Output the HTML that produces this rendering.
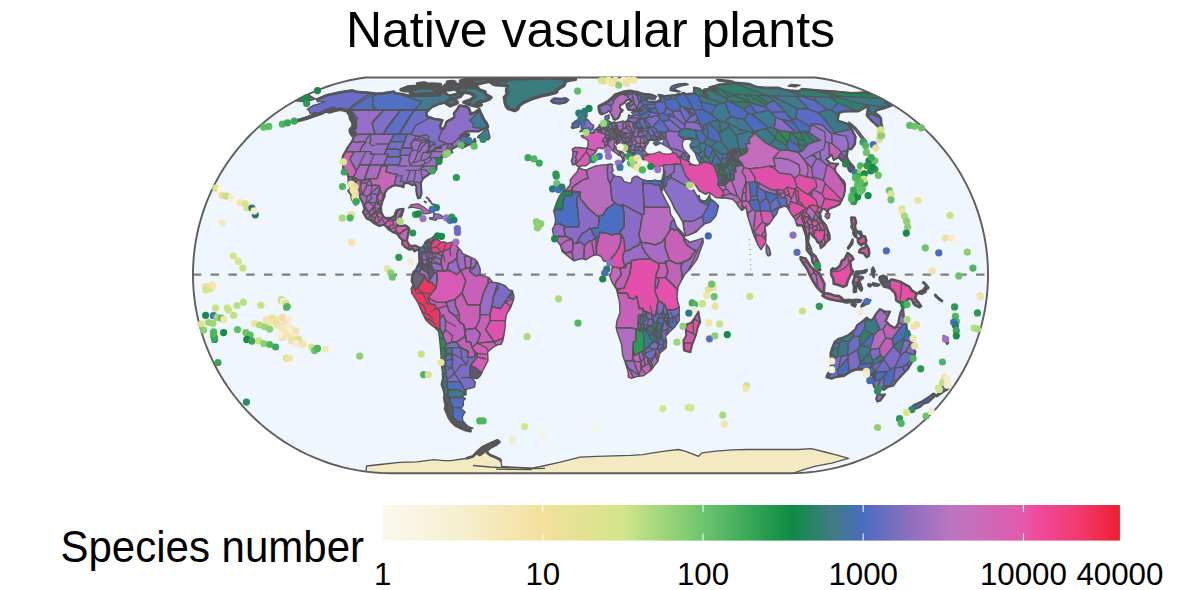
<!DOCTYPE html>
<html><head><meta charset="utf-8"><style>
html,body{margin:0;padding:0;background:#fff;}
body{width:1181px;height:590px;overflow:hidden;position:relative;font-family:"Liberation Sans",sans-serif;}
.t{position:absolute;white-space:nowrap;color:#000;}
</style></head><body>
<svg width="1181" height="590" viewBox="0 0 1181 590" style="position:absolute;left:0;top:0"><defs><clipPath id="mc"><path d="M391.74,473.32 L382.90,473.13 L374.33,472.56 L365.99,471.65 L357.90,470.42 L350.03,468.90 L342.39,467.10 L334.96,465.04 L327.75,462.74 L320.74,460.21 L313.93,457.46 L307.33,454.51 L300.92,451.36 L294.71,448.03 L288.69,444.52 L282.86,440.85 L277.22,437.01 L271.76,433.03 L266.50,428.90 L261.42,424.64 L256.52,420.24 L251.81,415.73 L247.29,411.09 L242.94,406.34 L238.78,401.49 L234.80,396.53 L231.00,391.48 L227.39,386.34 L223.95,381.12 L220.70,375.81 L217.62,370.43 L214.73,364.98 L212.02,359.46 L209.49,353.88 L207.13,348.24 L204.96,342.55 L202.97,336.81 L201.16,331.03 L199.53,325.20 L198.09,319.35 L196.82,313.46 L195.73,307.54 L194.82,301.60 L194.10,295.65 L193.55,289.68 L193.18,283.69 L193.00,277.70 L192.99,271.71 L193.17,265.73 L193.53,259.74 L194.06,253.77 L194.78,247.81 L195.68,241.87 L196.76,235.96 L198.02,230.07 L199.46,224.21 L201.08,218.38 L202.88,212.60 L204.86,206.86 L207.02,201.16 L209.36,195.52 L211.89,189.94 L214.59,184.42 L217.47,178.96 L220.54,173.58 L223.78,168.27 L227.21,163.04 L230.82,157.89 L234.61,152.84 L238.58,147.88 L242.73,143.02 L247.07,138.26 L251.58,133.62 L256.28,129.10 L261.17,124.70 L266.24,120.43 L271.50,116.29 L276.94,112.30 L282.57,108.46 L288.39,104.78 L294.40,101.26 L300.60,97.92 L307.00,94.76 L313.60,91.80 L320.39,89.04 L327.39,86.50 L334.60,84.19 L342.01,82.12 L349.65,80.30 L357.50,78.77 L365.58,77.53 L815.42,77.53 L823.50,78.77 L831.35,80.30 L838.99,82.12 L846.40,84.19 L853.61,86.50 L860.61,89.04 L867.40,91.80 L874.00,94.76 L880.40,97.92 L886.60,101.26 L892.61,104.78 L898.43,108.46 L904.06,112.30 L909.50,116.29 L914.76,120.43 L919.83,124.70 L924.72,129.10 L929.42,133.62 L933.93,138.26 L938.27,143.02 L942.42,147.88 L946.39,152.84 L950.18,157.89 L953.79,163.04 L957.22,168.27 L960.46,173.58 L963.53,178.96 L966.41,184.42 L969.11,189.94 L971.64,195.52 L973.98,201.16 L976.14,206.86 L978.12,212.60 L979.92,218.38 L981.54,224.21 L982.98,230.07 L984.24,235.96 L985.32,241.87 L986.22,247.81 L986.94,253.77 L987.47,259.74 L987.83,265.73 L988.01,271.71 L988.00,277.70 L987.82,283.69 L987.45,289.68 L986.90,295.65 L986.18,301.60 L985.27,307.54 L984.18,313.46 L982.91,319.35 L981.47,325.20 L979.84,331.03 L978.03,336.81 L976.04,342.55 L973.87,348.24 L971.51,353.88 L968.98,359.46 L966.27,364.98 L963.38,370.43 L960.30,375.81 L957.05,381.12 L953.61,386.34 L950.00,391.48 L946.20,396.53 L942.22,401.49 L938.06,406.34 L933.71,411.09 L929.19,415.73 L924.48,420.24 L919.58,424.64 L914.50,428.90 L909.24,433.03 L903.78,437.01 L898.14,440.85 L892.31,444.52 L886.29,448.03 L880.08,451.36 L873.67,454.51 L867.07,457.46 L860.26,460.21 L853.25,462.74 L846.04,465.04 L838.61,467.10 L830.97,468.90 L823.10,470.42 L815.01,471.65 L806.67,472.56 L798.10,473.13 L789.26,473.32Z"/></clipPath><clipPath id="lc"><path d="M316.5,99.8 L326.8,95.3 L337.4,92.9 L346.6,91.4 L352.3,90.6 L356.5,91.9 L362.1,92.2 L371.3,93.1 L376.2,93.9 L383.2,93.4 L393.7,91.7 L395.7,93.4 L402.3,94.2 L409.6,95.8 L419.5,95.4 L428.7,95.8 L435.9,95.0 L446.1,90.4 L445.6,93.4 L449.3,95.8 L457.7,93.7 L463.5,93.4 L460.8,96.6 L455.4,98.6 L451.7,98.2 L444.6,102.6 L439.0,103.9 L431.5,107.3 L426.2,112.6 L426.9,116.3 L433.8,118.9 L442.4,120.2 L440.1,126.2 L440.9,128.9 L444.1,128.4 L446.6,121.7 L454.3,117.4 L453.9,113.2 L457.4,109.2 L459.2,105.6 L465.3,106.3 L468.6,107.9 L470.0,111.2 L470.4,114.0 L475.6,112.2 L479.3,109.4 L480.3,112.2 L482.0,115.3 L483.7,119.5 L486.4,122.8 L488.0,126.8 L483.9,128.7 L478.3,131.5 L472.7,131.2 L466.3,131.5 L463.4,133.6 L460.4,135.5 L468.0,133.8 L469.2,134.8 L467.0,136.7 L466.6,139.1 L467.5,141.1 L470.0,142.1 L473.0,141.8 L474.8,139.1 L475.4,141.6 L472.6,143.3 L467.1,145.3 L462.1,147.8 L462.1,145.3 L466.0,143.3 L461.8,143.5 L459.3,145.3 L456.0,146.6 L452.0,148.8 L451.0,150.6 L452.4,152.4 L450.1,152.9 L446.7,154.2 L443.4,155.3 L441.9,158.4 L440.3,159.8 L439.4,161.4 L436.9,164.6 L436.4,166.2 L436.3,169.7 L433.8,171.4 L430.2,173.6 L425.5,176.6 L422.9,178.6 L420.8,183.1 L421.2,188.8 L421.5,193.7 L420.0,197.8 L418.2,198.3 L416.9,194.3 L416.3,190.2 L416.6,186.8 L414.7,184.2 L412.2,185.1 L408.7,183.1 L406.0,183.1 L403.6,183.7 L403.6,187.1 L401.0,186.2 L398.0,185.7 L395.1,185.1 L392.0,186.2 L387.0,189.4 L384.9,192.8 L384.6,196.0 L382.3,201.6 L381.0,206.9 L381.3,211.9 L383.0,215.8 L385.4,218.2 L391.6,217.6 L394.5,215.8 L396.1,211.0 L398.3,209.5 L403.5,208.9 L402.8,211.9 L400.6,217.9 L399.3,220.9 L397.8,225.7 L400.2,226.0 L405.7,225.4 L409.3,228.4 L408.0,234.5 L407.0,240.6 L408.3,243.7 L410.8,246.1 L415.0,245.5 L420.3,248.0 L419.3,251.4 L418.1,249.2 L414.4,251.4 L413.4,249.2 L409.0,249.5 L404.8,246.8 L402.3,244.3 L402.4,240.3 L399.0,236.6 L397.1,233.6 L392.9,232.1 L389.3,229.9 L385.0,225.4 L382.9,224.8 L379.5,226.0 L373.7,223.0 L370.0,220.0 L366.6,218.5 L365.3,216.1 L363.0,212.2 L364.5,208.9 L363.2,203.9 L361.2,199.8 L359.1,196.3 L358.3,192.8 L356.6,189.9 L355.3,185.4 L354.7,180.6 L352.6,179.4 L351.4,183.7 L353.6,187.9 L354.1,192.8 L355.0,197.2 L356.3,200.7 L355.5,204.8 L353.9,201.6 L351.9,199.5 L350.9,194.3 L348.3,190.8 L351.0,188.2 L348.6,183.4 L348.5,177.2 L347.2,173.9 L346.5,173.0 L343.5,171.9 L343.3,168.4 L343.2,165.9 L343.4,162.7 L342.4,159.8 L343.0,155.8 L345.4,151.7 L347.4,148.1 L352.1,141.1 L354.3,135.7 L353.2,134.3 L351.7,131.9 L351.4,130.1 L354.2,127.3 L354.1,122.1 L351.8,118.4 L350.9,113.8 L348.4,111.2 L344.0,110.0 L340.2,109.2 L335.2,110.2 L328.9,111.8 L327.4,111.2 L333.7,108.2 L326.1,110.6 L321.1,113.2 L315.2,115.3 L307.9,117.8 L300.1,120.0 L292.4,121.5 L298.8,119.5 L305.3,117.4 L314.5,113.6 L316.4,112.8 L309.8,113.2 L309.4,110.8 L307.2,109.2 L313.2,105.4 L320.5,103.5 L324.9,101.7 L317.7,101.7 L316.5,99.8ZM548.9,77.8 L539.5,78.2 L526.2,78.5 L512.3,79.0 L502.6,80.1 L497.7,81.4 L490.4,82.1 L492.0,82.9 L493.0,84.0 L495.3,84.7 L504.1,85.2 L507.3,86.4 L506.7,88.6 L506.6,91.9 L507.6,93.9 L506.1,95.4 L504.3,97.4 L504.8,100.0 L505.0,102.3 L506.4,106.3 L508.3,108.6 L514.6,110.6 L517.5,109.2 L519.4,105.4 L523.3,102.6 L529.2,99.8 L534.0,98.2 L541.3,95.8 L548.0,94.6 L554.8,92.9 L556.6,91.9 L557.3,89.7 L560.1,87.7 L563.7,85.8 L564.9,83.5 L564.6,81.4 L570.5,80.1 L575.4,79.3 L564.6,78.7 L558.6,78.2 L548.9,77.8ZM472.4,87.4 L477.8,87.8 L478.7,89.7 L485.0,91.9 L485.4,94.2 L491.0,97.4 L489.1,99.1 L484.7,100.8 L480.0,101.7 L476.6,103.2 L481.4,104.8 L477.9,106.5 L472.6,105.4 L468.4,104.1 L463.9,102.1 L470.1,100.1 L472.7,98.2 L474.8,96.6 L473.8,95.0 L470.5,93.4 L466.6,92.6 L458.1,91.9 L456.7,90.4 L457.8,88.4 L463.7,87.3 L472.4,87.4ZM432.1,94.2 L426.9,93.4 L417.2,94.8 L410.8,93.7 L410.0,91.2 L411.9,89.0 L421.5,87.8 L432.5,88.4 L435.4,90.4 L435.6,92.6ZM402.8,90.4 L401.0,89.7 L407.4,87.0 L413.8,86.4 L418.9,86.8 L414.9,89.0 L407.6,90.7ZM476.7,84.3 L462.8,84.0 L468.5,82.4 L472.7,81.0 L470.3,79.7 L479.2,78.7 L498.9,78.1 L510.7,78.5 L506.4,79.4 L496.5,80.5 L488.6,81.1 L487.3,81.9 L483.4,82.6 L479.2,83.5ZM473.7,86.4 L456.3,86.3 L452.3,85.2 L460.2,83.9 L473.8,84.3 L476.2,85.1ZM466.3,82.1 L460.5,81.0 L464.6,79.8 L472.0,79.5 L474.3,80.5 L471.7,81.8ZM437.4,86.3 L423.3,86.0 L420.6,85.2 L431.4,84.1 L440.4,84.6ZM449.9,85.8 L445.1,85.2 L448.4,84.1 L452.3,84.4ZM421.8,84.6 L417.5,83.7 L424.2,82.9 L426.7,83.7ZM444.0,89.7 L437.0,90.4 L437.0,88.4 L443.5,87.0 L448.4,87.7ZM450.0,89.7 L447.0,89.7 L450.4,87.3 L456.7,87.0 L454.0,89.0ZM450.7,82.9 L447.4,81.9 L452.6,81.4 L455.0,82.2ZM457.2,103.0 L450.0,105.9 L445.6,103.0 L449.3,100.0 L454.2,99.1 L456.9,101.7ZM438.9,95.1 L434.5,94.8 L437.5,92.9 L441.1,93.2ZM477.5,137.6 L488.4,139.8 L490.1,137.6 L489.0,133.1 L487.7,128.2 L484.1,130.8 L480.5,134.3 L478.6,135.5ZM408.4,208.0 L410.9,204.8 L415.3,204.2 L418.5,203.9 L424.4,207.4 L428.2,210.4 L430.9,212.8 L427.3,213.7 L423.0,214.0 L422.7,211.3 L419.9,208.6 L415.7,208.0 L412.6,207.1ZM433.6,213.7 L439.5,214.3 L442.7,216.4 L442.1,218.5 L436.8,218.8 L435.8,220.3 L429.5,218.8 L429.9,217.6 L433.5,217.6 L433.7,214.6ZM421.2,217.9 L425.5,217.9 L425.5,219.7 L422.0,219.7ZM445.2,217.9 L448.6,218.2 L447.8,219.5 L445.0,219.4ZM356.4,136.0 L356.4,133.1 L354.4,130.8 L351.4,130.1 L351.1,131.9 L353.2,134.3 L354.8,135.5ZM420.3,248.0 L423.6,245.5 L424.9,242.5 L426.5,240.6 L428.1,239.7 L431.7,238.2 L433.6,236.3 L434.3,239.1 L433.7,241.2 L436.5,238.8 L437.1,237.0 L437.6,239.4 L441.3,242.2 L443.8,241.8 L447.8,243.4 L452.3,241.8 L454.5,241.5 L454.8,243.7 L458.6,248.0 L461.7,251.4 L462.3,253.5 L468.8,256.3 L475.2,259.4 L477.5,262.2 L480.1,268.4 L480.1,274.6 L483.4,276.1 L488.9,277.7 L492.7,282.3 L498.9,283.2 L505.5,286.0 L508.9,290.0 L512.4,290.7 L513.9,296.5 L513.7,299.3 L510.9,307.0 L506.3,314.6 L505.5,320.7 L504.8,329.7 L503.7,336.6 L502.6,341.7 L500.7,344.6 L498.2,344.6 L493.5,347.0 L487.6,351.9 L488.0,360.6 L485.7,364.9 L482.8,370.5 L480.7,375.3 L478.0,378.3 L475.6,378.6 L472.1,377.5 L470.9,377.7 L473.8,380.2 L475.3,382.4 L474.6,387.0 L466.1,389.4 L466.0,394.9 L461.7,395.4 L463.7,397.5 L465.4,398.8 L463.3,400.8 L463.4,405.1 L461.0,408.8 L465.1,412.0 L463.0,415.5 L462.3,417.4 L462.8,420.9 L464.6,422.7 L465.4,424.1 L468.2,426.3 L472.9,428.3 L470.7,428.7 L468.4,429.6 L470.2,430.7 L464.7,429.4 L460.2,427.4 L455.3,424.8 L452.1,421.8 L449.1,417.2 L447.1,412.4 L445.5,408.8 L446.2,405.1 L445.0,400.0 L444.5,396.2 L444.0,391.7 L441.5,384.3 L442.9,378.8 L442.6,373.3 L441.4,364.9 L441.1,356.3 L440.3,346.4 L439.2,335.7 L438.5,331.3 L435.8,328.5 L430.3,324.3 L426.0,320.1 L423.3,314.6 L421.7,311.6 L417.8,302.4 L411.8,293.1 L411.2,288.8 L413.3,283.8 L411.9,281.4 L412.1,277.7 L413.6,272.1 L416.1,269.9 L417.4,266.8 L419.7,262.2 L419.2,252.9 L419.3,251.4ZM578.5,168.1 L584.4,169.7 L586.4,170.0 L590.5,168.1 L595.6,165.9 L600.6,165.1 L606.7,164.8 L610.3,164.0 L612.8,164.6 L612.1,167.6 L613.2,170.3 L611.3,173.3 L613.1,174.4 L615.3,176.1 L617.7,176.4 L621.9,177.5 L623.8,181.4 L629.3,183.1 L631.3,182.8 L632.0,180.0 L632.1,178.3 L635.1,176.4 L637.1,176.1 L640.2,178.3 L642.6,179.7 L647.0,180.6 L652.6,180.8 L654.8,180.0 L657.6,180.8 L661.6,180.8 L663.5,185.7 L662.5,190.5 L658.6,184.5 L661.8,192.2 L666.4,201.6 L669.6,207.4 L670.7,214.6 L674.1,219.4 L676.4,226.6 L684.1,234.5 L684.9,238.8 L688.1,240.6 L689.2,242.5 L698.3,239.7 L702.8,238.2 L703.3,242.5 L700.5,249.8 L697.2,259.1 L690.5,268.4 L684.6,274.6 L680.8,281.7 L678.1,286.9 L677.0,295.6 L677.4,300.8 L679.3,307.0 L679.2,320.7 L675.1,326.7 L669.4,332.1 L665.5,336.3 L666.6,341.7 L666.2,347.6 L659.8,353.1 L657.8,361.5 L655.2,364.6 L650.8,370.5 L643.1,375.8 L637.7,376.4 L631.4,378.3 L628.4,377.2 L628.3,375.8 L628.1,371.9 L625.1,362.0 L622.6,355.1 L621.5,344.3 L617.5,332.7 L616.1,327.6 L616.8,321.3 L620.0,312.8 L619.5,301.7 L617.4,293.1 L616.5,289.4 L612.1,282.3 L609.9,276.7 L611.5,271.5 L612.4,265.6 L611.5,262.5 L609.2,260.6 L604.8,261.3 L603.7,261.3 L601.3,256.6 L598.0,254.8 L593.8,255.1 L590.1,257.2 L586.1,259.7 L581.7,258.5 L574.0,260.9 L566.7,255.1 L562.1,251.4 L561.3,248.3 L560.4,245.2 L556.5,240.6 L553.7,236.0 L552.4,229.3 L554.6,225.4 L555.6,220.9 L554.9,215.2 L553.7,211.0 L556.6,202.4 L559.8,195.7 L563.3,190.8 L567.0,188.5 L569.6,185.7 L570.5,183.1 L570.2,180.0 L574.9,174.1 L577.0,172.2 L578.5,168.1ZM698.4,311.6 L700.2,322.2 L697.9,326.7 L695.7,335.7 L692.2,344.6 L690.4,352.2 L684.0,350.5 L683.6,345.8 L683.4,340.2 L686.2,335.7 L685.8,329.7 L687.0,324.3 L691.2,322.8 L695.3,317.0 L697.9,312.5ZM579.1,167.6 L577.7,166.2 L575.5,164.3 L572.5,164.8 L571.4,160.3 L572.8,156.9 L572.9,151.9 L572.3,149.1 L574.9,147.6 L579.2,147.6 L583.1,148.1 L586.8,148.3 L588.2,145.0 L588.2,141.1 L585.7,138.4 L582.3,137.2 L581.4,135.7 L584.8,135.0 L587.7,135.2 L586.9,132.6 L589.9,133.6 L590.7,133.1 L593.3,131.9 L594.8,129.6 L597.0,128.4 L599.0,126.4 L599.3,125.0 L602.4,123.9 L605.6,123.9 L606.5,122.8 L605.0,119.5 L605.2,116.3 L609.2,114.9 L608.8,116.3 L609.4,118.0 L607.7,119.3 L608.4,121.0 L610.1,121.9 L611.4,122.8 L614.0,121.9 L616.3,122.8 L620.4,121.7 L623.5,121.0 L624.4,121.9 L626.3,121.3 L628.3,119.1 L628.4,116.3 L628.7,114.9 L632.9,116.3 L633.4,114.2 L631.5,112.4 L633.4,111.4 L639.0,111.2 L642.8,110.4 L639.4,109.2 L633.5,109.8 L630.2,110.2 L628.3,109.6 L627.1,107.3 L626.4,104.4 L630.9,101.7 L632.0,100.8 L629.9,99.4 L626.7,100.0 L624.2,103.0 L620.1,105.4 L619.9,108.2 L622.8,110.2 L621.9,111.6 L620.2,112.8 L619.8,115.3 L618.3,118.0 L615.5,119.7 L613.6,119.3 L612.7,116.5 L611.5,114.9 L609.8,112.2 L609.0,110.4 L607.4,112.2 L602.8,114.2 L600.5,113.2 L599.7,111.6 L599.1,109.4 L599.0,106.3 L600.6,105.4 L604.7,103.5 L607.8,101.7 L610.8,99.1 L613.5,96.9 L614.9,95.0 L619.9,93.2 L624.4,91.9 L629.9,91.0 L633.6,91.9 L638.5,92.5 L642.0,93.6 L651.2,94.8 L653.5,95.5 L655.9,96.6 L654.5,98.8 L644.2,98.1 L647.8,101.4 L657.3,101.7 L661.1,99.1 L658.7,94.8 L664.4,96.1 L675.1,95.3 L676.4,94.8 L681.9,93.7 L683.7,92.9 L685.8,94.3 L694.5,93.4 L694.0,92.6 L694.4,88.6 L694.1,87.7 L699.7,89.0 L701.9,91.2 L707.5,98.2 L706.6,95.1 L703.8,89.7 L709.0,89.0 L712.1,89.7 L717.5,91.2 L715.9,89.7 L709.4,87.4 L715.2,85.8 L719.1,84.6 L725.3,84.0 L731.3,83.5 L735.8,82.7 L749.4,84.0 L756.7,87.0 L765.2,87.7 L777.8,87.7 L783.3,89.4 L789.6,90.4 L798.6,91.2 L802.1,89.0 L818.5,90.4 L836.2,91.6 L851.4,93.1 L863.1,92.6 L873.1,94.3 L885.8,100.8 L884.7,102.1 L891.9,105.4 L884.4,108.2 L876.9,110.2 L874.3,112.2 L879.4,116.3 L881.0,118.4 L881.3,122.8 L882.0,126.2 L881.9,129.6 L879.0,127.3 L871.4,120.6 L866.7,115.3 L867.4,112.2 L868.0,106.9 L868.3,105.4 L863.9,108.2 L858.3,111.2 L850.5,111.2 L842.3,111.6 L838.9,113.2 L837.5,120.6 L847.8,123.9 L851.8,129.6 L855.5,136.7 L854.9,144.0 L851.3,149.1 L849.0,148.8 L847.5,150.4 L846.7,156.9 L848.4,160.8 L854.0,167.6 L854.1,170.0 L850.7,171.7 L849.1,170.8 L847.9,167.6 L846.2,163.5 L841.7,160.8 L838.6,157.4 L833.7,160.0 L831.6,154.5 L829.1,157.1 L826.3,159.2 L830.6,163.2 L833.9,163.5 L838.3,163.8 L835.2,167.3 L835.4,171.7 L841.1,178.6 L843.6,180.8 L845.2,184.2 L845.0,189.9 L843.8,195.7 L841.8,200.1 L839.5,204.5 L835.1,206.6 L828.8,208.9 L827.8,212.5 L824.7,208.9 L822.3,208.9 L820.0,213.4 L821.1,219.4 L826.0,225.4 L829.4,234.5 L829.7,239.1 L826.3,242.2 L824.4,245.2 L820.9,248.0 L819.9,243.7 L817.5,242.2 L816.1,239.1 L812.5,236.0 L810.9,233.3 L809.1,233.0 L809.0,236.0 L808.1,242.2 L810.8,248.3 L811.8,253.2 L815.5,256.0 L818.6,262.2 L819.7,266.8 L820.4,270.5 L818.8,269.9 L815.5,266.8 L812.5,262.2 L811.5,256.0 L806.7,249.8 L806.7,243.7 L806.2,236.0 L802.7,225.4 L797.0,225.4 L795.1,219.4 L790.9,213.4 L787.3,207.4 L784.2,206.0 L781.3,207.4 L778.3,208.6 L776.9,213.4 L772.4,219.4 L769.3,223.9 L765.0,226.9 L766.0,234.5 L765.6,242.8 L761.0,249.5 L758.1,245.2 L754.1,236.0 L751.1,226.9 L747.8,216.4 L746.5,210.4 L746.0,206.6 L742.0,210.4 L738.2,206.0 L736.2,202.7 L732.7,199.2 L724.2,197.8 L721.3,198.0 L715.7,197.5 L711.4,194.0 L708.7,192.5 L705.7,194.3 L698.9,190.5 L696.4,186.2 L692.6,184.2 L691.0,186.2 L694.4,191.4 L696.5,195.1 L698.3,197.2 L699.1,195.4 L700.1,199.8 L703.4,201.0 L706.5,200.1 L707.9,197.8 L709.6,194.8 L710.3,198.6 L715.5,202.7 L718.5,206.0 L717.0,211.9 L715.4,216.4 L709.8,222.4 L704.5,223.9 L699.4,228.4 L696.4,231.8 L688.9,235.1 L685.6,235.7 L683.7,228.4 L682.9,222.4 L679.5,216.4 L674.6,208.9 L671.5,201.6 L668.0,195.7 L664.5,189.9 L663.6,185.7 L661.7,180.6 L662.8,176.4 L663.6,173.0 L663.5,168.9 L663.3,167.0 L663.5,165.4 L660.7,165.9 L657.4,167.3 L652.6,166.2 L649.3,165.7 L646.2,164.8 L643.8,160.8 L642.7,158.2 L643.4,155.8 L642.6,155.3 L640.1,154.5 L636.0,155.3 L636.9,158.7 L638.7,160.8 L638.3,162.4 L637.2,163.5 L637.2,166.5 L635.9,165.4 L634.5,165.7 L633.5,163.2 L634.2,161.4 L632.0,160.0 L630.9,157.9 L629.1,155.5 L629.1,152.9 L628.1,151.4 L625.9,149.9 L622.6,147.8 L620.1,146.0 L618.1,143.3 L617.5,144.5 L616.9,142.5 L614.5,143.0 L614.4,145.3 L616.9,147.6 L618.4,150.4 L622.3,151.9 L624.2,154.0 L626.3,155.5 L627.4,157.4 L624.7,155.5 L623.6,157.1 L624.8,159.5 L623.0,162.4 L621.9,161.6 L622.8,159.5 L621.2,156.3 L618.9,155.3 L615.8,152.9 L612.5,150.6 L610.6,147.8 L607.8,145.5 L605.1,147.1 L602.3,148.8 L601.1,148.3 L599.3,147.8 L597.4,148.3 L596.6,150.4 L594.9,153.2 L592.3,155.0 L589.9,158.2 L590.9,160.0 L589.1,163.2 L586.0,165.7 L581.6,165.7 L579.5,167.3 L579.1,167.6ZM307.9,94.3 L311.2,96.6 L315.4,98.9 L306.0,101.7 L301.1,101.2 L295.2,100.8ZM558.8,103.7 L553.0,102.6 L551.1,100.8 L554.1,98.4 L561.3,98.9 L565.5,98.2 L568.3,100.0 L565.7,102.3 L560.5,103.5ZM579.8,131.7 L584.0,130.5 L587.7,130.3 L591.1,130.1 L593.1,129.4 L592.0,128.4 L593.5,127.3 L593.6,125.3 L590.9,123.9 L589.4,121.7 L586.9,118.9 L585.1,118.4 L585.9,117.4 L587.3,115.3 L584.3,114.9 L585.3,113.0 L581.8,113.0 L580.3,115.3 L579.5,117.4 L580.4,119.5 L581.5,121.0 L584.2,121.5 L585.0,123.9 L582.1,124.4 L582.1,125.5 L580.9,128.0 L583.1,128.2 L584.9,128.7 L582.7,129.1 L579.8,131.7ZM572.3,128.4 L578.7,127.1 L579.4,124.4 L579.2,122.8 L579.5,120.2 L577.4,120.0 L574.8,121.5 L572.1,123.9 L572.7,125.9 L571.3,127.1ZM615.7,161.6 L621.9,161.4 L621.5,164.8 L621.1,165.7 L616.8,164.6 L615.5,163.0ZM638.7,169.5 L639.9,168.9 L644.2,169.5 L644.1,170.3 L641.0,170.6 L638.5,169.7ZM766.6,244.3 L769.3,248.3 L770.7,254.5 L768.1,256.0 L766.4,252.9 L766.2,248.3ZM827.9,213.1 L829.8,214.0 L829.2,217.6 L827.5,218.8 L825.1,216.4 L825.9,213.7ZM848.8,122.1 L853.8,126.2 L856.4,128.4 L860.8,134.3 L866.7,141.6 L863.1,140.8 L860.2,136.7 L854.8,129.6 L850.1,125.0ZM679.0,91.9 L670.3,90.4 L670.2,88.4 L671.5,86.4 L674.0,85.2 L678.5,84.0 L685.6,83.5 L688.1,84.4 L681.8,85.8 L675.6,87.7 L675.1,89.7 L680.2,91.4ZM728.1,82.2 L719.2,81.0 L716.6,79.7 L719.5,79.5 L728.9,80.5 L733.6,81.6ZM788.3,86.0 L789.9,85.2 L791.4,84.4 L800.0,85.2 L797.0,86.0 L795.8,86.8ZM315.9,91.2 L319.9,90.4 L319.6,90.9 L316.3,91.3ZM863.9,91.3 L864.1,90.4 L865.9,91.2ZM800.6,257.2 L805.5,258.5 L807.8,262.2 L810.8,266.8 L814.6,269.9 L819.1,273.0 L821.3,277.7 L824.5,283.8 L823.7,292.8 L821.1,291.6 L816.6,286.9 L812.8,280.8 L809.6,274.6 L806.9,268.4 L803.5,263.7 L800.6,259.1ZM824.3,293.1 L829.6,293.7 L834.9,295.9 L838.7,295.9 L842.2,298.4 L842.0,301.4 L834.6,300.2 L828.1,298.7 L824.7,297.1 L822.4,295.6ZM847.7,252.9 L851.6,256.0 L853.4,259.1 L850.4,261.6 L851.0,268.4 L853.3,271.5 L850.7,274.6 L847.7,280.8 L846.5,285.4 L843.3,286.9 L837.7,284.8 L833.7,283.8 L833.4,279.2 L831.2,274.6 L831.2,269.9 L832.7,268.4 L835.6,269.3 L839.9,265.9 L842.0,260.6 L844.8,259.1 L846.1,256.0ZM866.7,269.9 L864.3,270.8 L861.0,271.5 L857.7,271.5 L856.2,271.8 L855.1,274.6 L854.4,277.7 L852.8,282.6 L854.0,285.7 L853.9,291.9 L855.9,291.6 L856.1,286.9 L857.4,282.6 L858.0,285.4 L860.0,289.4 L861.3,290.7 L862.0,288.5 L860.8,285.4 L860.0,283.2 L858.6,280.1 L861.0,279.5 L863.0,277.7 L861.0,276.7 L858.8,277.3 L856.8,276.4 L856.2,274.6 L858.8,273.3 L862.1,273.0 L865.0,272.4 L866.5,270.8ZM879.8,277.0 L883.1,275.8 L886.6,277.3 L887.0,282.3 L891.9,279.5 L894.1,280.1 L901.1,282.0 L905.0,284.5 L909.3,286.6 L912.0,290.7 L916.0,293.1 L916.3,295.0 L915.1,298.1 L916.4,300.2 L918.4,302.4 L921.0,306.0 L919.5,307.3 L915.4,305.4 L913.8,303.9 L911.7,299.3 L908.4,298.7 L905.2,302.4 L900.3,303.0 L896.2,300.5 L896.0,297.1 L895.0,293.1 L890.5,288.5 L886.1,286.9 L884.0,286.6 L881.7,283.2 L879.6,279.2ZM924.7,287.6 L926.4,288.5 L925.6,291.6 L922.1,293.7 L917.7,293.1 L920.1,291.6 L923.5,290.0ZM923.2,282.6 L924.9,283.8 L927.8,288.5 L928.3,287.6 L925.8,284.5 L923.4,282.3ZM935.2,294.7 L937.2,297.1 L941.3,300.2 L942.1,301.1 L939.2,299.3 L935.8,296.2ZM842.4,299.6 L845.0,300.2 L843.7,301.7 L846.1,300.2 L846.6,302.1 L847.8,299.9 L852.2,300.2 L855.5,299.9 L861.0,300.2 L859.8,301.7 L855.3,302.1 L852.1,301.7 L847.6,302.4 L844.4,302.1ZM870.2,300.2 L865.3,300.8 L863.4,303.0 L861.5,306.4 L863.8,305.4 L868.5,302.4ZM851.9,303.9 L855.8,304.5 L854.9,306.4 L851.8,304.8ZM873.1,267.7 L874.7,271.5 L873.0,273.6 L873.8,277.0 L872.1,273.0 L872.0,269.9ZM873.1,283.2 L879.2,284.8 L877.4,285.7 L873.4,285.1ZM868.6,284.2 L871.2,284.8 L870.3,286.3 L868.5,285.7ZM851.3,217.6 L854.8,217.9 L856.1,222.4 L854.9,225.4 L855.5,229.3 L857.4,231.5 L860.9,231.8 L861.9,235.7 L859.8,234.5 L858.6,232.1 L856.0,232.7 L853.7,231.5 L853.4,229.9 L851.4,226.9 L852.1,224.5 L851.5,220.9ZM866.0,244.3 L868.4,248.3 L869.3,252.9 L868.6,256.0 L866.7,257.2 L863.6,253.2 L859.1,252.3 L860.0,249.8 L862.1,248.3 L864.8,247.4 L866.0,246.1ZM862.4,236.0 L865.1,236.6 L866.3,240.6 L865.3,243.7 L862.7,243.7 L861.1,245.2 L859.4,243.7 L858.1,242.2 L857.7,238.2 L859.9,238.8 L861.4,236.3ZM852.6,239.7 L852.2,243.7 L848.2,248.6 L848.1,247.7 L851.2,243.1ZM853.2,233.0 L855.9,233.6 L856.4,237.0 L854.8,236.3ZM943.8,336.0 L948.0,342.6 L947.1,343.7 L944.3,338.7ZM903.0,307.6 L903.9,317.7 L905.6,319.2 L906.5,325.2 L907.4,333.6 L910.9,335.7 L912.7,343.2 L914.0,349.0 L915.3,351.9 L913.4,359.7 L907.8,369.1 L901.3,375.8 L897.3,380.2 L893.3,385.6 L887.7,387.0 L883.8,389.9 L881.6,387.8 L878.5,389.1 L874.2,387.0 L873.4,384.3 L872.0,380.5 L873.8,378.6 L873.8,376.6 L871.3,379.4 L873.2,375.8 L875.3,371.9 L869.8,376.1 L867.8,378.6 L867.3,374.7 L866.0,370.5 L862.3,369.4 L855.9,369.7 L851.2,371.4 L844.2,375.8 L835.5,377.2 L831.5,378.8 L826.4,377.2 L827.2,374.7 L830.1,370.5 L831.1,363.5 L830.8,358.3 L830.5,353.4 L831.8,349.0 L834.7,341.7 L838.8,338.7 L843.4,337.2 L848.1,335.4 L855.1,329.7 L857.2,325.2 L861.4,322.2 L866.5,317.7 L870.5,320.4 L872.8,319.2 L876.6,313.1 L879.8,309.1 L884.9,311.6 L890.0,311.6 L888.0,316.1 L885.7,320.7 L889.8,325.2 L895.0,328.2 L898.1,323.7 L899.5,316.1 L900.9,311.6 L903.0,307.6ZM877.9,394.1 L881.6,394.9 L884.9,394.4 L880.3,400.5 L877.5,401.6 L876.2,398.8ZM944.5,377.2 L946.3,379.7 L945.2,383.7 L946.0,385.6 L950.7,386.2 L947.1,389.6 L944.2,391.2 L936.8,396.4 L936.4,395.7 L939.7,392.3 L938.5,390.2 L942.3,387.0 L943.7,382.9 L944.2,378.8ZM933.9,393.6 L935.8,395.1 L932.3,398.5 L928.3,402.1 L923.5,403.6 L919.3,407.3 L914.5,409.0 L910.6,408.1 L914.0,405.1 L922.4,401.3 L929.1,397.0 L932.2,394.4Z"/></clipPath></defs><path d="M391.74,473.32 L382.90,473.13 L374.33,472.56 L365.99,471.65 L357.90,470.42 L350.03,468.90 L342.39,467.10 L334.96,465.04 L327.75,462.74 L320.74,460.21 L313.93,457.46 L307.33,454.51 L300.92,451.36 L294.71,448.03 L288.69,444.52 L282.86,440.85 L277.22,437.01 L271.76,433.03 L266.50,428.90 L261.42,424.64 L256.52,420.24 L251.81,415.73 L247.29,411.09 L242.94,406.34 L238.78,401.49 L234.80,396.53 L231.00,391.48 L227.39,386.34 L223.95,381.12 L220.70,375.81 L217.62,370.43 L214.73,364.98 L212.02,359.46 L209.49,353.88 L207.13,348.24 L204.96,342.55 L202.97,336.81 L201.16,331.03 L199.53,325.20 L198.09,319.35 L196.82,313.46 L195.73,307.54 L194.82,301.60 L194.10,295.65 L193.55,289.68 L193.18,283.69 L193.00,277.70 L192.99,271.71 L193.17,265.73 L193.53,259.74 L194.06,253.77 L194.78,247.81 L195.68,241.87 L196.76,235.96 L198.02,230.07 L199.46,224.21 L201.08,218.38 L202.88,212.60 L204.86,206.86 L207.02,201.16 L209.36,195.52 L211.89,189.94 L214.59,184.42 L217.47,178.96 L220.54,173.58 L223.78,168.27 L227.21,163.04 L230.82,157.89 L234.61,152.84 L238.58,147.88 L242.73,143.02 L247.07,138.26 L251.58,133.62 L256.28,129.10 L261.17,124.70 L266.24,120.43 L271.50,116.29 L276.94,112.30 L282.57,108.46 L288.39,104.78 L294.40,101.26 L300.60,97.92 L307.00,94.76 L313.60,91.80 L320.39,89.04 L327.39,86.50 L334.60,84.19 L342.01,82.12 L349.65,80.30 L357.50,78.77 L365.58,77.53 L815.42,77.53 L823.50,78.77 L831.35,80.30 L838.99,82.12 L846.40,84.19 L853.61,86.50 L860.61,89.04 L867.40,91.80 L874.00,94.76 L880.40,97.92 L886.60,101.26 L892.61,104.78 L898.43,108.46 L904.06,112.30 L909.50,116.29 L914.76,120.43 L919.83,124.70 L924.72,129.10 L929.42,133.62 L933.93,138.26 L938.27,143.02 L942.42,147.88 L946.39,152.84 L950.18,157.89 L953.79,163.04 L957.22,168.27 L960.46,173.58 L963.53,178.96 L966.41,184.42 L969.11,189.94 L971.64,195.52 L973.98,201.16 L976.14,206.86 L978.12,212.60 L979.92,218.38 L981.54,224.21 L982.98,230.07 L984.24,235.96 L985.32,241.87 L986.22,247.81 L986.94,253.77 L987.47,259.74 L987.83,265.73 L988.01,271.71 L988.00,277.70 L987.82,283.69 L987.45,289.68 L986.90,295.65 L986.18,301.60 L985.27,307.54 L984.18,313.46 L982.91,319.35 L981.47,325.20 L979.84,331.03 L978.03,336.81 L976.04,342.55 L973.87,348.24 L971.51,353.88 L968.98,359.46 L966.27,364.98 L963.38,370.43 L960.30,375.81 L957.05,381.12 L953.61,386.34 L950.00,391.48 L946.20,396.53 L942.22,401.49 L938.06,406.34 L933.71,411.09 L929.19,415.73 L924.48,420.24 L919.58,424.64 L914.50,428.90 L909.24,433.03 L903.78,437.01 L898.14,440.85 L892.31,444.52 L886.29,448.03 L880.08,451.36 L873.67,454.51 L867.07,457.46 L860.26,460.21 L853.25,462.74 L846.04,465.04 L838.61,467.10 L830.97,468.90 L823.10,470.42 L815.01,471.65 L806.67,472.56 L798.10,473.13 L789.26,473.32Z" fill="#eff6fd"/><line x1="192.8" y1="274.56" x2="989" y2="274.56" stroke="#7f7f7f" stroke-width="2.3" stroke-dasharray="8.5,9.3" clip-path="url(#mc)"/><g clip-path="url(#mc)"><g stroke="none"><path d="M316.5,99.8 L326.8,95.3 L337.4,92.9 L346.6,91.4 L352.3,90.6 L356.5,91.9 L362.1,92.2 L371.3,93.1 L376.2,93.9 L383.2,93.4 L393.7,91.7 L395.7,93.4 L402.3,94.2 L409.6,95.8 L419.5,95.4 L428.7,95.8 L435.9,95.0 L446.1,90.4 L445.6,93.4 L449.3,95.8 L457.7,93.7 L463.5,93.4 L460.8,96.6 L455.4,98.6 L451.7,98.2 L444.6,102.6 L439.0,103.9 L431.5,107.3 L426.2,112.6 L426.9,116.3 L433.8,118.9 L442.4,120.2 L440.1,126.2 L440.9,128.9 L444.1,128.4 L446.6,121.7 L454.3,117.4 L453.9,113.2 L457.4,109.2 L459.2,105.6 L465.3,106.3 L468.6,107.9 L470.0,111.2 L470.4,114.0 L475.6,112.2 L479.3,109.4 L480.3,112.2 L482.0,115.3 L483.7,119.5 L486.4,122.8 L488.0,126.8 L483.9,128.7 L478.3,131.5 L472.7,131.2 L466.3,131.5 L463.4,133.6 L460.4,135.5 L468.0,133.8 L469.2,134.8 L467.0,136.7 L466.6,139.1 L467.5,141.1 L470.0,142.1 L473.0,141.8 L474.8,139.1 L475.4,141.6 L472.6,143.3 L467.1,145.3 L462.1,147.8 L462.1,145.3 L466.0,143.3 L461.8,143.5 L459.3,145.3 L456.0,146.6 L452.0,148.8 L451.0,150.6 L452.4,152.4 L450.1,152.9 L446.7,154.2 L443.4,155.3 L441.9,158.4 L440.3,159.8 L439.4,161.4 L436.9,164.6 L436.4,166.2 L436.3,169.7 L433.8,171.4 L430.2,173.6 L425.5,176.6 L422.9,178.6 L420.8,183.1 L421.2,188.8 L421.5,193.7 L420.0,197.8 L418.2,198.3 L416.9,194.3 L416.3,190.2 L416.6,186.8 L414.7,184.2 L412.2,185.1 L408.7,183.1 L406.0,183.1 L403.6,183.7 L403.6,187.1 L401.0,186.2 L398.0,185.7 L395.1,185.1 L392.0,186.2 L387.0,189.4 L384.9,192.8 L384.6,196.0 L382.3,201.6 L381.0,206.9 L381.3,211.9 L383.0,215.8 L385.4,218.2 L391.6,217.6 L394.5,215.8 L396.1,211.0 L398.3,209.5 L403.5,208.9 L402.8,211.9 L400.6,217.9 L399.3,220.9 L397.8,225.7 L400.2,226.0 L405.7,225.4 L409.3,228.4 L408.0,234.5 L407.0,240.6 L408.3,243.7 L410.8,246.1 L415.0,245.5 L420.3,248.0 L419.3,251.4 L418.1,249.2 L414.4,251.4 L413.4,249.2 L409.0,249.5 L404.8,246.8 L402.3,244.3 L402.4,240.3 L399.0,236.6 L397.1,233.6 L392.9,232.1 L389.3,229.9 L385.0,225.4 L382.9,224.8 L379.5,226.0 L373.7,223.0 L370.0,220.0 L366.6,218.5 L365.3,216.1 L363.0,212.2 L364.5,208.9 L363.2,203.9 L361.2,199.8 L359.1,196.3 L358.3,192.8 L356.6,189.9 L355.3,185.4 L354.7,180.6 L352.6,179.4 L351.4,183.7 L353.6,187.9 L354.1,192.8 L355.0,197.2 L356.3,200.7 L355.5,204.8 L353.9,201.6 L351.9,199.5 L350.9,194.3 L348.3,190.8 L351.0,188.2 L348.6,183.4 L348.5,177.2 L347.2,173.9 L346.5,173.0 L343.5,171.9 L343.3,168.4 L343.2,165.9 L343.4,162.7 L342.4,159.8 L343.0,155.8 L345.4,151.7 L347.4,148.1 L352.1,141.1 L354.3,135.7 L353.2,134.3 L351.7,131.9 L351.4,130.1 L354.2,127.3 L354.1,122.1 L351.8,118.4 L350.9,113.8 L348.4,111.2 L344.0,110.0 L340.2,109.2 L335.2,110.2 L328.9,111.8 L327.4,111.2 L333.7,108.2 L326.1,110.6 L321.1,113.2 L315.2,115.3 L307.9,117.8 L300.1,120.0 L292.4,121.5 L298.8,119.5 L305.3,117.4 L314.5,113.6 L316.4,112.8 L309.8,113.2 L309.4,110.8 L307.2,109.2 L313.2,105.4 L320.5,103.5 L324.9,101.7 L317.7,101.7 L316.5,99.8Z" fill="#9a6fc6"/><path d="M548.9,77.8 L539.5,78.2 L526.2,78.5 L512.3,79.0 L502.6,80.1 L497.7,81.4 L490.4,82.1 L492.0,82.9 L493.0,84.0 L495.3,84.7 L504.1,85.2 L507.3,86.4 L506.7,88.6 L506.6,91.9 L507.6,93.9 L506.1,95.4 L504.3,97.4 L504.8,100.0 L505.0,102.3 L506.4,106.3 L508.3,108.6 L514.6,110.6 L517.5,109.2 L519.4,105.4 L523.3,102.6 L529.2,99.8 L534.0,98.2 L541.3,95.8 L548.0,94.6 L554.8,92.9 L556.6,91.9 L557.3,89.7 L560.1,87.7 L563.7,85.8 L564.9,83.5 L564.6,81.4 L570.5,80.1 L575.4,79.3 L564.6,78.7 L558.6,78.2 L548.9,77.8Z" fill="#3b7c7e"/><path d="M472.4,87.4 L477.8,87.8 L478.7,89.7 L485.0,91.9 L485.4,94.2 L491.0,97.4 L489.1,99.1 L484.7,100.8 L480.0,101.7 L476.6,103.2 L481.4,104.8 L477.9,106.5 L472.6,105.4 L468.4,104.1 L463.9,102.1 L470.1,100.1 L472.7,98.2 L474.8,96.6 L473.8,95.0 L470.5,93.4 L466.6,92.6 L458.1,91.9 L456.7,90.4 L457.8,88.4 L463.7,87.3 L472.4,87.4Z" fill="#3e7c8e"/><path d="M432.1,94.2 L426.9,93.4 L417.2,94.8 L410.8,93.7 L410.0,91.2 L411.9,89.0 L421.5,87.8 L432.5,88.4 L435.4,90.4 L435.6,92.6Z" fill="#3e7c8e"/><path d="M402.8,90.4 L401.0,89.7 L407.4,87.0 L413.8,86.4 L418.9,86.8 L414.9,89.0 L407.6,90.7Z" fill="#3e7c8e"/><path d="M476.7,84.3 L462.8,84.0 L468.5,82.4 L472.7,81.0 L470.3,79.7 L479.2,78.7 L498.9,78.1 L510.7,78.5 L506.4,79.4 L496.5,80.5 L488.6,81.1 L487.3,81.9 L483.4,82.6 L479.2,83.5Z" fill="#3e7c8e"/><path d="M473.7,86.4 L456.3,86.3 L452.3,85.2 L460.2,83.9 L473.8,84.3 L476.2,85.1Z" fill="#3e7c8e"/><path d="M466.3,82.1 L460.5,81.0 L464.6,79.8 L472.0,79.5 L474.3,80.5 L471.7,81.8Z" fill="#3e7c8e"/><path d="M437.4,86.3 L423.3,86.0 L420.6,85.2 L431.4,84.1 L440.4,84.6Z" fill="#3e7c8e"/><path d="M449.9,85.8 L445.1,85.2 L448.4,84.1 L452.3,84.4Z" fill="#3e7c8e"/><path d="M421.8,84.6 L417.5,83.7 L424.2,82.9 L426.7,83.7Z" fill="#3e7c8e"/><path d="M444.0,89.7 L437.0,90.4 L437.0,88.4 L443.5,87.0 L448.4,87.7Z" fill="#3e7c8e"/><path d="M450.0,89.7 L447.0,89.7 L450.4,87.3 L456.7,87.0 L454.0,89.0Z" fill="#3e7c8e"/><path d="M450.7,82.9 L447.4,81.9 L452.6,81.4 L455.0,82.2Z" fill="#3e7c8e"/><path d="M457.2,103.0 L450.0,105.9 L445.6,103.0 L449.3,100.0 L454.2,99.1 L456.9,101.7Z" fill="#3e7c8e"/><path d="M438.9,95.1 L434.5,94.8 L437.5,92.9 L441.1,93.2Z" fill="#3e7c8e"/><path d="M477.5,137.6 L488.4,139.8 L490.1,137.6 L489.0,133.1 L487.7,128.2 L484.1,130.8 L480.5,134.3 L478.6,135.5Z" fill="#9a6fc6"/><path d="M408.4,208.0 L410.9,204.8 L415.3,204.2 L418.5,203.9 L424.4,207.4 L428.2,210.4 L430.9,212.8 L427.3,213.7 L423.0,214.0 L422.7,211.3 L419.9,208.6 L415.7,208.0 L412.6,207.1Z" fill="#9a6fc6"/><path d="M433.6,213.7 L439.5,214.3 L442.7,216.4 L442.1,218.5 L436.8,218.8 L435.8,220.3 L429.5,218.8 L429.9,217.6 L433.5,217.6 L433.7,214.6Z" fill="#9a6fc6"/><path d="M421.2,217.9 L425.5,217.9 L425.5,219.7 L422.0,219.7Z" fill="#9a6fc6"/><path d="M445.2,217.9 L448.6,218.2 L447.8,219.5 L445.0,219.4Z" fill="#9a6fc6"/><path d="M356.4,136.0 L356.4,133.1 L354.4,130.8 L351.4,130.1 L351.1,131.9 L353.2,134.3 L354.8,135.5Z" fill="#9a6fc6"/><path d="M420.3,248.0 L423.6,245.5 L424.9,242.5 L426.5,240.6 L428.1,239.7 L431.7,238.2 L433.6,236.3 L434.3,239.1 L433.7,241.2 L436.5,238.8 L437.1,237.0 L437.6,239.4 L441.3,242.2 L443.8,241.8 L447.8,243.4 L452.3,241.8 L454.5,241.5 L454.8,243.7 L458.6,248.0 L461.7,251.4 L462.3,253.5 L468.8,256.3 L475.2,259.4 L477.5,262.2 L480.1,268.4 L480.1,274.6 L483.4,276.1 L488.9,277.7 L492.7,282.3 L498.9,283.2 L505.5,286.0 L508.9,290.0 L512.4,290.7 L513.9,296.5 L513.7,299.3 L510.9,307.0 L506.3,314.6 L505.5,320.7 L504.8,329.7 L503.7,336.6 L502.6,341.7 L500.7,344.6 L498.2,344.6 L493.5,347.0 L487.6,351.9 L488.0,360.6 L485.7,364.9 L482.8,370.5 L480.7,375.3 L478.0,378.3 L475.6,378.6 L472.1,377.5 L470.9,377.7 L473.8,380.2 L475.3,382.4 L474.6,387.0 L466.1,389.4 L466.0,394.9 L461.7,395.4 L463.7,397.5 L465.4,398.8 L463.3,400.8 L463.4,405.1 L461.0,408.8 L465.1,412.0 L463.0,415.5 L462.3,417.4 L462.8,420.9 L464.6,422.7 L465.4,424.1 L468.2,426.3 L472.9,428.3 L470.7,428.7 L468.4,429.6 L470.2,430.7 L464.7,429.4 L460.2,427.4 L455.3,424.8 L452.1,421.8 L449.1,417.2 L447.1,412.4 L445.5,408.8 L446.2,405.1 L445.0,400.0 L444.5,396.2 L444.0,391.7 L441.5,384.3 L442.9,378.8 L442.6,373.3 L441.4,364.9 L441.1,356.3 L440.3,346.4 L439.2,335.7 L438.5,331.3 L435.8,328.5 L430.3,324.3 L426.0,320.1 L423.3,314.6 L421.7,311.6 L417.8,302.4 L411.8,293.1 L411.2,288.8 L413.3,283.8 L411.9,281.4 L412.1,277.7 L413.6,272.1 L416.1,269.9 L417.4,266.8 L419.7,262.2 L419.2,252.9 L419.3,251.4Z" fill="#c060b8"/><path d="M578.5,168.1 L584.4,169.7 L586.4,170.0 L590.5,168.1 L595.6,165.9 L600.6,165.1 L606.7,164.8 L610.3,164.0 L612.8,164.6 L612.1,167.6 L613.2,170.3 L611.3,173.3 L613.1,174.4 L615.3,176.1 L617.7,176.4 L621.9,177.5 L623.8,181.4 L629.3,183.1 L631.3,182.8 L632.0,180.0 L632.1,178.3 L635.1,176.4 L637.1,176.1 L640.2,178.3 L642.6,179.7 L647.0,180.6 L652.6,180.8 L654.8,180.0 L657.6,180.8 L661.6,180.8 L663.5,185.7 L662.5,190.5 L658.6,184.5 L661.8,192.2 L666.4,201.6 L669.6,207.4 L670.7,214.6 L674.1,219.4 L676.4,226.6 L684.1,234.5 L684.9,238.8 L688.1,240.6 L689.2,242.5 L698.3,239.7 L702.8,238.2 L703.3,242.5 L700.5,249.8 L697.2,259.1 L690.5,268.4 L684.6,274.6 L680.8,281.7 L678.1,286.9 L677.0,295.6 L677.4,300.8 L679.3,307.0 L679.2,320.7 L675.1,326.7 L669.4,332.1 L665.5,336.3 L666.6,341.7 L666.2,347.6 L659.8,353.1 L657.8,361.5 L655.2,364.6 L650.8,370.5 L643.1,375.8 L637.7,376.4 L631.4,378.3 L628.4,377.2 L628.3,375.8 L628.1,371.9 L625.1,362.0 L622.6,355.1 L621.5,344.3 L617.5,332.7 L616.1,327.6 L616.8,321.3 L620.0,312.8 L619.5,301.7 L617.4,293.1 L616.5,289.4 L612.1,282.3 L609.9,276.7 L611.5,271.5 L612.4,265.6 L611.5,262.5 L609.2,260.6 L604.8,261.3 L603.7,261.3 L601.3,256.6 L598.0,254.8 L593.8,255.1 L590.1,257.2 L586.1,259.7 L581.7,258.5 L574.0,260.9 L566.7,255.1 L562.1,251.4 L561.3,248.3 L560.4,245.2 L556.5,240.6 L553.7,236.0 L552.4,229.3 L554.6,225.4 L555.6,220.9 L554.9,215.2 L553.7,211.0 L556.6,202.4 L559.8,195.7 L563.3,190.8 L567.0,188.5 L569.6,185.7 L570.5,183.1 L570.2,180.0 L574.9,174.1 L577.0,172.2 L578.5,168.1Z" fill="#b46cc0"/><path d="M698.4,311.6 L700.2,322.2 L697.9,326.7 L695.7,335.7 L692.2,344.6 L690.4,352.2 L684.0,350.5 L683.6,345.8 L683.4,340.2 L686.2,335.7 L685.8,329.7 L687.0,324.3 L691.2,322.8 L695.3,317.0 L697.9,312.5Z" fill="#e24aa4"/><path d="M579.1,167.6 L577.7,166.2 L575.5,164.3 L572.5,164.8 L571.4,160.3 L572.8,156.9 L572.9,151.9 L572.3,149.1 L574.9,147.6 L579.2,147.6 L583.1,148.1 L586.8,148.3 L588.2,145.0 L588.2,141.1 L585.7,138.4 L582.3,137.2 L581.4,135.7 L584.8,135.0 L587.7,135.2 L586.9,132.6 L589.9,133.6 L590.7,133.1 L593.3,131.9 L594.8,129.6 L597.0,128.4 L599.0,126.4 L599.3,125.0 L602.4,123.9 L605.6,123.9 L606.5,122.8 L605.0,119.5 L605.2,116.3 L609.2,114.9 L608.8,116.3 L609.4,118.0 L607.7,119.3 L608.4,121.0 L610.1,121.9 L611.4,122.8 L614.0,121.9 L616.3,122.8 L620.4,121.7 L623.5,121.0 L624.4,121.9 L626.3,121.3 L628.3,119.1 L628.4,116.3 L628.7,114.9 L632.9,116.3 L633.4,114.2 L631.5,112.4 L633.4,111.4 L639.0,111.2 L642.8,110.4 L639.4,109.2 L633.5,109.8 L630.2,110.2 L628.3,109.6 L627.1,107.3 L626.4,104.4 L630.9,101.7 L632.0,100.8 L629.9,99.4 L626.7,100.0 L624.2,103.0 L620.1,105.4 L619.9,108.2 L622.8,110.2 L621.9,111.6 L620.2,112.8 L619.8,115.3 L618.3,118.0 L615.5,119.7 L613.6,119.3 L612.7,116.5 L611.5,114.9 L609.8,112.2 L609.0,110.4 L607.4,112.2 L602.8,114.2 L600.5,113.2 L599.7,111.6 L599.1,109.4 L599.0,106.3 L600.6,105.4 L604.7,103.5 L607.8,101.7 L610.8,99.1 L613.5,96.9 L614.9,95.0 L619.9,93.2 L624.4,91.9 L629.9,91.0 L633.6,91.9 L638.5,92.5 L642.0,93.6 L651.2,94.8 L653.5,95.5 L655.9,96.6 L654.5,98.8 L644.2,98.1 L647.8,101.4 L657.3,101.7 L661.1,99.1 L658.7,94.8 L664.4,96.1 L675.1,95.3 L676.4,94.8 L681.9,93.7 L683.7,92.9 L685.8,94.3 L694.5,93.4 L694.0,92.6 L694.4,88.6 L694.1,87.7 L699.7,89.0 L701.9,91.2 L707.5,98.2 L706.6,95.1 L703.8,89.7 L709.0,89.0 L712.1,89.7 L717.5,91.2 L715.9,89.7 L709.4,87.4 L715.2,85.8 L719.1,84.6 L725.3,84.0 L731.3,83.5 L735.8,82.7 L749.4,84.0 L756.7,87.0 L765.2,87.7 L777.8,87.7 L783.3,89.4 L789.6,90.4 L798.6,91.2 L802.1,89.0 L818.5,90.4 L836.2,91.6 L851.4,93.1 L863.1,92.6 L873.1,94.3 L885.8,100.8 L884.7,102.1 L891.9,105.4 L884.4,108.2 L876.9,110.2 L874.3,112.2 L879.4,116.3 L881.0,118.4 L881.3,122.8 L882.0,126.2 L881.9,129.6 L879.0,127.3 L871.4,120.6 L866.7,115.3 L867.4,112.2 L868.0,106.9 L868.3,105.4 L863.9,108.2 L858.3,111.2 L850.5,111.2 L842.3,111.6 L838.9,113.2 L837.5,120.6 L847.8,123.9 L851.8,129.6 L855.5,136.7 L854.9,144.0 L851.3,149.1 L849.0,148.8 L847.5,150.4 L846.7,156.9 L848.4,160.8 L854.0,167.6 L854.1,170.0 L850.7,171.7 L849.1,170.8 L847.9,167.6 L846.2,163.5 L841.7,160.8 L838.6,157.4 L833.7,160.0 L831.6,154.5 L829.1,157.1 L826.3,159.2 L830.6,163.2 L833.9,163.5 L838.3,163.8 L835.2,167.3 L835.4,171.7 L841.1,178.6 L843.6,180.8 L845.2,184.2 L845.0,189.9 L843.8,195.7 L841.8,200.1 L839.5,204.5 L835.1,206.6 L828.8,208.9 L827.8,212.5 L824.7,208.9 L822.3,208.9 L820.0,213.4 L821.1,219.4 L826.0,225.4 L829.4,234.5 L829.7,239.1 L826.3,242.2 L824.4,245.2 L820.9,248.0 L819.9,243.7 L817.5,242.2 L816.1,239.1 L812.5,236.0 L810.9,233.3 L809.1,233.0 L809.0,236.0 L808.1,242.2 L810.8,248.3 L811.8,253.2 L815.5,256.0 L818.6,262.2 L819.7,266.8 L820.4,270.5 L818.8,269.9 L815.5,266.8 L812.5,262.2 L811.5,256.0 L806.7,249.8 L806.7,243.7 L806.2,236.0 L802.7,225.4 L797.0,225.4 L795.1,219.4 L790.9,213.4 L787.3,207.4 L784.2,206.0 L781.3,207.4 L778.3,208.6 L776.9,213.4 L772.4,219.4 L769.3,223.9 L765.0,226.9 L766.0,234.5 L765.6,242.8 L761.0,249.5 L758.1,245.2 L754.1,236.0 L751.1,226.9 L747.8,216.4 L746.5,210.4 L746.0,206.6 L742.0,210.4 L738.2,206.0 L736.2,202.7 L732.7,199.2 L724.2,197.8 L721.3,198.0 L715.7,197.5 L711.4,194.0 L708.7,192.5 L705.7,194.3 L698.9,190.5 L696.4,186.2 L692.6,184.2 L691.0,186.2 L694.4,191.4 L696.5,195.1 L698.3,197.2 L699.1,195.4 L700.1,199.8 L703.4,201.0 L706.5,200.1 L707.9,197.8 L709.6,194.8 L710.3,198.6 L715.5,202.7 L718.5,206.0 L717.0,211.9 L715.4,216.4 L709.8,222.4 L704.5,223.9 L699.4,228.4 L696.4,231.8 L688.9,235.1 L685.6,235.7 L683.7,228.4 L682.9,222.4 L679.5,216.4 L674.6,208.9 L671.5,201.6 L668.0,195.7 L664.5,189.9 L663.6,185.7 L661.7,180.6 L662.8,176.4 L663.6,173.0 L663.5,168.9 L663.3,167.0 L663.5,165.4 L660.7,165.9 L657.4,167.3 L652.6,166.2 L649.3,165.7 L646.2,164.8 L643.8,160.8 L642.7,158.2 L643.4,155.8 L642.6,155.3 L640.1,154.5 L636.0,155.3 L636.9,158.7 L638.7,160.8 L638.3,162.4 L637.2,163.5 L637.2,166.5 L635.9,165.4 L634.5,165.7 L633.5,163.2 L634.2,161.4 L632.0,160.0 L630.9,157.9 L629.1,155.5 L629.1,152.9 L628.1,151.4 L625.9,149.9 L622.6,147.8 L620.1,146.0 L618.1,143.3 L617.5,144.5 L616.9,142.5 L614.5,143.0 L614.4,145.3 L616.9,147.6 L618.4,150.4 L622.3,151.9 L624.2,154.0 L626.3,155.5 L627.4,157.4 L624.7,155.5 L623.6,157.1 L624.8,159.5 L623.0,162.4 L621.9,161.6 L622.8,159.5 L621.2,156.3 L618.9,155.3 L615.8,152.9 L612.5,150.6 L610.6,147.8 L607.8,145.5 L605.1,147.1 L602.3,148.8 L601.1,148.3 L599.3,147.8 L597.4,148.3 L596.6,150.4 L594.9,153.2 L592.3,155.0 L589.9,158.2 L590.9,160.0 L589.1,163.2 L586.0,165.7 L581.6,165.7 L579.5,167.3 L579.1,167.6Z" fill="#6a70c4"/><path d="M307.9,94.3 L311.2,96.6 L315.4,98.9 L306.0,101.7 L301.1,101.2 L295.2,100.8Z" fill="#3b8a6a"/><path d="M558.8,103.7 L553.0,102.6 L551.1,100.8 L554.1,98.4 L561.3,98.9 L565.5,98.2 L568.3,100.0 L565.7,102.3 L560.5,103.5Z" fill="#4a6cc0"/><path d="M579.8,131.7 L584.0,130.5 L587.7,130.3 L591.1,130.1 L593.1,129.4 L592.0,128.4 L593.5,127.3 L593.6,125.3 L590.9,123.9 L589.4,121.7 L586.9,118.9 L585.1,118.4 L585.9,117.4 L587.3,115.3 L584.3,114.9 L585.3,113.0 L581.8,113.0 L580.3,115.3 L579.5,117.4 L580.4,119.5 L581.5,121.0 L584.2,121.5 L585.0,123.9 L582.1,124.4 L582.1,125.5 L580.9,128.0 L583.1,128.2 L584.9,128.7 L582.7,129.1 L579.8,131.7Z" fill="#6a70c4"/><path d="M572.3,128.4 L578.7,127.1 L579.4,124.4 L579.2,122.8 L579.5,120.2 L577.4,120.0 L574.8,121.5 L572.1,123.9 L572.7,125.9 L571.3,127.1Z" fill="#6a70c4"/><path d="M615.7,161.6 L621.9,161.4 L621.5,164.8 L621.1,165.7 L616.8,164.6 L615.5,163.0Z" fill="#6a70c4"/><path d="M638.7,169.5 L639.9,168.9 L644.2,169.5 L644.1,170.3 L641.0,170.6 L638.5,169.7Z" fill="#6a70c4"/><path d="M766.6,244.3 L769.3,248.3 L770.7,254.5 L768.1,256.0 L766.4,252.9 L766.2,248.3Z" fill="#6a70c4"/><path d="M827.9,213.1 L829.8,214.0 L829.2,217.6 L827.5,218.8 L825.1,216.4 L825.9,213.7Z" fill="#6a70c4"/><path d="M848.8,122.1 L853.8,126.2 L856.4,128.4 L860.8,134.3 L866.7,141.6 L863.1,140.8 L860.2,136.7 L854.8,129.6 L850.1,125.0Z" fill="#6a70c4"/><path d="M679.0,91.9 L670.3,90.4 L670.2,88.4 L671.5,86.4 L674.0,85.2 L678.5,84.0 L685.6,83.5 L688.1,84.4 L681.8,85.8 L675.6,87.7 L675.1,89.7 L680.2,91.4Z" fill="#6a70c4"/><path d="M728.1,82.2 L719.2,81.0 L716.6,79.7 L719.5,79.5 L728.9,80.5 L733.6,81.6Z" fill="#6a70c4"/><path d="M788.3,86.0 L789.9,85.2 L791.4,84.4 L800.0,85.2 L797.0,86.0 L795.8,86.8Z" fill="#6a70c4"/><path d="M315.9,91.2 L319.9,90.4 L319.6,90.9 L316.3,91.3Z" fill="#6a70c4"/><path d="M863.9,91.3 L864.1,90.4 L865.9,91.2Z" fill="#6a70c4"/><path d="M800.6,257.2 L805.5,258.5 L807.8,262.2 L810.8,266.8 L814.6,269.9 L819.1,273.0 L821.3,277.7 L824.5,283.8 L823.7,292.8 L821.1,291.6 L816.6,286.9 L812.8,280.8 L809.6,274.6 L806.9,268.4 L803.5,263.7 L800.6,259.1Z" fill="#d85cb0"/><path d="M824.3,293.1 L829.6,293.7 L834.9,295.9 L838.7,295.9 L842.2,298.4 L842.0,301.4 L834.6,300.2 L828.1,298.7 L824.7,297.1 L822.4,295.6Z" fill="#d85cb0"/><path d="M847.7,252.9 L851.6,256.0 L853.4,259.1 L850.4,261.6 L851.0,268.4 L853.3,271.5 L850.7,274.6 L847.7,280.8 L846.5,285.4 L843.3,286.9 L837.7,284.8 L833.7,283.8 L833.4,279.2 L831.2,274.6 L831.2,269.9 L832.7,268.4 L835.6,269.3 L839.9,265.9 L842.0,260.6 L844.8,259.1 L846.1,256.0Z" fill="#d85cb0"/><path d="M866.7,269.9 L864.3,270.8 L861.0,271.5 L857.7,271.5 L856.2,271.8 L855.1,274.6 L854.4,277.7 L852.8,282.6 L854.0,285.7 L853.9,291.9 L855.9,291.6 L856.1,286.9 L857.4,282.6 L858.0,285.4 L860.0,289.4 L861.3,290.7 L862.0,288.5 L860.8,285.4 L860.0,283.2 L858.6,280.1 L861.0,279.5 L863.0,277.7 L861.0,276.7 L858.8,277.3 L856.8,276.4 L856.2,274.6 L858.8,273.3 L862.1,273.0 L865.0,272.4 L866.5,270.8Z" fill="#d85cb0"/><path d="M879.8,277.0 L883.1,275.8 L886.6,277.3 L887.0,282.3 L891.9,279.5 L894.1,280.1 L901.1,282.0 L905.0,284.5 L909.3,286.6 L912.0,290.7 L916.0,293.1 L916.3,295.0 L915.1,298.1 L916.4,300.2 L918.4,302.4 L921.0,306.0 L919.5,307.3 L915.4,305.4 L913.8,303.9 L911.7,299.3 L908.4,298.7 L905.2,302.4 L900.3,303.0 L896.2,300.5 L896.0,297.1 L895.0,293.1 L890.5,288.5 L886.1,286.9 L884.0,286.6 L881.7,283.2 L879.6,279.2Z" fill="#d85cb0"/><path d="M924.7,287.6 L926.4,288.5 L925.6,291.6 L922.1,293.7 L917.7,293.1 L920.1,291.6 L923.5,290.0Z" fill="#d85cb0"/><path d="M923.2,282.6 L924.9,283.8 L927.8,288.5 L928.3,287.6 L925.8,284.5 L923.4,282.3Z" fill="#d85cb0"/><path d="M935.2,294.7 L937.2,297.1 L941.3,300.2 L942.1,301.1 L939.2,299.3 L935.8,296.2Z" fill="#d85cb0"/><path d="M842.4,299.6 L845.0,300.2 L843.7,301.7 L846.1,300.2 L846.6,302.1 L847.8,299.9 L852.2,300.2 L855.5,299.9 L861.0,300.2 L859.8,301.7 L855.3,302.1 L852.1,301.7 L847.6,302.4 L844.4,302.1Z" fill="#d85cb0"/><path d="M870.2,300.2 L865.3,300.8 L863.4,303.0 L861.5,306.4 L863.8,305.4 L868.5,302.4Z" fill="#d85cb0"/><path d="M851.9,303.9 L855.8,304.5 L854.9,306.4 L851.8,304.8Z" fill="#d85cb0"/><path d="M873.1,267.7 L874.7,271.5 L873.0,273.6 L873.8,277.0 L872.1,273.0 L872.0,269.9Z" fill="#d85cb0"/><path d="M873.1,283.2 L879.2,284.8 L877.4,285.7 L873.4,285.1Z" fill="#d85cb0"/><path d="M868.6,284.2 L871.2,284.8 L870.3,286.3 L868.5,285.7Z" fill="#d85cb0"/><path d="M851.3,217.6 L854.8,217.9 L856.1,222.4 L854.9,225.4 L855.5,229.3 L857.4,231.5 L860.9,231.8 L861.9,235.7 L859.8,234.5 L858.6,232.1 L856.0,232.7 L853.7,231.5 L853.4,229.9 L851.4,226.9 L852.1,224.5 L851.5,220.9Z" fill="#d85cb0"/><path d="M866.0,244.3 L868.4,248.3 L869.3,252.9 L868.6,256.0 L866.7,257.2 L863.6,253.2 L859.1,252.3 L860.0,249.8 L862.1,248.3 L864.8,247.4 L866.0,246.1Z" fill="#d85cb0"/><path d="M862.4,236.0 L865.1,236.6 L866.3,240.6 L865.3,243.7 L862.7,243.7 L861.1,245.2 L859.4,243.7 L858.1,242.2 L857.7,238.2 L859.9,238.8 L861.4,236.3Z" fill="#d85cb0"/><path d="M852.6,239.7 L852.2,243.7 L848.2,248.6 L848.1,247.7 L851.2,243.1Z" fill="#d85cb0"/><path d="M853.2,233.0 L855.9,233.6 L856.4,237.0 L854.8,236.3Z" fill="#d85cb0"/><path d="M943.8,336.0 L948.0,342.6 L947.1,343.7 L944.3,338.7Z" fill="#d85cb0"/><path d="M903.0,307.6 L903.9,317.7 L905.6,319.2 L906.5,325.2 L907.4,333.6 L910.9,335.7 L912.7,343.2 L914.0,349.0 L915.3,351.9 L913.4,359.7 L907.8,369.1 L901.3,375.8 L897.3,380.2 L893.3,385.6 L887.7,387.0 L883.8,389.9 L881.6,387.8 L878.5,389.1 L874.2,387.0 L873.4,384.3 L872.0,380.5 L873.8,378.6 L873.8,376.6 L871.3,379.4 L873.2,375.8 L875.3,371.9 L869.8,376.1 L867.8,378.6 L867.3,374.7 L866.0,370.5 L862.3,369.4 L855.9,369.7 L851.2,371.4 L844.2,375.8 L835.5,377.2 L831.5,378.8 L826.4,377.2 L827.2,374.7 L830.1,370.5 L831.1,363.5 L830.8,358.3 L830.5,353.4 L831.8,349.0 L834.7,341.7 L838.8,338.7 L843.4,337.2 L848.1,335.4 L855.1,329.7 L857.2,325.2 L861.4,322.2 L866.5,317.7 L870.5,320.4 L872.8,319.2 L876.6,313.1 L879.8,309.1 L884.9,311.6 L890.0,311.6 L888.0,316.1 L885.7,320.7 L889.8,325.2 L895.0,328.2 L898.1,323.7 L899.5,316.1 L900.9,311.6 L903.0,307.6Z" fill="#8a6cc4"/><path d="M877.9,394.1 L881.6,394.9 L884.9,394.4 L880.3,400.5 L877.5,401.6 L876.2,398.8Z" fill="#8a6cc4"/><path d="M944.5,377.2 L946.3,379.7 L945.2,383.7 L946.0,385.6 L950.7,386.2 L947.1,389.6 L944.2,391.2 L936.8,396.4 L936.4,395.7 L939.7,392.3 L938.5,390.2 L942.3,387.0 L943.7,382.9 L944.2,378.8Z" fill="#3d7d88"/><path d="M933.9,393.6 L935.8,395.1 L932.3,398.5 L928.3,402.1 L923.5,403.6 L919.3,407.3 L914.5,409.0 L910.6,408.1 L914.0,405.1 L922.4,401.3 L929.1,397.0 L932.2,394.4Z" fill="#3d7d88"/></g><path d="M366.0,473.6 L366.5,466.0 L380.0,464.5 L400.0,462.3 L417.0,461.8 L434.0,459.7 L444.0,460.6 L451.0,460.6 L466.0,458.5 L473.0,456.4 L477.0,452.0 L482.0,447.5 L488.0,444.5 L493.0,442.3 L497.5,440.3 L499.5,442.0 L496.5,444.5 L491.5,447.0 L487.5,450.0 L487.0,452.5 L490.0,455.0 L496.0,457.5 L500.0,459.5 L501.0,461.4 L501.7,466.5 L518.6,467.4 L532.2,468.2 L540.7,466.5 L559.3,462.3 L580.0,457.1 L597.0,456.3 L613.9,455.8 L630.8,455.4 L642.7,454.6 L652.9,452.9 L664.7,451.2 L678.3,449.5 L685.1,451.2 L698.6,456.3 L702.0,452.9 L715.6,451.2 L732.5,449.8 L747.0,449.5 L763.9,449.5 L780.8,449.5 L797.8,449.5 L811.4,448.6 L824.9,452.0 L835.1,454.6 L848.6,458.3 L831.7,463.1 L814.7,466.4 L802.9,469.8 L792.0,473.6Z" fill="#f3eac2"/><g clip-path="url(#lc)" stroke="#555555" stroke-width="1.3" stroke-linejoin="round"><path d="M329.5,85.8 L332.5,85.8 L335.5,85.8 L338.4,85.8 L341.4,85.8 L344.4,85.8 L347.4,85.8 L350.3,85.8 L353.3,85.8 L356.3,85.8 L359.3,85.8 L362.2,85.8 L365.2,85.8 L368.2,85.8 L371.2,85.8 L374.1,85.8 L377.1,85.8 L380.1,85.8 L383.1,85.8 L386.1,85.8 L379.9,88.5 L374.0,91.6 L368.3,94.8 L362.7,98.4 L357.4,102.1 L352.2,106.1 L347.2,110.2 L350.2,110.6 L351.1,112.2 L353.5,113.2 L355.6,116.3 L358.1,118.4 L354.5,121.3 L348.8,122.8 L344.7,123.2 L340.7,123.6 L336.6,124.0 L332.5,124.3 L328.4,124.7 L324.3,125.1 L320.2,125.5 L316.1,125.9 L312.0,126.3 L307.8,126.7 L303.7,127.1 L299.5,127.5 L295.4,127.9 L291.2,128.3 L287.0,128.7 L282.9,129.1 L278.7,129.5 L274.5,129.9 L270.2,130.3 L266.0,130.7 L261.8,131.1 L257.6,131.5 L253.3,131.9Z" fill="#6b6cca"/><path d="M386.1,85.8 L389.4,85.8 L392.7,85.8 L385.2,89.4 L377.9,93.4 L372.2,97.4 L373.1,100.8 L373.0,103.5 L373.0,106.3 L374.8,108.2 L376.6,110.2 L372.9,110.2 L369.2,110.2 L365.6,110.2 L361.9,110.2 L358.2,110.2 L354.6,110.2 L350.9,110.2 L347.2,110.2Z" fill="#5070c4"/><path d="M404.3,81.4 L397.3,83.9 L390.6,86.7 L384.2,89.9 L377.9,93.4 L372.2,97.4 L373.1,100.8 L373.0,103.5 L373.0,106.3 L374.8,108.2 L376.6,110.2 L380.0,110.2 L383.5,110.2 L386.9,110.2 L390.4,110.2 L393.8,110.2 L397.3,110.2 L400.7,110.2 L404.2,110.2 L407.6,110.2 L411.1,110.2 L414.5,110.2 L418.3,105.9 L422.2,101.8 L419.7,101.0 L417.3,100.2 L414.9,99.3 L412.6,98.5 L410.3,97.8 L408.1,97.0 L405.9,96.2 L403.7,95.5 L401.6,94.7 L406.9,91.2 L414.9,89.0 L420.0,88.1 L424.9,87.3 L429.9,86.4 L435.0,83.8 L440.3,81.4Z" fill="#4f70c4"/><path d="M445.3,77.6 L443.4,78.6 L441.7,79.9 L440.3,81.4 L435.0,83.8 L429.9,86.4 L424.9,87.3 L420.0,88.1 L414.9,89.0 L406.9,91.2 L401.6,94.7 L403.7,95.5 L405.9,96.2 L408.1,97.0 L410.3,97.8 L412.6,98.5 L414.9,99.3 L417.3,100.2 L419.7,101.0 L422.2,101.8 L418.3,105.9 L414.5,110.2 L418.7,110.2 L422.8,110.2 L427.0,110.2 L428.0,114.2 L431.2,115.3 L434.5,116.3 L439.4,114.2 L444.2,112.2 L449.0,110.2 L453.8,108.2 L458.5,106.3 L462.0,106.1 L465.6,105.8 L469.1,105.6 L472.6,105.4 L475.4,106.3 L478.3,107.3 L481.1,108.2 L484.0,104.3 L486.9,100.5 L489.8,97.0 L492.9,93.6 L495.9,90.5 L499.0,87.6 L502.2,85.0 L505.4,82.7 L508.7,80.7 L512.0,79.0 L515.4,77.6Z" fill="#3e7c8e"/><path d="M349.8,110.2 L353.6,110.2 L357.3,110.2 L361.0,110.2 L364.8,110.2 L368.5,110.2 L372.3,110.2 L376.0,110.2 L379.7,110.2 L383.5,110.2 L379.5,114.4 L375.7,118.7 L372.1,123.2 L373.5,128.7 L375.2,134.3 L370.9,134.3 L366.6,134.3 L362.2,134.3 L357.9,134.3 L351.2,136.7 L349.0,134.3 L347.0,131.9 L345.0,129.6 L343.2,127.3 L350.2,121.3 L358.1,118.4 L355.6,116.3 L353.5,113.2 L351.1,112.2Z" fill="#996ec8"/><path d="M383.5,110.2 L386.9,110.2 L390.4,110.2 L393.8,110.2 L397.3,110.2 L400.7,110.2 L396.9,114.7 L393.2,119.3 L389.6,124.1 L386.2,129.1 L383.0,134.3 L379.1,134.3 L375.2,134.3 L373.5,128.7 L372.1,123.2Z" fill="#7e6fc8"/><path d="M400.7,110.2 L404.2,110.2 L407.6,110.2 L411.1,110.2 L414.5,110.2 L411.2,114.7 L408.0,119.3 L404.9,124.1 L402.0,129.1 L399.2,134.3 L395.1,134.3 L391.1,134.3 L387.0,134.3 L383.0,134.3Z" fill="#5f6fc8"/><path d="M414.5,110.2 L418.7,110.2 L422.8,110.2 L427.0,110.2 L428.0,114.2 L432.6,116.5 L427.1,119.5 L421.5,122.4 L415.8,125.5 L410.9,134.3 L407.0,134.3 L403.1,134.3 L399.2,134.3Z" fill="#6a70c8"/><path d="M432.6,116.5 L436.1,117.5 L439.7,118.5 L443.3,119.5 L443.2,123.9 L443.2,128.4 L441.0,133.1 L439.0,137.9 L438.9,140.3 L442.6,141.8 L446.3,143.3 L445.8,144.0 L441.0,145.8 L436.2,147.6 L435.4,149.6 L427.5,152.4 L426.9,150.9 L428.9,149.1 L429.6,142.1 L428.4,140.3 L424.4,138.5 L420.5,136.7 L416.1,136.0 L410.9,134.3 L415.8,125.5Z" fill="#7e6fc8"/><path d="M456.5,104.4 L452.0,109.2 L447.6,114.2 L443.3,119.5 L443.2,123.9 L443.2,128.4 L441.0,133.1 L439.0,137.9 L438.9,140.3 L442.6,141.8 L446.3,143.3 L445.8,144.0 L452.0,144.0 L455.2,141.6 L458.5,138.1 L461.3,136.7 L464.2,136.7 L470.2,133.1 L474.1,132.5 L478.1,131.9 L484.7,128.4 L480.8,128.1 L477.0,127.7 L473.1,127.3 L473.7,123.9 L469.7,120.6 L477.7,113.2 L481.1,108.2Z" fill="#8c6ec6"/><path d="M481.1,108.2 L477.7,113.2 L469.7,120.6 L473.7,123.9 L473.1,127.3 L477.0,127.7 L480.8,128.1 L484.7,128.4 L487.4,134.9 L490.4,141.6 L491.7,136.7 L493.1,131.9 L494.5,127.3 L492.6,122.2 L490.8,117.4 L489.3,112.7 L488.0,108.2Z" fill="#3f7a9c"/><path d="M461.3,136.7 L458.5,138.1 L455.2,141.6 L460.1,143.5 L460.9,146.6 L461.1,149.1 L465.6,147.0 L470.2,144.9 L474.6,142.8 L476.1,137.9 L472.5,137.3 L468.9,136.7 L464.2,136.7Z" fill="#5a6ec8"/><path d="M357.9,134.3 L361.7,134.3 L365.5,134.3 L369.2,134.3 L373.0,134.3 L376.8,134.3 L380.6,134.3 L384.4,134.3 L388.2,134.3 L392.0,134.3 L395.8,134.3 L399.5,134.3 L403.3,134.3 L407.1,134.3 L410.9,134.3 L416.1,136.0 L420.5,136.7 L424.4,138.5 L428.4,140.3 L429.6,142.1 L428.9,149.1 L426.9,150.9 L427.5,152.4 L435.4,149.6 L436.2,147.6 L441.0,145.8 L445.8,144.0 L452.0,144.0 L455.2,141.6 L458.5,138.1 L460.9,138.9 L460.1,143.5 L460.9,146.6 L457.9,151.7 L454.9,156.9 L450.5,162.2 L446.0,167.6 L441.6,173.0 L437.2,178.6 L432.9,184.2 L428.5,189.9 L424.2,195.7 L420.0,201.6 L415.7,201.6 L411.5,201.6 L407.8,198.6 L404.1,195.7 L400.5,192.8 L397.0,189.9 L390.8,193.0 L384.6,196.0 L384.0,195.7 L380.8,191.4 L379.2,185.7 L372.1,185.1 L369.7,179.2 L365.8,180.5 L360.0,180.5 L353.2,177.2 L348.4,176.9 L341.9,178.6 L342.5,173.0 L343.3,167.6 L344.2,162.2 L345.2,156.9 L346.5,151.7 L347.9,146.6 L349.4,141.6 L351.2,136.7Z" fill="#9a6fc6"/><path d="M345.0,151.7 L349.4,151.7 L353.9,151.7 L349.9,159.5 L353.0,164.8 L356.2,170.3 L356.3,172.2 L353.8,176.6 L348.4,176.9 L341.9,178.6 L341.6,173.0 L341.4,167.6 L341.5,162.2 L341.6,156.9 L342.0,151.7Z" fill="#d05fb8"/><path d="M381.4,166.2 L387.5,166.2 L385.6,171.7 L392.2,173.6 L397.0,174.1 L395.6,178.9 L394.4,185.1 L394.9,189.9 L389.7,193.0 L384.6,196.0 L384.0,195.7 L380.8,191.4 L379.2,185.7 L372.1,185.1 L369.7,179.2 L369.7,178.6 L377.0,178.6Z" fill="#c867b8"/><path d="M359.5,164.8 L364.6,164.8 L369.7,164.8 L366.7,172.6 L364.0,180.5 L360.0,180.5 L353.2,177.2 L356.3,172.2 L356.2,170.3 L358.7,167.0Z" fill="#b06bc0"/><path d="M369.7,164.8 L373.8,164.8 L377.8,164.8 L381.9,164.8 L379.4,171.7 L377.0,178.6 L369.7,178.6 L369.7,179.2 L366.2,179.2 L365.8,180.5 L364.0,180.5Z" fill="#a86cc2"/><path d="M394.2,134.3 L398.5,134.3 L402.8,134.3 L407.1,134.3 L404.6,141.6 L404.6,141.7 L399.8,141.7 L395.0,141.7 L390.2,141.7Z" fill="#5a6ec8"/><path d="M390.2,141.7 L395.0,141.7 L399.8,141.7 L404.6,141.7 L403.9,143.3 L402.0,147.8 L400.7,150.4 L397.4,149.1 L391.9,149.1 L386.5,149.1Z" fill="#7470c8"/><path d="M386.5,149.1 L391.9,149.1 L397.4,149.1 L400.7,150.4 L400.3,154.2 L400.5,156.9 L396.0,156.9 L391.5,156.9 L387.0,156.9 L388.1,154.2 L384.1,154.2Z" fill="#6e70c8"/><path d="M387.0,156.9 L391.5,156.9 L396.0,156.9 L400.5,156.9 L401.0,159.2 L398.9,164.8 L393.9,164.8 L388.9,164.8 L383.8,164.8Z" fill="#7670c8"/><path d="M402.0,147.8 L407.1,147.8 L412.2,147.8 L412.3,150.4 L410.5,152.9 L408.8,155.3 L404.5,155.3 L400.1,155.3 L400.3,154.2 L400.7,150.4Z" fill="#7a70c8"/><path d="M407.1,134.3 L410.9,134.3 L416.1,136.0 L414.0,139.8 L410.7,144.0 L412.2,147.8 L407.1,147.8 L402.0,147.8 L403.9,143.3 L404.6,141.6Z" fill="#8670c8"/><path d="M345.0,151.7 L349.9,151.7 L354.8,151.7 L359.7,151.7 L362.8,145.3 L365.7,142.5 L365.2,141.6 L361.4,141.6 L357.0,142.5 L352.1,141.1 L350.7,140.3Z" fill="#a06cc4"/><path d="M348.4,176.9 L353.2,177.2 L360.0,180.5 L365.8,180.5 L366.2,179.2 L369.7,179.2 L372.1,185.1 L379.2,185.7 L380.8,191.4 L384.0,195.7 L384.6,196.0 L384.0,204.6 L383.6,213.4 L387.0,219.4 L391.3,219.4 L395.6,219.4 L397.1,210.4 L401.6,208.9 L406.1,207.4 L401.9,213.7 L397.7,220.0 L392.5,220.0 L393.7,225.4 L390.0,225.4 L389.3,229.9 L385.4,231.5 L381.1,230.5 L376.9,229.4 L372.7,228.4 L368.7,225.4 L364.8,222.4 L361.0,219.4 L358.1,211.9 L355.4,204.5 L351.6,199.6 L347.9,194.8 L344.4,189.9 L346.0,183.4 L347.7,176.9Z" fill="#b86ac0"/><path d="M377.4,211.9 L382.9,217.9 L387.0,219.4 L391.0,221.8 L393.7,225.4 L390.0,225.4 L389.3,229.9 L385.4,231.5 L380.6,229.9 L375.9,228.4 L374.8,220.9Z" fill="#d25cb4"/><path d="M347.7,176.9 L353.2,177.2 L356.0,180.0 L354.9,189.9 L355.6,197.2 L356.4,204.5 L354.7,207.4 L351.1,201.6 L347.6,195.7 L344.4,189.9Z" fill="#9a6ec6"/><path d="M397.7,220.0 L392.5,220.0 L393.7,225.4 L390.0,225.4 L389.3,229.9 L391.6,234.5 L398.1,234.5 L404.0,230.7 L409.9,226.9 L404.6,225.4 L399.4,223.9Z" fill="#d660b4"/><path d="M398.1,234.5 L404.0,230.7 L409.9,226.9 L408.5,233.7 L407.2,240.6 L402.6,241.2 L397.9,237.6Z" fill="#c464bc"/><path d="M407.2,240.6 L402.6,241.2 L401.5,246.8 L405.7,249.8 L409.9,252.9 L412.5,246.8 L409.1,244.6Z" fill="#e24ea4"/><path d="M412.5,246.8 L409.9,252.9 L414.5,252.9 L419.0,252.9 L420.3,248.0 L417.0,244.9Z" fill="#c062bc"/><path d="M409.1,203.0 L413.8,203.0 L418.5,203.0 L423.2,203.0 L427.9,203.0 L432.5,203.0 L431.7,208.9 L430.8,214.9 L426.1,214.9 L421.4,214.9 L416.6,214.9 L411.9,214.9 L407.1,214.9Z" fill="#c062bc"/><path d="M430.0,212.8 L434.7,212.8 L439.4,212.8 L444.0,212.8 L443.1,220.9 L438.4,220.9 L433.7,220.9 L429.0,220.9Z" fill="#8f6fc8"/><path d="M477.0,137.6 L480.9,138.5 L484.8,139.4 L488.8,140.3 L490.6,137.2 L489.7,132.2 L489.0,127.3 L484.9,128.4 L479.9,134.3Z" fill="#3f7a9c"/><path d="M434.2,234.5 L434.4,238.2 L431.5,240.9 L430.5,246.8 L432.0,252.9 L436.1,252.9 L441.8,255.4 L440.9,262.2 L442.8,270.8 L444.1,271.8 L447.4,269.0 L448.8,263.4 L452.2,262.2 L456.7,258.5 L457.3,252.9 L458.8,248.3 L461.2,240.6 L455.0,234.5Z" fill="#c060b8"/><path d="M430.9,234.5 L435.4,234.5 L439.9,234.5 L444.3,234.5 L448.8,234.5 L453.2,234.5 L452.6,243.7 L449.8,248.3 L443.0,251.4 L436.1,252.9 L432.0,252.9 L430.5,246.8 L434.4,238.2Z" fill="#ee3f82"/><path d="M434.2,234.5 L434.4,238.2 L431.5,240.9 L430.5,246.8 L432.0,252.9 L436.1,252.9 L441.8,255.4 L440.9,262.2 L442.8,270.8 L436.4,270.8 L437.0,277.7 L436.3,287.6 L431.6,282.3 L428.2,282.0 L424.2,274.9 L419.3,273.6 L416.3,270.2 L416.1,265.3 L417.5,258.8 L419.0,252.3 L420.3,248.0 L423.7,243.7 L428.5,237.6Z" fill="#9a6cc8"/><path d="M422.1,251.4 L427.6,252.9 L428.4,259.1 L426.1,263.7 L422.7,265.3 L421.6,259.1Z" fill="#4f6ec4"/><path d="M424.9,242.2 L429.5,239.1 L429.5,245.2 L426.7,248.3 L423.5,246.8Z" fill="#b065c0"/><path d="M416.3,270.2 L419.3,273.6 L424.2,274.9 L423.8,279.2 L421.6,282.3 L417.3,288.5 L415.2,290.0 L413.3,285.1 L411.7,283.8 L412.2,276.9 L412.7,269.9Z" fill="#66607a"/><path d="M424.2,274.9 L428.2,282.0 L431.6,282.3 L436.3,287.6 L428.1,297.7 L430.1,303.6 L431.7,303.9 L435.5,305.4 L435.9,308.5 L437.9,308.5 L440.2,313.1 L439.6,319.2 L439.8,323.7 L439.9,328.2 L438.2,330.8 L435.0,332.7 L430.6,326.2 L426.3,319.7 L422.1,313.1 L417.9,306.5 L413.8,299.8 L409.8,293.1 L413.3,285.1 L415.2,290.0 L417.3,288.5 L421.6,282.3 L423.8,279.2Z" fill="#ee3663"/><path d="M437.9,308.5 L442.5,307.0 L447.2,305.4 L449.3,311.6 L455.5,316.1 L459.4,321.6 L463.6,324.6 L465.3,333.6 L465.1,336.3 L460.7,339.2 L456.3,342.0 L451.2,342.3 L446.8,344.0 L443.9,338.7 L442.7,334.2 L439.9,328.2 L439.8,323.7 L439.6,319.2 L440.2,313.1Z" fill="#c262ba"/><path d="M439.6,319.2 L443.0,314.6 L445.6,320.7 L445.4,329.7 L442.7,334.2 L439.9,328.2 L439.8,323.7Z" fill="#9a6cc8"/><path d="M456.7,258.5 L452.2,262.2 L448.8,263.4 L447.4,269.0 L444.1,271.8 L442.8,270.8 L436.4,270.8 L437.0,277.7 L436.3,287.6 L428.1,297.7 L430.1,303.6 L431.7,303.9 L435.5,305.4 L435.9,308.5 L437.9,308.5 L442.5,307.0 L447.2,305.4 L449.3,311.6 L455.5,316.1 L459.4,321.6 L463.6,324.6 L465.3,333.6 L466.2,341.7 L470.5,342.3 L472.2,347.6 L474.7,351.9 L476.8,353.4 L477.2,356.9 L470.3,365.5 L475.0,367.4 L480.5,371.9 L480.7,375.3 L484.2,378.8 L486.1,373.3 L488.2,367.7 L490.3,362.0 L492.6,356.3 L494.9,350.5 L499.4,345.6 L504.0,340.7 L508.6,335.7 L510.4,329.7 L512.2,323.7 L514.1,317.7 L516.1,311.6 L518.1,305.4 L517.9,298.3 L517.7,291.1 L517.7,283.8 L512.9,282.5 L508.2,281.2 L503.4,279.9 L498.7,278.5 L494.0,277.2 L489.2,275.9 L484.5,274.6 L480.5,268.1 L476.7,261.6 L474.4,267.7 L470.4,267.4 L465.8,268.4 L460.7,270.5 L458.5,267.4Z" fill="#cc5cb8"/><path d="M436.4,270.8 L437.0,277.7 L436.3,287.6 L428.1,297.7 L436.7,302.4 L441.1,302.4 L445.5,302.4 L450.3,300.8 L455.2,299.3 L462.0,293.1 L463.9,286.9 L465.8,280.8 L460.7,269.9 L454.9,270.4 L449.2,270.8 L442.8,270.8Z" fill="#d65ab6"/><path d="M456.7,258.5 L452.2,262.2 L448.8,263.4 L447.4,269.0 L451.4,271.5 L456.9,274.6 L460.7,270.5 L458.5,267.4Z" fill="#9b6cc8"/><path d="M476.7,260.9 L474.4,267.7 L469.5,271.5 L475.7,276.1 L480.1,274.6 L481.2,268.4Z" fill="#8f6cc8"/><path d="M460.7,270.5 L465.8,280.8 L463.9,286.9 L462.0,293.1 L467.5,304.8 L473.9,304.8 L480.3,304.8 L482.1,298.2 L484.0,291.6 L487.9,283.8 L488.5,277.7 L482.3,274.6 L475.7,276.1 L469.5,271.5 L470.4,267.4 L465.8,268.4Z" fill="#c95fb8"/><path d="M445.5,302.4 L447.1,304.5 L449.3,311.6 L455.5,316.1 L459.4,314.6 L455.5,305.4 L455.2,299.3Z" fill="#a368c4"/><path d="M455.2,299.3 L455.5,305.4 L459.4,314.6 L459.4,321.6 L463.6,324.6 L466.0,329.7 L470.8,329.0 L475.6,328.2 L479.4,320.7 L480.1,314.6 L480.3,304.8 L473.9,304.8 L467.5,304.8 L462.0,293.1Z" fill="#c95fb8"/><path d="M466.0,329.7 L465.3,333.6 L466.2,341.7 L470.5,342.3 L472.2,347.6 L477.0,343.2 L480.5,334.2 L475.6,328.2Z" fill="#b266c0"/><path d="M487.9,283.8 L484.0,291.6 L482.1,298.2 L480.3,304.8 L480.1,314.6 L485.0,314.6 L490.0,314.6 L491.8,307.0 L493.6,296.2 L495.7,290.0 L497.8,283.8 L493.4,280.8Z" fill="#9a6cc8"/><path d="M497.8,283.8 L495.7,290.0 L493.6,296.2 L491.8,307.0 L496.2,307.7 L500.6,308.5 L504.8,302.4 L509.0,296.2 L513.3,290.0 L506.6,280.8Z" fill="#7a6cc8"/><path d="M513.3,290.0 L509.0,296.2 L511.3,299.3 L514.6,300.8 L514.5,293.1Z" fill="#4f6ec4"/><path d="M500.6,308.5 L496.2,307.7 L491.8,307.0 L490.0,314.6 L490.3,320.7 L485.5,329.7 L489.8,335.7 L494.0,341.7 L498.2,340.2 L502.4,338.7 L505.4,329.7 L506.0,320.7 L508.4,311.6 L510.4,305.4 L504.8,302.4Z" fill="#e052b0"/><path d="M480.1,314.6 L479.4,320.7 L475.6,328.2 L480.5,334.2 L477.0,343.2 L481.3,342.8 L485.5,342.4 L489.8,342.0 L494.0,341.7 L489.8,335.7 L485.5,329.7 L490.3,320.7 L490.0,314.6Z" fill="#c95fb8"/><path d="M477.0,343.2 L472.2,347.6 L474.7,351.9 L476.8,353.4 L477.2,356.9 L470.3,365.5 L475.0,367.4 L480.5,371.9 L480.7,375.3 L484.2,370.0 L487.9,364.6 L491.6,359.2 L494.1,352.7 L496.6,346.1 L494.0,341.7Z" fill="#d25cb6"/><path d="M458.8,248.3 L457.3,252.9 L456.7,258.5 L458.5,267.4 L460.7,270.5 L465.8,268.4 L470.4,267.4 L474.4,267.7 L476.7,261.6 L475.9,256.0 L471.6,252.9 L467.3,249.8 L463.0,246.8Z" fill="#9a6cc8"/><path d="M464.4,256.3 L465.8,268.4 L470.4,267.4 L471.5,256.6Z" fill="#b566c0"/><path d="M465.3,333.6 L465.1,336.3 L460.7,339.2 L456.3,342.0 L460.5,347.6 L468.2,351.4 L467.1,357.2 L472.5,357.5 L475.3,356.3 L474.7,351.9 L472.2,347.6 L470.5,342.3 L466.2,341.7Z" fill="#c060b8"/><path d="M470.3,365.5 L470.0,373.3 L470.5,376.6 L476.1,379.4 L481.1,377.5 L480.7,375.3 L480.5,371.9 L475.0,367.4Z" fill="#5a5a6e"/><path d="M456.3,342.0 L460.5,347.6 L468.2,351.4 L467.1,357.2 L472.5,357.5 L475.3,356.3 L474.7,351.9 L476.8,353.4 L477.2,356.9 L470.3,365.5 L470.0,373.3 L470.5,376.6 L476.6,381.6 L475.8,387.6 L475.2,393.6 L474.7,399.4 L474.3,405.1 L474.4,410.5 L474.6,415.8 L475.0,420.9 L475.5,425.9 L476.1,430.7 L472.2,431.2 L468.4,431.7 L467.9,430.7 L464.5,423.2 L464.6,422.7 L462.4,422.3 L457.6,421.8 L452.8,417.2 L452.8,412.4 L452.5,407.6 L450.8,402.6 L448.1,394.9 L447.4,387.0 L447.0,381.6 L446.1,373.3 L444.3,364.9 L445.9,356.3 L444.5,347.6 L446.8,344.0 L451.2,342.3Z" fill="#7a6cc8"/><path d="M447.0,381.6 L447.4,387.0 L448.1,394.9 L450.8,402.6 L452.5,407.6 L452.8,412.4 L452.8,417.2 L457.6,421.8 L462.4,422.3 L464.6,422.7 L469.6,424.1 L468.7,418.8 L467.9,413.2 L467.3,407.6 L467.3,401.3 L467.5,394.9 L463.9,388.3 L460.3,381.6Z" fill="#4f6ec4"/><path d="M448.6,389.6 L448.1,394.9 L448.9,397.5 L453.4,397.5 L457.8,397.5 L462.3,397.5 L465.2,393.6 L458.2,389.6Z" fill="#3e7a90"/><path d="M445.7,354.9 L445.6,360.6 L445.7,366.3 L452.2,367.7 L452.7,359.2 L451.0,354.9Z" fill="#5a70c8"/><path d="M447.7,347.6 L445.4,353.4 L451.8,353.4 L452.0,347.6Z" fill="#3f7a94"/><path d="M436.4,326.7 L438.2,330.8 L439.9,328.2 L442.7,334.2 L443.9,338.7 L446.8,344.0 L444.5,347.6 L445.9,356.3 L444.3,364.9 L446.1,373.3 L439.9,373.3 L438.9,367.3 L437.9,361.2 L437.1,355.1 L436.3,348.8 L435.7,342.5 L435.1,336.2 L434.6,329.7Z" fill="#2a8a52"/><path d="M446.1,373.3 L447.0,381.6 L447.4,387.0 L448.1,394.9 L441.8,394.9 L440.7,389.6 L439.6,384.3 L438.7,378.8 L437.9,373.3Z" fill="#3a7a7a"/><path d="M448.1,394.9 L450.8,402.6 L452.5,407.6 L452.8,412.4 L452.8,417.2 L457.6,421.8 L462.4,422.3 L464.6,422.7 L464.5,423.2 L467.9,430.7 L466.4,432.8 L459.8,427.8 L453.0,422.6 L446.3,417.2 L444.5,411.8 L442.8,406.3 L441.2,400.7 L439.8,394.9Z" fill="#5a5a66"/><path d="M578.3,164.8 L582.4,166.2 L586.4,167.6 L586.0,170.0 L587.0,173.0 L588.0,178.3 L582.8,180.0 L579.0,182.5 L574.8,185.4 L572.2,187.9 L572.2,190.9 L567.1,190.9 L562.1,190.9 L567.5,184.2 L571.9,175.8Z" fill="#c062b8"/><path d="M572.2,190.9 L566.6,190.9 L561.0,190.9 L558.3,197.0 L555.6,203.2 L552.9,209.5 L557.7,209.5 L562.6,209.5 L562.8,203.0 L565.1,195.7 L572.1,195.7Z" fill="#208a52"/><path d="M572.2,192.0 L572.1,195.7 L565.1,195.7 L562.8,203.0 L562.6,209.5 L557.7,209.5 L552.9,209.5 L553.2,217.4 L553.5,225.4 L559.4,223.6 L565.5,226.9 L569.8,226.9 L574.2,226.9 L578.5,226.9 L579.0,223.9 L578.4,217.5 L577.8,211.1 L577.2,204.9 L576.7,198.6 L580.4,192.0Z" fill="#4a6ec2"/><path d="M586.1,163.5 L586.0,170.0 L587.0,173.0 L588.0,178.3 L582.8,180.0 L579.0,182.5 L574.8,185.4 L572.2,187.9 L572.2,190.9 L580.4,192.0 L580.3,198.6 L587.9,208.0 L592.8,212.2 L597.6,216.4 L603.0,214.9 L606.6,208.9 L610.8,206.0 L615.0,203.0 L612.2,200.1 L611.5,195.7 L611.1,189.9 L610.3,183.7 L607.7,178.6 L607.5,171.7 L607.4,168.9 L607.9,164.8 L607.9,163.5Z" fill="#b86cc0"/><path d="M607.8,162.7 L607.9,164.8 L607.4,168.9 L607.5,171.7 L607.7,178.6 L610.3,183.7 L611.7,180.0 L614.4,175.3 L614.6,168.9 L614.7,162.7Z" fill="#9a6cc8"/><path d="M614.4,175.3 L611.7,180.0 L610.3,183.7 L611.1,189.9 L611.5,195.7 L612.2,200.1 L615.0,203.0 L620.9,206.0 L622.6,204.5 L627.5,207.1 L632.4,209.7 L637.3,212.3 L642.3,214.9 L644.4,213.4 L644.1,206.5 L643.8,199.7 L643.4,192.9 L643.0,186.3 L642.6,179.7 L641.8,173.0 L637.3,173.0 L632.7,173.0 L628.1,173.0 L623.5,173.0 L618.9,173.0 L614.3,173.0Z" fill="#8a6cc8"/><path d="M642.6,179.7 L643.0,186.5 L643.4,193.4 L643.8,200.4 L644.1,207.4 L648.4,207.4 L652.7,207.4 L657.0,207.4 L661.2,207.4 L665.5,207.4 L669.8,207.4 L667.8,200.6 L665.7,193.8 L663.6,187.2 L661.5,180.6 L660.6,175.8 L656.0,175.8 L651.3,175.8 L646.7,175.8 L642.1,175.8Z" fill="#8a6cc8"/><path d="M642.5,179.2 L642.9,183.7 L651.0,183.4 L656.4,185.7 L658.4,184.2 L663.5,185.7 L662.5,190.5 L661.5,180.6 L658.9,178.6Z" fill="#4a6ec2"/><path d="M580.3,198.6 L587.9,208.0 L592.8,212.2 L597.6,216.4 L599.6,216.1 L598.1,227.5 L591.0,228.7 L589.4,228.4 L586.1,231.5 L581.8,233.9 L578.9,238.8 L576.9,243.1 L572.9,243.7 L572.1,239.4 L565.6,236.3 L563.9,229.0 L565.5,226.9 L569.8,226.9 L574.2,226.9 L578.5,226.9 L579.0,223.9 L578.4,217.5 L577.8,211.1 L577.2,204.9 L576.7,198.6 L580.4,192.0Z" fill="#8a6cc8"/><path d="M615.0,203.0 L610.8,206.0 L606.6,208.9 L603.0,214.9 L599.6,216.1 L598.1,227.5 L591.0,228.7 L592.5,233.0 L595.3,236.6 L598.4,238.5 L600.3,232.4 L605.8,233.0 L611.5,234.8 L617.8,233.6 L620.2,234.2 L620.0,231.5 L624.4,226.3 L624.2,219.1 L623.9,211.9 L622.6,204.5 L620.9,206.0Z" fill="#4a6ec2"/><path d="M622.6,204.5 L623.9,211.9 L624.2,219.1 L624.4,226.3 L620.0,231.5 L620.2,234.2 L623.3,237.6 L624.5,243.7 L624.6,251.4 L630.1,249.8 L634.5,246.8 L638.8,245.2 L640.7,240.9 L639.0,234.5 L640.6,226.9 L641.4,220.9 L642.3,214.9Z" fill="#8a6cc8"/><path d="M644.1,207.4 L644.4,213.4 L642.3,214.9 L641.4,220.9 L640.6,226.9 L639.0,234.5 L640.7,240.9 L641.0,242.2 L645.4,242.9 L649.8,243.7 L655.3,244.9 L661.8,242.2 L665.2,237.6 L670.1,230.2 L670.8,222.4 L674.1,219.4 L672.0,213.4 L669.8,207.4Z" fill="#b86cc0"/><path d="M641.0,242.2 L645.4,242.9 L649.8,243.7 L655.3,244.9 L661.8,242.2 L665.2,237.6 L665.3,248.3 L667.6,254.5 L669.7,260.3 L665.5,261.6 L664.4,263.4 L658.7,263.4 L652.3,260.3 L650.9,259.1 L645.5,252.9 L642.1,246.8Z" fill="#a86ac4"/><path d="M670.1,230.2 L672.2,229.0 L674.4,229.9 L677.7,229.9 L681.9,235.4 L683.3,236.0 L685.6,234.5 L677.5,225.4 L674.1,219.4 L670.8,222.4Z" fill="#7a6cc8"/><path d="M665.2,237.6 L670.1,230.2 L672.2,229.0 L674.4,229.9 L677.7,229.9 L681.9,235.4 L683.3,236.0 L684.3,240.6 L687.1,245.2 L693.9,249.8 L696.1,249.8 L689.7,259.1 L683.2,262.2 L681.0,263.7 L676.6,263.7 L669.7,260.3 L667.6,254.5 L665.3,248.3Z" fill="#c860b8"/><path d="M681.9,235.4 L683.3,236.0 L684.3,240.6 L685.9,240.6 L685.7,236.0Z" fill="#5a5a6e"/><path d="M684.3,240.6 L687.1,245.2 L693.9,249.8 L696.1,249.8 L689.7,259.1 L683.2,262.2 L681.0,265.9 L681.7,272.9 L682.4,279.8 L683.2,280.8 L686.4,274.3 L689.5,267.9 L692.6,261.5 L695.6,255.1 L698.6,248.7 L701.4,242.4 L704.3,236.0 L699.6,236.4 L695.0,236.8 L690.4,237.2 L685.7,237.6Z" fill="#9a6cc8"/><path d="M669.7,260.3 L665.5,261.6 L667.8,271.5 L665.6,277.7 L671.3,283.2 L677.0,288.8 L678.7,289.1 L682.4,279.8 L681.7,272.9 L681.0,265.9 L683.2,262.2 L681.0,263.7 L676.6,263.7Z" fill="#c062b8"/><path d="M658.7,263.4 L664.4,263.4 L665.5,261.6 L667.8,271.5 L665.6,277.7 L657.9,277.7 L655.9,278.3 L656.1,274.6 L658.9,267.4Z" fill="#c860b8"/><path d="M655.6,277.7 L658.5,277.7 L658.7,282.0 L656.7,288.2 L655.1,288.2Z" fill="#9a6cc8"/><path d="M657.9,277.7 L665.6,277.7 L671.3,283.2 L677.0,288.8 L678.3,297.9 L679.6,307.0 L673.7,310.0 L667.2,310.0 L664.1,303.9 L662.8,303.3 L658.7,300.8 L655.5,293.1 L655.1,288.2 L656.7,288.2 L658.7,282.0 L658.5,277.7Z" fill="#e64fab"/><path d="M650.9,259.1 L652.3,260.3 L658.7,263.4 L658.9,267.4 L656.1,274.6 L655.9,278.3 L655.6,277.7 L655.1,288.2 L655.5,293.1 L658.7,300.8 L658.0,300.8 L656.8,308.3 L655.6,315.8 L649.3,313.2 L643.1,310.6 L643.1,308.5 L639.2,308.5 L638.0,302.4 L636.7,296.2 L633.4,299.3 L629.0,297.7 L626.9,293.1 L622.2,293.0 L617.6,292.8 L618.1,289.1 L624.3,287.9 L625.8,283.8 L629.6,274.6 L630.6,268.4 L631.5,262.2 L631.3,260.6 L639.0,259.1 L645.6,259.1Z" fill="#e44fac"/><path d="M626.9,263.7 L631.5,262.2 L630.6,268.4 L629.6,274.6 L625.8,283.8 L624.3,287.9 L618.1,289.1 L617.0,290.0 L614.8,286.3 L615.9,281.7 L621.4,274.6 L619.9,268.7 L622.5,267.7Z" fill="#c060b8"/><path d="M612.1,267.4 L615.4,267.4 L619.9,267.7 L619.9,268.7 L621.4,274.6 L615.9,281.7 L614.8,286.3 L612.6,286.9 L609.3,277.7 L610.4,271.5Z" fill="#c868b8"/><path d="M621.1,234.5 L623.3,237.6 L624.5,243.7 L624.6,251.4 L622.5,256.0 L623.6,262.2 L625.8,267.7 L619.9,267.7 L615.4,267.4 L612.1,267.4 L609.2,260.6 L614.7,254.5 L618.6,248.3 L620.6,242.2Z" fill="#e050a8"/><path d="M599.9,231.8 L600.3,232.4 L605.8,233.0 L611.5,234.8 L617.8,233.6 L620.2,234.2 L621.1,234.5 L620.6,242.2 L618.6,248.3 L614.7,254.5 L609.2,260.6 L603.7,262.2 L596.4,254.8 L596.4,246.8 L598.4,238.5Z" fill="#c860b8"/><path d="M640.7,240.9 L638.8,245.2 L634.5,246.8 L630.1,249.8 L624.6,251.4 L622.5,256.0 L623.6,262.2 L625.8,267.7 L626.9,263.7 L631.5,262.2 L631.3,260.6 L639.0,259.1 L645.6,259.1 L650.9,259.1 L645.5,252.9 L642.1,246.8 L641.0,242.2Z" fill="#9a6cc8"/><path d="M617.0,288.2 L618.1,289.1 L617.6,292.8 L622.2,293.0 L626.9,293.1 L629.0,297.7 L633.4,299.3 L636.7,296.2 L638.0,302.4 L639.2,308.5 L643.1,308.5 L643.0,314.6 L638.6,314.6 L638.4,322.1 L638.1,329.4 L630.6,327.9 L625.2,327.9 L619.8,327.9 L615.4,327.6 L616.3,320.3 L617.1,312.9 L617.9,305.4Z" fill="#c660b8"/><path d="M615.4,327.6 L619.8,327.9 L625.2,327.9 L630.6,327.9 L638.1,329.4 L644.6,329.4 L641.3,331.3 L636.0,329.7 L635.8,335.7 L635.5,341.7 L633.0,349.9 L632.5,360.9 L625.1,360.9 L621.9,362.0Z" fill="#b06cc0"/><path d="M638.1,329.4 L644.6,329.4 L645.3,329.7 L650.1,337.2 L653.3,341.7 L644.7,350.5 L640.3,352.2 L634.4,355.7 L633.0,349.9 L633.4,341.7 L635.5,341.7 L635.8,335.7 L636.0,329.7 L641.3,331.3Z" fill="#2a9a58"/><path d="M658.0,300.8 L662.8,303.3 L664.1,303.9 L663.5,308.5 L662.7,313.1 L662.5,317.7 L658.1,317.7 L656.6,322.5 L653.3,323.7 L644.6,329.4 L638.1,329.4 L638.4,322.1 L638.6,314.6 L643.0,314.6 L643.1,310.6 L649.3,313.2 L655.6,315.8Z" fill="#6a6ec8"/><path d="M647.3,316.1 L647.1,320.7 L653.3,323.7 L656.6,322.5 L658.1,317.7 L654.9,317.7Z" fill="#4f6ec4"/><path d="M653.3,323.7 L656.6,322.5 L662.0,323.7 L661.9,329.7 L661.6,335.7 L657.5,342.9 L653.3,341.7 L650.1,337.2 L645.3,329.7 L644.6,329.4Z" fill="#3a7a8c"/><path d="M664.1,303.9 L667.2,310.0 L668.6,318.9 L667.1,326.1 L665.2,320.7 L662.5,317.7 L662.7,313.1 L663.5,308.5Z" fill="#5a6ec8"/><path d="M679.6,307.0 L673.7,310.0 L667.2,310.0 L668.6,318.9 L667.1,326.1 L665.2,320.7 L662.5,317.7 L658.1,317.7 L656.6,322.5 L662.0,323.7 L661.9,329.7 L661.6,335.7 L657.5,342.9 L658.5,350.5 L660.0,356.0 L666.7,353.4 L669.8,347.0 L672.9,340.5 L676.0,333.9 L679.0,327.3 L682.0,320.7Z" fill="#6a6ec8"/><path d="M661.6,335.7 L657.5,342.9 L658.5,350.5 L661.6,351.9 L664.7,345.4 L667.9,338.7 L668.3,332.7Z" fill="#4f6ec4"/><path d="M657.5,342.9 L653.3,341.7 L644.7,350.5 L640.3,352.2 L634.4,355.7 L633.0,349.9 L632.5,360.9 L625.1,360.9 L623.9,364.9 L625.6,371.9 L627.3,378.8 L632.0,379.7 L636.7,380.7 L641.4,381.6 L646.8,377.5 L652.4,373.3 L656.7,366.3 L661.0,359.2 L660.0,356.0 L658.5,350.5Z" fill="#b06cc0"/><path d="M626.8,369.1 L629.9,369.1 L635.9,373.3 L639.9,374.7 L639.5,380.2 L635.4,379.7 L631.4,379.3 L627.3,378.8Z" fill="#e858b0"/><path d="M644.7,350.5 L651.1,346.7 L657.5,342.9 L658.5,350.5 L655.9,356.3 L649.4,359.2 L645.4,356.3Z" fill="#7a6cc8"/><path d="M650.0,364.9 L653.4,362.0 L655.7,359.2 L656.1,366.3 L650.6,370.5Z" fill="#c860b8"/><path d="M647.2,360.9 L651.9,366.9 L652.0,363.7 L650.3,360.9Z" fill="#8a6cc8"/><path d="M559.4,223.6 L552.5,225.4 L552.2,236.6 L554.0,236.6 L559.8,236.5 L565.6,236.3 L563.9,229.0 L565.5,226.9Z" fill="#9a6cc8"/><path d="M565.6,236.3 L559.8,236.5 L554.0,236.6 L554.3,240.6 L560.4,245.2 L561.3,248.3 L565.2,253.2 L571.8,251.4 L573.1,248.9 L572.9,243.7 L572.1,239.4Z" fill="#b864c0"/><path d="M561.3,248.3 L565.2,253.2 L571.8,251.4 L574.0,261.3 L569.0,258.6 L564.1,256.0Z" fill="#c860b8"/><path d="M576.9,243.1 L572.9,243.7 L573.1,248.9 L571.8,251.4 L574.0,261.3 L578.8,260.2 L583.7,259.1 L584.1,252.1 L584.6,245.2 L580.6,242.2Z" fill="#a86ac4"/><path d="M589.4,228.4 L586.1,231.5 L581.8,233.9 L578.9,238.8 L576.9,243.1 L580.6,242.2 L584.6,245.2 L590.1,240.6 L592.5,240.3 L595.8,237.9 L595.3,236.6 L592.5,233.0 L591.0,228.7Z" fill="#7a6cc8"/><path d="M590.1,240.6 L584.6,245.2 L584.1,252.1 L583.7,259.1 L586.1,260.3 L593.1,256.0 L594.0,255.1 L596.4,254.8 L596.4,246.8 L598.4,238.5 L595.3,236.6 L595.8,237.9 L592.5,240.3Z" fill="#c060b8"/><path d="M570.8,151.1 L571.8,151.1 L574.3,151.4 L577.7,151.9 L576.8,154.2 L575.5,157.6 L576.5,159.5 L575.8,162.2 L575.5,164.3 L571.2,166.2Z" fill="#9a6cc8"/><path d="M586.4,151.6 L593.5,161.5 L588.5,167.6 L583.4,167.7 L578.3,167.8 L575.5,164.3 L575.5,164.3 L581.0,157.9 L586.4,151.6Z" fill="#d85ab6"/><path d="M586.4,151.6 L581.0,157.9 L575.5,164.3 L575.8,162.2 L576.5,159.5 L575.5,157.6 L576.8,154.2 L577.7,151.9 L574.3,151.4 L571.8,151.1 L570.8,151.1 L571.0,146.6 L575.0,146.9 L579.0,147.3 L583.0,147.7 L587.0,148.1 L587.0,148.1 L586.4,151.6Z" fill="#d85ab6"/><path d="M586.4,151.6 L587.0,148.1 L591.9,149.9 L597.0,150.6 L599.4,154.2 L593.5,161.5 L586.4,151.6Z" fill="#d85ab6"/><path d="M595.1,128.4 L598.4,131.9 L602.2,133.1 L606.0,134.3 L605.0,137.6 L602.2,140.6 L604.0,141.8 L605.5,146.3 L605.1,147.3 L598.4,150.4 L596.8,150.6 L591.9,149.9 L587.0,148.1 L580.8,146.6 L580.4,140.6 L580.1,134.8 L586.8,131.9 L593.3,129.1Z" fill="#d55cb8"/><path d="M598.4,131.9 L598.4,131.9 L595.1,128.4 L595.2,128.4 L598.6,129.8 L598.4,131.9Z" fill="#7a6cc8"/><path d="M600.3,129.9 L601.0,129.1 L601.8,129.4 L601.7,129.6 L601.9,130.8 L602.2,133.1 L599.7,132.3 L600.3,129.9Z" fill="#9a6cc8"/><path d="M601.7,125.3 L601.7,124.7 L602.0,123.5 L602.1,123.5 L603.5,125.6 L603.5,126.5 L601.7,125.3Z" fill="#7a6cc8"/><path d="M601.0,129.1 L600.3,129.9 L598.6,129.8 L595.2,128.4 L596.8,126.1 L599.5,126.5 L600.0,126.9 L601.0,129.1Z" fill="#7a6cc8"/><path d="M599.9,124.0 L599.5,126.5 L596.8,126.1 L598.7,123.5 L599.9,123.5 L599.9,124.0Z" fill="#8a6cc8"/><path d="M601.7,124.7 L599.9,124.0 L599.9,123.5 L602.0,123.5 L601.7,124.7Z" fill="#8a6cc8"/><path d="M602.1,123.5 L603.6,123.5 L603.5,125.6 L602.1,123.5Z" fill="#8a6cc8"/><path d="M600.0,126.9 L599.5,126.5 L599.9,124.0 L601.7,124.7 L601.7,125.3 L600.0,126.9Z" fill="#8a6cc8"/><path d="M599.7,132.3 L598.4,131.9 L598.6,129.8 L600.3,129.9 L599.7,132.3Z" fill="#7a6cc8"/><path d="M603.5,126.5 L603.4,127.3 L601.8,129.4 L601.0,129.1 L600.0,126.9 L601.7,125.3 L603.5,126.5Z" fill="#7a6cc8"/><path d="M616.2,126.0 L613.0,121.6 L613.0,121.5 L616.2,122.1 L616.8,124.6 L617.1,125.4 L616.2,126.0Z" fill="#8a6cc8"/><path d="M606.4,121.7 L606.9,124.8 L606.5,124.9 L604.5,122.1 L605.3,120.8 L606.4,121.7Z" fill="#9a6cc8"/><path d="M604.8,133.9 L604.7,133.9 L602.2,133.1 L601.9,130.8 L601.7,129.6 L602.6,128.4 L603.2,128.6 L604.7,130.0 L605.6,131.5 L604.8,133.9Z" fill="#a06cc4"/><path d="M609.2,137.6 L608.6,135.6 L610.0,133.5 L610.4,133.5 L611.8,135.8 L609.2,137.6Z" fill="#8a6cc8"/><path d="M614.6,129.4 L616.4,128.0 L616.9,130.1 L614.9,130.7 L614.6,129.4Z" fill="#a06cc4"/><path d="M605.3,126.2 L605.0,126.1 L603.6,124.7 L603.6,123.5 L604.5,122.1 L606.5,124.9 L605.3,126.2Z" fill="#8a6cc8"/><path d="M616.0,126.2 L616.2,126.0 L617.1,125.4 L617.3,126.2 L618.4,129.6 L616.9,130.1 L616.4,128.0 L616.0,126.2Z" fill="#9a6cc8"/><path d="M605.6,131.5 L604.7,130.0 L604.9,126.5 L605.0,126.1 L605.3,126.2 L607.2,128.4 L606.8,129.9 L606.4,130.9 L605.6,131.5Z" fill="#a06cc4"/><path d="M613.1,128.9 L611.8,127.7 L612.3,126.2 L614.9,126.7 L614.4,128.6 L613.1,128.9Z" fill="#9a6cc8"/><path d="M614.0,137.8 L609.5,137.6 L609.2,137.6 L609.2,137.6 L611.8,135.8 L613.6,136.8 L614.0,137.8Z" fill="#9a6cc8"/><path d="M613.7,134.1 L612.6,132.6 L612.6,131.7 L613.6,130.8 L614.9,130.7 L613.3,131.2 L615.4,133.2 L613.7,134.1Z" fill="#9a6cc8"/><path d="M610.7,129.0 L610.7,128.9 L611.8,127.7 L613.1,128.9 L613.6,130.8 L612.6,131.7 L610.7,129.0Z" fill="#7a6cc8"/><path d="M613.1,128.9 L614.4,128.6 L614.6,129.4 L614.9,130.7 L614.9,130.7 L613.6,130.8 L613.1,128.9Z" fill="#9a6cc8"/><path d="M603.2,128.6 L602.6,128.4 L603.4,127.3 L603.6,124.7 L605.0,126.1 L604.9,126.5 L603.2,128.6Z" fill="#a06cc4"/><path d="M612.3,126.2 L611.6,124.2 L613.0,121.6 L616.2,126.0 L616.0,126.2 L614.9,126.7 L612.3,126.2Z" fill="#9a6cc8"/><path d="M609.7,120.8 L613.0,121.5 L613.0,121.6 L611.6,124.2 L610.6,124.1 L609.7,120.8Z" fill="#9a6cc8"/><path d="M610.0,133.5 L608.6,135.6 L605.9,134.4 L606.0,134.3 L604.9,134.0 L604.8,133.9 L605.6,131.5 L606.4,130.9 L609.6,132.6 L610.0,133.5Z" fill="#7a6cc8"/><path d="M610.7,128.9 L608.6,127.3 L608.6,125.3 L609.2,124.2 L610.6,124.1 L611.6,124.2 L612.3,126.2 L611.8,127.7 L610.7,128.9Z" fill="#7a6cc8"/><path d="M604.7,130.0 L603.2,128.6 L604.9,126.5 L604.7,130.0Z" fill="#7a6cc8"/><path d="M606.4,130.9 L606.8,129.9 L610.0,130.4 L609.6,132.6 L606.4,130.9Z" fill="#7a6cc8"/><path d="M613.7,134.1 L613.6,136.8 L611.8,135.8 L610.4,133.5 L612.6,132.6 L613.7,134.1Z" fill="#a06cc4"/><path d="M613.6,136.8 L613.7,134.1 L615.4,133.2 L616.5,134.3 L615.3,137.9 L614.0,137.8 L613.6,136.8Z" fill="#a06cc4"/><path d="M608.6,125.3 L608.6,127.3 L607.2,128.4 L605.3,126.2 L606.5,124.9 L606.9,124.8 L608.6,125.3Z" fill="#a06cc4"/><path d="M606.8,129.9 L607.2,128.4 L608.6,127.3 L610.7,128.9 L610.7,129.0 L610.0,130.4 L606.8,129.9Z" fill="#7a6cc8"/><path d="M609.2,137.6 L609.2,137.6 L605.0,137.6 L605.9,134.4 L608.6,135.6 L609.2,137.6Z" fill="#7a6cc8"/><path d="M604.8,133.9 L604.9,134.0 L604.7,133.9 L604.8,133.9Z" fill="#9a6cc8"/><path d="M606.4,121.7 L608.3,122.4 L609.2,124.2 L608.6,125.3 L606.9,124.8 L606.4,121.7Z" fill="#a06cc4"/><path d="M610.4,133.5 L610.0,133.5 L609.6,132.6 L610.0,130.4 L610.7,129.0 L612.6,131.7 L612.6,132.6 L610.4,133.5Z" fill="#9a6cc8"/><path d="M608.3,122.4 L606.4,121.7 L605.3,120.8 L605.5,120.6 L608.5,120.6 L609.0,120.7 L608.3,122.4Z" fill="#8a6cc8"/><path d="M614.4,128.6 L614.9,126.7 L616.0,126.2 L616.4,128.0 L614.6,129.4 L614.4,128.6Z" fill="#a06cc4"/><path d="M610.6,124.1 L609.2,124.2 L608.3,122.4 L609.0,120.7 L609.7,120.8 L610.6,124.1Z" fill="#8a6cc8"/><path d="M608.4,139.9 L610.0,138.8 L610.6,140.3 L607.9,141.8 L608.4,139.9Z" fill="#9a6cc8"/><path d="M608.1,138.8 L607.2,137.6 L608.9,137.6 L608.1,138.8Z" fill="#9a6cc8"/><path d="M608.4,139.9 L607.9,141.8 L607.8,141.8 L606.8,141.8 L606.8,139.1 L608.1,139.2 L608.4,139.9Z" fill="#8a6cc8"/><path d="M608.4,139.9 L608.1,139.2 L608.1,138.8 L608.9,137.6 L609.5,137.6 L610.0,138.8 L608.4,139.9Z" fill="#8a6cc8"/><path d="M606.8,141.8 L604.0,141.8 L602.2,140.6 L605.0,137.6 L606.4,137.6 L606.8,139.1 L606.8,141.8Z" fill="#8a6cc8"/><path d="M606.8,139.1 L606.4,137.6 L607.2,137.6 L608.1,138.8 L608.1,139.2 L606.8,139.1Z" fill="#8a6cc8"/><path d="M617.6,137.0 L617.5,136.9 L617.8,134.6 L618.8,134.8 L619.2,134.8 L619.2,134.8 L619.2,136.7 L617.6,137.0Z" fill="#8070c8"/><path d="M617.6,137.0 L618.9,139.8 L617.3,140.1 L616.1,139.8 L616.2,137.0 L616.8,136.9 L617.5,136.9 L617.6,137.0Z" fill="#9a6cc8"/><path d="M617.6,137.0 L619.2,136.7 L622.4,137.9 L622.4,137.9 L621.3,139.3 L618.9,139.8 L617.6,137.0Z" fill="#9a6cc8"/><path d="M622.4,137.9 L619.2,134.8 L619.2,134.8 L622.6,135.0 L623.0,137.2 L622.4,137.9 L622.4,137.9Z" fill="#8070c8"/><path d="M617.5,136.9 L616.8,136.9 L616.7,134.3 L617.8,134.6 L617.5,136.9Z" fill="#9a6cc8"/><path d="M616.1,139.8 L613.8,139.3 L610.6,139.6 L609.5,137.6 L615.3,137.9 L615.7,136.6 L616.2,137.0 L616.1,139.8Z" fill="#9a6cc8"/><path d="M616.2,137.0 L615.7,136.6 L616.5,134.3 L616.7,134.3 L616.8,136.9 L616.2,137.0Z" fill="#9a6cc8"/><path d="M619.2,134.8 L622.4,137.9 L619.2,136.7 L619.2,134.8Z" fill="#9a6cc8"/><path d="M620.3,153.2 L620.3,155.3 L613.8,152.9 L612.8,151.3 L614.5,147.3 L620.3,153.2Z" fill="#b86cc0"/><path d="M607.7,143.5 L605.1,145.2 L604.0,141.8 L607.8,141.8 L608.7,141.3 L607.7,143.5Z" fill="#b86cc0"/><path d="M607.7,143.5 L608.7,141.3 L610.6,140.3 L610.6,139.6 L613.8,139.3 L613.8,138.9 L614.7,139.2 L614.6,146.0 L614.5,147.3 L612.8,151.3 L609.4,153.9 L609.0,153.3 L607.7,143.6 L607.7,143.5Z" fill="#a86ac4"/><path d="M609.0,153.3 L606.1,148.9 L607.7,143.6 L609.0,153.3Z" fill="#b86cc0"/><path d="M617.4,159.2 L620.5,157.3 L623.9,159.4 L624.7,161.5 L620.9,166.2 L616.5,163.3 L617.4,159.2Z" fill="#b86cc0"/><path d="M612.8,151.3 L613.8,152.9 L617.4,159.2 L616.5,163.3 L614.7,162.2 L609.4,153.9 L612.8,151.3Z" fill="#a86ac4"/><path d="M623.9,159.4 L625.9,153.7 L628.4,156.9 L624.7,161.5 L623.9,159.4Z" fill="#9a6cc8"/><path d="M620.5,157.3 L617.4,159.2 L613.8,152.9 L620.3,155.3 L620.5,157.3Z" fill="#a86ac4"/><path d="M623.9,159.4 L620.5,157.3 L620.3,155.3 L620.3,153.2 L623.2,150.8 L623.5,150.6 L625.9,153.7 L623.9,159.4Z" fill="#a86ac4"/><path d="M614.6,146.0 L618.9,148.4 L623.2,150.8 L620.3,153.2 L614.5,147.3 L614.6,146.0Z" fill="#a86ac4"/><path d="M607.7,143.5 L607.7,143.6 L606.1,148.9 L605.1,147.3 L605.5,146.3 L605.1,145.2 L607.7,143.5Z" fill="#9a6cc8"/><path d="M614.7,139.2 L617.0,140.1 L617.1,142.5 L623.5,150.6 L623.2,150.8 L618.9,148.4 L614.6,146.0 L614.7,139.2Z" fill="#9a6cc8"/><path d="M622.7,131.9 L625.8,133.1 L626.3,135.2 L625.7,135.2 L622.3,134.0 L622.4,132.7 L622.7,131.9Z" fill="#7a6cc8"/><path d="M619.6,132.3 L622.4,132.7 L622.3,134.0 L622.1,135.0 L618.8,134.8 L618.6,134.7 L619.6,132.3Z" fill="#8a6cc8"/><path d="M616.0,132.2 L617.8,133.3 L618.3,134.6 L616.5,134.3 L615.6,133.4 L616.0,132.2Z" fill="#7a6cc8"/><path d="M619.6,132.3 L618.6,134.7 L618.3,134.6 L617.8,133.3 L617.4,129.9 L618.4,129.6 L618.4,129.8 L619.5,130.5 L619.6,132.3Z" fill="#8a6cc8"/><path d="M617.8,133.3 L616.0,132.2 L615.2,130.6 L617.4,129.9 L617.8,133.3Z" fill="#8a6cc8"/><path d="M622.3,134.0 L625.7,135.2 L622.6,135.0 L622.1,135.0 L622.3,134.0Z" fill="#8a6cc8"/><path d="M619.6,132.3 L619.5,130.5 L620.8,131.2 L622.7,131.9 L622.4,132.7 L619.6,132.3Z" fill="#7a6cc8"/><path d="M615.6,133.4 L613.3,131.2 L615.2,130.6 L616.0,132.2 L615.6,133.4Z" fill="#7a6cc8"/><path d="M625.7,127.7 L625.6,128.1 L622.9,128.9 L622.9,120.9 L623.9,120.8 L626.0,121.1 L625.7,127.7Z" fill="#a06cc4"/><path d="M628.9,125.3 L633.8,133.2 L633.3,133.8 L625.6,128.1 L625.7,127.7 L628.9,125.3Z" fill="#9a6cc8"/><path d="M633.3,133.8 L633.1,134.0 L625.8,133.1 L620.8,131.2 L619.9,130.7 L622.9,128.9 L625.6,128.1 L633.3,133.8Z" fill="#a06cc4"/><path d="M619.9,130.7 L618.4,129.8 L618.4,129.6 L617.3,126.2 L616.8,124.6 L616.2,122.1 L616.2,121.7 L622.9,120.9 L622.9,128.9 L619.9,130.7Z" fill="#9a6cc8"/><path d="M628.9,125.3 L627.8,121.4 L631.8,121.9 L633.2,123.0 L633.2,126.6 L634.2,128.4 L635.5,131.0 L633.8,133.2 L628.9,125.3Z" fill="#a06cc4"/><path d="M628.9,125.3 L625.7,127.7 L626.0,121.1 L627.8,121.4 L628.9,125.3Z" fill="#a06cc4"/><path d="M625.8,133.1 L626.3,135.2 L622.6,135.0 L623.0,137.2 L626.1,137.4 L628.5,136.4 L632.5,135.5 L633.1,134.0Z" fill="#9070c8"/><path d="M625.1,139.3 L627.3,142.0 L627.1,142.1 L624.6,142.1 L622.2,140.3 L621.3,139.3 L622.7,137.6 L625.1,139.3Z" fill="#a06cc4"/><path d="M631.6,135.7 L632.5,135.5 L634.0,136.4 L632.9,137.4 L632.0,139.3 L630.9,138.4 L631.6,135.7Z" fill="#9a6cc8"/><path d="M628.5,137.8 L625.1,139.3 L622.7,137.6 L623.0,137.2 L626.1,137.4 L628.3,136.5 L628.5,137.8Z" fill="#9a6cc8"/><path d="M628.5,137.8 L628.3,136.5 L628.5,136.4 L631.6,135.7 L630.9,138.4 L629.2,140.2 L628.5,137.8Z" fill="#9a6cc8"/><path d="M625.1,139.3 L628.5,137.8 L629.2,140.2 L629.3,141.2 L627.3,142.0 L625.1,139.3Z" fill="#9a6cc8"/><path d="M629.2,140.2 L630.9,138.4 L632.0,139.3 L630.9,141.3 L629.5,141.1 L629.3,141.2 L629.2,140.2Z" fill="#9a6cc8"/><path d="M628.2,149.5 L627.8,148.3 L630.0,147.9 L630.3,147.9 L631.0,149.2 L630.0,151.4 L628.6,150.6 L628.2,149.5Z" fill="#8a6cc8"/><path d="M628.9,154.9 L628.8,152.2 L627.8,151.9 L628.6,150.6 L630.0,151.4 L630.2,151.6 L630.0,154.3 L628.9,154.9Z" fill="#7a6cc8"/><path d="M619.4,142.1 L619.6,144.3 L618.6,146.4 L616.6,142.8 L617.1,142.5 L617.0,141.6 L619.4,142.1Z" fill="#9a6cc8"/><path d="M625.4,144.1 L625.7,144.3 L627.3,146.6 L627.4,147.7 L624.7,149.0 L624.6,148.5 L625.4,144.1Z" fill="#8a6cc8"/><path d="M629.1,145.6 L631.5,145.2 L630.3,147.9 L630.0,147.9 L629.1,145.6Z" fill="#8a6cc8"/><path d="M619.6,144.3 L622.5,144.6 L622.7,144.8 L621.7,148.4 L618.8,146.6 L618.6,146.4 L619.6,144.3Z" fill="#7a6cc8"/><path d="M628.2,145.4 L628.6,141.6 L628.7,141.4 L629.5,141.1 L631.9,143.5 L632.6,144.0 L631.5,145.2 L629.1,145.6 L628.2,145.4Z" fill="#7a6cc8"/><path d="M630.5,154.5 L633.2,152.6 L635.4,152.6 L635.8,153.5 L632.2,154.5 L631.6,156.0 L630.5,154.5Z" fill="#7a6cc8"/><path d="M630.2,151.6 L633.2,152.6 L630.5,154.5 L630.0,154.3 L630.2,151.6Z" fill="#7a6cc8"/><path d="M623.1,145.0 L625.3,144.0 L625.4,144.1 L624.6,148.5 L623.1,145.0Z" fill="#a06cc4"/><path d="M630.0,154.3 L630.5,154.5 L631.6,156.0 L630.9,157.9 L629.0,156.9 L628.9,154.9 L630.0,154.3Z" fill="#7a6cc8"/><path d="M622.7,144.8 L623.1,145.0 L624.6,148.5 L624.7,149.0 L624.3,150.0 L621.7,148.4 L622.7,144.8Z" fill="#9a6cc8"/><path d="M619.4,142.1 L617.0,141.6 L616.8,140.3 L617.3,140.1 L620.1,139.6 L619.4,142.1Z" fill="#7a6cc8"/><path d="M627.4,147.7 L627.8,148.3 L628.2,149.5 L626.0,151.1 L624.3,150.0 L624.7,149.0 L627.4,147.7Z" fill="#7a6cc8"/><path d="M628.2,149.5 L628.6,150.6 L627.8,151.9 L627.0,151.7 L626.0,151.1 L628.2,149.5Z" fill="#8a6cc8"/><path d="M630.0,151.4 L631.0,149.2 L634.6,150.4 L634.6,151.1 L635.4,152.6 L633.2,152.6 L630.2,151.6 L630.0,151.4Z" fill="#8a6cc8"/><path d="M631.0,149.2 L630.3,147.9 L631.5,145.2 L632.6,144.0 L634.2,145.0 L635.2,147.3 L634.7,149.6 L634.6,150.4 L631.0,149.2Z" fill="#7a6cc8"/><path d="M627.3,146.6 L628.2,145.4 L629.1,145.6 L630.0,147.9 L627.8,148.3 L627.4,147.7 L627.3,146.6Z" fill="#9a6cc8"/><path d="M625.3,144.0 L623.1,145.0 L622.7,144.8 L622.5,144.6 L622.5,140.6 L624.6,142.1 L624.9,142.1 L625.3,144.0Z" fill="#7a6cc8"/><path d="M622.5,144.6 L619.6,144.3 L619.4,142.1 L620.1,139.6 L621.3,139.3 L622.2,140.3 L622.5,140.6 L622.5,144.6Z" fill="#9a6cc8"/><path d="M625.3,144.0 L624.9,142.1 L627.1,142.1 L628.7,141.4 L628.6,141.6 L625.7,144.3 L625.4,144.1 L625.3,144.0Z" fill="#8a6cc8"/><path d="M625.7,144.3 L628.6,141.6 L628.2,145.4 L627.3,146.6 L625.7,144.3Z" fill="#8a6cc8"/><path d="M640.1,136.2 L640.9,136.0 L644.0,139.1 L644.9,142.7 L644.5,143.7 L640.6,142.4 L640.1,136.2Z" fill="#9a6cc8"/><path d="M640.6,142.4 L644.5,143.7 L646.2,147.1 L643.2,146.8 L640.7,147.2 L640.4,145.7 L640.1,143.1 L640.6,142.4Z" fill="#b06cc0"/><path d="M640.1,143.1 L640.4,145.7 L636.4,147.3 L635.2,147.3 L634.6,145.9 L636.8,142.8 L640.1,143.1Z" fill="#9a6cc8"/><path d="M631.3,142.9 L629.5,141.1 L630.9,141.3 L632.9,137.4 L634.0,136.4 L634.8,136.5 L635.1,139.4 L631.3,142.9Z" fill="#9a6cc8"/><path d="M644.5,143.7 L644.9,142.7 L645.0,142.8 L648.0,143.5 L646.3,147.1 L646.2,147.1 L644.5,143.7Z" fill="#9a6cc8"/><path d="M635.1,139.4 L634.8,136.5 L638.0,136.9 L640.1,136.2 L640.6,142.4 L640.1,143.1 L636.8,142.8 L635.1,139.4Z" fill="#b06cc0"/><path d="M640.4,145.7 L640.7,147.2 L640.1,147.3 L636.4,147.3 L640.4,145.7Z" fill="#9a6cc8"/><path d="M635.1,139.4 L636.8,142.8 L634.6,145.9 L634.2,145.0 L631.9,143.5 L631.3,142.9 L635.1,139.4Z" fill="#9a6cc8"/><path d="M637.1,151.3 L638.3,148.4 L640.6,153.3 L636.6,153.0 L637.1,151.3Z" fill="#9a6cc8"/><path d="M637.1,151.3 L634.8,148.9 L635.2,147.3 L638.4,147.3 L638.3,148.4 L637.1,151.3Z" fill="#8a6cc8"/><path d="M642.7,149.8 L641.2,147.1 L643.2,146.8 L646.3,147.1 L645.9,151.7 L645.2,152.0 L642.7,149.8Z" fill="#9a6cc8"/><path d="M636.6,153.0 L636.0,152.9 L634.6,151.1 L634.7,149.6 L634.8,148.9 L637.1,151.3 L636.6,153.0Z" fill="#8a6cc8"/><path d="M642.7,149.8 L645.2,152.0 L642.6,153.5 L640.7,153.3 L642.7,149.8Z" fill="#8a6cc8"/><path d="M638.3,148.4 L638.4,147.3 L640.1,147.3 L641.2,147.1 L642.7,149.8 L640.7,153.3 L640.6,153.3 L638.3,148.4Z" fill="#8a6cc8"/><path d="M640.3,160.6 L640.6,157.0 L644.0,156.0 L644.3,156.9 L645.1,159.6 L640.3,160.6Z" fill="#a86ac4"/><path d="M636.2,153.0 L642.6,153.5 L642.8,152.4 L644.0,156.0 L640.6,157.0 L636.2,153.0Z" fill="#9a6cc8"/><path d="M634.0,163.6 L636.6,165.8 L637.9,168.4 L633.2,167.6 L632.6,165.0 L634.0,163.6Z" fill="#a86ac4"/><path d="M639.7,161.5 L640.3,160.6 L645.1,159.6 L647.7,170.3 L642.4,169.3 L639.7,161.5Z" fill="#9a6cc8"/><path d="M636.6,165.8 L637.4,160.3 L639.7,161.5 L642.4,169.3 L637.9,168.4 L636.6,165.8Z" fill="#9a6cc8"/><path d="M634.6,157.2 L634.0,163.6 L632.6,165.0 L630.9,157.9 L632.2,154.5 L633.4,154.2 L634.6,157.2Z" fill="#9a6cc8"/><path d="M634.0,163.6 L634.6,157.2 L637.4,160.3 L636.6,165.8 L634.0,163.6Z" fill="#9a6cc8"/><path d="M639.7,161.5 L637.4,160.3 L634.6,157.2 L633.4,154.2 L635.8,153.5 L636.0,152.9 L636.2,153.0 L640.6,157.0 L640.3,160.6 L639.7,161.5Z" fill="#9a6cc8"/><path d="M640.9,136.0 L644.0,139.1 L645.0,142.8 L648.1,140.3 L645.6,136.7Z" fill="#8a6cc8"/><path d="M650.6,136.3 L654.1,134.6 L653.1,140.0 L651.5,139.1 L650.6,136.3Z" fill="#8a6cc8"/><path d="M647.8,131.7 L647.8,130.8 L648.9,126.8 L649.1,126.6 L649.1,126.6 L654.4,132.9 L654.5,133.8 L654.1,134.6 L650.6,136.3 L647.8,131.7Z" fill="#6a6cc8"/><path d="M656.1,136.3 L659.9,137.6 L660.1,137.8 L656.2,138.9 L656.1,136.3Z" fill="#7a6cc8"/><path d="M660.3,132.8 L661.0,138.5 L660.1,137.8 L659.9,137.6 L657.4,132.5 L658.5,131.3 L659.8,131.5 L660.3,132.8Z" fill="#8a6cc8"/><path d="M648.4,140.4 L649.3,144.0 L647.9,143.3 L645.0,142.8 L648.1,140.3 L647.7,139.9 L648.4,140.4Z" fill="#8a6cc8"/><path d="M653.9,141.0 L653.1,140.0 L654.1,134.6 L654.5,133.8 L656.1,136.3 L656.2,138.9 L656.1,139.4 L653.9,141.0Z" fill="#6a6cc8"/><path d="M656.1,139.4 L656.2,138.9 L660.1,137.8 L661.0,138.5 L661.8,139.7 L659.0,141.0 L656.1,139.4Z" fill="#6a6cc8"/><path d="M648.4,140.4 L647.7,139.9 L645.6,136.7 L645.0,136.6 L647.8,131.7 L650.6,136.3 L651.5,139.1 L648.4,140.4Z" fill="#5a6cc8"/><path d="M662.4,134.7 L663.0,132.2 L665.9,133.1 L666.0,137.2 L663.5,138.9 L663.5,138.9 L662.4,134.7Z" fill="#6a6cc8"/><path d="M642.1,130.5 L640.0,127.6 L640.4,127.5 L643.4,127.9 L642.1,130.5Z" fill="#7a6cc8"/><path d="M642.0,131.7 L642.2,130.6 L647.8,130.8 L647.8,131.7 L645.0,136.6 L644.5,136.5 L642.0,131.7Z" fill="#7a6cc8"/><path d="M637.3,136.8 L633.4,136.2 L633.1,134.0 L635.5,131.0 L634.2,128.4 L638.2,127.8 L638.4,134.0 L637.3,136.8Z" fill="#8a6cc8"/><path d="M640.0,132.1 L638.4,134.0 L638.2,127.8 L639.9,127.6 L640.0,132.1Z" fill="#6a6cc8"/><path d="M648.4,140.4 L651.5,139.1 L653.1,140.0 L653.9,141.0 L655.1,146.1 L654.8,146.6 L649.3,144.0 L648.4,140.4Z" fill="#5a6cc8"/><path d="M657.4,132.5 L654.4,132.9 L649.1,126.6 L652.7,126.6 L656.1,129.1 L657.0,131.0 L658.5,131.3 L657.4,132.5Z" fill="#5a6cc8"/><path d="M653.9,141.0 L656.1,139.4 L659.0,141.0 L657.9,141.6 L655.1,146.1 L653.9,141.0Z" fill="#6a6cc8"/><path d="M642.0,131.7 L644.5,136.5 L640.9,136.0 L638.0,136.9 L637.3,136.8 L638.4,134.0 L640.0,132.1 L642.0,131.7Z" fill="#8a6cc8"/><path d="M642.1,130.5 L642.2,130.6 L642.0,131.7 L640.0,132.1 L639.9,127.6 L640.0,127.6 L642.1,130.5Z" fill="#8a6cc8"/><path d="M643.4,127.9 L647.0,128.4 L648.9,126.8 L647.8,130.8 L642.2,130.6 L642.1,130.5 L643.4,127.9Z" fill="#7a6cc8"/><path d="M661.0,138.5 L660.3,132.8 L662.4,134.7 L663.5,138.9 L661.8,139.7 L661.0,138.5Z" fill="#8a6cc8"/><path d="M659.8,131.5 L662.2,131.9 L663.0,132.2 L662.4,134.7 L660.3,132.8 L659.8,131.5Z" fill="#5a6cc8"/><path d="M654.5,133.8 L654.4,132.9 L657.4,132.5 L659.9,137.6 L656.1,136.3 L654.5,133.8Z" fill="#8a6cc8"/><path d="M635.3,124.5 L638.4,120.7 L642.8,127.9 L640.4,127.5 L637.8,127.9 L635.3,124.5Z" fill="#4a6cbf"/><path d="M633.7,124.2 L634.8,128.4 L634.2,128.4 L633.2,126.6 L633.2,123.8 L633.7,124.2Z" fill="#4a6cbf"/><path d="M633.7,124.2 L635.3,124.5 L637.8,127.9 L634.8,128.4 L633.7,124.2Z" fill="#5a6cc8"/><path d="M643.1,118.7 L645.7,118.4 L646.5,121.0 L650.1,124.4 L649.1,126.6 L647.6,127.9 L645.4,123.2 L643.1,118.7Z" fill="#5a6cc8"/><path d="M638.4,120.7 L635.3,124.5 L633.7,124.2 L633.2,123.8 L633.2,123.0 L638.3,120.6 L638.4,120.6 L638.4,120.7Z" fill="#4a6cbf"/><path d="M647.6,127.9 L647.0,128.4 L642.8,127.9 L638.4,120.7 L638.4,120.6 L641.0,118.9 L643.1,118.7 L645.4,123.2 L647.6,127.9Z" fill="#5a6cc8"/><path d="M627.0,117.6 L630.6,117.6 L634.3,117.6 L637.9,117.6 L638.2,119.1 L638.3,120.6 L633.2,123.0 L631.8,121.9 L627.4,120.0Z" fill="#7a6cc8"/><path d="M627.4,114.5 L633.4,115.3 L635.9,114.7 L639.0,115.3 L640.9,118.4 L638.2,119.1 L637.9,117.6 L634.3,117.6 L630.6,117.6 L627.0,117.6Z" fill="#8a6cc8"/><path d="M627.6,110.4 L631.5,110.6 L635.4,110.8 L639.3,111.0 L639.0,115.3 L635.9,114.7 L633.4,115.3 L628.3,114.2Z" fill="#6a6cc8"/><path d="M611.5,105.8 L611.1,106.3 L611.9,110.4 L610.0,112.2 L606.5,113.7 L602.9,115.3 L600.0,110.7 L597.3,106.3 L602.6,102.2 L607.0,104.0 L611.5,105.8Z" fill="#8a6cc8"/><path d="M617.7,91.6 L622.8,92.6 L623.4,94.1 L622.6,94.2 L619.1,95.3 L618.3,96.0 L617.7,91.6Z" fill="#8a6cc8"/><path d="M624.8,89.9 L628.2,90.1 L631.6,90.2 L635.0,90.3 L638.4,90.4 L639.3,92.6 L637.1,93.1 L635.8,94.2 L633.7,93.1 L629.1,94.8 L628.9,94.8 L624.8,89.9Z" fill="#7a6cc8"/><path d="M622.8,92.6 L622.7,89.9 L624.8,89.9 L628.9,94.8 L625.4,94.0 L623.4,94.1 L622.8,92.6Z" fill="#6a6cc8"/><path d="M617.7,91.6 L617.4,91.0 L619.2,89.7 L622.7,89.9 L622.8,92.6 L617.7,91.6Z" fill="#7a6cc8"/><path d="M614.0,101.1 L613.4,102.6 L611.5,105.8 L607.0,104.0 L602.6,102.2 L606.7,99.1 L609.3,97.1 L614.0,101.1Z" fill="#7a6cc8"/><path d="M613.8,93.8 L617.4,91.0 L617.7,91.6 L618.3,96.0 L617.1,97.1 L613.8,93.8Z" fill="#6a6cc8"/><path d="M617.1,97.1 L614.8,99.1 L614.0,101.1 L609.3,97.1 L613.8,93.8 L617.1,97.1Z" fill="#8a6cc8"/><path d="M622.7,94.1 L619.1,95.3 L614.8,99.1 L613.4,102.6 L611.1,106.3 L611.9,110.4 L610.0,112.2 L610.9,116.3 L613.5,120.0 L616.6,120.0 L620.4,114.2 L620.9,108.2 L624.7,103.5 L629.9,99.4 L628.4,97.4 L625.9,95.1Z" fill="#b86cc0"/><path d="M633.9,103.2 L633.0,98.2 L632.0,93.7 L633.7,93.1 L635.2,94.3 L638.2,96.1 L637.3,97.6 L639.0,100.0 L639.6,101.3 L636.9,108.3 L633.9,103.2Z" fill="#9a6cc8"/><path d="M629.1,110.0 L626.7,110.2 L625.7,104.4 L627.9,101.8 L629.7,106.8 L629.1,110.0Z" fill="#9a6cc8"/><path d="M625.3,94.9 L622.7,94.1 L624.9,94.0 L625.3,94.9Z" fill="#9a6cc8"/><path d="M629.7,106.8 L633.9,103.2 L636.9,108.3 L637.3,109.3 L633.2,109.6 L629.1,110.0 L629.7,106.8Z" fill="#9a6cc8"/><path d="M633.9,103.2 L629.7,106.8 L627.9,101.8 L629.9,99.4 L628.4,97.4 L625.9,95.1 L625.3,94.9 L624.9,94.0 L625.4,94.0 L629.1,94.8 L632.0,93.7 L633.0,98.2 L633.9,103.2Z" fill="#8a6cc8"/><path d="M639.6,101.3 L639.8,101.7 L643.3,104.6 L640.7,107.3 L638.2,109.2 L637.3,109.3 L636.9,108.3 L639.6,101.3Z" fill="#8a6cc8"/><path d="M550.4,97.4 L553.9,97.4 L557.3,97.4 L560.8,97.4 L564.3,97.4 L567.8,97.4 L571.2,97.4 L570.8,100.8 L570.4,104.4 L566.8,104.4 L563.1,104.4 L559.5,104.4 L555.9,104.4 L552.2,104.4 L548.6,104.4Z" fill="#4a6cc0"/><path d="M578.0,118.4 L582.0,118.4 L586.0,118.4 L590.1,118.4 L594.1,118.4 L594.1,123.2 L594.2,128.1 L594.3,133.1 L590.0,133.1 L585.8,133.1 L581.6,133.1 L577.3,133.1Z" fill="#9a6cc8"/><path d="M576.6,112.2 L580.6,112.2 L584.7,112.2 L588.8,112.2 L588.7,120.2 L584.5,120.2 L580.3,120.2 L576.1,120.2Z" fill="#3e7a88"/><path d="M570.8,119.5 L575.7,119.5 L580.6,119.5 L580.4,124.5 L580.3,129.6 L575.2,129.6 L570.0,129.6Z" fill="#4a6cc0"/><path d="M649.0,108.1 L652.3,108.3 L649.9,111.1 L649.3,110.7 L649.0,108.1Z" fill="#4a6cbf"/><path d="M639.9,94.7 L641.2,97.2 L640.8,101.7 L640.4,102.2 L639.8,101.7 L639.0,100.0 L637.3,97.6 L638.2,96.1 L635.2,94.3 L636.1,93.8 L639.9,94.7Z" fill="#5a6cc8"/><path d="M655.1,80.1 L652.6,78.1 L653.3,78.1 L658.8,79.2 L664.4,80.4 L662.7,81.7 L660.7,83.1 L658.8,82.6 L655.1,80.1Z" fill="#3a7a80"/><path d="M670.0,148.1 L668.7,147.8 L664.3,145.3 L661.3,143.5 L660.8,141.6 L663.5,138.9 L665.7,137.4 L667.8,142.6 L670.0,148.1Z" fill="#6a6cc8"/><path d="M664.3,101.6 L659.9,101.8 L655.4,102.1 L649.8,97.7 L649.3,96.9 L650.6,93.2 L651.8,89.9 L652.9,90.1 L659.5,94.5 L666.4,99.5 L664.3,101.6Z" fill="#4a6cbf"/><path d="M651.8,89.9 L650.6,93.2 L649.3,96.9 L645.8,95.4 L642.8,93.4 L640.8,89.6 L638.7,86.2 L636.6,83.3 L637.6,83.1 L642.2,85.1 L646.9,87.4 L651.8,89.9Z" fill="#4a6cbf"/><path d="M689.4,112.4 L691.9,113.0 L694.2,114.8 L690.9,116.4 L689.4,112.4Z" fill="#7a6cc8"/><path d="M652.9,90.1 L651.8,89.9 L646.9,87.4 L642.2,85.1 L637.6,83.1 L639.1,81.4 L643.1,81.7 L647.2,82.4 L651.3,83.2 L655.5,84.0 L656.6,88.2 L652.9,90.1Z" fill="#5a6cc8"/><path d="M660.7,83.1 L669.4,87.3 L669.4,87.3 L666.2,87.7 L662.9,88.2 L659.6,88.6 L656.6,88.2 L655.5,84.0 L658.8,82.6 L660.7,83.1Z" fill="#4a6cbf"/><path d="M639.1,81.4 L638.7,79.4 L638.1,77.8 L637.3,76.6 L640.2,76.6 L643.1,76.6 L646.1,76.6 L652.6,78.1 L655.1,80.1 L652.8,80.4 L650.4,80.7 L648.0,81.1 L645.6,81.4 L643.1,81.7 L639.1,81.4Z" fill="#5a6cc8"/><path d="M639.9,94.7 L642.8,93.4 L645.8,95.4 L641.2,97.2 L639.9,94.7Z" fill="#5a6cc8"/><path d="M639.1,81.4 L637.6,83.1 L636.6,83.3 L632.7,83.4 L631.2,81.1 L629.8,79.2 L628.2,77.7 L626.6,76.6 L629.3,76.6 L632.0,76.6 L634.6,76.6 L637.3,76.6 L638.1,77.8 L638.7,79.4 L639.1,81.4Z" fill="#4a6cbf"/><path d="M679.1,131.9 L678.7,135.5 L684.5,140.1 L682.6,142.1 L682.7,146.6 L686.4,151.9 L685.2,153.7 L681.2,151.7 L678.0,150.4 L672.8,148.6 L670.0,148.1 L667.8,142.6 L665.7,137.4 L666.0,137.2 L665.9,133.1 L664.6,132.7 L669.1,130.7 L674.1,131.3 L679.1,131.9Z" fill="#9a6cc8"/><path d="M658.6,77.7 L659.7,76.6 L662.7,76.6 L666.8,78.1 L670.8,80.3 L668.1,80.6 L667.3,80.4 L658.6,77.7Z" fill="#3a7a80"/><path d="M658.6,115.5 L660.0,119.1 L656.5,122.8 L652.8,126.6 L652.7,126.6 L649.1,126.6 L650.1,124.4 L646.5,121.0 L645.7,118.4 L645.6,118.4 L648.1,117.4 L651.6,116.8 L655.1,116.2 L658.6,115.5Z" fill="#7a6cc8"/><path d="M649.9,111.1 L650.7,111.7 L648.1,117.4 L645.6,118.4 L640.9,118.4 L639.3,115.8 L642.5,114.1 L645.7,112.4 L648.8,110.8 L649.3,110.7 L649.9,111.1Z" fill="#4a6cbf"/><path d="M669.1,130.7 L666.0,126.0 L663.0,121.4 L669.5,119.5 L675.6,124.5 L681.8,129.7 L679.2,130.8 L679.1,131.9 L674.1,131.3 L669.1,130.7Z" fill="#7a6cc8"/><path d="M660.0,119.1 L663.0,121.4 L666.0,126.0 L669.1,130.7 L664.6,132.7 L662.2,131.9 L657.0,131.0 L656.1,129.1 L652.8,126.6 L656.5,122.8 L660.0,119.1Z" fill="#5a6cc8"/><path d="M664.4,80.4 L658.8,79.2 L653.3,78.1 L656.0,77.9 L658.6,77.7 L667.3,80.4 L664.4,80.4Z" fill="#3a7a80"/><path d="M680.6,93.7 L678.4,96.2 L676.0,98.8 L671.9,98.8 L667.8,95.2 L663.7,91.8 L659.6,88.6 L662.9,88.2 L666.2,87.7 L669.4,87.3 L675.0,90.4 L680.6,93.7Z" fill="#4a6cbf"/><path d="M700.2,124.5 L702.3,130.2 L699.7,130.8 L695.8,130.2 L691.9,129.6 L685.0,128.4 L684.6,128.6 L684.7,124.8 L685.7,122.0 L690.2,122.0 L694.8,121.9 L700.2,124.5Z" fill="#8a6cc8"/><path d="M680.6,93.7 L675.0,90.4 L669.4,87.3 L669.4,87.3 L669.2,84.8 L668.8,82.5 L668.1,80.6 L670.8,80.3 L673.6,82.4 L676.4,84.7 L679.1,87.4 L681.7,90.4 L684.2,93.6 L680.6,93.7Z" fill="#4a6cbf"/><path d="M687.4,111.3 L689.4,112.4 L690.9,116.4 L690.8,116.4 L687.4,111.3Z" fill="#4a6cbf"/><path d="M658.8,114.1 L658.7,114.0 L655.5,108.0 L654.7,103.6 L655.4,102.1 L659.9,101.8 L664.3,101.6 L666.5,107.8 L664.2,113.0 L658.8,114.1Z" fill="#5a6cc8"/><path d="M645.9,104.9 L649.0,108.1 L649.3,110.7 L648.8,110.8 L642.0,106.0 L643.3,104.6 L642.6,104.0 L645.9,104.9Z" fill="#4a6cbf"/><path d="M636.6,83.3 L638.7,86.2 L640.8,89.6 L642.8,93.4 L639.9,94.7 L636.1,93.8 L637.1,93.1 L635.7,89.5 L634.2,86.2 L632.7,83.4 L636.6,83.3Z" fill="#5a6cc8"/><path d="M649.0,108.1 L645.9,104.9 L650.3,104.3 L654.7,103.6 L655.5,108.0 L652.3,108.3 L649.0,108.1Z" fill="#5a6cc8"/><path d="M669.5,119.5 L668.4,116.2 L675.1,117.2 L684.7,124.8 L684.6,128.6 L681.8,129.7 L675.6,124.5 L669.5,119.5Z" fill="#7a6cc8"/><path d="M652.6,78.1 L646.1,76.6 L648.8,76.6 L651.5,76.6 L654.3,76.6 L657.0,76.6 L659.7,76.6 L658.6,77.7 L656.0,77.9 L653.3,78.1 L652.6,78.1Z" fill="#3a7a80"/><path d="M687.1,108.5 L683.2,107.0 L680.2,105.5 L676.0,98.8 L678.4,96.2 L680.6,93.7 L684.2,93.6 L686.7,97.3 L689.1,101.1 L691.5,105.2 L693.7,109.6 L687.1,108.5Z" fill="#4a6cbf"/><path d="M667.4,115.1 L668.4,116.2 L669.5,119.5 L663.0,121.4 L660.0,119.1 L658.6,115.5 L658.8,114.1 L664.2,113.0 L667.4,115.1Z" fill="#4a6cbf"/><path d="M675.1,117.2 L668.4,116.2 L667.4,115.1 L672.9,113.5 L675.1,117.2Z" fill="#6a6cc8"/><path d="M666.5,107.8 L664.3,101.6 L666.4,99.5 L671.9,98.8 L676.0,98.8 L680.2,105.5 L680.2,110.9 L676.5,111.2 L672.7,111.6 L666.5,107.8Z" fill="#4a6cbf"/><path d="M694.2,114.8 L691.9,113.0 L687.1,108.5 L693.7,109.6 L696.1,114.7 L694.2,114.8Z" fill="#7a6cc8"/><path d="M685.7,122.0 L683.0,116.3 L680.2,110.9 L680.2,105.5 L683.2,107.0 L687.4,111.3 L690.8,116.4 L688.3,119.2 L685.7,122.0Z" fill="#6a6cc8"/><path d="M659.6,88.6 L663.7,91.8 L667.8,95.2 L671.9,98.8 L666.4,99.5 L659.5,94.5 L652.9,90.1 L656.6,88.2 L659.6,88.6Z" fill="#4a6cbf"/><path d="M694.8,121.9 L698.1,119.2 L700.2,124.5 L694.8,121.9Z" fill="#9a6cc8"/><path d="M685.7,122.0 L684.7,124.8 L675.1,117.2 L672.9,113.5 L672.7,111.6 L676.5,111.2 L680.2,110.9 L683.0,116.3 L685.7,122.0 L685.7,122.0Z" fill="#7a6cc8"/><path d="M650.7,111.7 L654.7,112.8 L658.7,114.0 L658.8,114.1 L658.6,115.5 L655.1,116.2 L651.6,116.8 L648.1,117.4 L650.7,111.7Z" fill="#7a6cc8"/><path d="M645.8,95.4 L649.3,96.9 L649.8,97.7 L646.8,99.0 L643.8,100.3 L640.8,101.7 L641.2,97.2 L645.8,95.4Z" fill="#4a6cbf"/><path d="M655.5,84.0 L651.3,83.2 L647.2,82.4 L643.1,81.7 L645.6,81.4 L648.0,81.1 L650.4,80.7 L652.8,80.4 L655.1,80.1 L658.8,82.6 L655.5,84.0Z" fill="#3a7a80"/><path d="M672.9,113.5 L667.4,115.1 L664.2,113.0 L666.5,107.8 L672.7,111.6 L672.9,113.5Z" fill="#6a6cc8"/><path d="M648.8,110.8 L645.7,112.4 L642.5,114.1 L639.3,115.8 L639.0,115.3 L639.3,111.0 L638.2,109.2 L640.7,107.3 L642.0,106.0 L648.8,110.8Z" fill="#4a6cbf"/><path d="M640.8,101.7 L643.8,100.3 L646.8,99.0 L649.8,97.7 L655.4,102.1 L654.7,103.6 L650.3,104.3 L645.9,104.9 L642.6,104.0 L640.4,102.2 L640.8,101.7Z" fill="#4a6cbf"/><path d="M652.3,108.3 L655.5,108.0 L658.7,114.0 L654.7,112.8 L650.7,111.7 L649.9,111.1 L652.3,108.3Z" fill="#4a6cbf"/><path d="M689.4,112.4 L687.4,111.3 L683.2,107.0 L687.1,108.5 L691.9,113.0 L689.4,112.4Z" fill="#4a6cbf"/><path d="M694.8,121.9 L690.2,122.0 L685.7,122.0 L685.7,122.0 L688.3,119.2 L690.8,116.4 L690.9,116.4 L694.2,114.8 L696.1,114.7 L698.1,119.2 L694.8,121.9Z" fill="#7a6cc8"/><path d="M664.4,80.4 L667.3,80.4 L668.1,80.6 L668.8,82.5 L669.2,84.8 L669.4,87.3 L660.7,83.1 L662.7,81.7 L664.4,80.4Z" fill="#4a6cbf"/><path d="M775.6,117.6 L782.0,119.5 L789.1,126.1 L796.0,133.0 L795.4,133.1 L790.1,132.2 L784.9,131.2 L781.2,131.2 L774.0,128.3 L775.0,122.8 L775.6,117.6Z" fill="#8a6cc8"/><path d="M742.9,93.0 L746.9,97.7 L750.4,102.7 L750.0,102.6 L742.1,99.0 L734.3,95.7 L734.6,95.5 L737.4,94.6 L740.2,93.8 L742.9,93.0Z" fill="#2f7f6e"/><path d="M702.4,109.3 L711.1,114.1 L719.0,121.1 L714.9,120.6 L711.8,121.7 L708.6,122.8 L705.7,124.5 L702.7,126.2 L704.9,129.6 L702.3,130.2 L700.3,124.8 L698.3,119.6 L696.1,114.7 L693.9,109.9 L698.1,109.6 L702.4,109.3Z" fill="#4a6cbf"/><path d="M766.5,107.8 L766.3,105.1 L768.1,103.1 L771.0,101.8 L773.9,100.5 L777.9,104.2 L781.7,108.1 L785.4,112.1 L781.8,112.1 L778.2,112.2 L774.6,112.2 L771.0,112.3 L768.4,110.2 L766.5,107.8Z" fill="#5a6cc8"/><path d="M703.2,78.8 L696.8,77.5 L690.4,76.6 L693.3,76.6 L696.1,76.6 L699.0,76.6 L701.8,76.6 L707.2,77.7 L707.4,78.0 L705.4,78.4 L703.2,78.8Z" fill="#2f7f6e"/><path d="M768.4,110.2 L771.0,112.3 L775.6,117.6 L775.0,122.8 L774.0,128.3 L771.4,127.3 L768.7,128.0 L763.1,123.3 L757.4,118.8 L751.8,114.5 L756.3,112.7 L759.4,112.1 L762.4,111.5 L765.4,110.8 L768.4,110.2Z" fill="#3e7a94"/><path d="M730.5,116.5 L735.0,117.5 L739.5,118.6 L744.0,119.6 L747.9,124.2 L751.7,128.8 L755.4,133.6 L750.2,131.8 L745.1,130.1 L740.2,129.6 L735.1,126.7 L730.1,123.9 L724.4,122.0 L727.5,119.2 L730.5,116.5Z" fill="#3e7a94"/><path d="M716.0,105.6 L718.4,104.0 L720.7,102.5 L725.0,102.8 L727.0,107.2 L728.8,111.7 L730.5,116.5 L727.5,119.2 L724.4,122.0 L723.5,121.7 L719.0,121.1 L711.1,114.1 L713.7,109.7 L716.0,105.6Z" fill="#3e7a94"/><path d="M679.2,77.4 L680.7,78.9 L681.9,80.9 L682.8,83.2 L683.3,85.9 L683.6,89.0 L680.5,89.0 L677.8,86.1 L675.0,83.5 L672.1,81.2 L669.1,79.3 L666.0,77.7 L662.7,76.6 L665.5,76.6 L668.2,76.6 L670.9,76.6 L673.6,76.6 L676.3,76.6 L679.2,77.4Z" fill="#3a7a80"/><path d="M768.1,103.1 L762.1,98.8 L756.0,94.9 L749.8,91.2 L752.8,90.5 L755.7,89.8 L758.6,89.1 L763.9,92.6 L769.0,96.4 L773.9,100.5 L771.0,101.8 L768.1,103.1Z" fill="#3a7a80"/><path d="M743.1,92.8 L742.9,93.0 L740.2,93.8 L737.4,94.6 L734.6,95.5 L731.3,91.3 L727.8,87.6 L734.7,89.3 L743.1,92.8Z" fill="#3a7a80"/><path d="M719.4,77.0 L717.4,77.1 L715.4,77.2 L713.4,77.3 L711.4,77.4 L709.3,77.6 L707.2,77.7 L701.8,76.6 L704.5,76.6 L707.3,76.6 L710.0,76.6 L712.7,76.6 L715.4,76.6 L718.1,76.6 L719.4,77.0Z" fill="#2f7f6e"/><path d="M768.7,128.0 L765.2,128.8 L761.7,129.7 L758.3,130.6 L754.7,131.5 L755.9,133.8 L755.4,133.6 L751.7,128.8 L747.9,124.2 L744.0,119.6 L746.3,116.5 L748.4,113.4 L751.8,114.5 L757.4,118.8 L763.1,123.3 L768.7,128.0Z" fill="#4a6cbf"/><path d="M727.8,87.6 L717.3,84.1 L719.6,83.3 L721.7,82.6 L723.8,81.9 L727.7,81.7 L730.3,84.0 L732.6,86.5 L734.7,89.3 L727.8,87.6Z" fill="#2f7f6e"/><path d="M728.5,81.6 L728.5,80.6 L735.7,82.3 L743.0,84.1 L750.3,86.2 L757.7,88.5 L758.6,89.1 L755.7,89.8 L752.8,90.5 L749.8,91.2 L745.8,91.0 L740.2,87.5 L734.4,84.3 L728.5,81.6Z" fill="#2f7f6e"/><path d="M717.3,85.3 L721.1,88.7 L724.7,92.4 L728.1,96.5 L726.9,98.7 L720.8,95.6 L714.7,92.7 L708.7,90.0 L708.1,89.4 L710.6,88.3 L712.9,87.3 L715.2,86.3 L717.3,85.3Z" fill="#2f7f6e"/><path d="M727.7,81.7 L728.5,81.6 L734.4,84.3 L740.2,87.5 L745.8,91.0 L744.1,92.7 L743.1,92.8 L734.7,89.3 L732.6,86.5 L730.3,84.0 L727.7,81.7Z" fill="#2a8a5a"/><path d="M734.6,95.5 L734.3,95.7 L731.2,96.1 L728.1,96.5 L724.7,92.4 L721.1,88.7 L717.3,85.3 L716.4,84.0 L717.3,84.1 L727.8,87.6 L731.3,91.3 L734.6,95.5Z" fill="#3a7a80"/><path d="M716.0,105.6 L711.0,104.3 L705.9,103.1 L701.0,101.9 L697.9,95.7 L701.1,95.9 L705.9,97.4 L710.8,99.1 L715.7,100.7 L720.7,102.5 L718.4,104.0 L716.0,105.6Z" fill="#3a7a88"/><path d="M782.0,119.5 L787.4,120.3 L792.7,121.1 L796.7,126.5 L800.5,132.2 L796.0,133.0 L789.1,126.1 L782.0,119.5Z" fill="#4a6cbf"/><path d="M728.5,80.6 L724.2,78.5 L719.4,77.0 L718.1,76.6 L720.5,76.6 L722.9,76.6 L725.4,76.6 L731.2,77.7 L736.8,79.2 L742.3,81.0 L747.6,83.2 L752.7,85.7 L757.7,88.5 L750.3,86.2 L743.0,84.1 L735.7,82.3 L728.5,80.6Z" fill="#2f7f6e"/><path d="M702.4,109.3 L701.0,101.9 L705.9,103.1 L711.0,104.3 L716.0,105.6 L713.7,109.7 L711.1,114.1 L702.4,109.3Z" fill="#4a6cbf"/><path d="M708.7,90.0 L707.0,91.4 L705.1,92.8 L703.2,94.3 L701.1,95.9 L697.9,95.7 L690.8,92.3 L683.9,89.1 L686.6,88.7 L689.2,88.3 L691.9,87.9 L694.5,87.5 L697.1,87.1 L699.6,86.7 L702.2,86.3 L708.1,89.4 L708.7,90.0Z" fill="#2f7f6e"/><path d="M701.0,101.9 L702.4,109.3 L698.1,109.6 L693.9,109.9 L691.8,105.9 L689.7,102.2 L687.5,98.6 L685.3,95.2 L682.9,92.0 L680.5,89.0 L683.6,89.0 L683.9,89.1 L690.8,92.3 L697.9,95.7 L701.0,101.9Z" fill="#4a6cbf"/><path d="M743.1,92.8 L744.1,92.7 L751.6,96.6 L759.0,100.7 L766.3,105.1 L766.5,107.8 L761.3,106.2 L756.2,104.7 L751.1,103.2 L750.4,102.7 L746.9,97.7 L742.9,93.0 L743.1,92.8Z" fill="#2f7f6e"/><path d="M729.1,101.2 L727.7,100.6 L726.9,98.7 L728.1,96.5 L731.2,96.1 L734.3,95.7 L742.1,99.0 L750.0,102.6 L745.8,102.3 L741.6,102.0 L737.4,101.7 L733.2,101.5 L729.1,101.2Z" fill="#2f7f6e"/><path d="M717.3,84.1 L716.4,84.0 L712.6,82.8 L708.0,80.6 L703.2,78.8 L705.4,78.4 L707.4,78.0 L715.6,79.7 L723.8,81.9 L721.7,82.6 L719.6,83.3 L717.3,84.1Z" fill="#2a8a5a"/><path d="M727.7,81.7 L723.8,81.9 L715.6,79.7 L707.4,78.0 L707.2,77.7 L709.3,77.6 L711.4,77.4 L713.4,77.3 L715.4,77.2 L717.4,77.1 L719.4,77.0 L724.2,78.5 L728.5,80.6 L728.5,81.6 L727.7,81.7Z" fill="#3a7a80"/><path d="M749.8,91.2 L756.0,94.9 L762.1,98.8 L768.1,103.1 L766.3,105.1 L759.0,100.7 L751.6,96.6 L744.1,92.7 L745.8,91.0 L749.8,91.2Z" fill="#2f7f6e"/><path d="M702.2,86.3 L697.9,82.6 L700.8,82.7 L703.7,82.7 L706.7,82.7 L709.6,82.8 L712.6,82.8 L716.4,84.0 L717.3,85.3 L715.2,86.3 L712.9,87.3 L710.6,88.3 L708.1,89.4 L702.2,86.3Z" fill="#2f7f6e"/><path d="M751.1,103.2 L756.2,104.7 L761.3,106.2 L766.5,107.8 L768.4,110.2 L765.4,110.8 L762.4,111.5 L759.4,112.1 L756.3,112.7 L753.2,108.6 L750.1,104.7 L751.1,103.2Z" fill="#5a6cc8"/><path d="M750.4,102.7 L751.1,103.2 L750.1,104.7 L747.1,106.9 L744.0,109.3 L736.5,105.1 L729.1,101.2 L733.2,101.5 L737.4,101.7 L741.6,102.0 L745.8,102.3 L750.0,102.6 L750.4,102.7Z" fill="#2f7f6e"/><path d="M782.0,119.5 L775.6,117.6 L771.0,112.3 L774.6,112.2 L778.2,112.2 L781.8,112.1 L785.4,112.1 L789.2,116.5 L792.7,121.1 L787.4,120.3 L782.0,119.5Z" fill="#5a6cc8"/><path d="M679.2,77.4 L676.3,76.6 L679.1,76.6 L681.9,76.6 L684.8,76.6 L687.6,76.6 L690.4,76.6 L696.8,77.5 L703.2,78.8 L708.0,80.6 L712.6,82.8 L709.6,82.8 L706.7,82.7 L703.7,82.7 L700.8,82.7 L697.9,82.6 L691.6,80.5 L685.3,78.8 L679.2,77.4Z" fill="#2a8a5a"/><path d="M725.0,102.8 L727.7,100.6 L729.1,101.2 L736.5,105.1 L744.0,109.3 L748.4,113.4 L746.3,116.5 L744.0,119.6 L739.5,118.6 L735.0,117.5 L730.5,116.5 L728.8,111.7 L727.0,107.2 L725.0,102.8Z" fill="#4a6cbf"/><path d="M683.9,89.1 L683.6,89.0 L683.3,85.9 L682.8,83.2 L681.9,80.9 L680.7,78.9 L679.2,77.4 L685.3,78.8 L691.6,80.5 L697.9,82.6 L702.2,86.3 L699.6,86.7 L697.1,87.1 L694.5,87.5 L691.9,87.9 L689.2,88.3 L686.6,88.7 L683.9,89.1Z" fill="#2f7f6e"/><path d="M750.1,104.7 L753.2,108.6 L756.3,112.7 L751.8,114.5 L748.4,113.4 L744.0,109.3 L747.1,106.9 L750.1,104.7Z" fill="#4a6cbf"/><path d="M726.9,98.7 L727.7,100.6 L725.0,102.8 L720.7,102.5 L715.7,100.7 L710.8,99.1 L705.9,97.4 L701.1,95.9 L703.2,94.3 L705.1,92.8 L707.0,91.4 L708.7,90.0 L714.7,92.7 L720.8,95.6 L726.9,98.7Z" fill="#3a7a80"/><path d="M797.3,108.7 L789.1,104.5 L781.0,100.4 L772.8,96.6 L764.6,93.1 L758.2,88.8 L760.2,88.1 L762.1,87.4 L764.0,86.7 L765.8,86.1 L772.4,87.8 L779.0,89.6 L785.6,91.5 L792.3,93.5 L796.8,97.1 L801.0,100.9 L805.1,104.9 L808.9,109.2 L805.0,109.0 L801.2,108.9 L797.3,108.7Z" fill="#3e7a94"/><path d="M831.0,110.1 L838.0,114.2 L845.0,118.6 L851.9,123.1 L858.7,127.7 L855.4,128.4 L852.0,129.2 L848.6,129.9 L845.2,130.7 L841.8,131.4 L838.3,132.2 L834.9,132.9 L830.9,127.6 L826.8,122.5 L822.4,117.5 L817.9,112.8 L821.1,111.7 L824.2,110.7 L827.3,109.7 L831.0,110.1Z" fill="#3a7a88"/><path d="M814.3,81.7 L814.2,82.1 L801.3,79.8 L788.3,77.9 L776.0,76.6 L779.0,76.6 L781.9,76.6 L784.9,76.6 L787.8,76.6 L797.0,77.8 L805.9,79.6 L814.3,81.7Z" fill="#3a7a88"/><path d="M832.3,81.9 L831.7,80.9 L831.0,79.9 L839.6,81.9 L848.0,84.2 L856.1,86.9 L864.0,89.8 L871.6,92.9 L878.9,96.4 L886.0,100.0 L882.3,100.3 L878.6,100.6 L871.7,98.8 L864.9,97.0 L859.1,93.4 L852.9,90.1 L846.4,87.0 L839.5,84.3 L832.3,81.9Z" fill="#2a8a5a"/><path d="M873.1,114.8 L869.6,110.2 L865.8,105.7 L861.6,101.5 L857.1,97.6 L861.0,97.3 L864.9,97.0 L871.7,98.8 L878.6,100.6 L884.3,104.5 L889.7,108.6 L894.8,112.8 L899.7,117.3 L898.3,119.8 L896.8,122.3 L895.2,124.9 L884.2,119.7 L873.1,114.8Z" fill="#3a7a88"/><path d="M817.9,112.8 L808.9,109.2 L805.1,104.9 L801.0,100.9 L796.8,97.1 L792.3,93.5 L794.5,93.3 L801.5,95.7 L808.5,98.3 L815.5,100.9 L821.5,105.2 L827.3,109.7 L824.2,110.7 L821.1,111.7 L817.9,112.8Z" fill="#5a6cc8"/><path d="M788.3,77.9 L790.5,78.9 L792.4,80.1 L794.0,81.4 L792.5,80.9 L786.5,79.1 L780.3,77.7 L773.7,76.6 L776.0,76.6 L788.3,77.9Z" fill="#3a7a88"/><path d="M815.5,100.9 L814.6,97.6 L813.4,94.5 L811.8,91.5 L814.9,91.0 L817.9,90.5 L824.9,94.3 L831.6,98.5 L838.0,103.0 L836.4,104.7 L834.7,106.5 L832.9,108.3 L831.0,110.1 L827.3,109.7 L821.5,105.2 L815.5,100.9Z" fill="#3e7a94"/><path d="M834.9,132.9 L838.3,132.2 L841.8,131.4 L845.2,130.7 L848.6,129.9 L852.0,129.2 L855.4,128.4 L858.7,127.7 L861.5,128.5 L868.2,133.4 L874.9,138.4 L881.4,143.6 L879.2,146.2 L877.0,148.8 L874.6,151.5 L872.2,154.2 L869.7,156.9 L864.8,156.2 L860.0,155.5 L855.1,154.9 L850.3,154.2 L847.5,150.4 L848.3,144.0 L846.0,136.2 L840.4,135.1 L834.9,134.0 L834.9,132.9Z" fill="#8a6cc8"/><path d="M795.9,118.3 L803.4,122.6 L810.8,127.1 L809.0,132.4 L804.7,131.5 L800.5,132.2 L796.0,125.5 L791.2,119.0 L795.9,118.3Z" fill="#4a6cbf"/><path d="M814.2,82.1 L817.2,83.9 L819.9,86.0 L822.3,88.2 L819.3,88.6 L816.3,89.0 L803.8,85.2 L794.0,81.4 L792.4,80.1 L790.5,78.9 L788.3,77.9 L801.3,79.8 L814.2,82.1Z" fill="#2a8a5a"/><path d="M797.3,108.7 L796.8,113.4 L795.9,118.3 L791.2,119.0 L787.2,114.1 L783.0,109.4 L778.7,105.0 L774.2,100.7 L769.5,96.8 L764.6,93.1 L772.8,96.6 L781.0,100.4 L789.1,104.5 L797.3,108.7Z" fill="#3e7a94"/><path d="M832.3,81.9 L829.3,81.9 L826.3,81.8 L823.3,81.8 L820.3,81.8 L817.3,81.8 L814.3,81.7 L805.9,79.6 L797.0,77.8 L787.8,76.6 L790.4,76.6 L793.0,76.6 L795.6,76.6 L798.1,76.6 L800.7,76.6 L803.3,76.6 L805.9,76.6 L808.5,76.6 L819.9,78.0 L831.0,79.9 L831.7,80.9 L832.3,81.9Z" fill="#3a7a88"/><path d="M834.9,132.9 L834.9,134.0 L830.2,133.1 L822.8,125.7 L815.8,123.9 L811.6,124.4 L810.8,127.1 L803.4,122.6 L795.9,118.3 L796.8,113.4 L797.3,108.7 L801.2,108.9 L805.0,109.0 L808.9,109.2 L817.9,112.8 L822.4,117.5 L826.8,122.5 L830.9,127.6 L834.9,132.9Z" fill="#5a6cc8"/><path d="M794.5,93.3 L796.2,92.2 L797.8,91.1 L801.3,91.2 L804.8,91.3 L808.3,91.4 L811.8,91.5 L813.4,94.5 L814.6,97.6 L815.5,100.9 L808.5,98.3 L801.5,95.7 L794.5,93.3Z" fill="#4a6cbf"/><path d="M758.2,88.8 L753.2,85.9 L748.0,83.4 L742.6,81.1 L737.0,79.2 L731.3,77.7 L725.4,76.6 L727.9,76.6 L730.5,76.6 L733.0,76.6 L735.6,76.6 L738.1,76.6 L740.7,76.6 L749.0,77.9 L757.2,79.6 L760.4,81.5 L763.3,83.6 L765.8,86.1 L764.0,86.7 L762.1,87.4 L760.2,88.1 L758.2,88.8Z" fill="#2a8a5a"/><path d="M822.3,88.2 L829.2,89.9 L836.2,91.7 L843.1,93.6 L850.1,95.5 L857.1,97.6 L861.6,101.5 L865.8,105.7 L869.6,110.2 L873.1,114.8 L867.8,114.2 L862.5,113.6 L854.3,109.9 L846.2,106.4 L838.0,103.0 L831.6,98.5 L824.9,94.3 L817.9,90.5 L816.3,89.0 L819.3,88.6 L822.3,88.2Z" fill="#2f7f6e"/><path d="M886.0,100.0 L894.6,105.0 L902.8,110.2 L901.9,112.5 L900.9,114.9 L899.7,117.3 L894.8,112.8 L889.7,108.6 L884.3,104.5 L878.6,100.6 L882.3,100.3 L886.0,100.0Z" fill="#2f7f6e"/><path d="M797.8,91.1 L796.2,92.2 L794.5,93.3 L792.3,93.5 L785.6,91.5 L779.0,89.6 L772.4,87.8 L765.8,86.1 L763.3,83.6 L760.4,81.5 L757.2,79.6 L760.7,79.9 L764.2,80.1 L767.8,80.3 L771.4,80.6 L778.3,82.7 L785.0,85.2 L791.5,88.0 L797.8,91.1Z" fill="#3a7a88"/><path d="M814.3,81.7 L817.3,81.8 L820.3,81.8 L823.3,81.8 L826.3,81.8 L829.3,81.9 L832.3,81.9 L839.5,84.3 L846.4,87.0 L852.9,90.1 L859.1,93.4 L864.9,97.0 L861.0,97.3 L857.1,97.6 L850.1,95.5 L843.1,93.6 L836.2,91.7 L829.2,89.9 L822.3,88.2 L819.9,86.0 L817.2,83.9 L814.2,82.1 L814.3,81.7Z" fill="#2a8a5a"/><path d="M873.1,114.8 L884.2,119.7 L895.2,124.9 L893.7,127.2 L892.0,129.5 L890.2,131.9 L888.2,134.8 L886.1,137.7 L883.8,140.6 L881.4,143.6 L874.9,138.4 L868.2,133.4 L861.5,128.5 L862.1,124.6 L862.5,120.8 L862.6,117.1 L862.5,113.6 L867.8,114.2 L873.1,114.8Z" fill="#6a6cc8"/><path d="M792.5,80.9 L783.5,79.1 L774.5,77.7 L765.3,76.6 L768.1,76.6 L770.9,76.6 L773.7,76.6 L780.3,77.7 L786.5,79.1 L792.5,80.9Z" fill="#2a8a5a"/><path d="M775.9,80.1 L773.6,80.3 L771.4,80.6 L767.8,80.3 L764.2,80.1 L760.7,79.9 L757.2,79.6 L749.0,77.9 L740.7,76.6 L743.3,76.6 L745.8,76.6 L748.4,76.6 L751.0,76.6 L753.5,76.6 L756.1,76.6 L758.7,76.6 L761.2,76.6 L768.8,78.1 L775.9,80.1Z" fill="#2f7f6e"/><path d="M792.5,80.9 L794.0,81.4 L803.8,85.2 L796.8,83.8 L789.8,82.5 L782.8,81.3 L775.9,80.1 L768.8,78.1 L761.2,76.6 L765.3,76.6 L774.5,77.7 L783.5,79.1 L792.5,80.9Z" fill="#2a8a5a"/><path d="M838.0,103.0 L846.2,106.4 L854.3,109.9 L862.5,113.6 L862.6,117.1 L862.5,120.8 L862.1,124.6 L861.5,128.5 L858.7,127.7 L851.9,123.1 L845.0,118.6 L838.0,114.2 L831.0,110.1 L832.9,108.3 L834.7,106.5 L836.4,104.7 L838.0,103.0Z" fill="#4a6cbf"/><path d="M816.3,89.0 L817.9,90.5 L814.9,91.0 L811.8,91.5 L808.3,91.4 L804.8,91.3 L801.3,91.2 L797.8,91.1 L791.5,88.0 L785.0,85.2 L778.3,82.7 L771.4,80.6 L773.6,80.3 L775.9,80.1 L782.8,81.3 L789.8,82.5 L796.8,83.8 L803.8,85.2 L816.3,89.0Z" fill="#3a7a88"/><path d="M731.6,94.2 L734.9,94.3 L738.2,94.5 L741.5,94.6 L744.8,94.7 L748.1,94.9 L751.5,95.0 L754.8,95.2 L758.1,95.3 L761.5,95.5 L764.8,95.6 L768.2,95.8 L764.0,92.6 L759.7,89.7 L755.2,87.0 L750.6,84.6 L745.8,82.4 L740.9,80.5 L735.9,78.9 L730.7,77.6 L725.4,76.6 L719.9,76.0 L714.2,75.8 L712.0,75.8 L709.8,75.8 L707.5,75.8 L705.3,75.8 L703.1,75.8 L700.9,75.8 L698.7,75.8 L696.5,75.8 L694.3,75.8 L692.1,75.8 L689.9,75.8Z" fill="#2f7f6e"/><path d="M768.2,95.8 L771.6,95.8 L775.0,95.9 L778.4,96.0 L781.9,96.1 L785.3,96.1 L788.7,96.2 L792.2,96.3 L795.6,96.4 L799.0,96.4 L802.5,96.5 L805.9,96.6 L800.8,93.3 L795.5,90.3 L790.0,87.5 L784.3,85.0 L778.5,82.7 L772.5,80.7 L766.3,79.0 L759.9,77.7 L753.4,76.6 L746.6,76.0 L739.6,75.8 L737.3,75.8 L735.0,75.8 L732.6,75.8 L730.3,75.8 L728.0,75.8 L725.7,75.8 L723.4,75.8 L721.1,75.8 L718.8,75.8 L716.5,75.8 L714.2,75.8Z" fill="#3a7a80"/><path d="M805.9,96.6 L809.2,96.7 L812.6,96.7 L815.9,96.8 L819.2,96.9 L822.6,97.0 L825.9,97.1 L829.2,97.2 L832.6,97.2 L835.9,97.3 L839.3,97.4 L833.3,94.0 L827.1,90.9 L820.7,88.0 L814.1,85.4 L807.3,83.0 L800.3,80.9 L793.0,79.2 L785.5,77.7 L777.8,76.7 L769.9,76.0 L761.7,75.8 L759.4,75.8 L757.2,75.8 L755.0,75.8 L752.8,75.8 L750.6,75.8 L748.4,75.8 L746.2,75.8 L744.0,75.8 L741.8,75.8 L739.6,75.8Z" fill="#2f7f6e"/><path d="M839.3,97.4 L847.5,100.0 L855.8,102.6 L860.2,103.3 L864.7,104.1 L869.2,104.8 L873.7,105.6 L878.2,106.3 L881.9,106.3 L885.6,106.3 L889.4,106.3 L893.1,106.3 L896.8,106.3 L890.6,102.6 L884.3,99.1 L877.7,95.8 L870.9,92.6 L863.9,89.7 L856.6,87.0 L849.2,84.6 L841.5,82.4 L833.6,80.5 L825.5,78.9 L817.1,77.6 L808.5,76.6 L799.5,76.0 L790.4,75.8 L788.2,75.8 L786.0,75.8 L783.7,75.8 L781.5,75.8 L779.3,75.8 L777.1,75.8 L774.9,75.8 L772.7,75.8 L770.5,75.8 L768.3,75.8 L766.1,75.8 L763.9,75.8 L761.7,75.8Z" fill="#3a7a88"/><path d="M842.6,96.6 L846.2,96.7 L849.8,96.9 L853.5,97.0 L857.1,97.2 L860.7,97.3 L864.4,97.5 L868.0,97.6 L871.6,97.8 L875.3,97.9 L879.0,98.1 L882.6,98.2 L875.5,94.7 L868.2,91.5 L860.6,88.5 L852.8,85.7 L844.7,83.3 L836.3,81.1 L827.7,79.3 L818.8,77.8 L809.6,76.7 L800.2,76.0 L790.4,75.8 L788.1,75.8 L785.7,75.8 L783.4,75.8 L781.1,75.8 L778.8,75.8 L776.5,75.8 L774.2,75.8 L771.9,75.8 L769.6,75.8 L767.3,75.8 L765.0,75.8Z" fill="#1f8a50"/><path d="M668.7,147.8 L672.8,148.6 L678.0,150.4 L681.2,151.7 L685.2,153.7 L686.4,151.9 L689.8,156.1 L688.8,161.1 L683.8,159.8 L680.2,158.7 L677.4,156.9 L676.8,154.2 L672.7,152.7 L668.9,149.1Z" fill="#8a6cc8"/><path d="M686.8,157.2 L687.2,157.2 L689.3,158.7 L688.8,161.1 L686.5,160.5 L686.8,157.2Z" fill="#6a6cc8"/><path d="M679.2,158.0 L678.5,157.6 L683.7,152.9 L685.1,153.7 L685.7,155.9 L679.2,158.0Z" fill="#6a6cc8"/><path d="M687.2,157.2 L689.0,155.0 L689.8,156.1 L689.3,158.7 L687.2,157.2Z" fill="#9a6cc8"/><path d="M685.7,155.9 L686.8,157.2 L686.5,160.5 L683.8,159.8 L680.2,158.7 L679.2,158.0 L685.7,155.9Z" fill="#8a6cc8"/><path d="M686.8,157.2 L685.7,155.9 L685.1,153.7 L685.2,153.7 L686.4,151.9 L689.0,155.0 L687.2,157.2 L686.8,157.2Z" fill="#9a6cc8"/><path d="M678.5,157.6 L677.4,156.9 L676.8,154.2 L672.7,152.7 L668.9,149.1 L668.7,147.8 L672.8,148.6 L678.0,150.4 L681.2,151.7 L683.7,152.9 L678.5,157.6Z" fill="#9a6cc8"/><path d="M680.2,136.6 L678.7,135.5 L679.2,130.8 L685.0,128.4 L691.9,129.6 L695.5,130.1 L697.9,139.4 L693.4,138.7 L689.0,138.0 L684.6,137.3 L680.2,136.6Z" fill="#3e7a94"/><path d="M710.6,147.1 L703.7,142.8 L706.8,138.3 L708.2,138.1 L716.4,141.7 L710.6,147.1Z" fill="#3a7a88"/><path d="M736.0,135.3 L740.0,133.9 L744.0,132.6 L747.9,131.2 L754.4,133.8 L752.4,135.5 L749.2,139.1 L749.9,143.5 L745.5,144.0 L748.0,149.3 L743.7,149.1 L739.4,148.8 L737.8,142.0 L736.0,135.3Z" fill="#3e7a94"/><path d="M706.8,138.3 L703.7,142.8 L703.7,142.8 L700.6,143.6 L697.9,139.4 L695.5,130.1 L699.7,130.8 L701.9,130.3 L706.8,138.3Z" fill="#4a6cbf"/><path d="M719.1,133.6 L714.0,128.1 L708.9,122.7 L714.9,120.6 L719.6,121.2 L720.2,126.7 L720.5,132.4 L719.1,133.6Z" fill="#3a7a88"/><path d="M721.8,141.6 L716.4,141.7 L708.2,138.1 L707.8,133.2 L707.3,128.5 L706.7,123.9 L708.6,122.8 L708.9,122.7 L714.0,128.1 L719.1,133.6 L721.8,141.6Z" fill="#4a6cbf"/><path d="M729.2,151.7 L727.1,153.5 L721.4,154.2 L716.5,151.0 L711.7,147.8 L710.6,147.1 L716.4,141.7 L721.8,141.6 L725.5,146.6 L729.2,151.7Z" fill="#3a7a88"/><path d="M729.0,126.5 L724.8,129.4 L720.5,132.4 L720.2,126.7 L719.6,121.2 L723.5,121.7 L728.3,123.3 L729.0,126.5Z" fill="#3a7a88"/><path d="M699.5,146.1 L701.2,152.9 L694.4,153.5 L689.3,148.0 L694.4,147.0 L699.5,146.1Z" fill="#3e7a94"/><path d="M689.3,148.0 L687.9,146.6 L684.5,140.1 L680.2,136.6 L684.6,137.3 L689.0,138.0 L693.4,138.7 L697.9,139.4 L700.6,143.6 L699.0,144.0 L699.5,146.1 L694.4,147.0 L689.3,148.0Z" fill="#3e7a94"/><path d="M708.2,138.1 L706.8,138.3 L701.9,130.3 L704.9,129.6 L702.7,126.2 L706.7,123.9 L707.3,128.5 L707.8,133.2 L708.2,138.1Z" fill="#3e7a94"/><path d="M736.0,135.3 L737.8,142.0 L739.4,148.8 L735.4,148.6 L731.3,149.9 L730.1,150.9 L729.2,151.7 L725.5,146.6 L721.8,141.6 L719.1,133.6 L720.5,132.4 L724.8,129.4 L729.0,126.5 L736.0,135.3Z" fill="#3a7a88"/><path d="M736.0,135.3 L729.0,126.5 L728.3,123.3 L730.1,123.9 L735.1,126.7 L740.2,129.6 L745.1,130.1 L747.9,131.2 L744.0,132.6 L740.0,133.9 L736.0,135.3Z" fill="#3e7a94"/><path d="M713.1,149.5 L708.8,158.8 L705.5,155.2 L704.5,152.0 L706.4,144.5 L711.7,147.8 L712.9,148.6 L713.1,149.5Z" fill="#4a6cbf"/><path d="M720.7,161.0 L722.4,157.9 L726.0,159.1 L725.8,159.5 L727.7,164.3 L725.0,164.0 L721.0,163.8 L720.7,161.0Z" fill="#3a7a88"/><path d="M720.7,161.0 L721.0,163.8 L716.3,163.5 L715.0,167.6 L711.8,164.6 L713.4,158.8 L714.8,153.0 L720.7,161.0Z" fill="#4a6cbf"/><path d="M722.4,157.9 L720.7,161.0 L714.8,153.0 L713.1,149.5 L712.9,148.6 L721.4,154.2 L722.7,154.1 L722.4,157.9Z" fill="#3e7a94"/><path d="M704.5,152.0 L705.5,155.2 L702.3,157.8 L701.6,157.8 L696.7,153.3 L701.2,152.9 L700.7,150.8 L704.5,152.0Z" fill="#3e7a94"/><path d="M701.6,157.8 L700.4,163.7 L699.5,164.0 L697.0,158.7 L694.4,153.5 L696.7,153.3 L701.6,157.8Z" fill="#4a6cbf"/><path d="M711.8,164.6 L711.3,164.2 L708.8,158.8 L713.1,149.5 L714.8,153.0 L713.4,158.8 L711.8,164.6Z" fill="#3e7a94"/><path d="M722.7,154.1 L727.1,153.5 L727.7,155.5 L726.0,159.1 L722.4,157.9 L722.7,154.1Z" fill="#4a6cbf"/><path d="M701.6,157.8 L702.3,157.8 L704.8,162.3 L700.4,163.7 L701.6,157.8Z" fill="#3a7a88"/><path d="M704.5,152.0 L700.7,150.8 L699.0,144.0 L703.7,142.8 L706.4,144.5 L704.5,152.0Z" fill="#3e7a94"/><path d="M702.3,157.8 L705.5,155.2 L708.8,158.8 L711.3,164.2 L710.5,163.5 L705.4,162.2 L704.8,162.3 L702.3,157.8Z" fill="#3e7a94"/><path d="M727.7,153.0 L729.2,151.7 L731.8,154.7 L731.7,156.3 L731.7,156.3 L727.7,153.0Z" fill="#2f7f6e"/><path d="M736.7,154.9 L734.6,153.9 L733.9,153.1 L734.4,150.6 L736.1,150.8 L737.8,151.7 L736.7,154.9Z" fill="#5a5a6a"/><path d="M746.1,151.4 L745.9,153.3 L745.5,153.5 L741.5,148.9 L745.7,149.2 L746.1,151.4Z" fill="#5a5a6a"/><path d="M735.7,149.5 L735.2,148.6 L735.4,148.6 L737.6,148.7 L735.7,149.5Z" fill="#2f7f6e"/><path d="M734.4,150.6 L733.9,153.1 L733.7,153.0 L730.8,150.3 L731.3,149.9 L733.8,149.1 L734.4,150.6Z" fill="#5a5a6a"/><path d="M729.6,159.6 L727.2,161.8 L725.8,159.5 L727.0,157.1 L729.6,159.6Z" fill="#3e7a94"/><path d="M739.6,150.3 L742.7,154.8 L740.5,155.9 L739.2,151.1 L739.6,150.3Z" fill="#5a5a6a"/><path d="M729.2,151.7 L730.1,150.9 L730.8,150.3 L733.7,153.0 L731.8,154.7 L729.2,151.7Z" fill="#5a5a6a"/><path d="M733.6,162.4 L733.3,162.2 L731.3,157.4 L731.7,156.3 L731.7,156.3 L732.4,156.7 L733.4,157.3 L733.6,162.4Z" fill="#2f7f6e"/><path d="M737.4,160.7 L738.3,159.2 L742.0,163.5 L740.2,164.0 L737.4,160.7Z" fill="#5a5a6a"/><path d="M734.4,150.6 L733.8,149.1 L735.2,148.6 L735.7,149.5 L736.1,150.8 L734.4,150.6Z" fill="#2f7f6e"/><path d="M731.7,156.3 L731.8,154.7 L733.7,153.0 L733.9,153.1 L734.6,153.9 L734.6,154.3 L732.4,156.7 L731.7,156.3Z" fill="#5a5a6a"/><path d="M734.9,163.7 L735.2,164.7 L728.7,164.3 L728.6,164.2 L731.4,161.6 L733.3,162.2 L733.6,162.4 L734.9,163.7Z" fill="#5a5a6a"/><path d="M734.5,157.4 L737.0,160.8 L734.9,163.7 L733.6,162.4 L733.4,157.3 L734.5,157.4Z" fill="#555a66"/><path d="M734.9,163.7 L737.0,160.8 L737.4,160.7 L740.2,164.0 L737.3,164.8 L735.2,164.7 L734.9,163.7Z" fill="#5a5a6a"/><path d="M729.6,159.6 L729.6,159.6 L731.4,161.6 L728.6,164.2 L727.2,161.8 L729.6,159.6Z" fill="#5a5a6a"/><path d="M736.1,150.8 L735.7,149.5 L737.6,148.7 L739.7,148.8 L739.6,150.3 L739.2,151.1 L737.8,151.7 L736.1,150.8Z" fill="#4a6cbf"/><path d="M746.1,151.4 L747.9,149.7 L746.7,152.9 L745.9,153.3 L746.1,151.4Z" fill="#3e7a94"/><path d="M736.7,154.9 L737.8,151.7 L739.2,151.1 L740.5,155.9 L739.5,156.3 L738.4,157.3 L736.7,154.9Z" fill="#3e7a94"/><path d="M729.6,159.6 L729.6,159.6 L727.0,157.1 L727.7,155.5 L727.6,155.2 L730.2,157.5 L729.6,159.6Z" fill="#3e7a94"/><path d="M731.4,161.6 L729.6,159.6 L730.2,157.5 L731.3,157.4 L733.3,162.2 L731.4,161.6Z" fill="#555a66"/><path d="M737.4,160.7 L737.0,160.8 L734.5,157.4 L734.6,154.3 L734.6,153.9 L736.7,154.9 L738.4,157.3 L737.5,158.2 L738.3,159.2 L737.4,160.7Z" fill="#3e7a94"/><path d="M732.4,156.7 L734.6,154.3 L734.5,157.4 L733.4,157.3 L732.4,156.7Z" fill="#4a6cbf"/><path d="M746.1,151.4 L745.7,149.2 L748.0,149.3 L747.9,149.7 L746.1,151.4Z" fill="#4a6cbf"/><path d="M739.6,150.3 L739.7,148.8 L741.5,148.9 L745.5,153.5 L742.7,154.8 L739.6,150.3Z" fill="#2f7f6e"/><path d="M731.7,156.3 L731.3,157.4 L730.2,157.5 L727.6,155.2 L727.1,153.5 L727.7,153.0 L731.7,156.3Z" fill="#4a6cbf"/><path d="M775.0,137.6 L775.2,138.5 L772.4,141.7 L769.4,144.9 L765.3,142.8 L757.1,135.5 L755.9,133.8 L754.7,131.5 L758.6,130.5 L762.5,129.5 L766.4,128.6 L775.0,137.6Z" fill="#3a7a88"/><path d="M790.5,132.6 L789.3,140.6 L787.0,141.6 L782.4,136.5 L777.8,131.6 L776.2,129.2 L781.2,131.2 L784.9,131.2 L790.4,132.2 L790.5,132.6Z" fill="#2a8a5a"/><path d="M804.4,131.5 L804.7,131.5 L809.0,132.4 L820.5,140.3 L814.3,142.0 L809.4,136.7 L804.4,131.5Z" fill="#3a7a88"/><path d="M803.8,140.4 L797.5,138.9 L790.5,132.6 L790.4,132.2 L795.4,133.1 L800.4,132.2 L803.8,140.4Z" fill="#2a8a5a"/><path d="M766.4,128.6 L771.4,127.3 L776.2,129.2 L777.8,131.6 L775.0,137.6 L766.4,128.6Z" fill="#3a7a88"/><path d="M803.8,140.4 L807.5,145.1 L807.1,145.3 L806.8,145.7 L798.7,144.8 L797.5,138.9 L803.8,140.4Z" fill="#2f7f6e"/><path d="M798.7,144.8 L798.1,145.4 L789.3,140.6 L790.5,132.6 L797.5,138.9 L798.7,144.8Z" fill="#3a7a88"/><path d="M775.2,138.5 L781.2,142.3 L787.1,146.0 L788.1,150.4 L780.3,150.4 L774.8,147.6 L769.4,144.9 L772.4,141.7 L775.2,138.5Z" fill="#3a7a88"/><path d="M787.1,146.0 L787.0,141.6 L789.3,140.6 L798.1,145.4 L801.1,151.4 L798.0,152.7 L793.6,151.5 L789.1,150.4 L788.1,150.4 L787.1,146.0Z" fill="#4a6cbf"/><path d="M777.8,131.6 L782.4,136.5 L787.0,141.6 L787.1,146.0 L781.2,142.3 L775.2,138.5 L775.0,137.6 L777.8,131.6Z" fill="#2a8a5a"/><path d="M800.4,132.2 L804.4,131.5 L809.4,136.7 L814.3,142.0 L812.4,142.5 L807.5,145.1 L803.8,140.4 L800.4,132.2Z" fill="#2f7f6e"/><path d="M806.8,145.7 L803.0,150.6 L801.1,151.4 L798.1,145.4 L798.7,144.8 L806.8,145.7Z" fill="#2f7f6e"/><path d="M641.6,150.4 L645.9,151.4 L648.1,153.7 L652.9,154.0 L659.4,151.1 L662.4,153.5 L665.9,154.2 L669.8,154.2 L672.7,152.7 L676.8,154.2 L677.4,156.9 L680.2,158.7 L681.2,164.6 L676.0,164.0 L672.5,164.6 L667.4,164.6 L663.5,165.4 L663.6,168.1 L657.6,167.8 L651.5,167.6 L647.3,166.2 L643.2,164.8 L641.3,156.9 L642.8,152.4Z" fill="#e84ea8"/><path d="M663.5,165.4 L667.4,164.6 L672.5,164.6 L676.0,164.0 L674.3,165.9 L674.5,171.7 L670.4,174.7 L666.6,177.8 L664.4,175.0 L664.2,171.4 L663.6,168.1Z" fill="#9a6cc8"/><path d="M664.0,171.1 L665.5,171.4 L664.4,175.0 L662.9,175.5 L663.2,171.1Z" fill="#7a6cc8"/><path d="M662.8,175.0 L664.0,175.0 L664.0,176.6 L664.2,180.0 L663.6,185.7 L661.5,180.6 L661.9,176.4Z" fill="#4a6ec2"/><path d="M676.0,164.0 L681.2,164.6 L683.0,168.1 L683.9,171.4 L685.8,175.8 L689.5,180.0 L691.8,184.2 L690.4,186.8 L687.9,186.8 L682.9,184.1 L677.8,181.4 L671.6,178.0 L670.4,174.7 L674.5,171.7 L674.3,165.9Z" fill="#9070c8"/><path d="M670.4,174.7 L671.6,178.0 L667.3,180.0 L666.1,186.5 L663.6,185.9 L664.2,180.0 L664.0,176.6 L666.6,177.8Z" fill="#4a6ec2"/><path d="M687.9,186.8 L682.9,184.1 L677.8,181.4 L671.6,178.0 L667.3,180.0 L666.1,186.5 L663.6,185.9 L663.1,189.9 L666.4,196.2 L669.8,202.5 L673.1,208.9 L678.0,216.5 L682.8,224.2 L684.3,220.9 L692.4,221.5 L697.5,218.9 L702.6,216.4 L708.6,205.4 L700.5,201.6 L697.8,198.6 L696.9,194.3 L692.3,188.5 L690.4,186.8Z" fill="#8a70c8"/><path d="M682.8,224.2 L685.2,235.7 L688.9,236.0 L694.2,232.2 L699.4,228.4 L703.9,223.6 L702.6,216.4 L697.5,218.9 L692.4,221.5 L684.3,220.9Z" fill="#a06cc4"/><path d="M703.9,223.6 L710.9,222.4 L716.2,216.4 L719.4,206.0 L711.8,200.1 L709.0,201.8 L708.6,205.4 L702.6,216.4Z" fill="#5a6cc8"/><path d="M708.6,205.4 L709.0,201.8 L711.8,200.1 L710.0,194.3 L705.0,197.6 L700.0,201.0 L700.5,201.6Z" fill="#2f7a7a"/><path d="M690.4,186.8 L690.5,184.0 L691.8,184.2 L692.3,188.5 L690.4,188.2Z" fill="#5a6cc8"/><path d="M680.0,157.6 L687.0,160.8 L688.8,161.1 L689.7,164.8 L694.9,165.4 L699.5,164.0 L705.4,162.2 L710.5,163.5 L715.0,167.6 L716.9,174.0 L718.7,180.6 L717.7,184.8 L724.0,192.2 L721.3,198.0 L715.9,198.6 L711.0,194.0 L708.7,192.5 L705.7,194.3 L698.9,190.5 L696.4,186.2 L691.8,184.2 L689.5,180.0 L685.8,175.8 L683.9,171.4 L683.0,168.1 L681.2,164.6 L680.2,158.7Z" fill="#e050a8"/><path d="M728.3,173.7 L726.4,176.9 L726.2,176.7 L724.7,173.4 L724.8,171.8 L728.3,173.7Z" fill="#3a7a88"/><path d="M736.4,166.6 L736.0,166.8 L734.6,165.3 L734.5,162.0 L737.7,163.2 L736.4,166.6Z" fill="#2f7f6e"/><path d="M728.4,179.3 L726.4,177.4 L726.4,177.4 L726.4,176.9 L728.3,173.7 L729.8,173.5 L730.4,177.2 L728.4,179.3Z" fill="#3a7a88"/><path d="M722.3,183.6 L725.8,183.4 L726.2,184.3 L724.8,185.9 L722.8,185.6 L722.3,183.6Z" fill="#3a7a88"/><path d="M717.9,164.4 L719.6,169.1 L719.0,172.5 L715.9,170.6 L715.0,167.6 L716.3,163.5 L717.3,163.6 L717.9,164.4Z" fill="#1f8a4a"/><path d="M722.0,182.8 L722.3,183.6 L722.8,185.6 L717.7,184.8 L717.9,184.2 L722.0,182.8Z" fill="#2f7f6e"/><path d="M722.4,166.7 L722.3,166.9 L720.8,166.4 L717.9,164.4 L717.3,163.6 L722.8,163.9 L722.4,166.7Z" fill="#555a60"/><path d="M723.0,171.0 L720.9,175.3 L720.5,174.9 L719.0,172.5 L719.6,169.1 L721.8,170.0 L723.0,171.0Z" fill="#2a8a4a"/><path d="M735.4,172.2 L734.2,173.0 L734.3,175.9 L730.0,173.3 L729.9,170.8 L731.5,169.4 L732.9,170.0 L735.4,172.2Z" fill="#3a7a88"/><path d="M725.8,183.4 L725.7,183.1 L726.3,180.7 L728.7,181.4 L728.6,181.4 L726.2,184.3 L725.8,183.4Z" fill="#1f8a4a"/><path d="M727.9,168.3 L726.2,166.9 L725.0,164.0 L728.7,164.3 L728.9,164.1 L727.9,168.3Z" fill="#555a60"/><path d="M731.8,165.0 L731.5,169.4 L729.9,170.8 L727.9,168.3 L728.9,164.1 L730.3,163.2 L731.8,165.0Z" fill="#3e7a94"/><path d="M722.3,183.6 L722.0,182.8 L721.8,180.0 L722.1,179.3 L725.7,183.1 L725.8,183.4 L722.3,183.6Z" fill="#3e7a94"/><path d="M724.7,173.4 L724.2,175.0 L721.0,175.3 L720.9,175.3 L723.0,171.0 L723.9,170.8 L724.8,171.8 L724.7,173.4Z" fill="#3e7a94"/><path d="M726.1,179.8 L722.1,178.7 L721.9,177.4 L726.4,177.4 L726.4,177.4 L726.1,179.8Z" fill="#2a8a4a"/><path d="M721.9,177.4 L721.0,175.3 L724.2,175.0 L726.2,176.7 L726.4,176.9 L726.4,177.4 L721.9,177.4Z" fill="#2a8a4a"/><path d="M722.1,179.3 L722.1,178.7 L726.1,179.8 L726.3,180.7 L725.7,183.1 L722.1,179.3Z" fill="#2f7f6e"/><path d="M732.9,170.0 L735.5,168.3 L736.2,171.7 L735.4,172.2 L732.9,170.0Z" fill="#555a60"/><path d="M726.2,176.7 L724.2,175.0 L724.7,173.4 L726.2,176.7Z" fill="#3e7a94"/><path d="M731.2,178.8 L730.4,177.2 L729.8,173.5 L730.0,173.3 L734.3,175.9 L734.3,179.7 L732.1,180.4 L731.2,178.8Z" fill="#3a7a88"/><path d="M728.8,181.3 L728.7,181.4 L726.3,180.7 L726.1,179.8 L726.4,177.4 L728.4,179.3 L728.8,180.8 L728.8,181.3Z" fill="#2a8a4a"/><path d="M722.3,166.9 L723.9,170.7 L723.9,170.8 L723.0,171.0 L721.8,170.0 L720.8,166.4 L722.3,166.9Z" fill="#2a8a4a"/><path d="M734.6,165.3 L731.8,165.0 L730.3,163.2 L732.9,161.4 L734.5,162.0 L734.6,165.3Z" fill="#3a7a88"/><path d="M732.9,170.0 L731.5,169.4 L731.8,165.0 L734.6,165.3 L736.0,166.8 L735.2,167.0 L735.5,168.3 L732.9,170.0Z" fill="#2f7f6e"/><path d="M737.7,163.2 L742.2,164.8 L736.4,166.6 L737.7,163.2Z" fill="#2a8a4a"/><path d="M722.4,166.7 L722.8,163.9 L725.0,164.0 L725.0,164.0 L726.2,166.9 L725.9,167.1 L722.4,166.7Z" fill="#1f8a4a"/><path d="M720.5,174.9 L720.9,175.3 L721.0,175.3 L721.9,177.4 L722.1,178.7 L722.1,179.3 L721.8,180.0 L718.7,180.6 L718.7,180.6 L717.6,176.5 L720.5,174.9Z" fill="#3a7a88"/><path d="M717.9,184.2 L718.7,180.6 L721.8,180.0 L722.0,182.8 L717.9,184.2Z" fill="#3a7a88"/><path d="M719.0,172.5 L720.5,174.9 L717.6,176.5 L715.9,170.6 L719.0,172.5Z" fill="#2f7f6e"/><path d="M723.9,170.8 L723.9,170.7 L725.9,167.1 L726.2,166.9 L727.9,168.3 L729.9,170.8 L730.0,173.3 L729.8,173.5 L728.3,173.7 L724.8,171.8 L723.9,170.8Z" fill="#3e7a94"/><path d="M728.8,180.8 L728.4,179.3 L730.4,177.2 L731.2,178.8 L728.8,180.8Z" fill="#555a60"/><path d="M721.8,170.0 L719.6,169.1 L717.9,164.4 L720.8,166.4 L721.8,170.0Z" fill="#1f8a4a"/><path d="M732.1,180.4 L728.8,181.3 L728.8,180.8 L731.2,178.8 L732.1,180.4Z" fill="#3a7a88"/><path d="M723.9,170.7 L722.3,166.9 L722.4,166.7 L725.9,167.1 L723.9,170.7Z" fill="#2a8a4a"/><path d="M726.3,188.9 L722.7,190.7 L717.7,184.8 L724.8,185.9 L725.5,185.2 L726.3,188.9Z" fill="#b86cc0"/><path d="M737.4,196.3 L734.5,188.4 L731.5,180.6 L734.3,179.7 L734.2,173.0 L736.2,171.7 L735.2,167.0 L742.2,164.8 L744.1,167.6 L742.1,171.7 L745.5,177.2 L745.7,182.8 L744.5,187.1 L743.0,189.9 L741.7,200.7 L740.9,201.0 L737.4,196.3Z" fill="#b86cc0"/><path d="M737.4,196.3 L740.9,201.0 L736.3,203.0 L731.4,202.5 L726.5,202.0 L721.6,201.6 L721.3,198.0 L722.2,196.1 L726.4,194.7 L730.5,193.4 L737.4,196.3Z" fill="#b86cc0"/><path d="M725.5,185.2 L728.6,181.4 L731.5,180.6 L734.5,188.4 L737.4,196.3 L730.5,193.4 L726.3,188.9 L725.5,185.2Z" fill="#b86cc0"/><path d="M726.3,188.9 L730.5,193.4 L726.4,194.7 L722.2,196.1 L724.0,192.2 L722.7,190.7 L726.3,188.9Z" fill="#c460bc"/><path d="M829.1,143.0 L829.3,148.5 L829.4,154.1 L829.2,159.8 L828.8,165.6 L827.1,165.2 L821.0,160.2 L820.0,153.7 L818.8,147.4 L817.4,141.2 L820.5,140.3 L816.3,137.4 L816.0,136.2 L822.5,139.6 L829.1,143.0Z" fill="#9a70c8"/><path d="M810.7,178.2 L813.1,189.5 L811.6,194.6 L804.3,190.6 L797.0,186.6 L798.2,177.8 L802.2,174.0 L810.7,178.2Z" fill="#a86ac4"/><path d="M813.5,153.3 L815.2,156.9 L808.3,154.1 L801.4,151.3 L803.0,150.6 L807.1,145.3 L807.8,144.9 L813.5,153.3Z" fill="#a06cc4"/><path d="M760.7,157.0 L753.7,151.8 L746.8,146.7 L745.5,144.0 L749.9,143.5 L749.2,139.1 L751.9,136.4 L754.4,133.8 L755.9,133.8 L757.1,135.5 L765.3,142.8 L772.5,146.4 L769.6,149.0 L766.7,151.7 L763.7,154.3 L760.7,157.0Z" fill="#a06cc4"/><path d="M765.0,186.4 L759.4,183.4 L754.8,181.4 L754.8,177.2 L753.0,174.5 L758.6,172.5 L764.2,170.5 L766.4,175.1 L765.8,180.7 L765.0,186.4Z" fill="#9a6cc8"/><path d="M797.9,154.1 L804.8,160.8 L811.6,167.7 L812.9,176.8 L810.7,178.2 L802.2,174.0 L798.9,166.9 L798.5,160.4 L797.9,154.1Z" fill="#c064bc"/><path d="M797.0,186.6 L794.8,189.1 L789.0,183.0 L783.1,177.0 L781.2,171.1 L782.6,165.5 L790.4,171.6 L798.2,177.8 L797.0,186.6Z" fill="#9a6cc8"/><path d="M825.0,183.1 L831.1,189.1 L837.1,195.1 L843.0,201.2 L842.7,201.8 L838.1,201.0 L833.6,200.2 L829.1,199.4 L824.5,198.5 L822.1,194.2 L825.0,183.1Z" fill="#e050a8"/><path d="M802.2,174.0 L798.2,177.8 L790.4,171.6 L782.6,165.5 L781.2,158.4 L787.1,161.2 L793.0,164.1 L798.9,166.9 L802.2,174.0Z" fill="#b86cc0"/><path d="M776.0,186.3 L779.6,181.7 L783.0,177.2 L783.8,183.4 L784.5,189.8 L783.4,190.8 L777.6,189.4 L776.9,189.8 L776.0,186.3Z" fill="#a86ac4"/><path d="M811.6,167.7 L814.1,162.9 L816.5,158.2 L821.0,160.2 L827.1,165.2 L825.5,172.8 L823.4,180.6 L818.2,178.7 L812.9,176.8 L811.6,167.7Z" fill="#9a6cc8"/><path d="M766.4,175.1 L776.0,186.3 L776.9,189.8 L775.9,190.5 L771.4,189.9 L765.0,186.4 L765.8,180.7 L766.4,175.1Z" fill="#b86cc0"/><path d="M760.7,157.0 L762.6,162.6 L764.4,168.2 L764.2,170.5 L758.6,172.5 L753.0,174.5 L749.2,168.9 L744.1,167.6 L742.0,163.5 L737.5,158.2 L739.5,156.3 L743.1,154.6 L746.7,152.9 L748.0,149.3 L746.8,146.7 L753.7,151.8 L760.7,157.0Z" fill="#9a6cc8"/><path d="M824.5,198.5 L829.1,199.4 L833.6,200.2 L838.1,201.0 L842.7,201.8 L839.5,207.6 L836.2,213.4 L831.6,217.9 L827.0,222.4 L824.7,215.6 L822.3,208.9 L821.1,208.2 L824.5,198.5Z" fill="#e050a8"/><path d="M829.1,143.0 L832.1,143.4 L842.1,152.3 L840.8,153.2 L838.4,156.9 L839.1,159.5 L842.1,164.9 L838.4,167.4 L834.6,169.9 L828.8,165.6 L829.2,159.8 L829.4,154.1 L829.3,148.5 L829.1,143.0Z" fill="#c860b8"/><path d="M815.2,156.9 L816.5,158.2 L814.1,162.9 L811.6,167.7 L804.8,160.8 L797.9,154.1 L797.2,152.5 L798.0,152.7 L801.4,151.3 L808.3,154.1 L815.2,156.9Z" fill="#9a6cc8"/><path d="M781.2,158.4 L782.6,165.5 L781.2,171.1 L775.6,170.1 L770.0,169.2 L764.4,168.2 L762.6,162.6 L760.7,157.0 L763.7,154.3 L766.7,151.7 L769.6,149.0 L772.5,146.4 L775.9,148.2 L781.2,158.4Z" fill="#c860b8"/><path d="M813.5,147.2 L813.5,153.3 L807.8,144.9 L810.4,143.6 L813.5,147.2Z" fill="#a06cc4"/><path d="M813.1,189.5 L810.7,178.2 L812.9,176.8 L818.2,178.7 L823.4,180.6 L825.0,183.1 L822.1,194.2 L813.1,189.5Z" fill="#c064bc"/><path d="M809.5,131.1 L811.6,124.4 L815.8,123.9 L822.8,125.7 L830.2,133.1 L831.7,133.4 L832.0,138.3 L832.1,143.4 L829.1,143.0 L822.5,139.6 L816.0,136.2 L814.9,135.5 L809.5,131.1Z" fill="#9a70c8"/><path d="M776.0,186.3 L766.4,175.1 L764.2,170.5 L764.4,168.2 L770.0,169.2 L775.6,170.1 L781.2,171.1 L783.1,177.0 L783.0,177.2 L779.6,181.7 L776.0,186.3Z" fill="#9a6cc8"/><path d="M832.1,143.4 L832.0,138.3 L831.7,133.4 L836.5,134.3 L841.2,135.3 L846.0,136.2 L848.3,144.0 L847.5,150.4 L842.9,151.7 L842.1,152.3 L832.1,143.4Z" fill="#9a70c8"/><path d="M823.4,180.6 L825.5,172.8 L827.1,165.2 L828.8,165.6 L834.6,169.9 L839.2,177.0 L843.6,184.4 L847.9,191.8 L843.0,201.2 L837.1,195.1 L831.1,189.1 L825.0,183.1 L823.4,180.6Z" fill="#c860b8"/><path d="M811.6,194.6 L813.1,189.5 L822.1,194.2 L824.5,198.5 L821.1,208.2 L817.4,206.0 L813.5,205.3 L811.6,194.6Z" fill="#c860b8"/><path d="M783.0,177.2 L783.1,177.0 L789.0,183.0 L794.8,189.1 L794.8,189.3 L787.5,187.1 L784.5,189.8 L783.8,183.4 L783.0,177.2Z" fill="#c860b8"/><path d="M797.9,154.1 L798.5,160.4 L798.9,166.9 L793.0,164.1 L787.1,161.2 L781.2,158.4 L775.9,148.2 L780.3,150.4 L784.7,150.4 L789.1,150.4 L797.2,152.5 L797.9,154.1Z" fill="#b86cc0"/><path d="M842.1,164.9 L845.4,171.2 L848.5,177.7 L851.5,184.2 L847.9,191.8 L843.6,184.4 L839.2,177.0 L834.6,169.9 L838.4,167.4 L842.1,164.9Z" fill="#b86cc0"/><path d="M814.3,142.0 L817.4,141.2 L818.8,147.4 L820.0,153.7 L821.0,160.2 L816.5,158.2 L815.2,156.9 L813.5,153.3 L813.5,147.2 L814.3,142.0Z" fill="#a06cc4"/><path d="M814.9,135.5 L816.0,136.2 L816.3,137.4 L814.8,136.3 L814.9,135.5Z" fill="#9a70c8"/><path d="M813.5,147.2 L810.4,143.6 L812.4,142.5 L814.3,142.0 L813.5,147.2Z" fill="#a06cc4"/><path d="M814.9,135.5 L814.8,136.3 L809.0,132.4 L809.5,131.1 L814.9,135.5Z" fill="#a06cc4"/><path d="M794.8,189.1 L797.0,186.6 L804.3,190.6 L811.6,194.6 L813.5,205.3 L811.9,205.1 L809.1,206.0 L807.7,208.9 L803.7,206.9 L801.4,203.0 L798.5,201.6 L798.7,198.6 L798.1,191.4 L795.0,189.4 L794.8,189.3 L794.8,189.1Z" fill="#d85cb4"/><path d="M754.4,133.8 L751.9,136.4 L749.2,139.1 L749.9,143.5 L745.5,144.0 L748.0,149.3 L746.7,152.9 L743.1,154.6 L739.5,156.3 L737.5,158.2 L742.0,163.5 L744.1,167.6 L749.2,168.9 L753.5,168.4 L757.5,168.0 L761.4,167.6 L765.3,166.9 L769.1,166.2 L775.4,166.7 L773.4,158.2 L776.9,154.2 L780.3,150.4 L775.2,147.8 L770.2,145.3 L765.3,142.8 L757.1,135.5 L755.9,133.8Z" fill="#c46cbc"/><path d="M749.2,168.9 L754.8,177.2 L754.8,181.4 L759.4,183.4 L765.4,186.7 L771.4,189.9 L775.9,190.5 L777.6,189.4 L783.4,190.8 L787.5,187.1 L795.0,189.4 L796.9,187.1 L794.5,178.6 L791.2,174.4 L785.3,173.7 L779.4,173.0 L773.6,167.6 L769.1,166.2 L765.3,166.9 L761.4,167.6 L757.5,168.0 L753.5,168.4Z" fill="#e050a8"/><path d="M769.1,166.2 L773.6,167.6 L779.4,173.0 L785.3,173.7 L791.2,174.4 L794.5,178.6 L799.4,174.4 L800.0,170.3 L799.1,164.8 L794.0,162.2 L789.0,159.5 L784.7,158.8 L780.4,158.2 L773.4,158.2 L775.4,166.7Z" fill="#b070c4"/><path d="M773.4,158.2 L780.4,158.2 L784.7,158.8 L789.0,159.5 L794.0,162.2 L799.1,164.8 L800.0,170.3 L799.4,174.4 L806.5,177.2 L808.2,170.3 L807.2,164.8 L804.0,159.5 L797.6,151.7 L793.3,151.0 L789.1,150.4 L784.7,150.4 L780.3,150.4Z" fill="#b86cc0"/><path d="M789.1,150.4 L793.6,151.5 L798.0,152.7 L803.0,150.6 L807.1,145.3 L812.4,142.5 L816.5,141.4 L820.5,140.3 L809.0,132.4 L810.4,128.3 L811.6,124.4 L818.1,128.1 L824.7,131.9 L825.1,136.7 L825.3,141.6 L823.8,149.1 L819.9,151.0 L816.0,152.9 L811.2,155.5 L807.6,157.5 L804.0,159.5 L797.6,151.7Z" fill="#9a70c4"/><path d="M799.4,174.4 L794.5,178.6 L796.9,187.1 L804.7,192.8 L808.3,194.3 L812.4,189.9 L816.8,187.1 L815.7,180.0 L809.6,177.2 L806.5,177.2Z" fill="#e050a8"/><path d="M796.9,187.1 L795.0,189.4 L798.1,191.4 L798.7,198.6 L798.5,201.6 L801.4,203.0 L803.7,206.9 L807.7,208.9 L809.1,206.0 L811.9,205.1 L817.4,206.0 L816.1,200.1 L808.3,194.3 L804.7,192.8Z" fill="#ee4aa0"/><path d="M850.6,167.7 L849.7,164.7 L850.9,161.0 L855.7,169.3 L850.6,167.7Z" fill="#8a6cc8"/><path d="M849.7,164.7 L845.8,162.2 L843.2,155.3 L848.0,158.0 L850.6,160.6 L850.9,161.0 L849.7,164.7Z" fill="#8a6cc8"/><path d="M845.8,162.2 L838.8,156.2 L840.8,153.3 L843.2,155.3 L845.8,162.2 L845.8,162.2Z" fill="#7a6cc8"/><path d="M843.2,155.3 L840.8,153.3 L840.8,153.2 L842.9,151.7 L847.5,150.4 L846.7,156.9 L848.0,158.0 L843.2,155.3Z" fill="#7a6cc8"/><path d="M850.6,167.7 L849.4,174.5 L841.5,164.1 L845.8,162.2 L845.8,162.2 L849.7,164.7 L850.6,167.7Z" fill="#6a6cc8"/><path d="M841.5,164.1 L841.0,163.5 L838.4,156.9 L838.8,156.2 L845.8,162.2 L841.5,164.1Z" fill="#6a6cc8"/><path d="M850.6,167.7 L855.7,169.3 L856.3,170.3 L853.4,173.0 L850.4,175.8 L849.4,174.5 L850.6,167.7Z" fill="#7a6cc8"/><path d="M783.5,190.7 L787.2,187.4 L789.7,196.7 L785.5,194.3 L783.5,190.7Z" fill="#e050a8"/><path d="M748.5,213.1 L747.1,219.3 L742.0,211.9 L742.0,211.8 L747.5,212.4 L748.5,213.1Z" fill="#a06cc4"/><path d="M763.2,237.3 L761.3,235.8 L765.1,230.3 L770.9,231.4 L770.9,231.6 L763.2,237.3Z" fill="#c860b8"/><path d="M785.5,194.3 L789.7,196.7 L791.3,198.6 L791.3,198.6 L790.1,203.0 L789.2,207.4 L786.3,202.4 L787.1,201.0 L785.9,198.0 L784.1,198.0 L785.5,194.3Z" fill="#c860b8"/><path d="M741.0,201.0 L741.7,200.7 L742.7,193.0 L745.9,192.3 L746.3,201.0 L741.4,201.3 L741.0,201.0Z" fill="#b86cc0"/><path d="M760.4,210.6 L762.6,221.6 L758.4,226.7 L754.1,231.7 L753.1,230.7 L754.0,224.2 L754.8,217.7 L755.6,211.2 L760.4,210.6 L760.4,210.6Z" fill="#d45cb4"/><path d="M742.0,211.8 L742.1,204.8 L747.5,212.4 L742.0,211.8Z" fill="#9a6cc8"/><path d="M750.1,200.5 L748.9,202.3 L746.3,201.0 L745.9,192.3 L746.5,182.0 L749.1,182.4 L750.0,189.8 L750.7,197.4 L750.1,200.5Z" fill="#c860b8"/><path d="M761.3,235.8 L756.0,234.9 L754.1,231.7 L758.4,226.7 L762.6,221.6 L765.6,224.0 L765.1,230.3 L761.3,235.8Z" fill="#d45cb4"/><path d="M785.5,194.3 L784.1,198.0 L781.6,198.0 L780.5,194.8 L777.5,194.6 L777.8,197.3 L777.3,196.7 L776.7,194.5 L776.8,194.6 L775.9,190.5 L778.4,192.8 L784.8,193.4 L783.4,190.8 L783.5,190.7 L785.5,194.3Z" fill="#c860b8"/><path d="M759.5,203.1 L766.6,198.0 L769.9,203.1 L770.8,211.6 L765.6,211.1 L760.4,210.6 L760.4,210.6 L759.5,203.1Z" fill="#5a6cc8"/><path d="M752.2,230.4 L753.1,230.7 L754.1,231.7 L756.0,234.9 L755.9,243.1 L755.7,251.4 L748.9,249.8 L746.8,242.9 L744.7,235.9 L752.2,230.4Z" fill="#a06cc4"/><path d="M771.0,211.8 L775.7,208.9 L780.3,205.9 L781.5,208.9 L778.0,213.4 L775.0,221.2 L771.0,211.8Z" fill="#5a6cc8"/><path d="M777.3,196.7 L777.8,197.3 L778.1,200.7 L780.3,205.9 L775.7,208.9 L771.0,211.8 L770.8,211.6 L769.9,203.1 L773.6,199.9 L777.3,196.7Z" fill="#6a6cc8"/><path d="M739.9,221.4 L737.0,213.4 L736.9,211.3 L741.3,212.5 L739.9,221.4 L739.9,221.4Z" fill="#b070c4"/><path d="M755.6,211.2 L754.8,217.7 L754.0,224.2 L753.1,230.7 L752.2,230.4 L747.4,223.3 L747.1,219.3 L748.5,213.1 L752.7,209.3 L755.6,211.2Z" fill="#b070c4"/><path d="M752.2,230.4 L744.7,235.9 L742.3,228.6 L739.9,221.4 L739.9,221.4 L747.4,223.3 L752.2,230.4Z" fill="#9a6cc8"/><path d="M757.2,195.0 L750.7,197.4 L750.0,189.8 L749.1,182.4 L755.3,181.6 L756.8,182.3 L757.1,188.6 L757.2,195.0Z" fill="#4a6cbf"/><path d="M742.1,204.8 L741.4,201.3 L746.3,201.0 L748.9,202.3 L752.7,209.3 L748.5,213.1 L747.5,212.4 L742.1,204.8Z" fill="#c860b8"/><path d="M746.5,182.0 L745.9,192.3 L742.7,193.0 L743.0,189.9 L744.5,187.1 L745.7,182.8 L745.7,181.6 L746.5,182.0Z" fill="#d060b8"/><path d="M765.6,224.0 L762.6,221.6 L760.4,210.6 L765.6,211.1 L770.8,211.6 L771.0,211.8 L775.0,221.2 L774.1,223.7 L765.6,224.0Z" fill="#d45cb4"/><path d="M757.9,199.5 L750.1,200.5 L750.7,197.4 L757.2,195.0 L757.9,199.5Z" fill="#6a6cc8"/><path d="M756.0,234.9 L761.3,235.8 L763.2,237.3 L766.8,241.1 L762.2,252.9 L755.7,251.4 L755.9,243.1 L756.0,234.9Z" fill="#e050a8"/><path d="M787.2,187.4 L787.5,187.1 L795.0,189.4 L794.2,192.8 L791.3,198.6 L789.7,196.7 L787.2,187.4Z" fill="#e050a8"/><path d="M746.5,182.0 L745.7,181.6 L745.5,177.2 L742.1,171.7 L744.1,167.6 L749.2,168.9 L754.8,177.2 L754.8,181.4 L755.3,181.6 L749.1,182.4 L746.5,182.0Z" fill="#d060b8"/><path d="M765.1,230.3 L765.6,224.0 L774.1,223.7 L770.9,231.4 L765.1,230.3Z" fill="#e050a8"/><path d="M763.2,237.3 L770.9,231.6 L767.0,240.6 L766.8,241.1 L763.2,237.3Z" fill="#e050a8"/><path d="M759.5,203.1 L760.4,210.6 L755.6,211.2 L752.7,209.3 L748.9,202.3 L750.1,200.5 L757.9,199.5 L759.5,203.1Z" fill="#4a6cbf"/><path d="M756.8,182.3 L759.4,183.4 L758.3,187.7 L764.4,190.8 L766.6,198.0 L759.5,203.1 L757.9,199.5 L757.2,195.0 L757.1,188.6 L756.8,182.3Z" fill="#5a6cc8"/><path d="M777.3,196.7 L773.6,199.9 L769.9,203.1 L766.6,198.0 L764.4,190.8 L765.4,191.4 L771.1,193.0 L776.7,194.5 L777.3,196.7Z" fill="#4a6cbf"/><path d="M747.4,223.3 L739.9,221.4 L741.3,212.5 L742.0,211.9 L747.1,219.3 L747.4,223.3Z" fill="#9a6cc8"/><path d="M741.4,201.3 L742.1,204.8 L742.0,211.8 L742.0,211.9 L741.3,212.5 L736.9,211.3 L736.3,203.0 L741.0,201.0 L741.4,201.3Z" fill="#c860b8"/><path d="M759.4,183.4 L758.3,187.7 L765.4,191.4 L771.1,193.0 L776.8,194.6 L775.9,190.5 L771.4,189.9Z" fill="#a86ac4"/><path d="M778.4,192.8 L784.8,193.4 L783.4,190.8 L777.6,189.4Z" fill="#c860b8"/><path d="M777.5,194.6 L778.1,200.7 L781.5,208.9 L789.0,211.0 L786.3,202.4 L787.1,201.0 L785.9,198.0 L781.6,198.0 L780.5,194.8Z" fill="#5a6cc8"/><path d="M765.0,243.7 L771.6,243.7 L772.0,250.6 L772.4,257.5 L765.8,257.5Z" fill="#9a6cc8"/><path d="M807.6,237.8 L807.7,242.2 L806.8,245.2 L804.1,241.1 L807.6,237.8Z" fill="#e84ea8"/><path d="M799.7,234.6 L800.9,226.0 L804.2,224.3 L804.7,225.4 L807.5,236.0 L807.5,236.2 L799.7,234.6Z" fill="#d060b8"/><path d="M800.9,226.0 L793.7,222.4 L797.6,218.0 L801.3,213.6 L805.0,209.3 L806.2,208.2 L807.7,208.9 L806.0,212.5 L802.8,213.4 L801.4,217.9 L804.2,224.3 L800.9,226.0Z" fill="#d060b8"/><path d="M793.7,222.4 L800.9,226.0 L799.7,234.6 L799.7,234.7 L795.3,228.4 L793.1,222.3 L793.7,222.4Z" fill="#e84ea8"/><path d="M790.4,201.7 L791.3,198.6 L794.2,192.8 L794.9,190.1 L796.3,196.9 L797.5,203.8 L790.4,201.7Z" fill="#d060b8"/><path d="M797.5,203.8 L796.3,196.9 L794.9,190.1 L795.0,189.4 L798.1,191.4 L798.7,198.6 L798.5,201.6 L801.4,203.0 L803.4,206.4 L797.5,203.8Z" fill="#e050a8"/><path d="M791.6,218.0 L789.0,211.0 L789.2,207.4 L790.1,203.0 L790.4,201.7 L797.5,203.8 L803.4,206.4 L803.7,206.9 L806.2,208.2 L805.0,209.3 L800.6,212.2 L796.1,215.1 L791.6,218.0Z" fill="#e050a8"/><path d="M804.1,241.1 L799.7,234.7 L799.7,234.6 L807.5,236.2 L807.6,237.8 L804.1,241.1Z" fill="#e050a8"/><path d="M793.1,222.3 L791.6,218.0 L796.1,215.1 L800.6,212.2 L805.0,209.3 L801.3,213.6 L797.6,218.0 L793.7,222.4 L793.1,222.3Z" fill="#e050a8"/><path d="M806.1,216.5 L804.0,219.8 L801.9,216.0 L802.1,215.5 L806.1,216.5Z" fill="#e84ea8"/><path d="M812.4,228.2 L813.1,225.9 L816.9,226.0 L818.0,230.4 L815.1,230.2 L814.1,234.5 L813.7,234.6 L812.4,228.2Z" fill="#e84ea8"/><path d="M805.1,223.6 L804.0,219.8 L806.1,216.5 L808.7,216.9 L809.0,218.1 L807.2,221.8 L805.1,223.6Z" fill="#e050a8"/><path d="M807.3,246.5 L806.8,245.2 L807.5,242.7 L810.7,243.1 L810.8,243.8 L807.3,246.5Z" fill="#d060b8"/><path d="M816.9,226.0 L813.1,225.9 L812.3,224.4 L811.0,220.8 L817.2,220.8 L817.7,221.2 L818.2,222.3 L816.9,226.0Z" fill="#e050a8"/><path d="M812.1,248.6 L815.3,256.6 L813.2,254.8 L809.7,254.5 L807.9,248.6 L812.1,248.6Z" fill="#e84ea8"/><path d="M810.8,243.8 L811.4,246.8 L812.1,248.6 L807.9,248.6 L807.3,246.5 L810.8,243.8Z" fill="#e050a8"/><path d="M816.9,226.0 L818.2,222.3 L820.3,226.9 L819.9,230.6 L818.0,230.4 L816.9,226.0Z" fill="#d060b8"/><path d="M808.7,216.9 L806.1,216.5 L802.1,215.5 L802.8,213.4 L806.0,212.5 L808.8,214.9 L809.0,215.2 L808.7,216.9Z" fill="#e050a8"/><path d="M805.1,223.6 L807.2,221.8 L808.0,223.2 L809.4,227.7 L809.1,228.0 L804.9,226.2 L804.7,225.4 L804.4,224.9 L805.1,223.6Z" fill="#d060b8"/><path d="M809.5,227.7 L809.4,227.7 L808.0,223.2 L809.8,225.1 L809.5,227.7Z" fill="#e84ea8"/><path d="M807.5,242.7 L807.7,242.2 L807.5,236.0 L807.4,235.8 L809.3,236.1 L810.7,243.1 L807.5,242.7Z" fill="#d060b8"/><path d="M808.0,223.2 L807.2,221.8 L809.0,218.1 L811.0,220.8 L812.3,224.4 L809.8,225.1 L808.0,223.2Z" fill="#c860b8"/><path d="M812.3,224.4 L813.1,225.9 L812.4,228.2 L809.5,227.7 L809.8,225.1 L812.3,224.4Z" fill="#e84ea8"/><path d="M809.1,228.0 L809.4,227.7 L809.5,227.7 L812.4,228.2 L813.7,234.6 L809.4,236.0 L809.1,228.0Z" fill="#c860b8"/><path d="M809.1,228.0 L809.4,236.0 L809.3,236.0 L809.3,236.1 L807.4,235.8 L804.9,226.2 L809.1,228.0Z" fill="#e84ea8"/><path d="M809.0,218.1 L808.7,216.9 L809.0,215.2 L811.8,219.7 L814.0,218.8 L817.2,220.8 L811.0,220.8 L809.0,218.1Z" fill="#e84ea8"/><path d="M804.0,219.8 L805.1,223.6 L804.4,224.9 L801.4,217.9 L801.9,216.0 L804.0,219.8Z" fill="#c860b8"/><path d="M815.7,213.4 L818.2,217.2 L816.6,220.5 L814.0,218.8 L812.7,219.3 L815.7,213.4Z" fill="#b86cc0"/><path d="M812.7,219.3 L811.8,219.7 L808.8,214.9 L806.0,212.5 L807.7,208.9 L809.1,206.0 L811.6,208.9 L815.7,213.4 L815.7,213.4 L812.7,219.3Z" fill="#b86cc0"/><path d="M824.6,230.6 L819.9,230.6 L820.2,227.6 L824.6,230.6Z" fill="#c860b8"/><path d="M818.2,217.2 L818.7,217.9 L821.6,222.4 L821.6,222.4 L818.8,223.6 L817.7,221.2 L816.6,220.5 L818.2,217.2Z" fill="#c860b8"/><path d="M820.2,227.6 L820.3,226.9 L818.8,223.6 L821.6,222.4 L824.9,228.4 L825.0,230.6 L824.6,230.6 L820.2,227.6Z" fill="#c860b8"/><path d="M815.1,230.2 L819.9,230.6 L825.0,230.6 L823.8,239.1 L819.7,242.2 L815.2,240.6 L814.1,234.5Z" fill="#e050a8"/><path d="M817.4,211.9 L820.5,212.3 L821.4,218.6 L820.3,217.3 L817.4,211.9Z" fill="#e050a8"/><path d="M816.9,211.6 L817.4,211.9 L820.3,217.3 L817.7,216.5 L815.7,213.4 L814.5,212.1 L816.9,211.6Z" fill="#d060b8"/><path d="M824.5,234.8 L824.4,234.8 L825.0,230.6 L824.9,228.4 L821.9,222.9 L822.9,221.5 L825.0,220.7 L827.5,225.4 L827.7,235.2 L824.5,234.8Z" fill="#d060b8"/><path d="M821.5,211.9 L821.1,213.4 L825.0,220.7 L822.9,221.5 L821.4,218.6 L820.5,212.3 L821.5,211.9Z" fill="#c860b8"/><path d="M820.5,212.3 L817.4,211.9 L816.9,211.6 L818.1,206.4 L822.3,208.9 L821.5,211.9 L820.5,212.3Z" fill="#e050a8"/><path d="M821.4,218.6 L822.9,221.5 L821.9,222.9 L821.6,222.4 L818.7,217.9 L817.7,216.5 L820.3,217.3 L821.4,218.6Z" fill="#d060b8"/><path d="M824.2,247.1 L821.5,249.8 L819.7,242.2 L821.4,240.9 L824.2,247.1Z" fill="#c860b8"/><path d="M816.9,211.6 L814.5,212.1 L811.6,208.9 L809.1,206.0 L811.9,205.1 L817.4,206.0 L818.1,206.4 L816.9,211.6Z" fill="#e050a8"/><path d="M824.5,234.8 L825.2,246.1 L824.2,247.1 L821.4,240.9 L823.8,239.1 L824.4,234.8 L824.5,234.8Z" fill="#c860b8"/><path d="M827.7,235.2 L827.6,243.7 L825.2,246.1 L824.5,234.8 L827.7,235.2Z" fill="#d060b8"/><path d="M814.5,262.3 L815.1,257.5 L818.4,258.4 L819.9,265.0 L814.5,262.3Z" fill="#c860b8"/><path d="M815.1,257.5 L814.5,262.3 L812.2,263.7 L811.1,262.2 L809.7,254.5 L813.2,254.8 L815.1,256.4 L815.1,257.5Z" fill="#d060b8"/><path d="M814.5,262.3 L819.9,265.0 L821.3,271.5 L818.0,271.5 L812.2,263.7 L814.5,262.3Z" fill="#d060b8"/><path d="M815.1,257.5 L815.1,256.4 L815.3,256.6 L817.4,254.5 L818.4,258.4 L815.1,257.5Z" fill="#d060b8"/><path d="M797.6,256.0 L802.2,256.0 L806.8,256.0 L811.4,256.0 L816.0,256.0 L820.6,256.0 L825.2,256.0 L825.5,262.4 L825.7,268.9 L825.7,275.3 L825.6,281.8 L825.4,288.2 L825.1,294.7 L820.5,294.7 L815.9,294.7 L811.3,294.7 L806.7,294.7 L802.2,294.7 L797.6,294.7Z" fill="#c860b8"/><path d="M816.2,275.0 L813.9,272.8 L812.8,268.6 L815.2,262.3 L817.6,256.0 L825.2,256.0 L825.5,262.4 L825.7,268.9 L820.9,271.9 L816.2,275.0Z" fill="#b86cc0"/><path d="M806.7,256.0 L812.2,256.0 L817.6,256.0 L815.2,262.3 L812.8,268.6 L806.9,260.9 L806.7,256.0Z" fill="#b86cc0"/><path d="M812.8,268.6 L813.9,272.8 L809.4,275.5 L804.8,278.3 L802.3,271.5 L799.6,264.8 L806.9,260.9 L812.8,268.6Z" fill="#d060b8"/><path d="M799.6,264.8 L802.3,271.5 L804.8,278.3 L802.1,282.7 L797.9,286.2 L798.1,279.0 L798.1,271.7 L798.0,264.5 L799.6,264.8Z" fill="#d060b8"/><path d="M802.1,282.7 L804.8,278.3 L809.4,275.5 L813.9,272.8 L816.2,275.0 L817.2,281.5 L818.0,288.1 L818.7,294.7 L817.9,294.7 L812.7,290.7 L807.4,286.7 L802.1,282.7Z" fill="#b86cc0"/><path d="M825.7,268.9 L825.7,275.3 L825.6,281.8 L825.4,288.2 L825.1,294.7 L818.7,294.7 L818.0,288.1 L817.2,281.5 L816.2,275.0 L820.9,271.9 L825.7,268.9Z" fill="#c860b8"/><path d="M802.1,282.7 L807.4,286.7 L812.7,290.7 L817.9,294.7 L812.8,294.7 L807.7,294.7 L802.6,294.7 L797.6,294.7 L797.9,286.2 L802.1,282.7Z" fill="#c860b8"/><path d="M806.9,260.9 L799.6,264.8 L798.0,264.5 L797.6,256.0 L802.2,256.0 L806.7,256.0 L806.9,260.9Z" fill="#d060b8"/><path d="M822.0,291.6 L826.4,291.6 L830.8,291.6 L835.2,291.6 L839.6,291.6 L844.0,291.6 L843.2,302.4 L838.8,302.4 L834.4,302.4 L830.0,302.4 L825.6,302.4 L821.3,302.4Z" fill="#d65cb4"/><path d="M829.0,276.1 L829.0,268.4 L828.7,260.6 L833.1,260.6 L837.5,260.6 L842.0,260.6 L846.4,260.6 L850.8,260.6 L851.0,267.6 L851.1,274.6 L851.0,281.5 L850.8,288.5 L846.4,288.5 L842.0,288.5 L837.5,288.5 L833.1,288.5 L828.7,288.5Z" fill="#e84ea8"/><path d="M831.2,271.5 L831.1,264.8 L830.8,258.1 L830.4,251.4 L835.2,251.4 L840.1,251.4 L844.9,251.4 L849.8,251.4 L854.6,251.4 L850.8,261.6 L844.4,268.4 L837.8,271.5Z" fill="#c860b8"/><path d="M852.1,268.4 L857.7,268.4 L863.2,268.4 L868.7,268.4 L868.8,274.6 L868.7,280.8 L868.5,286.9 L868.2,293.1 L862.7,293.1 L857.1,293.1 L851.6,293.1Z" fill="#b86cc0"/><path d="M864.1,281.3 L868.7,279.4 L868.2,291.7 L864.1,281.3Z" fill="#c860b8"/><path d="M860.2,293.1 L851.6,293.1 L852.0,286.4 L852.2,279.7 L860.6,286.8 L860.2,293.1Z" fill="#c860b8"/><path d="M860.6,286.8 L863.9,281.3 L864.1,281.3 L868.2,291.7 L868.2,293.1 L860.2,293.1 L860.6,286.8Z" fill="#c860b8"/><path d="M864.1,281.3 L863.9,281.3 L860.9,274.8 L857.7,268.4 L863.2,268.4 L868.7,268.4 L868.7,279.4 L864.1,281.3Z" fill="#b86cc0"/><path d="M863.9,281.3 L860.6,286.8 L852.2,279.7 L852.1,268.4 L857.7,268.4 L860.9,274.8 L863.9,281.3Z" fill="#b86cc0"/><path d="M876.5,273.0 L881.6,273.0 L886.7,273.0 L891.7,273.0 L896.8,273.0 L901.9,273.0 L901.9,279.2 L901.7,285.4 L901.3,291.6 L900.8,297.7 L900.2,303.9 L895.1,303.9 L890.1,303.9 L885.0,303.9 L880.0,303.9 L874.9,303.9Z" fill="#5a5a6e"/><path d="M889.7,277.7 L895.8,277.7 L901.9,277.7 L901.7,284.2 L901.4,290.8 L900.9,297.4 L900.2,303.9 L895.8,303.9 L891.4,303.9Z" fill="#e84ea8"/><path d="M901.8,280.8 L906.7,280.8 L911.5,280.8 L916.4,280.8 L921.2,280.8 L926.1,280.8 L925.8,287.7 L925.3,294.7 L924.6,301.6 L923.7,308.5 L918.9,308.5 L914.1,308.5 L909.3,308.5 L904.4,308.5 L899.6,308.5Z" fill="#e84ea8"/><path d="M843.2,216.4 L847.6,216.4 L851.9,216.4 L856.2,216.4 L860.5,216.4 L864.8,216.4 L866.1,222.8 L867.3,229.3 L868.3,235.8 L869.1,242.4 L869.8,249.0 L870.3,255.6 L870.7,262.2 L866.3,262.2 L861.9,262.2 L857.5,262.2 L853.1,262.2 L848.6,262.2Z" fill="#e050a8"/><path d="M842.6,296.2 L847.4,296.2 L852.2,296.2 L856.9,296.2 L861.7,296.2 L866.5,296.2 L871.2,296.2 L870.7,302.4 L870.0,308.5 L865.3,308.5 L860.5,308.5 L855.8,308.5 L851.0,308.5 L846.3,308.5 L841.5,308.5Z" fill="#9a6cc8"/><path d="M883.8,358.1 L880.2,355.2 L879.3,348.0 L885.7,337.9 L892.1,339.0 L893.4,345.6 L893.4,346.5 L883.8,358.1Z" fill="#c060b8"/><path d="M850.5,397.7 L851.7,396.9 L858.0,396.4 L860.0,396.9 L862.3,403.1 L862.3,403.7 L861.6,405.1 L857.6,405.1 L853.6,405.1 L849.6,405.1 L845.6,405.1 L850.5,397.7Z" fill="#6a6cc8"/><path d="M890.5,309.6 L886.5,306.0 L882.4,302.4 L890.0,302.4 L890.5,309.6Z" fill="#a06cc4"/><path d="M850.0,397.6 L850.5,397.7 L845.6,405.1 L838.2,405.1 L850.0,397.6Z" fill="#4a6cbf"/><path d="M860.7,308.9 L857.8,315.3 L854.3,313.5 L849.8,302.4 L858.5,302.4 L860.7,308.9Z" fill="#2f7f6e"/><path d="M905.4,351.6 L910.8,353.5 L916.1,355.4 L907.3,363.9 L902.1,367.1 L895.2,367.8 L894.8,367.3 L897.9,361.0 L900.8,354.6 L905.4,351.6Z" fill="#6a6cc8"/><path d="M823.6,400.3 L818.7,399.0 L813.7,397.7 L817.5,394.3 L823.5,393.5 L824.7,398.8 L823.6,400.3Z" fill="#4a6cbf"/><path d="M899.1,390.3 L901.4,389.3 L898.0,394.7 L894.5,399.9 L890.7,405.1 L883.7,405.1 L891.5,397.8 L899.1,390.3Z" fill="#3a7a88"/><path d="M871.7,365.8 L871.7,365.9 L859.9,376.0 L857.6,368.4 L859.9,364.6 L866.0,363.5 L872.1,362.5 L871.7,365.8Z" fill="#4a6cbf"/><path d="M882.9,397.1 L878.5,405.1 L874.3,405.1 L870.0,405.1 L865.8,405.1 L861.6,405.1 L862.3,403.7 L868.9,398.5 L875.5,393.2 L879.2,395.2 L882.9,397.1Z" fill="#4a6cbf"/><path d="M889.2,317.4 L887.1,322.9 L882.9,329.5 L879.8,329.6 L876.5,321.3 L872.8,313.0 L875.3,304.5 L880.0,308.8 L884.7,313.1 L889.2,317.4Z" fill="#a06cc4"/><path d="M864.3,329.0 L865.3,321.8 L872.8,313.0 L876.5,321.3 L879.8,329.6 L874.5,334.4 L871.4,334.0 L864.3,329.0Z" fill="#3a7a88"/><path d="M866.2,379.4 L868.6,384.7 L864.4,390.9 L860.0,396.9 L858.0,396.4 L860.3,390.9 L862.3,385.3 L864.2,379.7 L866.2,379.4Z" fill="#6a6cc8"/><path d="M894.8,367.3 L895.2,367.8 L894.3,374.5 L893.2,381.0 L890.4,385.4 L883.8,386.4 L883.6,376.5 L887.3,371.6 L890.2,368.9 L894.8,367.3Z" fill="#4a6cbf"/><path d="M875.3,380.8 L871.6,384.0 L868.6,384.7 L866.2,379.4 L874.6,371.8 L875.3,372.4 L875.3,380.8Z" fill="#6a6cc8"/><path d="M912.2,369.2 L908.6,376.5 L904.7,383.6 L903.5,377.9 L905.7,373.8 L910.3,370.2 L912.2,369.2Z" fill="#9a6cc8"/><path d="M857.6,368.4 L848.9,371.1 L848.5,364.7 L847.8,358.3 L848.0,355.2 L857.4,349.7 L859.0,356.5 L860.4,363.2 L859.9,364.6 L857.6,368.4Z" fill="#7a6cc8"/><path d="M862.0,345.3 L859.8,345.6 L859.2,336.4 L864.3,329.0 L871.4,334.0 L862.0,345.3Z" fill="#2f7f6e"/><path d="M871.7,365.8 L877.4,362.9 L883.1,359.9 L878.9,365.8 L874.7,371.6 L871.7,365.9 L871.7,365.8Z" fill="#7a6cc8"/><path d="M830.8,386.0 L835.1,389.3 L835.1,389.3 L831.6,394.4 L829.3,395.6 L826.8,390.3 L827.6,389.3 L830.8,386.0Z" fill="#6a6cc8"/><path d="M865.4,306.2 L860.7,308.9 L858.5,302.4 L864.2,302.4 L870.0,302.4 L865.4,306.2Z" fill="#3a7a88"/><path d="M859.9,364.6 L860.4,363.2 L869.5,352.4 L873.0,360.8 L872.1,362.5 L866.0,363.5 L859.9,364.6Z" fill="#3a7a88"/><path d="M883.1,359.9 L883.7,359.2 L887.0,364.0 L890.2,368.9 L887.3,371.6 L881.3,372.0 L875.3,372.4 L874.6,371.8 L874.7,371.6 L878.9,365.8 L883.1,359.9Z" fill="#6a6cc8"/><path d="M897.3,310.6 L893.9,311.8 L894.8,302.4 L902.2,302.4 L897.3,310.6Z" fill="#9a6cc8"/><path d="M874.7,371.6 L874.6,371.8 L866.2,379.4 L864.2,379.7 L859.7,378.7 L859.9,376.0 L871.7,365.9 L874.7,371.6Z" fill="#4a6cbf"/><path d="M869.5,352.4 L870.7,349.7 L879.3,348.0 L880.2,355.2 L873.0,360.8 L869.5,352.4Z" fill="#7a6cc8"/><path d="M841.4,392.2 L835.1,389.3 L835.1,389.3 L839.8,383.4 L844.4,377.5 L845.7,383.8 L841.5,392.2 L841.4,392.2Z" fill="#6a6cc8"/><path d="M900.8,354.6 L897.9,361.0 L894.8,367.3 L890.2,368.9 L887.0,364.0 L883.7,359.2 L883.8,358.1 L893.4,346.5 L896.8,349.8 L900.1,353.1 L900.8,354.6Z" fill="#7a6cc8"/><path d="M853.8,336.3 L851.7,328.3 L860.4,319.8 L865.3,321.8 L864.3,329.0 L859.2,336.4 L853.8,336.3Z" fill="#6a6cc8"/><path d="M917.6,334.2 L924.2,336.7 L922.4,342.7 L920.5,348.7 L918.3,354.6 L916.1,355.4 L910.8,353.5 L905.4,351.6 L911.2,341.9 L917.6,334.2Z" fill="#7a6cc8"/><path d="M835.6,358.2 L830.4,351.9 L838.6,346.9 L837.9,356.3 L835.6,358.2Z" fill="#3a7a88"/><path d="M899.7,328.3 L895.5,326.5 L891.3,324.7 L887.1,322.9 L889.2,317.4 L890.6,316.0 L894.8,319.0 L898.9,322.0 L903.0,325.1 L899.7,328.3Z" fill="#9a6cc8"/><path d="M854.3,313.5 L851.2,319.9 L847.9,326.3 L847.1,326.5 L845.3,325.1 L843.7,315.9 L846.4,309.1 L849.0,302.4 L849.8,302.4 L854.3,313.5Z" fill="#3a7a88"/><path d="M873.0,360.8 L880.2,355.2 L883.8,358.1 L883.7,359.2 L883.1,359.9 L877.4,362.9 L871.7,365.8 L872.1,362.5 L873.0,360.8Z" fill="#3a7a88"/><path d="M818.3,392.9 L817.5,394.3 L813.7,397.7 L809.8,400.6 L812.9,394.4 L815.7,388.0 L818.4,381.5 L820.2,382.6 L818.3,392.9Z" fill="#2f7f6e"/><path d="M858.8,316.6 L857.8,315.3 L860.7,308.9 L865.4,306.2 L858.8,316.6Z" fill="#3a7a88"/><path d="M857.4,349.7 L859.8,345.6 L862.0,345.3 L866.2,346.6 L870.4,347.9 L870.7,349.7 L869.5,352.4 L860.4,363.2 L859.0,356.5 L857.4,349.7Z" fill="#3a7a88"/><path d="M892.1,339.0 L885.7,337.9 L882.9,329.5 L887.1,322.9 L891.3,324.7 L895.5,326.5 L899.7,328.3 L892.1,339.0Z" fill="#c060b8"/><path d="M823.5,393.5 L826.8,390.3 L829.3,395.6 L824.7,398.8 L823.5,393.5Z" fill="#3a7a88"/><path d="M872.0,387.8 L877.2,387.2 L877.2,390.7 L875.5,393.2 L868.9,398.5 L862.3,403.7 L862.3,403.1 L867.3,395.5 L872.0,387.8Z" fill="#4a6cbf"/><path d="M905.7,373.8 L902.1,367.1 L907.3,363.9 L910.3,370.2 L905.7,373.8Z" fill="#6a6cc8"/><path d="M883.8,386.4 L877.2,390.7 L877.2,387.2 L880.6,379.3 L883.6,376.5 L883.8,386.4Z" fill="#7a6cc8"/><path d="M875.3,304.5 L872.8,313.0 L865.3,321.8 L860.4,319.8 L858.8,316.6 L865.4,306.2 L870.0,302.4 L875.3,302.4 L875.3,304.5Z" fill="#2f7f6e"/><path d="M840.9,356.4 L847.4,354.8 L848.0,355.2 L847.8,358.3 L838.2,369.1 L839.6,362.8 L840.9,356.4Z" fill="#7a6cc8"/><path d="M899.1,390.3 L894.4,389.6 L889.7,388.9 L890.4,385.4 L893.2,381.0 L898.3,379.5 L903.5,377.9 L904.7,383.6 L901.4,389.3 L899.1,390.3Z" fill="#9a6cc8"/><path d="M871.6,384.0 L872.0,387.8 L867.3,395.5 L862.3,403.1 L860.0,396.9 L864.4,390.9 L868.6,384.7 L871.6,384.0Z" fill="#3a7a88"/><path d="M844.4,377.5 L839.8,383.4 L835.1,389.3 L830.8,386.0 L831.5,380.4 L838.7,374.7 L845.3,374.8 L844.4,377.5Z" fill="#4a6cbf"/><path d="M889.7,388.9 L894.4,389.6 L899.1,390.3 L891.5,397.8 L883.7,405.1 L878.5,405.1 L882.9,397.1 L889.7,388.9Z" fill="#9a6cc8"/><path d="M857.8,381.1 L859.7,378.7 L864.2,379.7 L862.3,385.3 L860.3,390.9 L858.0,396.4 L851.7,396.9 L854.9,389.1 L857.8,381.1Z" fill="#4a6cbf"/><path d="M823.6,400.3 L824.7,398.8 L829.3,395.6 L831.6,394.4 L832.0,397.5 L825.6,405.1 L821.1,405.1 L823.6,400.3Z" fill="#7a6cc8"/><path d="M832.0,397.5 L833.3,398.3 L833.9,405.1 L829.8,405.1 L825.6,405.1 L832.0,397.5Z" fill="#4a6cbf"/><path d="M838.7,374.7 L831.5,380.4 L828.2,379.7 L828.5,377.0 L834.4,368.5 L837.8,369.8 L838.7,374.7Z" fill="#6a6cc8"/><path d="M880.6,379.3 L877.2,387.2 L872.0,387.8 L871.6,384.0 L875.3,380.8 L880.6,379.3Z" fill="#7a6cc8"/><path d="M847.9,326.3 L851.2,319.9 L854.3,313.5 L857.8,315.3 L858.8,316.6 L860.4,319.8 L851.7,328.3 L847.9,326.3Z" fill="#2f7f6e"/><path d="M893.4,346.5 L893.4,345.6 L903.9,338.0 L904.3,339.9 L902.3,346.5 L900.1,353.1 L896.8,349.8 L893.4,346.5Z" fill="#3a7a88"/><path d="M845.7,383.8 L844.4,377.5 L845.3,374.8 L848.9,371.1 L857.6,368.4 L859.9,376.0 L859.7,378.7 L857.8,381.1 L851.9,384.5 L845.7,383.8Z" fill="#4a6cbf"/><path d="M904.3,339.9 L911.2,341.9 L905.4,351.6 L900.8,354.6 L900.1,353.1 L902.3,346.5 L904.3,339.9Z" fill="#7a6cc8"/><path d="M813.7,397.7 L818.7,399.0 L823.6,400.3 L821.1,405.1 L816.6,405.1 L812.0,405.1 L807.4,405.1 L809.8,400.6 L813.7,397.7Z" fill="#4a6cbf"/><path d="M825.6,370.0 L828.5,377.0 L828.2,379.7 L827.7,380.0 L820.2,382.6 L818.4,381.5 L822.2,371.5 L825.6,370.0Z" fill="#7a6cc8"/><path d="M883.6,376.5 L880.6,379.3 L875.3,380.8 L875.3,372.4 L881.3,372.0 L887.3,371.6 L883.6,376.5Z" fill="#4a6cbf"/><path d="M910.3,370.2 L907.3,363.9 L916.1,355.4 L918.3,354.6 L915.4,362.0 L912.2,369.2 L910.3,370.2Z" fill="#7a6cc8"/><path d="M917.6,334.2 L915.2,328.0 L912.7,321.7 L917.0,315.3 L921.3,308.9 L925.3,302.4 L931.1,302.4 L930.2,309.3 L929.0,316.2 L927.6,323.1 L926.0,329.9 L924.2,336.7 L917.6,334.2Z" fill="#b86cc0"/><path d="M859.8,345.6 L857.4,349.7 L848.0,355.2 L847.4,354.8 L848.0,348.5 L848.4,342.2 L853.8,336.3 L859.2,336.4 L859.8,345.6Z" fill="#6a6cc8"/><path d="M848.4,342.2 L842.0,340.4 L844.6,333.5 L847.1,326.5 L847.9,326.3 L851.7,328.3 L853.8,336.3 L848.4,342.2Z" fill="#3a7a88"/><path d="M842.0,340.4 L841.1,341.0 L836.6,329.6 L845.3,325.1 L847.1,326.5 L844.6,333.5 L842.0,340.4Z" fill="#6a6cc8"/><path d="M908.5,322.5 L912.7,321.7 L915.2,328.0 L917.6,334.2 L911.2,341.9 L904.3,339.9 L903.9,338.0 L906.3,330.3 L908.5,322.5Z" fill="#4a6cbf"/><path d="M823.8,387.2 L818.3,392.9 L820.2,382.6 L827.7,380.0 L823.8,387.2Z" fill="#4a6cbf"/><path d="M845.3,325.1 L836.6,329.6 L833.1,329.2 L834.8,318.7 L843.7,315.9 L845.3,325.1Z" fill="#7a6cc8"/><path d="M831.2,363.1 L825.6,370.0 L822.2,371.5 L824.3,365.1 L826.2,358.7 L831.2,363.1Z" fill="#4a6cbf"/><path d="M841.5,392.2 L845.7,383.8 L851.9,384.5 L843.2,394.8 L841.5,392.2Z" fill="#6a6cc8"/><path d="M907.2,320.7 L902.3,315.6 L897.3,310.6 L902.2,302.4 L905.9,302.4 L906.8,311.5 L907.2,320.7Z" fill="#b86cc0"/><path d="M825.6,370.0 L831.2,363.1 L832.4,362.5 L834.4,368.5 L828.5,377.0 L825.6,370.0Z" fill="#3a7a88"/><path d="M893.9,311.8 L891.6,313.9 L890.5,309.6 L890.0,302.4 L894.8,302.4 L893.9,311.8Z" fill="#9a6cc8"/><path d="M839.3,343.2 L834.8,343.0 L830.3,342.8 L831.8,336.0 L833.1,329.2 L836.6,329.6 L841.1,341.0 L839.3,343.2Z" fill="#4a6cbf"/><path d="M874.5,334.4 L872.5,341.2 L870.4,347.9 L866.2,346.6 L862.0,345.3 L871.4,334.0 L874.5,334.4Z" fill="#4a6cbf"/><path d="M907.2,320.7 L906.8,311.5 L905.9,302.4 L910.8,302.4 L915.6,302.4 L920.5,302.4 L925.3,302.4 L921.3,308.9 L917.0,315.3 L912.7,321.7 L908.5,322.5 L907.7,322.3 L907.2,320.7Z" fill="#b86cc0"/><path d="M870.7,349.7 L870.4,347.9 L872.5,341.2 L874.5,334.4 L879.8,329.6 L882.9,329.5 L885.7,337.9 L879.3,348.0 L870.7,349.7Z" fill="#b86cc0"/><path d="M903.0,325.1 L898.9,322.0 L894.8,319.0 L890.6,316.0 L891.6,313.9 L893.9,311.8 L897.3,310.6 L902.3,315.6 L907.2,320.7 L907.7,322.3 L903.0,325.1Z" fill="#9a6cc8"/><path d="M835.8,310.6 L836.6,302.4 L844.1,302.4 L835.8,310.6Z" fill="#6a6cc8"/><path d="M843.7,315.9 L834.8,318.7 L835.8,310.6 L844.1,302.4 L849.0,302.4 L846.4,309.1 L843.7,315.9Z" fill="#3a7a88"/><path d="M890.4,385.4 L889.7,388.9 L882.9,397.1 L879.2,395.2 L875.5,393.2 L877.2,390.7 L883.8,386.4 L890.4,385.4Z" fill="#6a6cc8"/><path d="M902.1,367.1 L905.7,373.8 L903.5,377.9 L898.3,379.5 L893.2,381.0 L894.3,374.5 L895.2,367.8 L902.1,367.1Z" fill="#7a6cc8"/><path d="M827.6,389.3 L826.8,390.3 L823.5,393.5 L817.5,394.3 L818.3,392.9 L823.8,387.2 L827.6,389.3Z" fill="#7a6cc8"/><path d="M830.4,351.9 L835.6,358.2 L832.4,362.5 L831.2,363.1 L826.2,358.7 L828.3,351.0 L830.4,351.9Z" fill="#2f7f6e"/><path d="M834.4,368.5 L832.4,362.5 L835.6,358.2 L837.9,356.3 L840.9,356.4 L839.6,362.8 L838.2,369.1 L837.8,369.8 L834.4,368.5Z" fill="#7a6cc8"/><path d="M851.9,384.5 L857.8,381.1 L854.9,389.1 L851.7,396.9 L850.5,397.7 L850.0,397.6 L846.5,396.6 L843.1,395.6 L843.2,394.8 L851.9,384.5Z" fill="#6a6cc8"/><path d="M847.4,354.8 L840.9,356.4 L837.9,356.3 L838.6,346.9 L839.3,343.2 L841.1,341.0 L842.0,340.4 L848.4,342.2 L848.0,348.5 L847.4,354.8Z" fill="#3a7a88"/><path d="M839.3,343.2 L838.6,346.9 L830.4,351.9 L828.3,351.0 L830.3,342.8 L834.8,343.0 L839.3,343.2Z" fill="#4a6cbf"/><path d="M893.4,345.6 L892.1,339.0 L899.7,328.3 L903.0,325.1 L907.7,322.3 L908.5,322.5 L906.3,330.3 L903.9,338.0 L893.4,345.6Z" fill="#4a6cbf"/><path d="M838.2,405.1 L834.1,405.1 L843.1,395.6 L846.5,396.6 L850.0,397.6 L838.2,405.1Z" fill="#4a6cbf"/><path d="M831.5,380.4 L830.8,386.0 L827.6,389.3 L823.8,387.2 L827.7,380.0 L828.2,379.7 L831.5,380.4Z" fill="#4a6cbf"/><path d="M843.1,395.6 L834.1,405.1 L833.9,405.1 L833.3,398.3 L841.4,392.2 L841.5,392.2 L843.2,394.8 L843.1,395.6Z" fill="#3a7a88"/><path d="M838.7,374.7 L837.8,369.8 L838.2,369.1 L847.8,358.3 L848.5,364.7 L848.9,371.1 L845.3,374.8 L838.7,374.7Z" fill="#4a6cbf"/><path d="M889.2,317.4 L884.7,313.1 L880.0,308.8 L875.3,304.5 L875.3,302.4 L882.4,302.4 L886.5,306.0 L890.5,309.6 L891.6,313.9 L890.6,316.0 L889.2,317.4Z" fill="#9a6cc8"/><path d="M831.6,394.4 L835.1,389.3 L841.4,392.2 L833.3,398.3 L832.0,397.5 L831.6,394.4Z" fill="#2f7f6e"/><path d="M877.4,390.9 L882.9,390.9 L888.4,390.9 L884.8,396.8 L880.9,402.6 L875.5,402.6 L870.2,402.6Z" fill="#9a6cc8"/><path d="M931.4,376.1 L935.8,376.1 L940.3,376.1 L944.7,376.1 L949.2,376.1 L953.6,376.1 L958.1,376.1 L954.7,381.6 L951.2,387.0 L947.4,392.3 L943.5,397.5 L939.4,402.6 L935.0,407.6 L930.5,412.4 L926.4,412.4 L922.3,412.4 L918.2,412.4 L914.1,412.4 L909.9,412.4 L905.8,412.4Z" fill="#4a6cbf"/><path d="M353.1,177.4 L346.6,187.0 L344.8,188.1 L347.7,176.9 L348.4,176.9 L353.1,177.2 L353.1,177.4Z" fill="#9a6ec6"/><path d="M369.0,212.4 L360.7,218.6 L358.1,212.1 L364.1,206.0 L364.6,205.6 L369.0,212.4Z" fill="#9a6cc8"/><path d="M385.2,227.8 L384.9,231.4 L377.4,229.6 L377.8,228.5 L384.8,226.5 L385.2,227.8Z" fill="#e050a8"/><path d="M382.0,200.5 L376.9,202.7 L376.0,202.4 L377.8,194.9 L379.7,187.5 L380.8,191.4 L383.4,194.9 L382.0,200.5Z" fill="#c860b8"/><path d="M375.0,221.8 L369.9,226.3 L366.9,224.0 L369.6,215.0 L370.7,215.2 L371.7,215.7 L374.9,218.5 L375.0,221.8Z" fill="#b86ac0"/><path d="M356.3,200.0 L360.2,203.0 L364.1,206.0 L358.1,212.1 L355.4,204.5 L353.7,202.4 L356.3,200.0Z" fill="#b86ac0"/><path d="M376.0,202.4 L375.3,203.2 L370.7,202.5 L366.1,201.9 L366.8,196.7 L373.0,191.2 L379.2,185.7 L379.7,187.5 L377.8,194.9 L376.0,202.4Z" fill="#9a6cc8"/><path d="M359.7,190.7 L361.3,194.3 L356.3,200.0 L353.7,202.4 L350.3,198.0 L359.7,190.7Z" fill="#b06cc0"/><path d="M380.3,205.4 L376.9,202.7 L382.0,200.5 L383.8,204.1 L380.3,205.4Z" fill="#c064bc"/><path d="M371.7,215.7 L370.7,215.2 L376.5,210.6 L377.6,211.7 L371.7,215.7Z" fill="#c064bc"/><path d="M370.7,215.2 L369.6,215.0 L369.0,212.4 L374.4,206.2 L376.5,210.6 L370.7,215.2Z" fill="#a86ac4"/><path d="M384.0,204.1 L383.6,213.2 L383.0,213.9 L378.5,212.4 L378.4,212.2 L380.3,205.4 L383.8,204.1 L384.0,204.1Z" fill="#9a6cc8"/><path d="M359.1,188.7 L359.7,190.7 L350.3,198.0 L350.1,197.7 L355.9,189.0 L359.1,188.7Z" fill="#9a6ec6"/><path d="M353.3,184.7 L355.9,181.6 L358.0,179.5 L360.0,180.5 L361.8,180.5 L362.0,182.8 L359.1,188.7 L355.9,189.0 L353.3,184.7Z" fill="#b06cc0"/><path d="M364.6,205.6 L364.1,206.0 L360.2,203.0 L356.3,200.0 L361.3,194.3 L363.0,194.1 L366.8,196.7 L366.1,201.9 L364.6,205.6Z" fill="#a86ac4"/><path d="M384.9,224.0 L381.9,219.0 L383.0,213.9 L383.6,213.2 L383.6,213.4 L387.0,219.4 L389.2,219.4 L384.9,224.0Z" fill="#c860b8"/><path d="M366.6,185.5 L366.4,183.3 L369.4,179.2 L369.7,179.2 L372.1,185.1 L375.3,185.3 L371.0,185.4 L366.6,185.5Z" fill="#9a6cc8"/><path d="M366.8,196.7 L363.0,194.1 L366.6,185.5 L371.0,185.4 L375.3,185.3 L379.2,185.7 L379.2,185.7 L373.0,191.2 L366.8,196.7Z" fill="#a86ac4"/><path d="M355.9,181.6 L353.1,177.4 L353.1,177.2 L353.2,177.2 L358.0,179.5 L355.9,181.6Z" fill="#b06cc0"/><path d="M375.0,221.8 L377.5,222.9 L377.8,228.5 L377.4,229.6 L372.7,228.4 L369.9,226.3 L375.0,221.8Z" fill="#c860b8"/><path d="M389.2,219.4 L392.9,219.4 L393.1,220.0 L392.5,220.0 L393.7,225.3 L393.5,225.4 L390.0,225.4 L389.9,226.4 L385.2,227.8 L384.8,226.5 L384.9,224.0 L389.2,219.4Z" fill="#e050a8"/><path d="M385.2,227.8 L389.9,226.4 L389.3,229.9 L385.4,231.5 L384.9,231.4 L385.2,227.8Z" fill="#c860b8"/><path d="M393.7,225.3 L393.7,225.4 L393.5,225.4 L393.7,225.3Z" fill="#c860b8"/><path d="M383.8,204.1 L382.0,200.5 L383.4,194.9 L384.0,195.7 L384.6,196.0 L384.0,204.1 L383.8,204.1Z" fill="#b86ac0"/><path d="M384.8,226.5 L377.8,228.5 L377.5,222.9 L381.9,219.0 L384.9,224.0 L384.8,226.5Z" fill="#c860b8"/><path d="M392.9,219.4 L395.6,219.4 L397.1,210.4 L401.6,208.9 L406.1,207.4 L401.9,213.7 L397.7,220.0 L393.1,220.0 L392.9,219.4Z" fill="#c064bc"/><path d="M366.9,224.0 L361.0,219.4 L360.7,218.6 L369.0,212.4 L369.0,212.4 L369.6,215.0 L366.9,224.0Z" fill="#b86ac0"/><path d="M366.4,183.3 L362.0,182.8 L361.8,180.5 L365.8,180.5 L366.2,179.2 L369.4,179.2 L366.4,183.3Z" fill="#c064bc"/><path d="M378.4,212.2 L377.6,211.7 L376.5,210.6 L374.4,206.2 L375.3,203.2 L376.0,202.4 L376.9,202.7 L380.3,205.4 L378.4,212.2Z" fill="#b86ac0"/><path d="M353.3,184.7 L346.6,187.0 L353.1,177.4 L355.9,181.6 L353.3,184.7Z" fill="#9a6ec6"/><path d="M374.4,206.2 L369.0,212.4 L369.0,212.4 L364.6,205.6 L366.1,201.9 L370.7,202.5 L375.3,203.2 L374.4,206.2Z" fill="#b86ac0"/><path d="M346.6,187.0 L353.3,184.7 L355.9,189.0 L350.1,197.7 L344.4,189.9 L344.8,188.1 L346.6,187.0Z" fill="#b06cc0"/><path d="M378.5,212.4 L374.9,218.5 L371.7,215.7 L377.6,211.7 L378.4,212.2 L378.5,212.4Z" fill="#c860b8"/><path d="M362.0,182.8 L366.4,183.3 L366.6,185.5 L363.0,194.1 L361.3,194.3 L359.7,190.7 L359.1,188.7 L362.0,182.8Z" fill="#c860b8"/><path d="M383.0,213.9 L381.9,219.0 L377.5,222.9 L375.0,221.8 L374.9,218.5 L378.5,212.4 L383.0,213.9Z" fill="#c860b8"/><path d="M426.7,243.4 L427.7,247.6 L424.3,248.8 L422.7,245.0 L423.7,243.7 L423.8,243.6 L426.7,243.4Z" fill="#4f6ec4"/><path d="M424.3,248.8 L424.9,252.9 L422.4,254.5 L419.2,251.7 L420.3,248.0 L422.7,245.0 L424.3,248.8Z" fill="#4f6ec4"/><path d="M432.4,255.1 L433.7,252.9 L436.1,252.9 L436.2,252.9 L435.3,257.7 L431.2,261.5 L432.4,255.1Z" fill="#8a6cc8"/><path d="M430.4,252.3 L431.5,250.8 L432.0,252.9 L433.7,252.9 L432.4,255.1 L430.4,252.3Z" fill="#5a5a72"/><path d="M424.7,265.8 L421.6,268.7 L420.8,269.0 L420.2,266.7 L420.5,265.7 L422.7,262.2 L424.7,265.8Z" fill="#5a5a72"/><path d="M430.4,252.3 L429.9,252.4 L428.3,251.4 L429.1,248.0 L430.6,246.4 L430.5,246.8 L431.5,250.8 L430.4,252.3Z" fill="#4f6ec4"/><path d="M424.9,252.9 L425.5,253.4 L427.7,260.3 L422.3,259.7 L422.0,259.5 L421.1,258.2 L422.4,254.5 L424.9,252.9Z" fill="#7a6cc8"/><path d="M430.7,262.3 L429.1,262.3 L428.8,261.8 L429.9,252.4 L430.4,252.3 L432.4,255.1 L431.2,261.5 L430.7,262.3Z" fill="#b065c0"/><path d="M428.9,242.6 L429.1,237.3 L434.2,234.5 L434.4,238.2 L431.5,240.9 L430.9,244.4 L428.9,242.6Z" fill="#b065c0"/><path d="M427.7,260.3 L428.8,261.8 L429.1,262.3 L428.6,263.1 L424.7,265.8 L422.7,262.2 L422.3,259.7 L427.7,260.3Z" fill="#b065c0"/><path d="M421.1,258.2 L420.3,258.4 L418.5,254.6 L419.0,252.3 L419.2,251.7 L422.4,254.5 L421.1,258.2Z" fill="#b065c0"/><path d="M428.9,242.6 L426.7,243.4 L423.8,243.6 L428.5,237.6 L429.1,237.3 L428.9,242.6Z" fill="#5a5a72"/><path d="M422.7,262.2 L420.5,265.7 L422.0,259.5 L422.3,259.7 L422.7,262.2Z" fill="#7a6cc8"/><path d="M441.5,265.2 L442.8,270.8 L436.4,270.8 L436.5,272.6 L434.0,273.1 L430.7,262.3 L436.1,263.7 L441.5,265.2Z" fill="#9a6cc8"/><path d="M428.9,242.6 L430.9,244.4 L430.6,246.4 L429.1,248.0 L427.7,247.6 L426.7,243.4 L428.9,242.6Z" fill="#7a6cc8"/><path d="M435.3,257.7 L436.2,252.9 L441.8,255.4 L441.2,259.4 L435.3,257.7Z" fill="#9a6cc8"/><path d="M417.1,261.3 L420.2,266.7 L420.8,269.0 L419.0,273.2 L416.3,270.2 L416.1,265.3 L417.0,261.3 L417.1,261.3Z" fill="#4f6ec4"/><path d="M420.8,269.0 L421.6,268.7 L427.8,273.1 L429.5,280.3 L429.1,282.1 L428.2,282.0 L424.2,274.9 L419.3,273.6 L419.0,273.2 L420.8,269.0Z" fill="#b065c0"/><path d="M427.7,247.6 L429.1,248.0 L428.3,251.4 L425.5,253.4 L424.9,252.9 L424.3,248.8 L427.7,247.6Z" fill="#5a5a72"/><path d="M430.7,262.3 L430.7,262.3 L431.2,261.5 L435.3,257.7 L441.2,259.4 L440.9,262.2 L441.5,265.2 L436.1,263.7 L430.7,262.3Z" fill="#9a6cc8"/><path d="M420.3,258.4 L417.1,261.3 L417.0,261.3 L418.5,254.6 L420.3,258.4Z" fill="#b065c0"/><path d="M429.5,280.3 L434.0,273.1 L436.5,272.6 L437.0,277.7 L436.3,287.6 L431.6,282.3 L429.1,282.1 L429.5,280.3Z" fill="#9a6cc8"/><path d="M422.0,259.5 L420.5,265.7 L420.2,266.7 L417.1,261.3 L420.3,258.4 L421.1,258.2 L422.0,259.5Z" fill="#5a5a72"/><path d="M428.3,251.4 L429.9,252.4 L428.8,261.8 L427.7,260.3 L425.5,253.4 L428.3,251.4Z" fill="#b065c0"/><path d="M424.7,265.8 L428.6,263.1 L427.8,273.1 L421.6,268.7 L424.7,265.8Z" fill="#5a5a72"/><path d="M430.7,262.3 L430.7,262.3 L434.0,273.1 L429.5,280.3 L427.8,273.1 L428.6,263.1 L429.1,262.3 L430.7,262.3Z" fill="#5a5a72"/><path d="M653.7,315.0 L655.6,315.8 L656.1,312.8 L659.7,314.3 L659.1,317.7 L658.1,317.7 L656.6,322.5 L654.9,323.2 L653.1,319.0 L653.7,315.0Z" fill="#6a6ec8"/><path d="M644.2,327.0 L644.9,329.3 L644.6,329.4 L642.3,329.4 L644.2,327.0Z" fill="#3e7a94"/><path d="M638.3,323.4 L638.6,314.6 L640.1,314.6 L641.0,315.5 L640.0,323.3 L638.3,323.4Z" fill="#3e7a94"/><path d="M641.1,324.4 L642.8,324.1 L643.4,324.3 L644.2,325.1 L644.2,327.0 L642.3,329.4 L640.3,329.4 L641.1,324.4Z" fill="#3e7a94"/><path d="M643.4,324.3 L642.8,324.1 L643.6,315.9 L646.0,315.2 L647.1,317.5 L643.4,324.3Z" fill="#3e7a94"/><path d="M640.3,329.4 L638.1,329.4 L638.3,323.4 L640.0,323.3 L641.1,324.4 L640.3,329.4Z" fill="#3e7a94"/><path d="M642.8,324.1 L641.1,324.4 L640.0,323.3 L641.0,315.5 L643.6,315.9 L642.8,324.1Z" fill="#3e7a94"/><path d="M647.4,324.7 L648.3,318.8 L653.1,319.0 L654.9,323.2 L653.3,323.7 L648.8,326.7 L647.4,324.7Z" fill="#7a6cc8"/><path d="M646.0,315.2 L643.6,315.9 L641.0,315.5 L640.1,314.6 L643.0,314.6 L643.1,310.6 L646.8,312.2 L646.0,315.2Z" fill="#4f6ec4"/><path d="M644.2,327.0 L644.2,325.1 L647.4,324.7 L648.8,326.7 L644.9,329.3 L644.2,327.0Z" fill="#3e7a94"/><path d="M653.1,319.0 L648.3,318.8 L647.1,317.5 L646.0,315.2 L646.8,312.2 L653.7,315.0 L653.1,319.0Z" fill="#7a6cc8"/><path d="M648.3,318.8 L647.4,324.7 L644.2,325.1 L643.4,324.3 L647.1,317.5 L648.3,318.8Z" fill="#7a6cc8"/><path d="M659.7,314.3 L662.9,311.6 L662.7,313.1 L662.5,317.7 L659.1,317.7 L659.7,314.3Z" fill="#3e7a94"/><path d="M659.7,314.3 L656.1,312.8 L658.0,300.8 L662.8,303.3 L664.1,303.9 L663.5,308.5 L662.9,311.6 L659.7,314.3Z" fill="#7a6cc8"/><path d="M649.9,336.9 L645.3,329.7 L644.6,329.4 L646.3,328.4 L652.6,333.2 L652.5,333.6 L649.9,336.9Z" fill="#3e7a94"/><path d="M653.9,330.6 L654.0,329.5 L659.4,323.1 L662.0,323.7 L662.0,324.1 L659.0,332.3 L657.8,332.7 L653.9,330.6Z" fill="#3e7a94"/><path d="M652.5,333.6 L656.4,339.1 L656.5,339.4 L656.4,342.5 L653.3,341.7 L650.1,337.2 L649.9,336.9 L652.5,333.6Z" fill="#3e7a94"/><path d="M657.8,332.7 L659.0,332.3 L660.7,335.4 L656.5,339.4 L656.4,339.1 L657.8,332.7Z" fill="#3a7a8c"/><path d="M652.6,333.2 L646.3,328.4 L651.2,325.2 L654.0,329.5 L653.9,330.6 L652.6,333.2Z" fill="#3a7a8c"/><path d="M656.5,339.4 L660.7,335.4 L661.6,335.7 L661.6,335.7 L657.5,342.9 L656.4,342.5 L656.5,339.4Z" fill="#2f7f6e"/><path d="M651.2,325.2 L653.3,323.7 L656.6,322.5 L659.4,323.1 L654.0,329.5 L651.2,325.2Z" fill="#2f7f6e"/><path d="M652.5,333.6 L652.6,333.2 L653.9,330.6 L657.8,332.7 L656.4,339.1 L652.5,333.6Z" fill="#3a7a8c"/><path d="M662.0,324.1 L661.9,329.7 L661.6,335.7 L660.7,335.4 L659.0,332.3 L662.0,324.1Z" fill="#3e7a94"/><path d="M665.4,321.3 L665.2,320.7 L664.0,319.3 L664.7,318.0 L667.0,317.7 L668.0,320.6 L665.4,321.3Z" fill="#7a6cc8"/><path d="M668.0,320.6 L667.0,317.7 L668.2,316.4 L668.6,318.9 L668.2,320.7 L668.0,320.6Z" fill="#7a6cc8"/><path d="M667.0,317.7 L664.7,318.0 L664.8,316.1 L666.3,314.8 L668.2,316.2 L668.2,316.4 L667.0,317.7Z" fill="#4a6cbf"/><path d="M666.5,314.3 L666.3,314.8 L664.8,316.1 L663.1,310.9 L663.5,308.5 L664.1,303.9 L666.9,309.5 L666.5,314.3Z" fill="#7a6cc8"/><path d="M666.3,314.8 L666.5,314.3 L667.8,314.2 L668.2,316.2 L666.3,314.8Z" fill="#5a6ec8"/><path d="M668.0,320.6 L668.2,320.7 L667.1,326.1 L665.4,321.3 L668.0,320.6Z" fill="#7a6cc8"/><path d="M666.5,314.3 L666.9,309.5 L667.2,310.0 L667.8,314.2 L666.5,314.3Z" fill="#7a6cc8"/><path d="M664.0,319.3 L662.5,317.7 L662.7,313.1 L663.1,310.9 L664.8,316.1 L664.7,318.0 L664.0,319.3Z" fill="#4a6cbf"/><path d="M664.5,348.5 L663.8,347.4 L663.3,345.3 L663.7,342.8 L668.0,336.8 L672.8,340.8 L667.6,351.7 L664.5,348.5Z" fill="#6a6ec8"/><path d="M664.5,348.5 L667.6,351.7 L666.7,353.4 L660.0,356.0 L659.4,353.7 L664.5,348.5Z" fill="#4f6ec4"/><path d="M675.4,317.3 L680.6,312.5 L682.0,320.7 L678.1,329.2 L675.4,317.3Z" fill="#7a6cc8"/><path d="M663.8,347.4 L658.4,350.0 L657.6,343.2 L663.3,345.3 L663.8,347.4Z" fill="#4f6ec4"/><path d="M669.1,318.6 L668.3,317.1 L667.2,310.0 L673.7,310.0 L679.6,307.0 L680.6,312.5 L675.4,317.3 L669.1,318.6Z" fill="#6a6ec8"/><path d="M667.2,329.8 L668.0,336.8 L663.7,342.8 L661.5,336.0 L661.6,335.7 L661.9,331.0 L667.2,329.8Z" fill="#6a6ec8"/><path d="M669.3,326.9 L669.1,318.6 L675.4,317.3 L678.1,329.2 L677.4,330.8 L669.3,326.9Z" fill="#4a6cbf"/><path d="M663.8,347.4 L664.5,348.5 L659.4,353.7 L658.5,350.5 L658.4,350.0 L663.8,347.4Z" fill="#4f6ec4"/><path d="M664.3,319.6 L665.2,320.7 L667.1,326.1 L668.6,318.9 L668.3,317.1 L669.1,318.6 L669.3,326.9 L667.2,329.8 L661.9,331.0 L661.9,329.7 L661.9,329.6 L664.3,319.6Z" fill="#7a6cc8"/><path d="M663.7,342.8 L663.3,345.3 L657.6,343.2 L657.5,342.9 L661.5,336.0 L663.7,342.8Z" fill="#4f6ec4"/><path d="M661.9,329.6 L662.0,323.7 L656.6,322.5 L658.1,317.7 L662.5,317.7 L664.3,319.6 L661.9,329.6Z" fill="#4a6cbf"/><path d="M669.3,326.9 L677.4,330.8 L672.8,340.8 L668.0,336.8 L667.2,329.8 L669.3,326.9Z" fill="#6a6ec8"/><path d="M644.6,329.4 L645.3,329.7 L650.1,337.2 L653.3,341.7 L644.7,350.5 L643.8,347.6 L644.2,338.7 L642.4,331.3Z" fill="#3a7a8c"/><path d="M650.7,363.3 L654.7,355.0 L658.8,362.8 L653.6,371.3 L650.7,363.3Z" fill="#a06cc4"/><path d="M654.2,349.4 L656.9,348.5 L654.7,355.0 L650.7,363.3 L650.5,363.2 L643.9,353.5 L649.0,351.5 L654.2,349.4Z" fill="#6a6ec8"/><path d="M643.9,353.5 L650.5,363.2 L645.1,365.4 L643.9,359.3 L642.5,353.0 L643.9,353.5Z" fill="#c860b8"/><path d="M635.0,380.3 L627.3,378.8 L625.6,371.9 L623.9,364.9 L625.1,361.1 L628.5,367.6 L631.8,374.0 L635.0,380.3Z" fill="#e858b0"/><path d="M638.7,375.2 L637.8,380.9 L635.0,380.3 L631.8,374.0 L628.5,367.6 L625.1,361.1 L625.1,360.9 L632.5,360.9 L632.7,357.1 L634.7,363.2 L636.8,369.2 L638.7,375.2Z" fill="#9a6cc8"/><path d="M641.9,367.6 L638.7,375.2 L636.8,369.2 L634.7,363.2 L632.7,357.1 L633.0,349.9 L634.4,355.7 L639.0,353.0 L640.5,360.4 L641.9,367.6Z" fill="#c860b8"/><path d="M645.1,365.4 L641.9,367.6 L640.5,360.4 L639.0,353.0 L640.3,352.2 L640.7,352.1 L642.5,353.0 L643.9,359.3 L645.1,365.4Z" fill="#9a6cc8"/><path d="M650.5,363.2 L650.7,363.3 L653.6,371.3 L652.4,373.3 L646.8,377.5 L641.4,381.6 L637.8,380.9 L638.7,375.2 L641.9,367.6 L645.1,365.4 L650.5,363.2Z" fill="#c860b8"/><path d="M654.7,355.0 L656.9,348.5 L658.0,346.8 L658.5,350.5 L660.0,356.0 L661.0,359.2 L658.8,362.8 L654.7,355.0Z" fill="#c860b8"/><path d="M656.9,348.5 L654.2,349.4 L647.8,347.3 L653.3,341.7 L657.5,342.9 L658.0,346.8 L656.9,348.5Z" fill="#7a6cc8"/><path d="M654.2,349.4 L649.0,351.5 L643.9,353.5 L642.5,353.0 L640.7,352.1 L644.7,350.5 L647.8,347.3 L654.2,349.4Z" fill="#6a6ec8"/><path d="M647.2,360.9 L651.9,366.9 L652.0,363.7 L650.3,360.9Z" fill="#8a6cc8"/><path d="M656.2,352.5 L658.2,357.2 L655.4,357.2 L655.7,353.4Z" fill="#7a6cc8"/><path d="M684.2,342.8 L690.0,342.6 L695.8,342.3 L693.2,353.4 L688.7,353.4 L684.2,353.4 L684.2,342.8Z" fill="#e24aa4"/><path d="M693.3,333.9 L693.3,327.7 L693.2,321.4 L695.1,318.9 L699.9,322.7 L698.4,330.3 L696.8,337.9 L693.3,333.9Z" fill="#e84ea8"/><path d="M700.7,310.6 L701.9,311.9 L701.2,315.8 L698.7,313.8 L700.7,310.6Z" fill="#e24aa4"/><path d="M695.1,313.5 L695.1,318.9 L693.2,321.4 L688.4,321.1 L688.5,320.7 L694.4,311.9 L695.1,313.5Z" fill="#d658b0"/><path d="M684.2,353.4 L681.6,353.4 L682.7,341.8 L684.2,342.8 L684.2,353.4Z" fill="#e24aa4"/><path d="M700.7,310.6 L700.6,310.0 L702.2,310.0 L701.9,311.9 L700.7,310.6Z" fill="#d658b0"/><path d="M695.1,318.9 L695.1,313.5 L698.7,313.8 L701.2,315.8 L699.9,322.7 L695.1,318.9Z" fill="#d658b0"/><path d="M693.2,321.4 L693.3,327.7 L693.3,333.9 L685.3,329.9 L688.4,321.1 L693.2,321.4Z" fill="#e84ea8"/><path d="M695.1,313.5 L694.4,311.9 L695.7,310.0 L700.6,310.0 L700.7,310.6 L698.7,313.8 L695.1,313.5Z" fill="#e84ea8"/><path d="M696.8,337.9 L695.8,342.3 L690.0,342.6 L684.2,342.8 L682.7,341.8 L683.2,335.7 L685.3,329.9 L693.3,333.9 L696.8,337.9Z" fill="#d658b0"/><path d="M347.2,110.2 L350.8,110.2 L354.3,110.2 L357.9,110.2 L361.4,110.2 L365.0,110.2 L368.5,110.2 L372.0,110.2 L375.6,110.2 L379.1,110.2 L382.7,110.2 L386.2,110.2 L389.7,110.2 L393.3,110.2 L396.8,110.2 L400.4,110.2 L403.9,110.2 L407.4,110.2 L411.0,110.2 L414.5,110.2 L418.7,110.2 L422.8,110.2 L427.0,110.2" fill="none"/><path d="M383.5,110.2 L379.5,114.4 L375.7,118.7 L372.1,123.2 L373.5,128.7 L375.2,134.3" fill="none"/><path d="M400.7,110.2 L396.9,114.7 L393.2,119.3 L389.6,124.1 L386.2,129.1 L383.0,134.3" fill="none"/><path d="M414.5,110.2 L411.2,114.7 L408.0,119.3 L404.9,124.1 L402.0,129.1 L399.2,134.3" fill="none"/><path d="M357.9,134.3 L361.7,134.3 L365.5,134.3 L369.2,134.3 L373.0,134.3 L376.8,134.3 L380.6,134.3 L384.4,134.3 L388.2,134.3 L392.0,134.3 L395.8,134.3 L399.5,134.3 L403.3,134.3 L407.1,134.3 L410.9,134.3" fill="none"/><path d="M352.1,141.1 L357.0,142.5 L361.4,141.6 L365.5,141.6" fill="none"/><path d="M345.4,151.7 L349.7,151.7 L354.1,151.7 L358.4,151.7 L362.8,151.7 L367.1,151.7 L371.5,151.7" fill="none"/><path d="M371.6,134.3 L370.0,137.9 L371.3,140.1 L369.4,142.8 L371.9,145.3 L374.7,145.3" fill="none"/><path d="M369.7,134.3 L365.2,141.6 L365.7,142.5 L362.8,145.3 L359.7,151.7" fill="none"/><path d="M353.9,151.7 L349.9,159.5 L353.0,164.8 L356.2,170.3" fill="none"/><path d="M365.6,151.7 L362.5,158.2 L359.5,164.8 L358.7,167.0 L356.2,170.3" fill="none"/><path d="M369.7,164.8 L366.7,172.6 L364.0,180.5" fill="none"/><path d="M371.5,151.7 L370.3,154.2 L374.2,154.2 L371.9,159.5 L369.7,164.8" fill="none"/><path d="M359.5,164.8 L363.9,164.8 L368.3,164.8 L372.7,164.8 L377.1,164.8 L381.4,164.8 L385.8,164.8 L390.2,164.8 L394.6,164.8 L398.9,164.8" fill="none"/><path d="M375.4,144.0 L379.9,144.0 L384.4,144.0 L389.0,144.0 L386.5,149.1 L384.1,154.2 L379.5,154.2 L374.9,154.2 L370.3,154.2" fill="none"/><path d="M394.2,134.3 L391.5,139.1 L389.0,144.0" fill="none"/><path d="M388.1,154.2 L385.9,159.5 L383.8,164.8" fill="none"/><path d="M384.1,154.2 L388.1,154.2 L387.0,156.9 L391.5,156.9 L396.0,156.9 L400.5,156.9" fill="none"/><path d="M369.7,178.6 L377.0,178.6 L379.2,172.3 L381.4,166.2 L381.9,164.8" fill="none"/><path d="M381.4,166.2 L387.5,166.2 L385.6,171.7 L392.2,173.6 L397.0,174.1 L395.6,178.9 L394.4,185.1" fill="none"/><path d="M386.5,149.1 L391.9,149.1 L397.4,149.1 L400.7,150.4" fill="none"/><path d="M390.2,141.7 L395.0,141.7 L399.8,141.7 L404.6,141.7" fill="none"/><path d="M407.1,134.3 L404.6,141.6 L403.9,143.3 L402.0,147.8 L407.1,147.8 L412.2,147.8" fill="none"/><path d="M414.0,139.8 L410.7,144.0 L412.2,147.8" fill="none"/><path d="M400.7,150.4 L400.3,154.2 L400.1,155.3 L404.5,155.3 L408.8,155.3" fill="none"/><path d="M400.5,156.9 L401.0,159.2 L398.9,164.8 L398.5,166.2 L402.9,166.2 L407.4,166.2" fill="none"/><path d="M396.5,175.8 L402.4,175.8 L400.0,181.4 L404.0,181.4 L403.6,183.7" fill="none"/><path d="M410.2,170.3 L408.1,176.6 L406.2,183.1" fill="none"/><path d="M415.5,170.3 L414.7,177.8 L413.7,181.4" fill="none"/><path d="M408.3,181.4 L413.7,181.4 L413.7,182.3 L419.7,182.5 L420.8,182.3" fill="none"/><path d="M408.9,165.9 L414.2,165.9 L419.5,165.9 L424.7,165.9" fill="none"/><path d="M405.9,170.3 L410.0,170.3 L414.1,170.3 L418.2,170.3" fill="none"/><path d="M420.6,170.3 L422.7,178.6" fill="none"/><path d="M420.8,169.7 L425.3,169.7 L429.2,173.3" fill="none"/><path d="M420.6,166.1 L425.9,166.1 L431.2,166.1 L436.5,166.1" fill="none"/><path d="M424.7,165.9 L418.2,170.3" fill="none"/><path d="M420.7,165.9 L424.9,163.5 L424.4,161.1" fill="none"/><path d="M410.1,164.8 L413.0,162.7 L416.2,162.2 L420.3,160.0 L423.9,160.3 L428.6,157.9 L430.5,155.3" fill="none"/><path d="M417.7,152.3 L415.1,159.5 L413.0,162.7" fill="none"/><path d="M412.3,150.4 L410.5,152.9 L408.7,159.5 L409.9,164.8" fill="none"/><path d="M412.3,150.4 L417.9,150.4" fill="none"/><path d="M423.0,152.4 L420.6,159.2" fill="none"/><path d="M423.0,152.4 L425.6,152.4" fill="none"/><path d="M431.7,151.7 L429.7,157.6 L434.4,157.6 L439.1,157.6" fill="none"/><path d="M431.7,151.7 L436.8,151.7 L441.8,151.7 L442.7,153.2 L440.7,156.9 L439.7,157.6" fill="none"/><path d="M448.5,144.0 L446.5,149.9 L444.4,154.0" fill="none"/><path d="M452.0,144.0 L448.1,149.9" fill="none"/><path d="M453.0,143.3 L452.0,148.8" fill="none"/><path d="M445.6,151.5 L448.9,151.5 L448.2,153.5" fill="none"/><path d="M434.7,157.6 L435.0,158.7 L435.9,159.8 L436.8,162.2" fill="none"/><path d="M431.7,157.6 L431.3,159.0 L430.5,160.8 L425.3,164.0" fill="none"/><path d="M421.1,141.6 L420.9,143.8" fill="none"/><path d="M417.4,140.3 L421.1,141.6" fill="none"/><path d="M360.0,180.5 L361.2,189.9 L363.9,195.7" fill="none"/><path d="M372.1,185.1 L370.6,194.3 L371.7,198.6 L367.8,201.6 L364.7,206.0" fill="none"/><path d="M380.8,191.4 L377.3,197.2 L378.4,201.6 L380.7,206.0" fill="none"/><path d="M370.6,194.3 L376.0,193.7 L377.3,197.2" fill="none"/><path d="M367.8,201.6 L373.2,206.0 L373.4,210.4 L376.1,213.4 L377.7,216.4 L380.7,218.2" fill="none"/><path d="M373.2,206.0 L379.2,203.0 L380.7,206.0" fill="none"/><path d="M364.8,210.4 L368.8,211.9 L370.4,214.9 L371.8,219.4 L374.8,220.9" fill="none"/><path d="M368.8,211.9 L371.6,208.9 L376.1,207.4" fill="none"/><path d="M370.4,214.9 L373.9,213.4 L373.4,210.4" fill="none"/><path d="M377.7,216.4 L378.3,219.4 L380.0,222.4" fill="none"/><path d="M380.4,213.4 L378.8,210.4 L377.2,207.4" fill="none"/><path d="M387.0,219.4 L388.9,220.9 L392.2,220.9" fill="none"/><path d="M402.7,208.9 L399.3,216.4 L396.7,219.4" fill="none"/><path d="M398.1,210.4 L396.6,213.4 L393.7,217.9" fill="none"/><path d="M354.9,189.9 L349.7,189.9" fill="none"/><path d="M397.5,220.0 L396.5,225.7" fill="none"/><path d="M389.3,229.9 L396.5,226.3 L395.5,230.2 L393.8,232.1" fill="none"/><path d="M396.5,225.7 L395.5,230.2 L398.7,233.3" fill="none"/><path d="M409.3,228.4 L403.4,230.2 L401.1,233.0 L399.7,234.5" fill="none"/><path d="M407.0,240.6 L402.9,240.0" fill="none"/><path d="M409.1,245.2 L408.2,249.2" fill="none"/><path d="M419.0,252.3 L420.3,248.0" fill="none"/><path d="M434.4,238.2 L431.5,240.9 L430.5,246.8 L432.0,252.9 L436.1,252.9 L441.8,255.4 L440.9,262.2 L442.8,270.8" fill="none"/><path d="M442.8,270.8 L436.4,270.8 L437.0,277.7 L436.3,287.6 L431.6,282.3 L428.2,282.0 L424.2,274.9 L419.3,273.6 L416.3,270.2" fill="none"/><path d="M424.2,274.9 L423.8,279.2 L421.6,282.3 L417.3,288.5 L415.2,290.0 L413.3,285.1" fill="none"/><path d="M436.3,287.6 L428.1,297.7 L430.1,303.6 L431.7,303.9 L435.5,305.4 L435.9,308.5 L437.9,308.5 L440.2,313.1 L439.6,319.2 L439.8,323.7 L439.9,328.2 L438.2,330.8" fill="none"/><path d="M437.9,308.5 L442.5,307.0 L447.2,305.4 L449.3,311.6 L455.5,316.1 L459.4,321.6 L463.6,324.6 L465.3,333.6 L465.1,336.3 L460.7,339.2 L456.3,342.0 L451.2,342.3 L446.8,344.0 L443.9,338.7 L442.7,334.2 L439.9,328.2" fill="none"/><path d="M446.8,344.0 L444.5,347.6 L445.9,356.3 L444.3,364.9 L446.1,373.3 L447.0,381.6 L447.4,387.0 L448.1,394.9 L450.8,402.6 L452.5,407.6 L452.8,412.4 L452.8,417.2 L457.6,421.8 L462.4,422.3 L464.6,422.7 L464.5,423.2 L467.9,430.7" fill="none"/><path d="M456.3,342.0 L460.5,347.6 L468.2,351.4 L467.1,357.2 L472.5,357.5 L475.3,356.3 L474.7,351.9" fill="none"/><path d="M465.3,333.6 L466.2,341.7 L470.5,342.3 L472.2,347.6 L474.7,351.9 L476.8,353.4 L477.2,356.9 L470.3,365.5 L470.0,373.3 L470.5,376.6" fill="none"/><path d="M470.3,365.5 L475.0,367.4 L480.5,371.9 L480.7,375.3" fill="none"/><path d="M458.8,248.3 L457.3,252.9 L456.7,258.5 L452.2,262.2 L448.8,263.4 L447.4,269.0 L444.1,271.8 L442.8,270.8" fill="none"/><path d="M456.7,258.5 L458.5,267.4 L460.7,270.5 L465.8,268.4 L470.4,267.4 L474.4,267.7 L476.7,261.6" fill="none"/><path d="M464.4,256.3 L465.8,268.4" fill="none"/><path d="M471.5,256.9 L470.4,267.4" fill="none"/><path d="M460.7,270.5 L465.8,280.8 L463.9,286.9 L462.0,293.1 L455.2,299.3 L450.3,300.8 L445.5,302.4 L441.1,302.4 L436.7,302.4 L428.1,297.7" fill="none"/><path d="M462.0,293.1 L467.5,304.8 L473.9,304.8 L480.3,304.8 L480.1,314.6 L479.4,320.7 L475.6,328.2 L470.8,329.0 L466.0,329.7" fill="none"/><path d="M480.3,304.8 L482.1,298.2 L484.0,291.6 L487.9,283.8 L488.5,277.7" fill="none"/><path d="M455.2,299.3 L455.5,305.4 L459.4,314.6" fill="none"/><path d="M445.5,302.4 L447.1,304.5" fill="none"/><path d="M451.4,271.5 L456.9,274.6 L460.7,270.5" fill="none"/><path d="M451.4,271.5 L447.4,269.0" fill="none"/><path d="M469.5,271.5 L475.7,276.1 L480.1,274.6" fill="none"/><path d="M480.1,314.6 L485.0,314.6 L490.0,314.6 L491.8,307.0 L493.6,296.2 L495.7,290.0 L497.8,283.8" fill="none"/><path d="M491.8,307.0 L496.2,307.7 L500.6,308.5 L504.8,302.4 L509.0,296.2 L513.3,290.0" fill="none"/><path d="M493.6,296.2 L498.9,286.9" fill="none"/><path d="M504.8,302.4 L511.3,299.3" fill="none"/><path d="M509.0,296.2 L512.3,294.7" fill="none"/><path d="M490.0,314.6 L490.3,320.7 L485.5,329.7 L489.8,335.7 L494.0,341.7 L498.2,340.2 L502.4,338.7" fill="none"/><path d="M490.3,320.7 L495.4,320.7 L500.5,320.7 L505.5,320.7" fill="none"/><path d="M475.6,328.2 L480.5,334.2 L477.0,343.2 L481.3,342.8 L485.5,342.4 L489.8,342.0 L494.0,341.7 L496.6,346.1" fill="none"/><path d="M477.0,343.2 L481.6,345.4 L486.1,347.6 L488.1,350.5" fill="none"/><path d="M476.8,353.4 L481.8,353.8 L486.8,354.3" fill="none"/><path d="M477.2,356.9 L481.8,358.0 L486.4,359.2" fill="none"/><path d="M460.5,347.6 L456.2,347.6 L452.0,347.6 L451.8,353.4 L452.7,359.2 L452.2,367.7 L454.4,373.3 L460.3,381.6 L463.9,388.3 L467.5,394.9" fill="none"/><path d="M445.4,353.4 L451.8,353.4" fill="none"/><path d="M445.6,360.6 L452.7,359.2" fill="none"/><path d="M452.2,367.7 L445.5,370.5" fill="none"/><path d="M454.4,373.3 L448.4,378.8" fill="none"/><path d="M447.0,381.6 L451.5,381.6 L455.9,381.6 L460.3,381.6" fill="none"/><path d="M448.6,389.6 L453.4,389.6 L458.2,389.6 L465.2,393.6" fill="none"/><path d="M448.9,397.5 L453.4,397.5 L457.8,397.5 L462.3,397.5" fill="none"/><path d="M452.5,407.6 L456.5,407.6 L460.6,407.6" fill="none"/><path d="M451.8,353.4 L457.0,356.3 L462.2,359.2 L466.3,364.9 L468.5,359.2" fill="none"/><path d="M454.4,373.3 L457.7,369.1 L461.1,364.9 L466.3,364.9" fill="none"/><path d="M460.5,347.6 L461.3,353.4 L462.2,359.2" fill="none"/><path d="M461.4,377.5 L466.0,377.5 L470.6,377.5" fill="none"/><path d="M422.1,251.4 L427.6,252.9 L428.4,259.1 L426.1,263.7 L422.7,265.3 L421.6,259.1 L422.1,251.4" fill="none"/><path d="M427.6,252.9 L431.1,248.3" fill="none"/><path d="M428.4,259.1 L436.2,256.0" fill="none"/><path d="M426.1,263.7 L431.5,268.4 L436.4,270.8" fill="none"/><path d="M422.7,265.3 L420.5,271.5" fill="none"/><path d="M423.5,246.8 L426.7,248.3 L429.5,245.2 L429.5,239.1" fill="none"/><path d="M433.9,260.6 L441.5,265.3" fill="none"/><path d="M440.6,243.1 L436.2,246.8 L430.4,248.3" fill="none"/><path d="M436.2,246.8 L443.0,252.9" fill="none"/><path d="M443.0,252.9 L444.9,262.2" fill="none"/><path d="M449.8,248.3 L450.6,256.0" fill="none"/><path d="M445.6,243.7 L443.0,252.9" fill="none"/><path d="M439.6,319.2 L443.0,314.6 L445.6,320.7 L445.4,329.7 L442.7,334.2" fill="none"/><path d="M445.6,320.7 L450.8,323.7 L456.0,326.7" fill="none"/><path d="M445.4,329.7 L452.6,335.7 L451.2,342.3" fill="none"/><path d="M415.3,293.1 L423.0,293.1 L425.5,299.3 L428.1,305.4" fill="none"/><path d="M419.1,302.4 L423.7,305.4 L426.3,311.6" fill="none"/><path d="M421.9,311.6 L428.7,314.6 L433.5,319.2" fill="none"/><path d="M424.7,317.7 L431.5,320.7 L436.3,325.2" fill="none"/><path d="M417.3,288.5 L423.0,293.1 L429.6,293.1" fill="none"/><path d="M430.7,311.6 L435.9,308.5" fill="none"/><path d="M445.9,356.3 L440.6,356.3" fill="none"/><path d="M444.3,364.9 L441.2,364.9" fill="none"/><path d="M444.5,347.6 L440.2,347.6" fill="none"/><path d="M443.9,338.7 L439.6,338.7" fill="none"/><path d="M447.0,381.6 L442.0,381.6" fill="none"/><path d="M447.4,387.0 L442.4,387.0" fill="none"/><path d="M450.8,402.6 L446.3,402.6" fill="none"/><path d="M586.0,170.0 L587.0,173.0 L588.0,178.3 L582.8,180.0 L579.0,182.5 L574.8,185.4 L572.2,187.9 L572.2,190.9" fill="none"/><path d="M572.2,190.9 L567.4,190.9 L562.7,190.9" fill="none"/><path d="M553.8,209.5 L558.2,209.5 L562.6,209.5 L562.8,203.0 L565.1,195.7 L572.1,195.7 L572.2,192.0" fill="none"/><path d="M572.2,192.0 L580.4,192.0 L580.3,198.6 L587.9,208.0 L592.8,212.2 L597.6,216.4 L603.0,214.9 L606.6,208.9 L610.8,206.0 L615.0,203.0" fill="none"/><path d="M615.0,203.0 L612.2,200.1 L611.5,195.7 L611.1,189.9 L610.3,183.7" fill="none"/><path d="M610.3,183.7 L607.7,178.6 L607.5,171.7 L607.4,168.9 L607.9,164.8" fill="none"/><path d="M610.3,183.7 L611.7,180.0 L614.4,175.3" fill="none"/><path d="M580.4,192.0 L576.7,198.6 L577.2,204.9 L577.8,211.1 L578.4,217.5 L579.0,223.9 L578.5,226.9 L574.2,226.9 L569.8,226.9 L565.5,226.9 L559.4,223.6" fill="none"/><path d="M615.0,203.0 L620.9,206.0 L622.6,204.5 L627.5,207.1 L632.4,209.7 L637.3,212.3 L642.3,214.9 L644.4,213.4 L644.1,207.4 L643.8,200.4 L643.4,193.4 L643.0,186.5 L642.6,179.7" fill="none"/><path d="M644.1,207.4 L648.4,207.4 L652.7,207.4 L657.0,207.4 L661.2,207.4 L665.5,207.4 L669.8,207.4" fill="none"/><path d="M599.6,216.1 L598.1,227.5 L591.0,228.7 L592.5,233.0 L595.3,236.6 L598.4,238.5 L600.3,232.4 L605.8,233.0 L611.5,234.8 L617.8,233.6 L620.2,234.2 L620.0,231.5 L624.4,226.3 L624.2,219.1 L623.9,211.9 L622.6,204.5" fill="none"/><path d="M620.2,234.2 L623.3,237.6 L624.5,243.7 L624.6,251.4 L630.1,249.8 L634.5,246.8 L638.8,245.2 L640.7,240.9 L639.0,234.5 L640.6,226.9 L641.4,220.9 L642.3,214.9" fill="none"/><path d="M640.7,240.9 L641.0,242.2 L645.4,242.9 L649.8,243.7 L655.3,244.9 L661.8,242.2 L665.2,237.6 L670.1,230.2 L670.8,222.4 L674.1,219.4" fill="none"/><path d="M665.2,237.6 L665.3,248.3 L667.6,254.5 L669.7,260.3 L665.5,261.6 L664.4,263.4 L658.7,263.4 L652.3,260.3 L650.9,259.1 L645.5,252.9 L642.1,246.8 L641.0,242.2" fill="none"/><path d="M670.1,230.2 L672.2,229.0 L674.4,229.9 L677.7,229.9 L681.9,235.4 L683.3,236.0 L684.3,240.6 L687.1,245.2 L693.9,249.8 L696.1,249.8" fill="none"/><path d="M696.1,249.8 L689.7,259.1 L683.2,262.2 L681.0,265.9 L681.7,272.9 L682.4,279.8" fill="none"/><path d="M669.7,260.3 L676.6,263.7 L683.2,262.2" fill="none"/><path d="M665.5,261.6 L667.8,271.5 L665.6,277.7 L671.3,283.2 L677.0,288.8" fill="none"/><path d="M665.6,277.7 L657.9,277.7 L655.9,278.3 L656.1,274.6 L658.9,267.4 L658.7,263.4" fill="none"/><path d="M655.6,277.7 L658.5,277.7 L658.7,282.0 L656.7,288.2 L655.1,288.2 L655.6,277.7" fill="none"/><path d="M655.1,288.2 L655.5,293.1 L658.7,300.8 L662.8,303.3 L664.1,303.9 L667.2,310.0 L673.7,310.0 L679.6,307.0" fill="none"/><path d="M658.0,300.8 L656.8,308.3 L655.6,315.8 L649.3,313.2 L643.1,310.6 L643.1,308.5 L639.2,308.5 L638.0,302.4 L636.7,296.2 L633.4,299.3 L629.0,297.7 L626.9,293.1 L622.2,293.0 L617.6,292.8" fill="none"/><path d="M618.1,289.1 L624.3,287.9 L625.8,283.8 L629.6,274.6 L630.6,268.4 L631.5,262.2 L631.3,260.6 L639.0,259.1 L645.6,259.1 L650.9,259.1" fill="none"/><path d="M631.5,262.2 L626.9,263.7 L622.5,267.7 L619.9,268.7 L621.4,274.6 L615.9,281.7 L614.8,286.3 L617.0,290.0" fill="none"/><path d="M625.8,267.7 L623.6,262.2 L622.5,256.0 L624.6,251.4" fill="none"/><path d="M619.9,267.7 L615.4,267.4 L612.1,267.4" fill="none"/><path d="M625.8,267.7 L619.9,267.7" fill="none"/><path d="M621.1,234.5 L620.6,242.2 L618.6,248.3 L614.7,254.5 L609.2,260.6" fill="none"/><path d="M598.4,238.5 L596.4,246.8 L596.4,254.8" fill="none"/><path d="M595.3,236.6 L595.8,237.9 L592.5,240.3 L590.1,240.6 L584.6,245.2 L584.1,252.1 L583.7,259.1" fill="none"/><path d="M591.0,228.7 L589.4,228.4 L586.1,231.5 L581.8,233.9 L578.9,238.8 L576.9,243.1 L572.9,243.7 L572.1,239.4 L565.6,236.3 L563.9,229.0 L565.5,226.9" fill="none"/><path d="M565.6,236.3 L559.8,236.5 L554.0,236.6" fill="none"/><path d="M576.9,243.1 L580.6,242.2 L584.6,245.2" fill="none"/><path d="M572.9,243.7 L573.1,248.9 L571.8,251.4 L574.0,261.3" fill="none"/><path d="M571.8,251.4 L565.2,253.2 L561.3,248.3" fill="none"/><path d="M560.4,245.2 L566.4,240.6 L572.1,239.4" fill="none"/><path d="M594.0,255.1 L592.8,247.8 L591.6,240.6" fill="none"/><path d="M596.4,254.8 L596.1,246.3 L595.8,237.9" fill="none"/><path d="M643.0,314.6 L638.6,314.6 L638.4,322.1 L638.1,329.4 L630.6,327.9 L625.2,327.9 L619.8,327.9 L616.1,327.6" fill="none"/><path d="M638.1,329.4 L644.6,329.4 L645.3,329.7 L650.1,337.2 L653.3,341.7 L644.7,350.5 L640.3,352.2 L634.4,355.7 L633.0,349.9 L633.4,341.7 L635.5,341.7 L635.8,335.7 L636.0,329.7 L641.3,331.3 L644.6,329.4" fill="none"/><path d="M633.0,349.9 L632.5,360.9 L625.1,360.9" fill="none"/><path d="M653.3,323.7 L656.6,322.5 L662.0,323.7 L661.9,329.7 L661.6,335.7 L657.5,342.9 L653.3,341.7" fill="none"/><path d="M656.6,322.5 L658.1,317.7 L662.5,317.7 L662.7,313.1 L663.5,308.5 L664.1,303.9" fill="none"/><path d="M662.5,317.7 L665.2,320.7 L667.1,326.1 L668.6,318.9 L667.2,310.0" fill="none"/><path d="M657.5,342.9 L658.5,350.5 L660.0,356.0" fill="none"/><path d="M644.6,329.4 L653.3,323.7" fill="none"/><path d="M647.2,360.9 L651.9,366.9 L652.0,363.7 L650.3,360.9 L647.2,360.9" fill="none"/><path d="M623.9,364.9 L629.9,369.1 L635.9,373.3 L639.9,374.7" fill="none"/><path d="M632.5,360.9 L636.6,361.5 L640.8,362.0 L640.4,367.7 L644.2,371.9 L646.1,374.7" fill="none"/><path d="M644.7,350.5 L645.4,356.3 L649.4,359.2 L655.9,356.3" fill="none"/><path d="M645.4,356.3 L640.8,362.0" fill="none"/><path d="M650.0,364.9 L650.6,370.5" fill="none"/><path d="M649.8,305.4 L651.8,311.6 L651.6,317.7" fill="none"/><path d="M656.3,308.5 L658.3,314.6" fill="none"/><path d="M652.7,317.7 L652.3,322.5" fill="none"/><path d="M645.2,313.1 L647.2,317.7" fill="none"/><path d="M657.8,326.7 L654.2,332.7 L655.0,338.7" fill="none"/><path d="M655.5,329.7 L660.8,331.3" fill="none"/><path d="M650.9,334.2 L657.3,335.7" fill="none"/><path d="M670.4,311.6 L673.4,317.7 L672.0,323.7" fill="none"/><path d="M668.5,320.7 L669.7,326.7 L666.3,329.7" fill="none"/><path d="M665.0,332.7 L668.2,334.2" fill="none"/><path d="M661.4,338.7 L665.5,341.7" fill="none"/><path d="M673.4,317.7 L679.0,314.6" fill="none"/><path d="M413.8,140.3 L419.0,137.9 L422.0,135.5 L424.3,134.8 L427.0,135.0 L428.9,136.9 L428.2,140.3 L424.5,140.3 L422.0,139.6 L417.8,140.3 L413.8,140.3" fill="none"/><path d="M425.9,141.6 L422.8,142.1 L419.5,145.3 L418.2,149.1 L417.6,152.7 L419.9,151.7 L421.6,147.8 L425.1,144.0 L427.1,142.1 L425.9,141.6" fill="none"/><path d="M429.0,141.1 L432.6,141.8 L435.1,142.8 L435.1,145.3 L432.6,144.0 L428.9,149.1 L429.0,147.8 L428.1,146.6 L429.0,144.0 L427.6,142.1 L429.0,141.1" fill="none"/><path d="M435.7,149.3 L433.2,150.4 L430.0,151.1 L425.7,152.4 L427.3,153.2 L429.3,152.9 L431.7,151.7 L435.4,149.6" fill="none"/><path d="M434.3,148.3 L438.1,147.6 L441.7,146.8 L441.5,148.1 L438.7,148.6 L435.9,148.3 L434.3,148.3" fill="none"/></g><g stroke="#555555" stroke-width="1.2" fill="#eff6fd"><path d="M682.6,142.1 L684.3,139.6 L689.0,139.1 L692.3,140.8 L689.9,145.0 L690.5,147.6 L694.0,151.7 L695.6,154.2 L696.9,158.2 L699.1,162.2 L699.6,164.8 L694.8,165.1 L690.5,163.5 L688.8,160.8 L689.8,156.1 L687.0,152.9 L683.6,149.1 L682.4,145.3Z"/><path d="M648.2,154.0 L652.9,154.0 L659.5,151.7 L662.4,153.5 L665.9,154.2 L669.8,154.2 L672.7,152.7 L672.1,150.4 L668.7,147.8 L664.3,145.3 L661.3,143.5 L659.1,144.0 L656.0,145.5 L653.4,143.5 L655.1,141.3 L651.1,140.1 L649.4,140.6 L648.0,143.5 L646.2,146.0 L645.3,148.6 L644.6,150.4 L646.0,152.7Z"/><path d="M661.3,143.3 L657.8,141.3 L661.0,139.8 L664.8,138.6 L663.5,140.8 L663.5,142.8Z"/><path d="M643.4,155.8 L645.1,154.5 L648.0,154.2 L648.7,155.3 L645.2,155.8Z"/></g><g fill="none" stroke="#555555" stroke-linejoin="round"><path d="M316.5,99.8 L326.8,95.3 L337.4,92.9 L346.6,91.4 L352.3,90.6 L356.5,91.9 L362.1,92.2 L371.3,93.1 L376.2,93.9 L383.2,93.4 L393.7,91.7 L395.7,93.4 L402.3,94.2 L409.6,95.8 L419.5,95.4 L428.7,95.8 L435.9,95.0 L446.1,90.4 L445.6,93.4 L449.3,95.8 L457.7,93.7 L463.5,93.4 L460.8,96.6 L455.4,98.6 L451.7,98.2 L444.6,102.6 L439.0,103.9 L431.5,107.3 L426.2,112.6 L426.9,116.3 L433.8,118.9 L442.4,120.2 L440.1,126.2 L440.9,128.9 L444.1,128.4 L446.6,121.7 L454.3,117.4 L453.9,113.2 L457.4,109.2 L459.2,105.6 L465.3,106.3 L468.6,107.9 L470.0,111.2 L470.4,114.0 L475.6,112.2 L479.3,109.4 L480.3,112.2 L482.0,115.3 L483.7,119.5 L486.4,122.8 L488.0,126.8 L483.9,128.7 L478.3,131.5 L472.7,131.2 L466.3,131.5 L463.4,133.6 L460.4,135.5 L468.0,133.8 L469.2,134.8 L467.0,136.7 L466.6,139.1 L467.5,141.1 L470.0,142.1 L473.0,141.8 L474.8,139.1 L475.4,141.6 L472.6,143.3 L467.1,145.3 L462.1,147.8 L462.1,145.3 L466.0,143.3 L461.8,143.5 L459.3,145.3 L456.0,146.6 L452.0,148.8 L451.0,150.6 L452.4,152.4 L450.1,152.9 L446.7,154.2 L443.4,155.3 L441.9,158.4 L440.3,159.8 L439.4,161.4 L436.9,164.6 L436.4,166.2 L436.3,169.7 L433.8,171.4 L430.2,173.6 L425.5,176.6 L422.9,178.6 L420.8,183.1 L421.2,188.8 L421.5,193.7 L420.0,197.8 L418.2,198.3 L416.9,194.3 L416.3,190.2 L416.6,186.8 L414.7,184.2 L412.2,185.1 L408.7,183.1 L406.0,183.1 L403.6,183.7 L403.6,187.1 L401.0,186.2 L398.0,185.7 L395.1,185.1 L392.0,186.2 L387.0,189.4 L384.9,192.8 L384.6,196.0 L382.3,201.6 L381.0,206.9 L381.3,211.9 L383.0,215.8 L385.4,218.2 L391.6,217.6 L394.5,215.8 L396.1,211.0 L398.3,209.5 L403.5,208.9 L402.8,211.9 L400.6,217.9 L399.3,220.9 L397.8,225.7 L400.2,226.0 L405.7,225.4 L409.3,228.4 L408.0,234.5 L407.0,240.6 L408.3,243.7 L410.8,246.1 L415.0,245.5 L420.3,248.0 L419.3,251.4 L418.1,249.2 L414.4,251.4 L413.4,249.2 L409.0,249.5 L404.8,246.8 L402.3,244.3 L402.4,240.3 L399.0,236.6 L397.1,233.6 L392.9,232.1 L389.3,229.9 L385.0,225.4 L382.9,224.8 L379.5,226.0 L373.7,223.0 L370.0,220.0 L366.6,218.5 L365.3,216.1 L363.0,212.2 L364.5,208.9 L363.2,203.9 L361.2,199.8 L359.1,196.3 L358.3,192.8 L356.6,189.9 L355.3,185.4 L354.7,180.6 L352.6,179.4 L351.4,183.7 L353.6,187.9 L354.1,192.8 L355.0,197.2 L356.3,200.7 L355.5,204.8 L353.9,201.6 L351.9,199.5 L350.9,194.3 L348.3,190.8 L351.0,188.2 L348.6,183.4 L348.5,177.2 L347.2,173.9 L346.5,173.0 L343.5,171.9 L343.3,168.4 L343.2,165.9 L343.4,162.7 L342.4,159.8 L343.0,155.8 L345.4,151.7 L347.4,148.1 L352.1,141.1 L354.3,135.7 L353.2,134.3 L351.7,131.9 L351.4,130.1 L354.2,127.3 L354.1,122.1 L351.8,118.4 L350.9,113.8 L348.4,111.2 L344.0,110.0 L340.2,109.2 L335.2,110.2 L328.9,111.8 L327.4,111.2 L333.7,108.2 L326.1,110.6 L321.1,113.2 L315.2,115.3 L307.9,117.8 L300.1,120.0 L292.4,121.5 L298.8,119.5 L305.3,117.4 L314.5,113.6 L316.4,112.8 L309.8,113.2 L309.4,110.8 L307.2,109.2 L313.2,105.4 L320.5,103.5 L324.9,101.7 L317.7,101.7 L316.5,99.8Z" stroke-width="1.3"/><path d="M548.9,77.8 L539.5,78.2 L526.2,78.5 L512.3,79.0 L502.6,80.1 L497.7,81.4 L490.4,82.1 L492.0,82.9 L493.0,84.0 L495.3,84.7 L504.1,85.2 L507.3,86.4 L506.7,88.6 L506.6,91.9 L507.6,93.9 L506.1,95.4 L504.3,97.4 L504.8,100.0 L505.0,102.3 L506.4,106.3 L508.3,108.6 L514.6,110.6 L517.5,109.2 L519.4,105.4 L523.3,102.6 L529.2,99.8 L534.0,98.2 L541.3,95.8 L548.0,94.6 L554.8,92.9 L556.6,91.9 L557.3,89.7 L560.1,87.7 L563.7,85.8 L564.9,83.5 L564.6,81.4 L570.5,80.1 L575.4,79.3 L564.6,78.7 L558.6,78.2 L548.9,77.8Z" stroke-width="3.5"/><path d="M472.4,87.4 L477.8,87.8 L478.7,89.7 L485.0,91.9 L485.4,94.2 L491.0,97.4 L489.1,99.1 L484.7,100.8 L480.0,101.7 L476.6,103.2 L481.4,104.8 L477.9,106.5 L472.6,105.4 L468.4,104.1 L463.9,102.1 L470.1,100.1 L472.7,98.2 L474.8,96.6 L473.8,95.0 L470.5,93.4 L466.6,92.6 L458.1,91.9 L456.7,90.4 L457.8,88.4 L463.7,87.3 L472.4,87.4Z" stroke-width="3.5"/><path d="M432.1,94.2 L426.9,93.4 L417.2,94.8 L410.8,93.7 L410.0,91.2 L411.9,89.0 L421.5,87.8 L432.5,88.4 L435.4,90.4 L435.6,92.6Z" stroke-width="3.5"/><path d="M402.8,90.4 L401.0,89.7 L407.4,87.0 L413.8,86.4 L418.9,86.8 L414.9,89.0 L407.6,90.7Z" stroke-width="3.5"/><path d="M476.7,84.3 L462.8,84.0 L468.5,82.4 L472.7,81.0 L470.3,79.7 L479.2,78.7 L498.9,78.1 L510.7,78.5 L506.4,79.4 L496.5,80.5 L488.6,81.1 L487.3,81.9 L483.4,82.6 L479.2,83.5Z" stroke-width="3.5"/><path d="M473.7,86.4 L456.3,86.3 L452.3,85.2 L460.2,83.9 L473.8,84.3 L476.2,85.1Z" stroke-width="3.5"/><path d="M466.3,82.1 L460.5,81.0 L464.6,79.8 L472.0,79.5 L474.3,80.5 L471.7,81.8Z" stroke-width="3.5"/><path d="M437.4,86.3 L423.3,86.0 L420.6,85.2 L431.4,84.1 L440.4,84.6Z" stroke-width="3.5"/><path d="M449.9,85.8 L445.1,85.2 L448.4,84.1 L452.3,84.4Z" stroke-width="3.5"/><path d="M421.8,84.6 L417.5,83.7 L424.2,82.9 L426.7,83.7Z" stroke-width="3.5"/><path d="M444.0,89.7 L437.0,90.4 L437.0,88.4 L443.5,87.0 L448.4,87.7Z" stroke-width="3.5"/><path d="M450.0,89.7 L447.0,89.7 L450.4,87.3 L456.7,87.0 L454.0,89.0Z" stroke-width="3.5"/><path d="M450.7,82.9 L447.4,81.9 L452.6,81.4 L455.0,82.2Z" stroke-width="3.5"/><path d="M457.2,103.0 L450.0,105.9 L445.6,103.0 L449.3,100.0 L454.2,99.1 L456.9,101.7Z" stroke-width="3.5"/><path d="M438.9,95.1 L434.5,94.8 L437.5,92.9 L441.1,93.2Z" stroke-width="3.5"/><path d="M477.5,137.6 L488.4,139.8 L490.1,137.6 L489.0,133.1 L487.7,128.2 L484.1,130.8 L480.5,134.3 L478.6,135.5Z" stroke-width="1.2"/><path d="M408.4,208.0 L410.9,204.8 L415.3,204.2 L418.5,203.9 L424.4,207.4 L428.2,210.4 L430.9,212.8 L427.3,213.7 L423.0,214.0 L422.7,211.3 L419.9,208.6 L415.7,208.0 L412.6,207.1Z" stroke-width="1.2"/><path d="M433.6,213.7 L439.5,214.3 L442.7,216.4 L442.1,218.5 L436.8,218.8 L435.8,220.3 L429.5,218.8 L429.9,217.6 L433.5,217.6 L433.7,214.6Z" stroke-width="1.2"/><path d="M421.2,217.9 L425.5,217.9 L425.5,219.7 L422.0,219.7Z" stroke-width="1.2"/><path d="M445.2,217.9 L448.6,218.2 L447.8,219.5 L445.0,219.4Z" stroke-width="1.2"/><path d="M356.4,136.0 L356.4,133.1 L354.4,130.8 L351.4,130.1 L351.1,131.9 L353.2,134.3 L354.8,135.5Z" stroke-width="1.2"/><path d="M420.3,248.0 L423.6,245.5 L424.9,242.5 L426.5,240.6 L428.1,239.7 L431.7,238.2 L433.6,236.3 L434.3,239.1 L433.7,241.2 L436.5,238.8 L437.1,237.0 L437.6,239.4 L441.3,242.2 L443.8,241.8 L447.8,243.4 L452.3,241.8 L454.5,241.5 L454.8,243.7 L458.6,248.0 L461.7,251.4 L462.3,253.5 L468.8,256.3 L475.2,259.4 L477.5,262.2 L480.1,268.4 L480.1,274.6 L483.4,276.1 L488.9,277.7 L492.7,282.3 L498.9,283.2 L505.5,286.0 L508.9,290.0 L512.4,290.7 L513.9,296.5 L513.7,299.3 L510.9,307.0 L506.3,314.6 L505.5,320.7 L504.8,329.7 L503.7,336.6 L502.6,341.7 L500.7,344.6 L498.2,344.6 L493.5,347.0 L487.6,351.9 L488.0,360.6 L485.7,364.9 L482.8,370.5 L480.7,375.3 L478.0,378.3 L475.6,378.6 L472.1,377.5 L470.9,377.7 L473.8,380.2 L475.3,382.4 L474.6,387.0 L466.1,389.4 L466.0,394.9 L461.7,395.4 L463.7,397.5 L465.4,398.8 L463.3,400.8 L463.4,405.1 L461.0,408.8 L465.1,412.0 L463.0,415.5 L462.3,417.4 L462.8,420.9 L464.6,422.7 L465.4,424.1 L468.2,426.3 L472.9,428.3 L470.7,428.7 L468.4,429.6 L470.2,430.7 L464.7,429.4 L460.2,427.4 L455.3,424.8 L452.1,421.8 L449.1,417.2 L447.1,412.4 L445.5,408.8 L446.2,405.1 L445.0,400.0 L444.5,396.2 L444.0,391.7 L441.5,384.3 L442.9,378.8 L442.6,373.3 L441.4,364.9 L441.1,356.3 L440.3,346.4 L439.2,335.7 L438.5,331.3 L435.8,328.5 L430.3,324.3 L426.0,320.1 L423.3,314.6 L421.7,311.6 L417.8,302.4 L411.8,293.1 L411.2,288.8 L413.3,283.8 L411.9,281.4 L412.1,277.7 L413.6,272.1 L416.1,269.9 L417.4,266.8 L419.7,262.2 L419.2,252.9 L419.3,251.4Z" stroke-width="1.4"/><path d="M578.5,168.1 L584.4,169.7 L586.4,170.0 L590.5,168.1 L595.6,165.9 L600.6,165.1 L606.7,164.8 L610.3,164.0 L612.8,164.6 L612.1,167.6 L613.2,170.3 L611.3,173.3 L613.1,174.4 L615.3,176.1 L617.7,176.4 L621.9,177.5 L623.8,181.4 L629.3,183.1 L631.3,182.8 L632.0,180.0 L632.1,178.3 L635.1,176.4 L637.1,176.1 L640.2,178.3 L642.6,179.7 L647.0,180.6 L652.6,180.8 L654.8,180.0 L657.6,180.8 L661.6,180.8 L663.5,185.7 L662.5,190.5 L658.6,184.5 L661.8,192.2 L666.4,201.6 L669.6,207.4 L670.7,214.6 L674.1,219.4 L676.4,226.6 L684.1,234.5 L684.9,238.8 L688.1,240.6 L689.2,242.5 L698.3,239.7 L702.8,238.2 L703.3,242.5 L700.5,249.8 L697.2,259.1 L690.5,268.4 L684.6,274.6 L680.8,281.7 L678.1,286.9 L677.0,295.6 L677.4,300.8 L679.3,307.0 L679.2,320.7 L675.1,326.7 L669.4,332.1 L665.5,336.3 L666.6,341.7 L666.2,347.6 L659.8,353.1 L657.8,361.5 L655.2,364.6 L650.8,370.5 L643.1,375.8 L637.7,376.4 L631.4,378.3 L628.4,377.2 L628.3,375.8 L628.1,371.9 L625.1,362.0 L622.6,355.1 L621.5,344.3 L617.5,332.7 L616.1,327.6 L616.8,321.3 L620.0,312.8 L619.5,301.7 L617.4,293.1 L616.5,289.4 L612.1,282.3 L609.9,276.7 L611.5,271.5 L612.4,265.6 L611.5,262.5 L609.2,260.6 L604.8,261.3 L603.7,261.3 L601.3,256.6 L598.0,254.8 L593.8,255.1 L590.1,257.2 L586.1,259.7 L581.7,258.5 L574.0,260.9 L566.7,255.1 L562.1,251.4 L561.3,248.3 L560.4,245.2 L556.5,240.6 L553.7,236.0 L552.4,229.3 L554.6,225.4 L555.6,220.9 L554.9,215.2 L553.7,211.0 L556.6,202.4 L559.8,195.7 L563.3,190.8 L567.0,188.5 L569.6,185.7 L570.5,183.1 L570.2,180.0 L574.9,174.1 L577.0,172.2 L578.5,168.1Z" stroke-width="1.4"/><path d="M698.4,311.6 L700.2,322.2 L697.9,326.7 L695.7,335.7 L692.2,344.6 L690.4,352.2 L684.0,350.5 L683.6,345.8 L683.4,340.2 L686.2,335.7 L685.8,329.7 L687.0,324.3 L691.2,322.8 L695.3,317.0 L697.9,312.5Z" stroke-width="2.0"/><path d="M579.1,167.6 L577.7,166.2 L575.5,164.3 L572.5,164.8 L571.4,160.3 L572.8,156.9 L572.9,151.9 L572.3,149.1 L574.9,147.6 L579.2,147.6 L583.1,148.1 L586.8,148.3 L588.2,145.0 L588.2,141.1 L585.7,138.4 L582.3,137.2 L581.4,135.7 L584.8,135.0 L587.7,135.2 L586.9,132.6 L589.9,133.6 L590.7,133.1 L593.3,131.9 L594.8,129.6 L597.0,128.4 L599.0,126.4 L599.3,125.0 L602.4,123.9 L605.6,123.9 L606.5,122.8 L605.0,119.5 L605.2,116.3 L609.2,114.9 L608.8,116.3 L609.4,118.0 L607.7,119.3 L608.4,121.0 L610.1,121.9 L611.4,122.8 L614.0,121.9 L616.3,122.8 L620.4,121.7 L623.5,121.0 L624.4,121.9 L626.3,121.3 L628.3,119.1 L628.4,116.3 L628.7,114.9 L632.9,116.3 L633.4,114.2 L631.5,112.4 L633.4,111.4 L639.0,111.2 L642.8,110.4 L639.4,109.2 L633.5,109.8 L630.2,110.2 L628.3,109.6 L627.1,107.3 L626.4,104.4 L630.9,101.7 L632.0,100.8 L629.9,99.4 L626.7,100.0 L624.2,103.0 L620.1,105.4 L619.9,108.2 L622.8,110.2 L621.9,111.6 L620.2,112.8 L619.8,115.3 L618.3,118.0 L615.5,119.7 L613.6,119.3 L612.7,116.5 L611.5,114.9 L609.8,112.2 L609.0,110.4 L607.4,112.2 L602.8,114.2 L600.5,113.2 L599.7,111.6 L599.1,109.4 L599.0,106.3 L600.6,105.4 L604.7,103.5 L607.8,101.7 L610.8,99.1 L613.5,96.9 L614.9,95.0 L619.9,93.2 L624.4,91.9 L629.9,91.0 L633.6,91.9 L638.5,92.5 L642.0,93.6 L651.2,94.8 L653.5,95.5 L655.9,96.6 L654.5,98.8 L644.2,98.1 L647.8,101.4 L657.3,101.7 L661.1,99.1 L658.7,94.8 L664.4,96.1 L675.1,95.3 L676.4,94.8 L681.9,93.7 L683.7,92.9 L685.8,94.3 L694.5,93.4 L694.0,92.6 L694.4,88.6 L694.1,87.7 L699.7,89.0 L701.9,91.2 L707.5,98.2 L706.6,95.1 L703.8,89.7 L709.0,89.0 L712.1,89.7 L717.5,91.2 L715.9,89.7 L709.4,87.4 L715.2,85.8 L719.1,84.6 L725.3,84.0 L731.3,83.5 L735.8,82.7 L749.4,84.0 L756.7,87.0 L765.2,87.7 L777.8,87.7 L783.3,89.4 L789.6,90.4 L798.6,91.2 L802.1,89.0 L818.5,90.4 L836.2,91.6 L851.4,93.1 L863.1,92.6 L873.1,94.3 L885.8,100.8 L884.7,102.1 L891.9,105.4 L884.4,108.2 L876.9,110.2 L874.3,112.2 L879.4,116.3 L881.0,118.4 L881.3,122.8 L882.0,126.2 L881.9,129.6 L879.0,127.3 L871.4,120.6 L866.7,115.3 L867.4,112.2 L868.0,106.9 L868.3,105.4 L863.9,108.2 L858.3,111.2 L850.5,111.2 L842.3,111.6 L838.9,113.2 L837.5,120.6 L847.8,123.9 L851.8,129.6 L855.5,136.7 L854.9,144.0 L851.3,149.1 L849.0,148.8 L847.5,150.4 L846.7,156.9 L848.4,160.8 L854.0,167.6 L854.1,170.0 L850.7,171.7 L849.1,170.8 L847.9,167.6 L846.2,163.5 L841.7,160.8 L838.6,157.4 L833.7,160.0 L831.6,154.5 L829.1,157.1 L826.3,159.2 L830.6,163.2 L833.9,163.5 L838.3,163.8 L835.2,167.3 L835.4,171.7 L841.1,178.6 L843.6,180.8 L845.2,184.2 L845.0,189.9 L843.8,195.7 L841.8,200.1 L839.5,204.5 L835.1,206.6 L828.8,208.9 L827.8,212.5 L824.7,208.9 L822.3,208.9 L820.0,213.4 L821.1,219.4 L826.0,225.4 L829.4,234.5 L829.7,239.1 L826.3,242.2 L824.4,245.2 L820.9,248.0 L819.9,243.7 L817.5,242.2 L816.1,239.1 L812.5,236.0 L810.9,233.3 L809.1,233.0 L809.0,236.0 L808.1,242.2 L810.8,248.3 L811.8,253.2 L815.5,256.0 L818.6,262.2 L819.7,266.8 L820.4,270.5 L818.8,269.9 L815.5,266.8 L812.5,262.2 L811.5,256.0 L806.7,249.8 L806.7,243.7 L806.2,236.0 L802.7,225.4 L797.0,225.4 L795.1,219.4 L790.9,213.4 L787.3,207.4 L784.2,206.0 L781.3,207.4 L778.3,208.6 L776.9,213.4 L772.4,219.4 L769.3,223.9 L765.0,226.9 L766.0,234.5 L765.6,242.8 L761.0,249.5 L758.1,245.2 L754.1,236.0 L751.1,226.9 L747.8,216.4 L746.5,210.4 L746.0,206.6 L742.0,210.4 L738.2,206.0 L736.2,202.7 L732.7,199.2 L724.2,197.8 L721.3,198.0 L715.7,197.5 L711.4,194.0 L708.7,192.5 L705.7,194.3 L698.9,190.5 L696.4,186.2 L692.6,184.2 L691.0,186.2 L694.4,191.4 L696.5,195.1 L698.3,197.2 L699.1,195.4 L700.1,199.8 L703.4,201.0 L706.5,200.1 L707.9,197.8 L709.6,194.8 L710.3,198.6 L715.5,202.7 L718.5,206.0 L717.0,211.9 L715.4,216.4 L709.8,222.4 L704.5,223.9 L699.4,228.4 L696.4,231.8 L688.9,235.1 L685.6,235.7 L683.7,228.4 L682.9,222.4 L679.5,216.4 L674.6,208.9 L671.5,201.6 L668.0,195.7 L664.5,189.9 L663.6,185.7 L661.7,180.6 L662.8,176.4 L663.6,173.0 L663.5,168.9 L663.3,167.0 L663.5,165.4 L660.7,165.9 L657.4,167.3 L652.6,166.2 L649.3,165.7 L646.2,164.8 L643.8,160.8 L642.7,158.2 L643.4,155.8 L642.6,155.3 L640.1,154.5 L636.0,155.3 L636.9,158.7 L638.7,160.8 L638.3,162.4 L637.2,163.5 L637.2,166.5 L635.9,165.4 L634.5,165.7 L633.5,163.2 L634.2,161.4 L632.0,160.0 L630.9,157.9 L629.1,155.5 L629.1,152.9 L628.1,151.4 L625.9,149.9 L622.6,147.8 L620.1,146.0 L618.1,143.3 L617.5,144.5 L616.9,142.5 L614.5,143.0 L614.4,145.3 L616.9,147.6 L618.4,150.4 L622.3,151.9 L624.2,154.0 L626.3,155.5 L627.4,157.4 L624.7,155.5 L623.6,157.1 L624.8,159.5 L623.0,162.4 L621.9,161.6 L622.8,159.5 L621.2,156.3 L618.9,155.3 L615.8,152.9 L612.5,150.6 L610.6,147.8 L607.8,145.5 L605.1,147.1 L602.3,148.8 L601.1,148.3 L599.3,147.8 L597.4,148.3 L596.6,150.4 L594.9,153.2 L592.3,155.0 L589.9,158.2 L590.9,160.0 L589.1,163.2 L586.0,165.7 L581.6,165.7 L579.5,167.3 L579.1,167.6Z" stroke-width="1.5"/><path d="M307.9,94.3 L311.2,96.6 L315.4,98.9 L306.0,101.7 L301.1,101.2 L295.2,100.8Z" stroke-width="1.5"/><path d="M558.8,103.7 L553.0,102.6 L551.1,100.8 L554.1,98.4 L561.3,98.9 L565.5,98.2 L568.3,100.0 L565.7,102.3 L560.5,103.5Z" stroke-width="2.3"/><path d="M579.8,131.7 L584.0,130.5 L587.7,130.3 L591.1,130.1 L593.1,129.4 L592.0,128.4 L593.5,127.3 L593.6,125.3 L590.9,123.9 L589.4,121.7 L586.9,118.9 L585.1,118.4 L585.9,117.4 L587.3,115.3 L584.3,114.9 L585.3,113.0 L581.8,113.0 L580.3,115.3 L579.5,117.4 L580.4,119.5 L581.5,121.0 L584.2,121.5 L585.0,123.9 L582.1,124.4 L582.1,125.5 L580.9,128.0 L583.1,128.2 L584.9,128.7 L582.7,129.1 L579.8,131.7Z" stroke-width="1.5"/><path d="M572.3,128.4 L578.7,127.1 L579.4,124.4 L579.2,122.8 L579.5,120.2 L577.4,120.0 L574.8,121.5 L572.1,123.9 L572.7,125.9 L571.3,127.1Z" stroke-width="1.5"/><path d="M615.7,161.6 L621.9,161.4 L621.5,164.8 L621.1,165.7 L616.8,164.6 L615.5,163.0Z" stroke-width="1.5"/><path d="M638.7,169.5 L639.9,168.9 L644.2,169.5 L644.1,170.3 L641.0,170.6 L638.5,169.7Z" stroke-width="1.5"/><path d="M766.6,244.3 L769.3,248.3 L770.7,254.5 L768.1,256.0 L766.4,252.9 L766.2,248.3Z" stroke-width="1.5"/><path d="M827.9,213.1 L829.8,214.0 L829.2,217.6 L827.5,218.8 L825.1,216.4 L825.9,213.7Z" stroke-width="1.5"/><path d="M848.8,122.1 L853.8,126.2 L856.4,128.4 L860.8,134.3 L866.7,141.6 L863.1,140.8 L860.2,136.7 L854.8,129.6 L850.1,125.0Z" stroke-width="1.5"/><path d="M679.0,91.9 L670.3,90.4 L670.2,88.4 L671.5,86.4 L674.0,85.2 L678.5,84.0 L685.6,83.5 L688.1,84.4 L681.8,85.8 L675.6,87.7 L675.1,89.7 L680.2,91.4Z" stroke-width="1.5"/><path d="M728.1,82.2 L719.2,81.0 L716.6,79.7 L719.5,79.5 L728.9,80.5 L733.6,81.6Z" stroke-width="1.5"/><path d="M788.3,86.0 L789.9,85.2 L791.4,84.4 L800.0,85.2 L797.0,86.0 L795.8,86.8Z" stroke-width="1.5"/><path d="M315.9,91.2 L319.9,90.4 L319.6,90.9 L316.3,91.3Z" stroke-width="1.5"/><path d="M863.9,91.3 L864.1,90.4 L865.9,91.2Z" stroke-width="1.5"/><path d="M800.6,257.2 L805.5,258.5 L807.8,262.2 L810.8,266.8 L814.6,269.9 L819.1,273.0 L821.3,277.7 L824.5,283.8 L823.7,292.8 L821.1,291.6 L816.6,286.9 L812.8,280.8 L809.6,274.6 L806.9,268.4 L803.5,263.7 L800.6,259.1Z" stroke-width="2.6"/><path d="M824.3,293.1 L829.6,293.7 L834.9,295.9 L838.7,295.9 L842.2,298.4 L842.0,301.4 L834.6,300.2 L828.1,298.7 L824.7,297.1 L822.4,295.6Z" stroke-width="2.6"/><path d="M847.7,252.9 L851.6,256.0 L853.4,259.1 L850.4,261.6 L851.0,268.4 L853.3,271.5 L850.7,274.6 L847.7,280.8 L846.5,285.4 L843.3,286.9 L837.7,284.8 L833.7,283.8 L833.4,279.2 L831.2,274.6 L831.2,269.9 L832.7,268.4 L835.6,269.3 L839.9,265.9 L842.0,260.6 L844.8,259.1 L846.1,256.0Z" stroke-width="2.6"/><path d="M866.7,269.9 L864.3,270.8 L861.0,271.5 L857.7,271.5 L856.2,271.8 L855.1,274.6 L854.4,277.7 L852.8,282.6 L854.0,285.7 L853.9,291.9 L855.9,291.6 L856.1,286.9 L857.4,282.6 L858.0,285.4 L860.0,289.4 L861.3,290.7 L862.0,288.5 L860.8,285.4 L860.0,283.2 L858.6,280.1 L861.0,279.5 L863.0,277.7 L861.0,276.7 L858.8,277.3 L856.8,276.4 L856.2,274.6 L858.8,273.3 L862.1,273.0 L865.0,272.4 L866.5,270.8Z" stroke-width="2.6"/><path d="M879.8,277.0 L883.1,275.8 L886.6,277.3 L887.0,282.3 L891.9,279.5 L894.1,280.1 L901.1,282.0 L905.0,284.5 L909.3,286.6 L912.0,290.7 L916.0,293.1 L916.3,295.0 L915.1,298.1 L916.4,300.2 L918.4,302.4 L921.0,306.0 L919.5,307.3 L915.4,305.4 L913.8,303.9 L911.7,299.3 L908.4,298.7 L905.2,302.4 L900.3,303.0 L896.2,300.5 L896.0,297.1 L895.0,293.1 L890.5,288.5 L886.1,286.9 L884.0,286.6 L881.7,283.2 L879.6,279.2Z" stroke-width="2.6"/><path d="M924.7,287.6 L926.4,288.5 L925.6,291.6 L922.1,293.7 L917.7,293.1 L920.1,291.6 L923.5,290.0Z" stroke-width="2.6"/><path d="M923.2,282.6 L924.9,283.8 L927.8,288.5 L928.3,287.6 L925.8,284.5 L923.4,282.3Z" stroke-width="2.6"/><path d="M935.2,294.7 L937.2,297.1 L941.3,300.2 L942.1,301.1 L939.2,299.3 L935.8,296.2Z" stroke-width="2.6"/><path d="M842.4,299.6 L845.0,300.2 L843.7,301.7 L846.1,300.2 L846.6,302.1 L847.8,299.9 L852.2,300.2 L855.5,299.9 L861.0,300.2 L859.8,301.7 L855.3,302.1 L852.1,301.7 L847.6,302.4 L844.4,302.1Z" stroke-width="2.6"/><path d="M870.2,300.2 L865.3,300.8 L863.4,303.0 L861.5,306.4 L863.8,305.4 L868.5,302.4Z" stroke-width="2.6"/><path d="M851.9,303.9 L855.8,304.5 L854.9,306.4 L851.8,304.8Z" stroke-width="2.6"/><path d="M873.1,267.7 L874.7,271.5 L873.0,273.6 L873.8,277.0 L872.1,273.0 L872.0,269.9Z" stroke-width="2.6"/><path d="M873.1,283.2 L879.2,284.8 L877.4,285.7 L873.4,285.1Z" stroke-width="2.6"/><path d="M868.6,284.2 L871.2,284.8 L870.3,286.3 L868.5,285.7Z" stroke-width="2.6"/><path d="M851.3,217.6 L854.8,217.9 L856.1,222.4 L854.9,225.4 L855.5,229.3 L857.4,231.5 L860.9,231.8 L861.9,235.7 L859.8,234.5 L858.6,232.1 L856.0,232.7 L853.7,231.5 L853.4,229.9 L851.4,226.9 L852.1,224.5 L851.5,220.9Z" stroke-width="2.6"/><path d="M866.0,244.3 L868.4,248.3 L869.3,252.9 L868.6,256.0 L866.7,257.2 L863.6,253.2 L859.1,252.3 L860.0,249.8 L862.1,248.3 L864.8,247.4 L866.0,246.1Z" stroke-width="2.6"/><path d="M862.4,236.0 L865.1,236.6 L866.3,240.6 L865.3,243.7 L862.7,243.7 L861.1,245.2 L859.4,243.7 L858.1,242.2 L857.7,238.2 L859.9,238.8 L861.4,236.3Z" stroke-width="2.6"/><path d="M852.6,239.7 L852.2,243.7 L848.2,248.6 L848.1,247.7 L851.2,243.1Z" stroke-width="2.6"/><path d="M853.2,233.0 L855.9,233.6 L856.4,237.0 L854.8,236.3Z" stroke-width="2.6"/><path d="M943.8,336.0 L948.0,342.6 L947.1,343.7 L944.3,338.7Z" stroke-width="2.6"/><path d="M903.0,307.6 L903.9,317.7 L905.6,319.2 L906.5,325.2 L907.4,333.6 L910.9,335.7 L912.7,343.2 L914.0,349.0 L915.3,351.9 L913.4,359.7 L907.8,369.1 L901.3,375.8 L897.3,380.2 L893.3,385.6 L887.7,387.0 L883.8,389.9 L881.6,387.8 L878.5,389.1 L874.2,387.0 L873.4,384.3 L872.0,380.5 L873.8,378.6 L873.8,376.6 L871.3,379.4 L873.2,375.8 L875.3,371.9 L869.8,376.1 L867.8,378.6 L867.3,374.7 L866.0,370.5 L862.3,369.4 L855.9,369.7 L851.2,371.4 L844.2,375.8 L835.5,377.2 L831.5,378.8 L826.4,377.2 L827.2,374.7 L830.1,370.5 L831.1,363.5 L830.8,358.3 L830.5,353.4 L831.8,349.0 L834.7,341.7 L838.8,338.7 L843.4,337.2 L848.1,335.4 L855.1,329.7 L857.2,325.2 L861.4,322.2 L866.5,317.7 L870.5,320.4 L872.8,319.2 L876.6,313.1 L879.8,309.1 L884.9,311.6 L890.0,311.6 L888.0,316.1 L885.7,320.7 L889.8,325.2 L895.0,328.2 L898.1,323.7 L899.5,316.1 L900.9,311.6 L903.0,307.6Z" stroke-width="2.2"/><path d="M877.9,394.1 L881.6,394.9 L884.9,394.4 L880.3,400.5 L877.5,401.6 L876.2,398.8Z" stroke-width="2.2"/><path d="M944.5,377.2 L946.3,379.7 L945.2,383.7 L946.0,385.6 L950.7,386.2 L947.1,389.6 L944.2,391.2 L936.8,396.4 L936.4,395.7 L939.7,392.3 L938.5,390.2 L942.3,387.0 L943.7,382.9 L944.2,378.8Z" stroke-width="2.2"/><path d="M933.9,393.6 L935.8,395.1 L932.3,398.5 L928.3,402.1 L923.5,403.6 L919.3,407.3 L914.5,409.0 L910.6,408.1 L914.0,405.1 L922.4,401.3 L929.1,397.0 L932.2,394.4Z" stroke-width="2.2"/><path d="M316.5,99.8 L326.8,95.3 L337.4,92.9 L346.6,91.4 L352.3,90.6 L356.5,91.9 L362.1,92.2 L371.3,93.1 L376.2,93.9 L383.2,93.4 L393.7,91.7 L395.7,93.4 L402.3,94.2 L409.6,95.8 L419.5,95.4 L428.7,95.8 L435.9,95.0 L446.1,90.4 L445.6,93.4 L449.3,95.8 L457.7,93.7" stroke-width="2.6"/><path d="M457.7,93.7 L463.5,93.4 L460.8,96.6 L455.4,98.6 L451.7,98.2 L444.6,102.6 L439.0,103.9 L431.5,107.3 L426.2,112.6 L426.9,116.3 L433.8,118.9 L442.4,120.2 L440.1,126.2 L440.9,128.9 L444.1,128.4 L446.6,121.7 L454.3,117.4 L453.9,113.2 L457.4,109.2 L459.2,105.6" stroke-width="2.2"/><path d="M459.2,105.6 L465.3,106.3 L468.6,107.9 L470.0,111.2 L470.4,114.0 L475.6,112.2 L479.3,109.4 L480.3,112.2 L482.0,115.3 L483.7,119.5 L486.4,122.8 L488.0,126.8 L483.9,128.7" stroke-width="2.8"/><path d="M468.0,133.8 L469.2,134.8 L467.0,136.7 L466.6,139.1 L467.5,141.1 L470.0,142.1 L473.0,141.8 L474.8,139.1 L475.4,141.6 L472.6,143.3 L467.1,145.3 L462.1,147.8 L462.1,145.3 L466.0,143.3 L461.8,143.5 L459.3,145.3 L456.0,146.6 L452.0,148.8" stroke-width="2.0"/><path d="M354.3,135.7 L353.2,134.3 L351.7,131.9 L351.4,130.1 L354.2,127.3 L354.1,122.1 L351.8,118.4 L350.9,113.8 L348.4,111.2" stroke-width="6.0"/><path d="M348.4,111.2 L344.0,110.0 L340.2,109.2 L335.2,110.2 L328.9,111.8 L327.4,111.2 L333.7,108.2 L326.1,110.6 L321.1,113.2 L315.2,115.3 L307.9,117.8 L300.1,120.0 L292.4,121.5" stroke-width="3.8"/><path d="M316.5,99.8 L326.8,95.3 L337.4,92.9 L346.6,91.4 L352.3,90.6 L356.5,91.9 L362.1,92.2 L371.3,93.1 L376.2,93.9 L383.2,93.4 L393.7,91.7 L395.7,93.4 L402.3,94.2 L409.6,95.8 L419.5,95.4 L428.7,95.8 L435.9,95.0 L446.1,90.4 L445.6,93.4 L449.3,95.8 L457.7,93.7 L463.5,93.4 L460.8,96.6 L455.4,98.6 L451.7,98.2 L444.6,102.6 L439.0,103.9 L431.5,107.3 L426.2,112.6 L426.9,116.3 L433.8,118.9 L442.4,120.2 L440.1,126.2 L440.9,128.9 L444.1,128.4 L446.6,121.7 L454.3,117.4 L453.9,113.2 L457.4,109.2 L459.2,105.6 L465.3,106.3 L468.6,107.9 L470.0,111.2 L470.4,114.0 L475.6,112.2 L479.3,109.4 L480.3,112.2 L482.0,115.3 L483.7,119.5 L486.4,122.8 L488.0,126.8 L483.9,128.7 L478.3,131.5 L472.7,131.2 L466.3,131.5 L463.4,133.6 L460.4,135.5 L468.0,133.8 L469.2,134.8 L467.0,136.7 L466.6,139.1 L467.5,141.1 L470.0,142.1 L473.0,141.8 L474.8,139.1 L475.4,141.6 L472.6,143.3 L467.1,145.3 L462.1,147.8 L462.1,145.3 L466.0,143.3 L461.8,143.5 L459.3,145.3 L456.0,146.6 L452.0,148.8 L451.0,150.6 L452.4,152.4 L450.1,152.9 L446.7,154.2 L443.4,155.3 L441.9,158.4 L440.3,159.8 L439.4,161.4 L436.9,164.6 L436.4,166.2 L436.3,169.7 L433.8,171.4 L430.2,173.6 L425.5,176.6 L422.9,178.6 L420.8,183.1 L421.2,188.8 L421.5,193.7 L420.0,197.8 L418.2,198.3 L416.9,194.3 L416.3,190.2 L416.6,186.8 L414.7,184.2 L412.2,185.1 L408.7,183.1 L406.0,183.1 L403.6,183.7 L403.6,187.1 L401.0,186.2 L398.0,185.7 L395.1,185.1 L392.0,186.2 L387.0,189.4 L384.9,192.8 L384.6,196.0 L382.3,201.6 L381.0,206.9 L381.3,211.9 L383.0,215.8 L385.4,218.2 L391.6,217.6 L394.5,215.8 L396.1,211.0 L398.3,209.5 L403.5,208.9 L402.8,211.9 L400.6,217.9 L399.3,220.9 L397.8,225.7 L400.2,226.0 L405.7,225.4 L409.3,228.4 L408.0,234.5 L407.0,240.6 L408.3,243.7 L410.8,246.1 L415.0,245.5 L420.3,248.0 L419.3,251.4 L418.1,249.2 L414.4,251.4 L413.4,249.2 L409.0,249.5 L404.8,246.8 L402.3,244.3 L402.4,240.3 L399.0,236.6 L397.1,233.6 L392.9,232.1 L389.3,229.9 L385.0,225.4 L382.9,224.8 L379.5,226.0 L373.7,223.0 L370.0,220.0 L366.6,218.5 L365.3,216.1 L363.0,212.2 L364.5,208.9 L363.2,203.9 L361.2,199.8 L359.1,196.3 L358.3,192.8 L356.6,189.9 L355.3,185.4 L354.7,180.6 L352.6,179.4 L351.4,183.7 L353.6,187.9 L354.1,192.8 L355.0,197.2 L356.3,200.7 L355.5,204.8 L353.9,201.6 L351.9,199.5 L350.9,194.3 L348.3,190.8 L351.0,188.2 L348.6,183.4 L348.5,177.2 L347.2,173.9 L346.5,173.0 L343.5,171.9 L343.3,168.4 L343.2,165.9 L343.4,162.7 L342.4,159.8 L343.0,155.8 L345.4,151.7 L347.4,148.1 L352.1,141.1 L354.3,135.7 L353.2,134.3 L351.7,131.9 L351.4,130.1 L354.2,127.3 L354.1,122.1 L351.8,118.4 L350.9,113.8 L348.4,111.2 L344.0,110.0 L340.2,109.2 L335.2,110.2 L328.9,111.8 L327.4,111.2 L333.7,108.2 L326.1,110.6 L321.1,113.2 L315.2,115.3 L307.9,117.8 L300.1,120.0 L292.4,121.5" stroke-width="2.2"/><path d="M470.7,428.7 L468.4,429.6 L470.2,430.7 L464.7,429.4 L460.2,427.4 L455.3,424.8 L452.1,421.8 L449.1,417.2 L447.1,412.4 L445.5,408.8 L446.2,405.1 L445.0,400.0 L444.5,396.2" stroke-width="3.6"/><path d="M444.5,396.2 L444.0,391.7 L441.5,384.3 L442.9,378.8 L442.6,373.3" stroke-width="2.0"/><path d="M413.3,283.8 L411.9,281.4 L412.1,277.7 L413.6,272.1 L416.1,269.9 L417.4,266.8 L419.7,262.2 L419.2,252.9 L419.3,251.4" stroke-width="2.6"/><path d="M602.8,114.2 L600.5,113.2 L599.7,111.6 L599.1,109.4 L599.0,106.3 L600.6,105.4 L604.7,103.5 L607.8,101.7 L610.8,99.1 L613.5,96.9 L614.9,95.0 L619.9,93.2 L624.4,91.9 L629.9,91.0 L633.6,91.9 L638.5,92.5" stroke-width="3.2"/><path d="M638.5,92.5 L642.0,93.6 L651.2,94.8 L653.5,95.5 L655.9,96.6 L654.5,98.8 L644.2,98.1 L647.8,101.4 L657.3,101.7 L661.1,99.1 L658.7,94.8 L664.4,96.1 L675.1,95.3 L676.4,94.8 L681.9,93.7 L683.7,92.9 L685.8,94.3 L694.5,93.4 L694.0,92.6 L694.4,88.6 L694.1,87.7 L699.7,89.0 L701.9,91.2 L707.5,98.2 L706.6,95.1 L703.8,89.7 L709.0,89.0 L712.1,89.7 L717.5,91.2 L715.9,89.7 L709.4,87.4 L715.2,85.8 L719.1,84.6 L725.3,84.0 L731.3,83.5 L735.8,82.7 L749.4,84.0 L756.7,87.0 L765.2,87.7 L777.8,87.7 L783.3,89.4 L789.6,90.4 L798.6,91.2 L802.1,89.0 L818.5,90.4 L836.2,91.6 L851.4,93.1 L863.1,92.6 L873.1,94.3" stroke-width="2.4"/><path d="M885.8,100.8 L884.7,102.1 L891.9,105.4 L884.4,108.2 L876.9,110.2 L874.3,112.2 L879.4,116.3 L881.0,118.4 L881.3,122.8 L882.0,126.2 L881.9,129.6 L879.0,127.3 L871.4,120.6 L866.7,115.3 L867.4,112.2 L868.0,106.9 L868.3,105.4 L863.9,108.2 L858.3,111.2 L850.5,111.2 L842.3,111.6 L838.9,113.2 L837.5,120.6 L847.8,123.9 L851.8,129.6 L855.5,136.7 L854.9,144.0 L851.3,149.1 L849.0,148.8 L847.5,150.4" stroke-width="2.4"/><path d="M847.5,150.4 L846.7,156.9 L848.4,160.8 L854.0,167.6 L854.1,170.0 L850.7,171.7 L849.1,170.8" stroke-width="2.4"/><path d="M849.1,170.8 L847.9,167.6 L846.2,163.5 L841.7,160.8 L838.6,157.4 L833.7,160.0 L831.6,154.5 L829.1,157.1 L826.3,159.2 L830.6,163.2 L833.9,163.5 L838.3,163.8 L835.2,167.3 L835.4,171.7 L841.1,178.6 L843.6,180.8 L845.2,184.2 L845.0,189.9 L843.8,195.7 L841.8,200.1 L839.5,204.5 L835.1,206.6 L828.8,208.9 L827.8,212.5 L824.7,208.9 L822.3,208.9" stroke-width="1.9"/><path d="M822.3,208.9 L820.0,213.4 L821.1,219.4 L826.0,225.4 L829.4,234.5 L829.7,239.1 L826.3,242.2 L824.4,245.2 L820.9,248.0 L819.9,243.7 L817.5,242.2 L816.1,239.1 L812.5,236.0 L810.9,233.3 L809.1,233.0 L809.0,236.0 L808.1,242.2 L810.8,248.3 L811.8,253.2 L815.5,256.0 L818.6,262.2 L819.7,266.8 L820.4,270.5" stroke-width="2.2"/><path d="M820.4,270.5 L818.8,269.9 L815.5,266.8 L812.5,262.2 L811.5,256.0 L806.7,249.8 L806.7,243.7 L806.2,236.0 L802.7,225.4 L797.0,225.4" stroke-width="2.4"/><path d="M642.6,155.3 L640.1,154.5 L636.0,155.3 L636.9,158.7 L638.7,160.8 L638.3,162.4 L637.2,163.5 L637.2,166.5 L635.9,165.4 L634.5,165.7 L633.5,163.2 L634.2,161.4 L632.0,160.0 L630.9,157.9 L629.1,155.5 L629.1,152.9 L628.1,151.4 L625.9,149.9 L622.6,147.8 L620.1,146.0 L618.1,143.3 L617.5,144.5 L616.9,142.5" stroke-width="2.6"/><path d="M649.3,165.7 L646.2,164.8 L643.8,160.8 L642.7,158.2 L643.4,155.8" stroke-width="2.6"/><path d="M633.4,111.4 L639.0,111.2 L642.8,110.4 L639.4,109.2 L633.5,109.8 L630.2,110.2 L628.3,109.6 L627.1,107.3 L626.4,104.4 L630.9,101.7 L632.0,100.8 L629.9,99.4 L626.7,100.0" stroke-width="2.0"/><path d="M626.7,100.0 L624.2,103.0 L620.1,105.4 L619.9,108.2 L622.8,110.2 L621.9,111.6 L620.2,112.8 L619.8,115.3 L618.3,118.0 L615.5,119.7 L613.6,119.3 L612.7,116.5 L611.5,114.9" stroke-width="2.0"/><path d="M585.3,113.0 L581.8,113.0 L580.3,115.3 L579.5,117.4 L580.4,119.5 L581.5,121.0 L584.2,121.5" stroke-width="2.6"/><path d="M366.0,473.6 L366.5,466.0 L380.0,464.5 L400.0,462.3 L417.0,461.8 L434.0,459.7 L444.0,460.6 L451.0,460.6 L466.0,458.5 L473.0,456.4 L477.0,452.0 L482.0,447.5 L488.0,444.5 L493.0,442.3 L497.5,440.3 L499.5,442.0 L496.5,444.5 L491.5,447.0 L487.5,450.0 L487.0,452.5 L490.0,455.0 L496.0,457.5 L500.0,459.5 L501.0,461.4 L501.7,466.5 L518.6,467.4 L532.2,468.2 L540.7,466.5 L559.3,462.3 L580.0,457.1 L597.0,456.3 L613.9,455.8 L630.8,455.4 L642.7,454.6 L652.9,452.9 L664.7,451.2 L678.3,449.5 L685.1,451.2 L698.6,456.3 L702.0,452.9 L715.6,451.2 L732.5,449.8 L747.0,449.5 L763.9,449.5 L780.8,449.5 L797.8,449.5 L811.4,448.6 L824.9,452.0 L835.1,454.6 L848.6,458.3 L831.7,463.1 L814.7,466.4 L802.9,469.8 L792.0,473.6Z" stroke-width="1.3"/><path d="M466.0,458.5 L473.0,456.4 L477.0,452.0 L482.0,447.5 L488.0,444.5 L493.0,442.3 L497.5,440.3 L499.5,442.0 L496.5,444.5 L491.5,447.0 L487.5,450.0 L487.0,452.5 L490.0,455.0 L496.0,457.5 L500.0,459.5 L501.0,461.4" stroke-width="2.8"/><path d="M476,454 L482,448 L488,445 L494,442.5 L497.5,440.8 L496,444 L491,446.5 L486.5,449.5 L485,452.5 L480,456 Z" fill="#585858" stroke-width="1"/><path d="M473,465.5 L490,467 L501,467.6 L518,467.9 L532,468.6 L545,468.4" stroke-width="1.4"/><path d="M496,469.2 L532,469.6" stroke-width="1.2"/><path d="M749.3,239 L750,250 L750.5,262 L751.3,276" stroke-width="1" stroke="#888" stroke-dasharray="1.2,3.8"/><path d="M426,197 l3.5,2.8000000000000003" stroke-width="2"/><path d="M428.5,200 l3,2.4000000000000004" stroke-width="2"/><path d="M431,203 l2.5,2.0" stroke-width="2"/><path d="M424,201 l2.5,2.0" stroke-width="2"/><path d="M430,206.5 l2,1.6" stroke-width="2"/><path d="M433.5,204 l2,1.6" stroke-width="2"/></g></g><path d="M391.74,473.32 L382.90,473.13 L374.33,472.56 L365.99,471.65 L357.90,470.42 L350.03,468.90 L342.39,467.10 L334.96,465.04 L327.75,462.74 L320.74,460.21 L313.93,457.46 L307.33,454.51 L300.92,451.36 L294.71,448.03 L288.69,444.52 L282.86,440.85 L277.22,437.01 L271.76,433.03 L266.50,428.90 L261.42,424.64 L256.52,420.24 L251.81,415.73 L247.29,411.09 L242.94,406.34 L238.78,401.49 L234.80,396.53 L231.00,391.48 L227.39,386.34 L223.95,381.12 L220.70,375.81 L217.62,370.43 L214.73,364.98 L212.02,359.46 L209.49,353.88 L207.13,348.24 L204.96,342.55 L202.97,336.81 L201.16,331.03 L199.53,325.20 L198.09,319.35 L196.82,313.46 L195.73,307.54 L194.82,301.60 L194.10,295.65 L193.55,289.68 L193.18,283.69 L193.00,277.70 L192.99,271.71 L193.17,265.73 L193.53,259.74 L194.06,253.77 L194.78,247.81 L195.68,241.87 L196.76,235.96 L198.02,230.07 L199.46,224.21 L201.08,218.38 L202.88,212.60 L204.86,206.86 L207.02,201.16 L209.36,195.52 L211.89,189.94 L214.59,184.42 L217.47,178.96 L220.54,173.58 L223.78,168.27 L227.21,163.04 L230.82,157.89 L234.61,152.84 L238.58,147.88 L242.73,143.02 L247.07,138.26 L251.58,133.62 L256.28,129.10 L261.17,124.70 L266.24,120.43 L271.50,116.29 L276.94,112.30 L282.57,108.46 L288.39,104.78 L294.40,101.26 L300.60,97.92 L307.00,94.76 L313.60,91.80 L320.39,89.04 L327.39,86.50 L334.60,84.19 L342.01,82.12 L349.65,80.30 L357.50,78.77 L365.58,77.53 L815.42,77.53 L823.50,78.77 L831.35,80.30 L838.99,82.12 L846.40,84.19 L853.61,86.50 L860.61,89.04 L867.40,91.80 L874.00,94.76 L880.40,97.92 L886.60,101.26 L892.61,104.78 L898.43,108.46 L904.06,112.30 L909.50,116.29 L914.76,120.43 L919.83,124.70 L924.72,129.10 L929.42,133.62 L933.93,138.26 L938.27,143.02 L942.42,147.88 L946.39,152.84 L950.18,157.89 L953.79,163.04 L957.22,168.27 L960.46,173.58 L963.53,178.96 L966.41,184.42 L969.11,189.94 L971.64,195.52 L973.98,201.16 L976.14,206.86 L978.12,212.60 L979.92,218.38 L981.54,224.21 L982.98,230.07 L984.24,235.96 L985.32,241.87 L986.22,247.81 L986.94,253.77 L987.47,259.74 L987.83,265.73 L988.01,271.71 L988.00,277.70 L987.82,283.69 L987.45,289.68 L986.90,295.65 L986.18,301.60 L985.27,307.54 L984.18,313.46 L982.91,319.35 L981.47,325.20 L979.84,331.03 L978.03,336.81 L976.04,342.55 L973.87,348.24 L971.51,353.88 L968.98,359.46 L966.27,364.98 L963.38,370.43 L960.30,375.81 L957.05,381.12 L953.61,386.34 L950.00,391.48 L946.20,396.53 L942.22,401.49 L938.06,406.34 L933.71,411.09 L929.19,415.73 L924.48,420.24 L919.58,424.64 L914.50,428.90 L909.24,433.03 L903.78,437.01 L898.14,440.85 L892.31,444.52 L886.29,448.03 L880.08,451.36 L873.67,454.51 L867.07,457.46 L860.26,460.21 L853.25,462.74 L846.04,465.04 L838.61,467.10 L830.97,468.90 L823.10,470.42 L815.01,471.65 L806.67,472.56 L798.10,473.13 L789.26,473.32Z" fill="none" stroke="#5e5e5e" stroke-width="1.9"/><g><circle cx="317.5" cy="90.6" r="3.6" fill="#1a8a4a"/><circle cx="306.3" cy="97.9" r="3.6" fill="#1a8a4a"/><circle cx="306.6" cy="103.5" r="3.6" fill="#2a9a50"/><circle cx="263.7" cy="127.2" r="3.6" fill="#5cc060"/><circle cx="268.8" cy="126.4" r="3.6" fill="#5cc060"/><circle cx="282.4" cy="124.2" r="3.6" fill="#4cb85c"/><circle cx="287.5" cy="122.8" r="3.6" fill="#3aa858"/><circle cx="294.2" cy="121.1" r="3.6" fill="#3aa858"/><circle cx="343.4" cy="161.9" r="3.6" fill="#d8e888"/><circle cx="344.2" cy="172.0" r="3.6" fill="#3aa858"/><circle cx="215.8" cy="188.2" r="3.6" fill="#d8e888"/><circle cx="220.5" cy="189.9" r="3.6" fill="#fbf6e2"/><circle cx="222.2" cy="195.3" r="3.6" fill="#e8e098"/><circle cx="226.4" cy="196.2" r="3.6" fill="#c8e080"/><circle cx="231.5" cy="197.9" r="3.6" fill="#f4eed0"/><circle cx="236.1" cy="201.3" r="3.6" fill="#faf6e6"/><circle cx="240.0" cy="202.5" r="3.6" fill="#f4e4b0"/><circle cx="245.1" cy="203.8" r="3.6" fill="#d8e488"/><circle cx="246.8" cy="208.0" r="3.6" fill="#d8e488"/><circle cx="251.9" cy="208.0" r="3.6" fill="#2a7a6a"/><circle cx="255.3" cy="214.8" r="3.6" fill="#2a7a6a"/><circle cx="254.1" cy="210.9" r="3.6" fill="#f4ecd0"/><circle cx="222.2" cy="223.0" r="3.6" fill="#f4e8c0"/><circle cx="233.2" cy="256.0" r="3.6" fill="#d8e488"/><circle cx="238.3" cy="261.4" r="3.6" fill="#d8e488"/><circle cx="242.9" cy="268.2" r="3.6" fill="#c8e480"/><circle cx="342.5" cy="186.5" r="3.6" fill="#4cb85c"/><circle cx="342.2" cy="218.2" r="3.6" fill="#a8dc78"/><circle cx="206.1" cy="286.9" r="3.6" fill="#f4e4a8"/><circle cx="212.0" cy="285.2" r="3.6" fill="#f0e4a8"/><circle cx="210.3" cy="288.6" r="3.6" fill="#d8e488"/><circle cx="215.4" cy="308.1" r="3.6" fill="#c8e480"/><circle cx="227.3" cy="308.1" r="3.6" fill="#c8e480"/><circle cx="228.5" cy="310.0" r="3.6" fill="#c8e480"/><circle cx="237.1" cy="305.5" r="3.6" fill="#b8e07c"/><circle cx="243.4" cy="302.1" r="3.6" fill="#b8e07c"/><circle cx="233.7" cy="315.3" r="3.6" fill="#c0e07c"/><circle cx="260.8" cy="305.2" r="3.6" fill="#c8e480"/><circle cx="281.5" cy="300.4" r="3.6" fill="#c8e480"/><circle cx="285.8" cy="304.7" r="3.6" fill="#e0e4a0"/><circle cx="286.6" cy="307.2" r="3.6" fill="#4cb85c"/><circle cx="205.6" cy="315.3" r="3.6" fill="#1a8a4a"/><circle cx="213.4" cy="315.7" r="3.6" fill="#4a6cbf"/><circle cx="217.1" cy="317.4" r="3.6" fill="#9cd874"/><circle cx="221.4" cy="318.2" r="3.6" fill="#5cc060"/><circle cx="223.9" cy="319.4" r="3.6" fill="#f4e4a8"/><circle cx="201.0" cy="324.2" r="3.6" fill="#e0e090"/><circle cx="208.6" cy="322.5" r="3.6" fill="#9cd874"/><circle cx="212.9" cy="323.3" r="3.6" fill="#9cd874"/><circle cx="203.6" cy="330.1" r="3.6" fill="#8cd070"/><circle cx="213.7" cy="331.8" r="3.6" fill="#4cb85c"/><circle cx="213.7" cy="336.0" r="3.6" fill="#4cb85c"/><circle cx="214.6" cy="339.4" r="3.6" fill="#2a9a50"/><circle cx="223.6" cy="332.6" r="3.6" fill="#1a8a4a"/><circle cx="237.5" cy="329.6" r="3.6" fill="#5cc060"/><circle cx="245.9" cy="332.6" r="3.6" fill="#6cc468"/><circle cx="250.2" cy="335.2" r="3.6" fill="#5cc060"/><circle cx="246.8" cy="339.4" r="3.6" fill="#1a8a4a"/><circle cx="251.9" cy="341.1" r="3.6" fill="#3aa858"/><circle cx="258.6" cy="340.8" r="3.6" fill="#c8e480"/><circle cx="254.4" cy="323.3" r="3.6" fill="#f0e4a8"/><circle cx="259.5" cy="325.0" r="3.6" fill="#a8dc78"/><circle cx="264.6" cy="326.7" r="3.6" fill="#9cd874"/><circle cx="269.7" cy="329.2" r="3.6" fill="#8cd070"/><circle cx="266.3" cy="319.9" r="3.6" fill="#f4e4a8"/><circle cx="271.4" cy="318.2" r="3.6" fill="#e8e4a0"/><circle cx="276.4" cy="319.9" r="3.6" fill="#f4e4b0"/><circle cx="282.4" cy="317.4" r="3.6" fill="#f0e0a0"/><circle cx="288.3" cy="319.9" r="3.6" fill="#f4ecd0"/><circle cx="277.3" cy="325.0" r="3.6" fill="#f4e4b0"/><circle cx="284.9" cy="324.2" r="3.6" fill="#f4e4b0"/><circle cx="290.8" cy="327.5" r="3.6" fill="#f4ecd0"/><circle cx="295.9" cy="330.9" r="3.6" fill="#f4e4b0"/><circle cx="278.1" cy="334.3" r="3.6" fill="#f8f0d8"/><circle cx="283.2" cy="330.9" r="3.6" fill="#f4e4b0"/><circle cx="290.0" cy="331.8" r="3.6" fill="#f8f0d8"/><circle cx="282.4" cy="337.7" r="3.6" fill="#f4e4b0"/><circle cx="291.7" cy="341.1" r="3.6" fill="#f0e0a0"/><circle cx="296.8" cy="339.4" r="3.6" fill="#d8e488"/><circle cx="301.9" cy="344.5" r="3.6" fill="#f4e4b0"/><circle cx="263.7" cy="343.6" r="3.6" fill="#8cd070"/><circle cx="269.7" cy="344.5" r="3.6" fill="#4cb85c"/><circle cx="275.6" cy="347.0" r="3.6" fill="#3aa858"/><circle cx="311.7" cy="347.0" r="3.6" fill="#d8e488"/><circle cx="317.1" cy="348.7" r="3.6" fill="#4cb85c"/><circle cx="325.3" cy="349.2" r="3.6" fill="#f4e8c0"/><circle cx="286.6" cy="358.1" r="3.6" fill="#c8e480"/><circle cx="218.0" cy="362.6" r="3.6" fill="#3aa858"/><circle cx="246.4" cy="402.1" r="3.6" fill="#2a8a6a"/><circle cx="353.4" cy="186.0" r="3.6" fill="#f4e4a8"/><circle cx="355.1" cy="192.8" r="3.6" fill="#f4e4a8"/><circle cx="355.1" cy="197.9" r="3.6" fill="#f0e0a0"/><circle cx="355.9" cy="201.3" r="3.6" fill="#3aa858"/><circle cx="351.7" cy="214.8" r="3.6" fill="#f0e0a0"/><circle cx="351.7" cy="242.4" r="3.6" fill="#f4e4a8"/><circle cx="400.0" cy="221.2" r="3.6" fill="#a8dc78"/><circle cx="412.7" cy="233.0" r="3.6" fill="#2a9a50"/><circle cx="398.8" cy="257.3" r="3.6" fill="#2a9a50"/><circle cx="410.2" cy="261.9" r="3.6" fill="#f4ecd0"/><circle cx="387.3" cy="268.6" r="3.6" fill="#e8e4a0"/><circle cx="390.7" cy="272.9" r="3.6" fill="#8cd070"/><circle cx="392.4" cy="277.1" r="3.6" fill="#6cc468"/><circle cx="359.7" cy="356.1" r="3.6" fill="#8cd070"/><circle cx="421.2" cy="354.1" r="3.6" fill="#c8e480"/><circle cx="441.0" cy="362.5" r="3.6" fill="#f0e0a0"/><circle cx="423.7" cy="374.7" r="3.6" fill="#4cb85c"/><circle cx="428.3" cy="374.7" r="3.6" fill="#e0e090"/><circle cx="468.6" cy="140.3" r="3.6" fill="#3a7aa0"/><circle cx="483.1" cy="139.4" r="3.6" fill="#2a8a6a"/><circle cx="461.0" cy="145.0" r="3.6" fill="#5cc060"/><circle cx="474.1" cy="146.2" r="3.6" fill="#5cc060"/><circle cx="445.5" cy="154.3" r="3.6" fill="#6cc468"/><circle cx="447.6" cy="153.2" r="3.6" fill="#8cd070"/><circle cx="439.0" cy="161.4" r="3.6" fill="#1a8a4a"/><circle cx="432.5" cy="170.8" r="3.6" fill="#3aa858"/><circle cx="456.4" cy="177.5" r="3.6" fill="#2a9a50"/><circle cx="436.4" cy="207.7" r="3.6" fill="#1a8a4a"/><circle cx="432.2" cy="209.7" r="3.6" fill="#4a6cbf"/><circle cx="415.5" cy="214.5" r="3.6" fill="#2a9a50"/><circle cx="418.5" cy="213.8" r="3.6" fill="#1a8a4a"/><circle cx="423.0" cy="218.6" r="3.6" fill="#a070c8"/><circle cx="446.3" cy="217.8" r="3.6" fill="#a070c8"/><circle cx="450.0" cy="220.3" r="3.6" fill="#4a6cbf"/><circle cx="451.7" cy="217.2" r="3.6" fill="#2a9a50"/><circle cx="454.0" cy="220.0" r="3.6" fill="#2a7a7a"/><circle cx="457.3" cy="228.5" r="3.6" fill="#6a6cc8"/><circle cx="457.6" cy="232.5" r="3.6" fill="#6a6cc8"/><circle cx="455.9" cy="242.0" r="3.6" fill="#a070c8"/><circle cx="437.5" cy="235.8" r="3.6" fill="#1a8a4a"/><circle cx="441.5" cy="236.3" r="3.6" fill="#1a8a4a"/><circle cx="479.7" cy="420.8" r="3.6" fill="#4cb85c"/><circle cx="483.1" cy="420.8" r="3.6" fill="#4cb85c"/><circle cx="524.6" cy="426.7" r="3.6" fill="#d8e488"/><circle cx="512.2" cy="439.9" r="3.6" fill="#f4ecd0"/><circle cx="542.4" cy="430.9" r="3.6" fill="#f8f4e4"/><circle cx="543.2" cy="436.9" r="3.6" fill="#f8f4e4"/><circle cx="558.6" cy="298.8" r="3.6" fill="#a8dc78"/><circle cx="578.0" cy="323.1" r="3.6" fill="#4cb85c"/><circle cx="527.1" cy="336.6" r="3.6" fill="#a8dc78"/><circle cx="596.6" cy="426.9" r="3.6" fill="#f8f4e4"/><circle cx="604.2" cy="80.9" r="3.6" fill="#d8e488"/><circle cx="608.5" cy="80.1" r="3.6" fill="#f4e4a8"/><circle cx="615.3" cy="80.1" r="3.6" fill="#f0e0a0"/><circle cx="618.6" cy="85.2" r="3.6" fill="#8cd070"/><circle cx="623.7" cy="80.1" r="3.6" fill="#f4ecd0"/><circle cx="626.3" cy="83.5" r="3.6" fill="#e8e4a0"/><circle cx="628.8" cy="80.1" r="3.6" fill="#f0e4a8"/><circle cx="633.9" cy="80.1" r="3.6" fill="#f4e4a8"/><circle cx="611.9" cy="83.5" r="3.6" fill="#f4e4a8"/><circle cx="601.5" cy="80.5" r="3.6" fill="#d8e488"/><circle cx="577.6" cy="91.1" r="3.6" fill="#5cc060"/><circle cx="589.0" cy="108.4" r="3.6" fill="#1a8a4a"/><circle cx="584.7" cy="111.4" r="3.6" fill="#2a7a7a"/><circle cx="578.8" cy="113.1" r="3.6" fill="#2a7a7a"/><circle cx="581.0" cy="118.2" r="3.6" fill="#3a7a88"/><circle cx="583.1" cy="123.3" r="3.6" fill="#4a6ca0"/><circle cx="581.5" cy="115.5" r="3.6" fill="#3a7a88"/><circle cx="605.9" cy="123.3" r="3.6" fill="#2a9a50"/><circle cx="603.4" cy="123.3" r="3.6" fill="#9cd874"/><circle cx="588.1" cy="130.1" r="3.6" fill="#4a6cbf"/><circle cx="586.1" cy="132.6" r="3.6" fill="#a8dc78"/><circle cx="528.0" cy="157.7" r="3.6" fill="#3aa858"/><circle cx="533.9" cy="158.9" r="3.6" fill="#4cb85c"/><circle cx="539.3" cy="163.1" r="3.6" fill="#3aa858"/><circle cx="555.9" cy="174.2" r="3.6" fill="#2a9a50"/><circle cx="592.4" cy="159.7" r="3.6" fill="#2a7a7a"/><circle cx="599.2" cy="156.4" r="3.6" fill="#4a6cbf"/><circle cx="594.9" cy="158.1" r="3.6" fill="#4cb85c"/><circle cx="607.6" cy="150.4" r="3.6" fill="#a070c8"/><circle cx="608.5" cy="156.4" r="3.6" fill="#a070c8"/><circle cx="624.6" cy="147.9" r="3.6" fill="#a8dc78"/><circle cx="620.3" cy="147.0" r="3.6" fill="#f8f4e0"/><circle cx="618.6" cy="163.1" r="3.6" fill="#a070c8"/><circle cx="620.0" cy="167.4" r="3.6" fill="#3a7a98"/><circle cx="639.0" cy="154.7" r="3.6" fill="#4a6cbf"/><circle cx="628.8" cy="156.4" r="3.6" fill="#2a9a50"/><circle cx="630.5" cy="163.1" r="3.6" fill="#4cb85c"/><circle cx="632.2" cy="159.7" r="3.6" fill="#a8dc78"/><circle cx="633.9" cy="164.8" r="3.6" fill="#9cd874"/><circle cx="637.3" cy="158.1" r="3.6" fill="#e8e4a0"/><circle cx="640.7" cy="163.1" r="3.6" fill="#f4ecd0"/><circle cx="644.9" cy="164.0" r="3.6" fill="#f8f4e4"/><circle cx="637.3" cy="167.4" r="3.6" fill="#f0e4a8"/><circle cx="642.4" cy="169.9" r="3.6" fill="#4cb85c"/><circle cx="650.8" cy="166.5" r="3.6" fill="#1a8a4a"/><circle cx="657.8" cy="169.6" r="3.6" fill="#a070c8"/><circle cx="556.3" cy="176.1" r="3.6" fill="#2a9a50"/><circle cx="556.8" cy="183.7" r="3.6" fill="#6cc468"/><circle cx="552.5" cy="188.8" r="3.6" fill="#2a7a7a"/><circle cx="558.5" cy="189.7" r="3.6" fill="#4a6cbf"/><circle cx="561.9" cy="187.1" r="3.6" fill="#2a7a7a"/><circle cx="536.4" cy="221.9" r="3.6" fill="#8cd070"/><circle cx="539.0" cy="226.1" r="3.6" fill="#b8e07c"/><circle cx="540.7" cy="223.6" r="3.6" fill="#8cd070"/><circle cx="537.3" cy="227.8" r="3.6" fill="#8cd070"/><circle cx="554.6" cy="238.8" r="3.6" fill="#1a8a4a"/><circle cx="609.8" cy="262.9" r="3.6" fill="#8a70c8"/><circle cx="606.8" cy="269.2" r="3.6" fill="#2a7a6a"/><circle cx="604.7" cy="273.0" r="3.6" fill="#4a6cbf"/><circle cx="602.7" cy="279.0" r="3.6" fill="#1a8a4a"/><circle cx="691.2" cy="186.3" r="3.6" fill="#f4ecd0"/><circle cx="689.5" cy="185.0" r="3.6" fill="#a8dc78"/><circle cx="708.3" cy="235.9" r="3.6" fill="#3a6ca8"/><circle cx="712.5" cy="285.1" r="3.6" fill="#f4e4a8"/><circle cx="713.4" cy="287.6" r="3.6" fill="#f0e4a8"/><circle cx="708.3" cy="289.3" r="3.6" fill="#e0e090"/><circle cx="706.6" cy="295.3" r="3.6" fill="#f0e4a8"/><circle cx="714.2" cy="296.6" r="3.6" fill="#6cc468"/><circle cx="711.7" cy="284.2" r="3.6" fill="#6cc468"/><circle cx="692.2" cy="302.9" r="3.6" fill="#3aa858"/><circle cx="694.7" cy="304.6" r="3.6" fill="#4cb85c"/><circle cx="702.4" cy="303.7" r="3.6" fill="#c8e480"/><circle cx="693.9" cy="309.7" r="3.6" fill="#f4ecd0"/><circle cx="688.8" cy="313.1" r="3.6" fill="#2a7a8a"/><circle cx="715.1" cy="306.3" r="3.6" fill="#f0e0a0"/><circle cx="749.8" cy="296.4" r="3.6" fill="#c8e480"/><circle cx="793.0" cy="235.1" r="3.6" fill="#8a70c8"/><circle cx="797.0" cy="252.4" r="3.6" fill="#5a6cc8"/><circle cx="802.4" cy="311.0" r="3.6" fill="#c8e480"/><circle cx="817.6" cy="265.6" r="3.6" fill="#2a9a50"/><circle cx="819.3" cy="306.3" r="3.6" fill="#2a9a50"/><circle cx="708.8" cy="322.9" r="3.6" fill="#f4e4a8"/><circle cx="719.7" cy="324.1" r="3.6" fill="#c8e480"/><circle cx="682.9" cy="326.3" r="3.6" fill="#8cd070"/><circle cx="677.0" cy="342.2" r="3.6" fill="#9cd874"/><circle cx="709.5" cy="338.8" r="3.6" fill="#5a6cc8"/><circle cx="714.9" cy="335.8" r="3.6" fill="#8cd070"/><circle cx="727.3" cy="334.6" r="3.6" fill="#1a8a4a"/><circle cx="746.4" cy="385.9" r="3.6" fill="#c8e480"/><circle cx="745.9" cy="388.3" r="3.6" fill="#f4e4a8"/><circle cx="662.9" cy="408.6" r="3.6" fill="#d8e488"/><circle cx="688.3" cy="407.5" r="3.6" fill="#d8e488"/><circle cx="690.8" cy="407.8" r="3.6" fill="#d8e488"/><circle cx="722.7" cy="415.1" r="3.6" fill="#a8dc78"/><circle cx="724.4" cy="424.1" r="3.6" fill="#f4e4a8"/><circle cx="880.8" cy="129.5" r="3.6" fill="#8cd070"/><circle cx="880.0" cy="132.0" r="3.6" fill="#e8e4a0"/><circle cx="881.7" cy="135.4" r="3.6" fill="#8cd070"/><circle cx="879.2" cy="139.7" r="3.6" fill="#e0e090"/><circle cx="873.2" cy="144.7" r="3.6" fill="#4a6cbf"/><circle cx="875.8" cy="148.1" r="3.6" fill="#f0e0a0"/><circle cx="863.0" cy="142.2" r="3.6" fill="#3a9a68"/><circle cx="865.6" cy="145.6" r="3.6" fill="#4cb85c"/><circle cx="866.4" cy="152.4" r="3.6" fill="#6cc468"/><circle cx="869.0" cy="160.8" r="3.6" fill="#1a8a4a"/><circle cx="874.9" cy="160.8" r="3.6" fill="#6cc468"/><circle cx="860.5" cy="165.9" r="3.6" fill="#4cb85c"/><circle cx="855.4" cy="172.7" r="3.6" fill="#3a7aa0"/><circle cx="860.5" cy="172.7" r="3.6" fill="#8cd070"/><circle cx="864.7" cy="170.2" r="3.6" fill="#f4e4a8"/><circle cx="870.7" cy="171.0" r="3.6" fill="#1a8a4a"/><circle cx="874.9" cy="169.3" r="3.6" fill="#2a9a50"/><circle cx="878.3" cy="175.3" r="3.6" fill="#6cc468"/><circle cx="855.4" cy="177.8" r="3.6" fill="#5cc060"/><circle cx="859.7" cy="179.5" r="3.6" fill="#4cb85c"/><circle cx="863.9" cy="179.5" r="3.6" fill="#c8e480"/><circle cx="861.4" cy="184.6" r="3.6" fill="#5cc060"/><circle cx="861.4" cy="189.7" r="3.6" fill="#4cb85c"/><circle cx="852.0" cy="195.6" r="3.6" fill="#4cb85c"/><circle cx="858.0" cy="193.9" r="3.6" fill="#1a8a4a"/><circle cx="854.6" cy="199.0" r="3.6" fill="#2a9a50"/><circle cx="868.1" cy="195.6" r="3.6" fill="#1a8a4a"/><circle cx="853.7" cy="201.7" r="3.6" fill="#2a9a50"/><circle cx="845.6" cy="163.9" r="3.6" fill="#1a8a4a"/><circle cx="909.7" cy="125.3" r="3.6" fill="#5cc060"/><circle cx="914.7" cy="126.1" r="3.6" fill="#6cc468"/><circle cx="921.5" cy="127.8" r="3.6" fill="#6cc468"/><circle cx="889.3" cy="190.5" r="3.6" fill="#6cc468"/><circle cx="891.0" cy="193.9" r="3.6" fill="#e0e090"/><circle cx="891.0" cy="199.8" r="3.6" fill="#6cc468"/><circle cx="918.1" cy="200.5" r="3.6" fill="#f0e0a0"/><circle cx="902.0" cy="209.2" r="3.6" fill="#d8e488"/><circle cx="902.0" cy="211.5" r="3.6" fill="#f0e4a8"/><circle cx="904.6" cy="216.1" r="3.6" fill="#a8dc78"/><circle cx="906.6" cy="221.2" r="3.6" fill="#8cd070"/><circle cx="907.6" cy="227.1" r="3.6" fill="#8cd070"/><circle cx="906.3" cy="233.1" r="3.6" fill="#1a8a4a"/><circle cx="950.0" cy="215.3" r="3.6" fill="#c8e480"/><circle cx="945.3" cy="238.1" r="3.6" fill="#f0e0a0"/><circle cx="952.0" cy="238.1" r="3.6" fill="#f4ecd0"/><circle cx="956.8" cy="239.8" r="3.6" fill="#f8f4e4"/><circle cx="886.4" cy="250.8" r="3.6" fill="#4a6cbf"/><circle cx="925.3" cy="247.8" r="3.6" fill="#6cc468"/><circle cx="938.8" cy="252.9" r="3.6" fill="#4a6cbf"/><circle cx="967.3" cy="252.2" r="3.6" fill="#8cd070"/><circle cx="972.9" cy="268.1" r="3.6" fill="#4cb85c"/><circle cx="958.8" cy="275.9" r="3.6" fill="#6cc468"/><circle cx="932.2" cy="270.8" r="3.6" fill="#f4e4a8"/><circle cx="980.0" cy="295.8" r="3.6" fill="#f0e0a0"/><circle cx="866.9" cy="301.5" r="3.6" fill="#4a6cbf"/><circle cx="860.2" cy="312.0" r="3.6" fill="#f4ecd0"/><circle cx="903.7" cy="304.9" r="3.6" fill="#1a8a4a"/><circle cx="907.1" cy="304.4" r="3.6" fill="#4cb85c"/><circle cx="907.1" cy="319.7" r="3.6" fill="#a8dc78"/><circle cx="916.4" cy="324.7" r="3.6" fill="#e8e4a0"/><circle cx="913.9" cy="326.4" r="3.6" fill="#f0e4a8"/><circle cx="907.1" cy="333.2" r="3.6" fill="#2a7a7a"/><circle cx="913.1" cy="338.3" r="3.6" fill="#f0e4a8"/><circle cx="914.7" cy="345.9" r="3.6" fill="#e8e4a0"/><circle cx="913.1" cy="358.6" r="3.6" fill="#4cb85c"/><circle cx="920.7" cy="368.8" r="3.6" fill="#2a9a50"/><circle cx="942.4" cy="362.0" r="3.6" fill="#4cb85c"/><circle cx="945.6" cy="339.2" r="3.6" fill="#a070c8"/><circle cx="954.6" cy="306.9" r="3.6" fill="#2a9a50"/><circle cx="955.4" cy="316.3" r="3.6" fill="#4cb85c"/><circle cx="956.3" cy="321.4" r="3.6" fill="#4cb85c"/><circle cx="953.7" cy="322.2" r="3.6" fill="#4a6cbf"/><circle cx="955.4" cy="325.6" r="3.6" fill="#2a7a7a"/><circle cx="956.3" cy="330.7" r="3.6" fill="#3aa858"/><circle cx="956.3" cy="335.8" r="3.6" fill="#1a8a4a"/><circle cx="977.5" cy="312.9" r="3.6" fill="#2a9a50"/><circle cx="974.1" cy="328.1" r="3.6" fill="#b8e07c"/><circle cx="977.5" cy="329.0" r="3.6" fill="#a8dc78"/><circle cx="980.5" cy="296.8" r="3.6" fill="#f0e4a8"/><circle cx="944.4" cy="377.3" r="3.6" fill="#f4e4a8"/><circle cx="947.0" cy="379.8" r="3.6" fill="#f4ecd0"/><circle cx="942.7" cy="382.4" r="3.6" fill="#b8e07c"/><circle cx="947.0" cy="384.9" r="3.6" fill="#f4e4a8"/><circle cx="938.5" cy="388.3" r="3.6" fill="#c8e480"/><circle cx="939.3" cy="389.4" r="3.6" fill="#d8e488"/><circle cx="947.0" cy="379.2" r="3.6" fill="#f4ecd0"/><circle cx="948.6" cy="385.2" r="3.6" fill="#f4ecd0"/><circle cx="831.7" cy="361.2" r="3.6" fill="#f4ecd0"/><circle cx="831.7" cy="369.7" r="3.6" fill="#f8f4e4"/><circle cx="866.4" cy="371.4" r="3.6" fill="#f4e4a8"/><circle cx="866.4" cy="374.7" r="3.6" fill="#f4ecd0"/><circle cx="869.8" cy="380.7" r="3.6" fill="#4a6cbf"/><circle cx="878.3" cy="389.2" r="3.6" fill="#2a9a50"/><circle cx="877.5" cy="391.1" r="3.6" fill="#2a8a6a"/><circle cx="911.9" cy="409.7" r="3.6" fill="#2a8a6a"/><circle cx="906.6" cy="412.3" r="3.6" fill="#d8e488"/><circle cx="899.5" cy="418.7" r="3.6" fill="#2a9a50"/><circle cx="901.2" cy="423.3" r="3.6" fill="#4cb85c"/><circle cx="877.5" cy="427.5" r="3.6" fill="#8cd070"/><circle cx="926.1" cy="416.2" r="3.6" fill="#6cc468"/><circle cx="931.2" cy="411.4" r="3.6" fill="#f4ecd0"/><circle cx="871.2" cy="157.5" r="3.6" fill="#3aa858"/><circle cx="867.1" cy="165.7" r="3.6" fill="#2a9a50"/><circle cx="872.5" cy="167.0" r="3.6" fill="#1a8a4a"/><circle cx="857.6" cy="176.5" r="3.6" fill="#3aa858"/><circle cx="864.4" cy="173.8" r="3.6" fill="#1a8a4a"/><circle cx="857.6" cy="184.6" r="3.6" fill="#5cc060"/><circle cx="864.4" cy="183.3" r="3.6" fill="#3aa858"/><circle cx="853.6" cy="190.0" r="3.6" fill="#3aa858"/><circle cx="857.6" cy="196.8" r="3.6" fill="#1a8a4a"/><circle cx="860.3" cy="191.4" r="3.6" fill="#6cc468"/><circle cx="851.5" cy="198.8" r="3.6" fill="#4cb85c"/><circle cx="880.7" cy="130.4" r="3.6" fill="#d8e488"/><circle cx="880.7" cy="135.8" r="3.6" fill="#8cd070"/><circle cx="863.7" cy="179.2" r="3.6" fill="#c8e480"/><circle cx="860.3" cy="181.9" r="3.6" fill="#5cc060"/><circle cx="862.4" cy="189.4" r="3.6" fill="#5cc060"/><circle cx="856.3" cy="177.8" r="3.6" fill="#4cb85c"/><circle cx="272.8" cy="318.2" r="3.6" fill="#e8e4a0"/><circle cx="269.9" cy="321.8" r="3.6" fill="#f4e4b0"/><circle cx="276.4" cy="323.2" r="3.6" fill="#f0e0a0"/><circle cx="281.4" cy="326.1" r="3.6" fill="#f4e4b0"/><circle cx="287.2" cy="327.5" r="3.6" fill="#f4ecd0"/><circle cx="290.1" cy="331.1" r="3.6" fill="#f8f0d8"/><circle cx="295.8" cy="331.1" r="3.6" fill="#f4e4b0"/><circle cx="285.7" cy="333.3" r="3.6" fill="#f4e4b0"/><circle cx="280.0" cy="334.7" r="3.6" fill="#f8f0d8"/><circle cx="290.1" cy="336.9" r="3.6" fill="#f4e4b0"/><circle cx="292.9" cy="340.5" r="3.6" fill="#f0e0a0"/><circle cx="298.7" cy="339.1" r="3.6" fill="#d8e488"/><circle cx="303.0" cy="344.1" r="3.6" fill="#f4e4b0"/><circle cx="295.8" cy="343.4" r="3.6" fill="#f4ecd0"/><circle cx="281.4" cy="299.4" r="3.6" fill="#c8e480"/><circle cx="283.5" cy="301.5" r="3.6" fill="#f4ecd0"/><circle cx="285.7" cy="303.0" r="3.6" fill="#e0e090"/><circle cx="287.2" cy="306.6" r="3.6" fill="#4cb85c"/><circle cx="212.3" cy="285.8" r="3.6" fill="#f4e4a8"/><circle cx="205.8" cy="286.5" r="3.6" fill="#f0e0a0"/><circle cx="205.8" cy="290.1" r="3.6" fill="#d8e488"/><circle cx="214.4" cy="337.6" r="3.6" fill="#3aa858"/><circle cx="213.7" cy="333.3" r="3.6" fill="#4cb85c"/><circle cx="287.2" cy="358.5" r="3.6" fill="#e0e090"/><circle cx="289.3" cy="358.5" r="3.6" fill="#f4e4a8"/><circle cx="314.5" cy="350.6" r="3.6" fill="#6cc468"/><circle cx="317.4" cy="348.4" r="3.6" fill="#4cb85c"/><circle cx="351.1" cy="184.2" r="3.6" fill="#f4e4a8"/><circle cx="355.2" cy="187.3" r="3.6" fill="#d8e488"/><circle cx="353.1" cy="190.3" r="3.6" fill="#f4e4a8"/><circle cx="355.2" cy="195.4" r="3.6" fill="#f0e0a0"/><circle cx="355.2" cy="197.4" r="3.6" fill="#f0e0a0"/><circle cx="356.2" cy="201.5" r="3.6" fill="#3aa858"/><circle cx="351.1" cy="214.7" r="3.6" fill="#f0e0a0"/><circle cx="350.1" cy="217.8" r="3.6" fill="#4cb85c"/></g></svg>
<svg style="position:absolute;left:0;top:0" width="1181" height="590"><defs><linearGradient id="cbg" x1="0" x2="1" y1="0" y2="0"><stop offset="0.0000" stop-color="#fbf9ee"/><stop offset="0.1086" stop-color="#f6efcf"/><stop offset="0.2173" stop-color="#f4e09c"/><stop offset="0.3259" stop-color="#d2e58a"/><stop offset="0.4346" stop-color="#6dc56e"/><stop offset="0.5541" stop-color="#0e8c45"/><stop offset="0.6084" stop-color="#3f7c80"/><stop offset="0.6519" stop-color="#4a6cc0"/><stop offset="0.7171" stop-color="#8f70c0"/><stop offset="0.7714" stop-color="#ba76c0"/><stop offset="0.8692" stop-color="#e35aac"/><stop offset="0.8866" stop-color="#f04a9e"/><stop offset="0.9452" stop-color="#f23a70"/><stop offset="1.0000" stop-color="#ee1e2e"/></linearGradient></defs><rect x="382.6" y="505" width="737.3" height="35.6" fill="url(#cbg)"/><line x1="542.8" y1="505" x2="542.8" y2="512.1" stroke="#fff" stroke-width="1"/><line x1="542.8" y1="533.5" x2="542.8" y2="540.6" stroke="#fff" stroke-width="1"/><line x1="703.0" y1="505" x2="703.0" y2="512.1" stroke="#fff" stroke-width="1"/><line x1="703.0" y1="533.5" x2="703.0" y2="540.6" stroke="#fff" stroke-width="1"/><line x1="863.2" y1="505" x2="863.2" y2="512.1" stroke="#fff" stroke-width="1"/><line x1="863.2" y1="533.5" x2="863.2" y2="540.6" stroke="#fff" stroke-width="1"/><line x1="1023.4" y1="505" x2="1023.4" y2="512.1" stroke="#fff" stroke-width="1"/><line x1="1023.4" y1="533.5" x2="1023.4" y2="540.6" stroke="#fff" stroke-width="1"/></svg><div class="t" style="left:0;width:1181px;text-align:center;top:1px;font-size:50px;">Native vascular plants</div><div class="t" style="left:60.5px;top:522.4px;font-size:42px;transform:scaleY(1.06);transform-origin:0 0;">Species number</div><div class="t" style="left:282.6px;width:200px;text-align:center;top:556.5px;font-size:31.3px;">1</div><div class="t" style="left:442.8px;width:200px;text-align:center;top:556.5px;font-size:31.3px;">10</div><div class="t" style="left:603.0px;width:200px;text-align:center;top:556.5px;font-size:31.3px;">100</div><div class="t" style="left:763.2px;width:200px;text-align:center;top:556.5px;font-size:31.3px;">1000</div><div class="t" style="left:923.4px;width:200px;text-align:center;top:556.5px;font-size:31.3px;">10000</div><div class="t" style="left:1019.9px;width:200px;text-align:center;top:556.5px;font-size:31.3px;">40000</div>
</body></html>
